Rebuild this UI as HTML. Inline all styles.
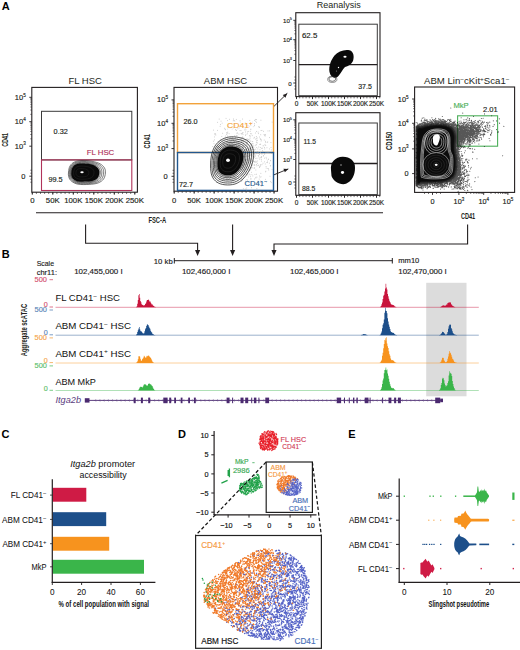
<!DOCTYPE html>
<html><head><meta charset="utf-8"><style>
html,body{margin:0;padding:0;background:#fff;}
svg{display:block;}
text{font-family:"Liberation Sans", sans-serif;}
</style></head><body>
<svg width="520" height="650" viewBox="0 0 520 650">
<rect width="520" height="650" fill="#fff"/>
<rect x="426.2" y="282.8" width="40.3" height="113.5" fill="#dcdcdc"/>
<text x="1.8" y="9.8" font-size="11" text-anchor="start" fill="#000" font-weight="bold" >A</text>
<text x="1.8" y="257.7" font-size="11" text-anchor="start" fill="#000" font-weight="bold" >B</text>
<text x="1.6" y="438" font-size="11" text-anchor="start" fill="#000" font-weight="bold" >C</text>
<text x="178" y="438" font-size="11" text-anchor="start" fill="#000" font-weight="bold" >D</text>
<text x="348.3" y="437.8" font-size="11" text-anchor="start" fill="#000" font-weight="bold" >E</text>
<text x="85.2" y="83.8" font-size="9.5" text-anchor="middle" fill="#231f20" >FL HSC</text>
<rect x="31.8" y="87.4" width="105.6" height="104.8" stroke="#231f20" stroke-width="1.1" fill="none" />
<text x="25.8" y="99.7" font-size="7.5" text-anchor="end" fill="#231f20" stroke="#231f20" stroke-width="0.15" >10<tspan font-size="4.65" dy="-3.15">5</tspan></text>
<line x1="29.3" y1="97.3" x2="31.8" y2="97.3" stroke="#231f20" stroke-width="0.9" />
<text x="25.8" y="124.1" font-size="7.5" text-anchor="end" fill="#231f20" stroke="#231f20" stroke-width="0.15" >10<tspan font-size="4.65" dy="-3.15">4</tspan></text>
<line x1="29.3" y1="121.7" x2="31.8" y2="121.7" stroke="#231f20" stroke-width="0.9" />
<text x="25.8" y="148.6" font-size="7.5" text-anchor="end" fill="#231f20" stroke="#231f20" stroke-width="0.15" >10<tspan font-size="4.65" dy="-3.15">3</tspan></text>
<line x1="29.3" y1="146.2" x2="31.8" y2="146.2" stroke="#231f20" stroke-width="0.9" />
<text x="25.5" y="179.2" font-size="7.5" text-anchor="end" fill="#231f20" stroke="#231f20" stroke-width="0.15" >0</text>
<line x1="29.3" y1="176.2" x2="31.8" y2="176.2" stroke="#231f20" stroke-width="0.9" />
<line x1="30.3" y1="114.35" x2="31.8" y2="114.35" stroke="#231f20" stroke-width="0.6" />
<line x1="30.3" y1="110.06" x2="31.8" y2="110.06" stroke="#231f20" stroke-width="0.6" />
<line x1="30.3" y1="107.01" x2="31.8" y2="107.01" stroke="#231f20" stroke-width="0.6" />
<line x1="30.3" y1="104.65" x2="31.8" y2="104.65" stroke="#231f20" stroke-width="0.6" />
<line x1="30.3" y1="102.71" x2="31.8" y2="102.71" stroke="#231f20" stroke-width="0.6" />
<line x1="30.3" y1="101.08" x2="31.8" y2="101.08" stroke="#231f20" stroke-width="0.6" />
<line x1="30.3" y1="99.66" x2="31.8" y2="99.66" stroke="#231f20" stroke-width="0.6" />
<line x1="30.3" y1="98.42" x2="31.8" y2="98.42" stroke="#231f20" stroke-width="0.6" />
<line x1="30.3" y1="138.82" x2="31.8" y2="138.82" stroke="#231f20" stroke-width="0.6" />
<line x1="30.3" y1="134.51" x2="31.8" y2="134.51" stroke="#231f20" stroke-width="0.6" />
<line x1="30.3" y1="131.45" x2="31.8" y2="131.45" stroke="#231f20" stroke-width="0.6" />
<line x1="30.3" y1="129.08" x2="31.8" y2="129.08" stroke="#231f20" stroke-width="0.6" />
<line x1="30.3" y1="127.14" x2="31.8" y2="127.14" stroke="#231f20" stroke-width="0.6" />
<line x1="30.3" y1="125.5" x2="31.8" y2="125.5" stroke="#231f20" stroke-width="0.6" />
<line x1="30.3" y1="124.07" x2="31.8" y2="124.07" stroke="#231f20" stroke-width="0.6" />
<line x1="30.3" y1="122.82" x2="31.8" y2="122.82" stroke="#231f20" stroke-width="0.6" />
<line x1="30.3" y1="170.2" x2="31.8" y2="170.2" stroke="#231f20" stroke-width="0.6" />
<line x1="30.3" y1="173.2" x2="31.8" y2="173.2" stroke="#231f20" stroke-width="0.6" />
<line x1="30.3" y1="179.2" x2="31.8" y2="179.2" stroke="#231f20" stroke-width="0.6" />
<line x1="30.3" y1="182.2" x2="31.8" y2="182.2" stroke="#231f20" stroke-width="0.6" />
<text x="32.3" y="203.3" font-size="7.8" text-anchor="middle" fill="#231f20" stroke="#231f20" stroke-width="0.15" >0</text>
<text x="52.8" y="203.3" font-size="7.8" text-anchor="middle" fill="#231f20" stroke="#231f20" stroke-width="0.15" >50K</text>
<text x="73.3" y="203.3" font-size="7.8" text-anchor="middle" fill="#231f20" stroke="#231f20" stroke-width="0.15" >100K</text>
<text x="93.8" y="203.3" font-size="7.8" text-anchor="middle" fill="#231f20" stroke="#231f20" stroke-width="0.15" >150K</text>
<text x="114.3" y="203.3" font-size="7.8" text-anchor="middle" fill="#231f20" stroke="#231f20" stroke-width="0.15" >200K</text>
<text x="134.8" y="203.3" font-size="7.8" text-anchor="middle" fill="#231f20" stroke="#231f20" stroke-width="0.15" >250K</text>
<line x1="32.3" y1="192.2" x2="32.3" y2="194" stroke="#231f20" stroke-width="0.6" />
<line x1="36.4" y1="192.2" x2="36.4" y2="194" stroke="#231f20" stroke-width="0.6" />
<line x1="40.5" y1="192.2" x2="40.5" y2="194" stroke="#231f20" stroke-width="0.6" />
<line x1="44.6" y1="192.2" x2="44.6" y2="194" stroke="#231f20" stroke-width="0.6" />
<line x1="48.7" y1="192.2" x2="48.7" y2="194" stroke="#231f20" stroke-width="0.6" />
<line x1="52.8" y1="192.2" x2="52.8" y2="194" stroke="#231f20" stroke-width="0.6" />
<line x1="56.9" y1="192.2" x2="56.9" y2="194" stroke="#231f20" stroke-width="0.6" />
<line x1="61" y1="192.2" x2="61" y2="194" stroke="#231f20" stroke-width="0.6" />
<line x1="65.1" y1="192.2" x2="65.1" y2="194" stroke="#231f20" stroke-width="0.6" />
<line x1="69.2" y1="192.2" x2="69.2" y2="194" stroke="#231f20" stroke-width="0.6" />
<line x1="73.3" y1="192.2" x2="73.3" y2="194" stroke="#231f20" stroke-width="0.6" />
<line x1="77.4" y1="192.2" x2="77.4" y2="194" stroke="#231f20" stroke-width="0.6" />
<line x1="81.5" y1="192.2" x2="81.5" y2="194" stroke="#231f20" stroke-width="0.6" />
<line x1="85.6" y1="192.2" x2="85.6" y2="194" stroke="#231f20" stroke-width="0.6" />
<line x1="89.7" y1="192.2" x2="89.7" y2="194" stroke="#231f20" stroke-width="0.6" />
<line x1="93.8" y1="192.2" x2="93.8" y2="194" stroke="#231f20" stroke-width="0.6" />
<line x1="97.9" y1="192.2" x2="97.9" y2="194" stroke="#231f20" stroke-width="0.6" />
<line x1="102" y1="192.2" x2="102" y2="194" stroke="#231f20" stroke-width="0.6" />
<line x1="106.1" y1="192.2" x2="106.1" y2="194" stroke="#231f20" stroke-width="0.6" />
<line x1="110.2" y1="192.2" x2="110.2" y2="194" stroke="#231f20" stroke-width="0.6" />
<line x1="114.3" y1="192.2" x2="114.3" y2="194" stroke="#231f20" stroke-width="0.6" />
<line x1="118.4" y1="192.2" x2="118.4" y2="194" stroke="#231f20" stroke-width="0.6" />
<line x1="122.5" y1="192.2" x2="122.5" y2="194" stroke="#231f20" stroke-width="0.6" />
<line x1="126.6" y1="192.2" x2="126.6" y2="194" stroke="#231f20" stroke-width="0.6" />
<line x1="130.7" y1="192.2" x2="130.7" y2="194" stroke="#231f20" stroke-width="0.6" />
<line x1="134.8" y1="192.2" x2="134.8" y2="194" stroke="#231f20" stroke-width="0.6" />
<line x1="32.3" y1="192.2" x2="32.3" y2="194.7" stroke="#231f20" stroke-width="0.9" />
<line x1="52.8" y1="192.2" x2="52.8" y2="194.7" stroke="#231f20" stroke-width="0.9" />
<line x1="73.3" y1="192.2" x2="73.3" y2="194.7" stroke="#231f20" stroke-width="0.9" />
<line x1="93.8" y1="192.2" x2="93.8" y2="194.7" stroke="#231f20" stroke-width="0.9" />
<line x1="114.3" y1="192.2" x2="114.3" y2="194.7" stroke="#231f20" stroke-width="0.9" />
<line x1="134.8" y1="192.2" x2="134.8" y2="194.7" stroke="#231f20" stroke-width="0.9" />
<rect x="41.5" y="111.3" width="90.3" height="48.6" stroke="#3a3a3a" stroke-width="1" fill="none" />
<rect x="41.5" y="159.9" width="90.3" height="30.6" stroke="#b0335a" stroke-width="1.1" fill="none" />
<text x="60.7" y="134.4" font-size="7.3" text-anchor="middle" fill="#231f20" stroke="#231f20" stroke-width="0.15" >0.32</text>
<text x="100.5" y="154.7" font-size="7.8" text-anchor="middle" fill="#b0335a" stroke="#b0335a" stroke-width="0.15" >FL HSC</text>
<text x="55.5" y="181.8" font-size="7.3" text-anchor="middle" fill="#231f20" stroke="#231f20" stroke-width="0.15" >99.5</text>
<text x="0" y="0" font-size="9" font-weight="bold" text-anchor="middle" fill="#231f20" textLength="13.5" lengthAdjust="spacingAndGlyphs" transform="translate(7.9,139.9) rotate(-90)">CD41</text>
<text x="0" y="0" font-size="9" font-weight="bold" text-anchor="middle" fill="#231f20" textLength="14.3" lengthAdjust="spacingAndGlyphs" transform="translate(150.2,141.3) rotate(-90)">CD41</text>
<text x="0" y="0" font-size="9" font-weight="bold" text-anchor="middle" fill="#231f20" textLength="18.3" lengthAdjust="spacingAndGlyphs" transform="translate(391.9,140.8) rotate(-90)">CD150</text>
<text x="225.5" y="84.3" font-size="9.5" text-anchor="middle" fill="#231f20" >ABM HSC</text>
<rect x="174" y="87.4" width="103.5" height="103.8" stroke="#231f20" stroke-width="1.1" fill="none" />
<text x="168" y="102.3" font-size="7.5" text-anchor="end" fill="#231f20" stroke="#231f20" stroke-width="0.15" >10<tspan font-size="4.65" dy="-3.15">5</tspan></text>
<line x1="171.5" y1="99.9" x2="174" y2="99.9" stroke="#231f20" stroke-width="0.9" />
<text x="168" y="125.7" font-size="7.5" text-anchor="end" fill="#231f20" stroke="#231f20" stroke-width="0.15" >10<tspan font-size="4.65" dy="-3.15">4</tspan></text>
<line x1="171.5" y1="123.3" x2="174" y2="123.3" stroke="#231f20" stroke-width="0.9" />
<text x="168" y="151" font-size="7.5" text-anchor="end" fill="#231f20" stroke="#231f20" stroke-width="0.15" >10<tspan font-size="4.65" dy="-3.15">3</tspan></text>
<line x1="171.5" y1="148.6" x2="174" y2="148.6" stroke="#231f20" stroke-width="0.9" />
<text x="167.7" y="179.3" font-size="7.5" text-anchor="end" fill="#231f20" stroke="#231f20" stroke-width="0.15" >0</text>
<line x1="171.5" y1="176.3" x2="174" y2="176.3" stroke="#231f20" stroke-width="0.9" />
<line x1="172.5" y1="116.26" x2="174" y2="116.26" stroke="#231f20" stroke-width="0.6" />
<line x1="172.5" y1="112.14" x2="174" y2="112.14" stroke="#231f20" stroke-width="0.6" />
<line x1="172.5" y1="109.21" x2="174" y2="109.21" stroke="#231f20" stroke-width="0.6" />
<line x1="172.5" y1="106.94" x2="174" y2="106.94" stroke="#231f20" stroke-width="0.6" />
<line x1="172.5" y1="105.09" x2="174" y2="105.09" stroke="#231f20" stroke-width="0.6" />
<line x1="172.5" y1="103.52" x2="174" y2="103.52" stroke="#231f20" stroke-width="0.6" />
<line x1="172.5" y1="102.17" x2="174" y2="102.17" stroke="#231f20" stroke-width="0.6" />
<line x1="172.5" y1="100.97" x2="174" y2="100.97" stroke="#231f20" stroke-width="0.6" />
<line x1="172.5" y1="140.98" x2="174" y2="140.98" stroke="#231f20" stroke-width="0.6" />
<line x1="172.5" y1="136.53" x2="174" y2="136.53" stroke="#231f20" stroke-width="0.6" />
<line x1="172.5" y1="133.37" x2="174" y2="133.37" stroke="#231f20" stroke-width="0.6" />
<line x1="172.5" y1="130.92" x2="174" y2="130.92" stroke="#231f20" stroke-width="0.6" />
<line x1="172.5" y1="128.91" x2="174" y2="128.91" stroke="#231f20" stroke-width="0.6" />
<line x1="172.5" y1="127.22" x2="174" y2="127.22" stroke="#231f20" stroke-width="0.6" />
<line x1="172.5" y1="125.75" x2="174" y2="125.75" stroke="#231f20" stroke-width="0.6" />
<line x1="172.5" y1="124.46" x2="174" y2="124.46" stroke="#231f20" stroke-width="0.6" />
<line x1="172.5" y1="170.3" x2="174" y2="170.3" stroke="#231f20" stroke-width="0.6" />
<line x1="172.5" y1="173.3" x2="174" y2="173.3" stroke="#231f20" stroke-width="0.6" />
<line x1="172.5" y1="179.3" x2="174" y2="179.3" stroke="#231f20" stroke-width="0.6" />
<line x1="172.5" y1="182.3" x2="174" y2="182.3" stroke="#231f20" stroke-width="0.6" />
<text x="174.2" y="202.5" font-size="7.7" text-anchor="middle" fill="#231f20" stroke="#231f20" stroke-width="0.15" >0</text>
<text x="194.17" y="202.5" font-size="7.7" text-anchor="middle" fill="#231f20" stroke="#231f20" stroke-width="0.15" >50K</text>
<text x="214.14" y="202.5" font-size="7.7" text-anchor="middle" fill="#231f20" stroke="#231f20" stroke-width="0.15" >100K</text>
<text x="234.11" y="202.5" font-size="7.7" text-anchor="middle" fill="#231f20" stroke="#231f20" stroke-width="0.15" >150K</text>
<text x="254.08" y="202.5" font-size="7.7" text-anchor="middle" fill="#231f20" stroke="#231f20" stroke-width="0.15" >200K</text>
<text x="274.05" y="202.5" font-size="7.7" text-anchor="middle" fill="#231f20" stroke="#231f20" stroke-width="0.15" >250K</text>
<line x1="174.2" y1="191.2" x2="174.2" y2="193" stroke="#231f20" stroke-width="0.6" />
<line x1="178.19" y1="191.2" x2="178.19" y2="193" stroke="#231f20" stroke-width="0.6" />
<line x1="182.19" y1="191.2" x2="182.19" y2="193" stroke="#231f20" stroke-width="0.6" />
<line x1="186.18" y1="191.2" x2="186.18" y2="193" stroke="#231f20" stroke-width="0.6" />
<line x1="190.18" y1="191.2" x2="190.18" y2="193" stroke="#231f20" stroke-width="0.6" />
<line x1="194.17" y1="191.2" x2="194.17" y2="193" stroke="#231f20" stroke-width="0.6" />
<line x1="198.16" y1="191.2" x2="198.16" y2="193" stroke="#231f20" stroke-width="0.6" />
<line x1="202.16" y1="191.2" x2="202.16" y2="193" stroke="#231f20" stroke-width="0.6" />
<line x1="206.15" y1="191.2" x2="206.15" y2="193" stroke="#231f20" stroke-width="0.6" />
<line x1="210.15" y1="191.2" x2="210.15" y2="193" stroke="#231f20" stroke-width="0.6" />
<line x1="214.14" y1="191.2" x2="214.14" y2="193" stroke="#231f20" stroke-width="0.6" />
<line x1="218.13" y1="191.2" x2="218.13" y2="193" stroke="#231f20" stroke-width="0.6" />
<line x1="222.13" y1="191.2" x2="222.13" y2="193" stroke="#231f20" stroke-width="0.6" />
<line x1="226.12" y1="191.2" x2="226.12" y2="193" stroke="#231f20" stroke-width="0.6" />
<line x1="230.12" y1="191.2" x2="230.12" y2="193" stroke="#231f20" stroke-width="0.6" />
<line x1="234.11" y1="191.2" x2="234.11" y2="193" stroke="#231f20" stroke-width="0.6" />
<line x1="238.1" y1="191.2" x2="238.1" y2="193" stroke="#231f20" stroke-width="0.6" />
<line x1="242.1" y1="191.2" x2="242.1" y2="193" stroke="#231f20" stroke-width="0.6" />
<line x1="246.09" y1="191.2" x2="246.09" y2="193" stroke="#231f20" stroke-width="0.6" />
<line x1="250.09" y1="191.2" x2="250.09" y2="193" stroke="#231f20" stroke-width="0.6" />
<line x1="254.08" y1="191.2" x2="254.08" y2="193" stroke="#231f20" stroke-width="0.6" />
<line x1="258.07" y1="191.2" x2="258.07" y2="193" stroke="#231f20" stroke-width="0.6" />
<line x1="262.07" y1="191.2" x2="262.07" y2="193" stroke="#231f20" stroke-width="0.6" />
<line x1="266.06" y1="191.2" x2="266.06" y2="193" stroke="#231f20" stroke-width="0.6" />
<line x1="270.06" y1="191.2" x2="270.06" y2="193" stroke="#231f20" stroke-width="0.6" />
<line x1="274.05" y1="191.2" x2="274.05" y2="193" stroke="#231f20" stroke-width="0.6" />
<line x1="174.2" y1="191.2" x2="174.2" y2="193.7" stroke="#231f20" stroke-width="0.9" />
<line x1="194.17" y1="191.2" x2="194.17" y2="193.7" stroke="#231f20" stroke-width="0.9" />
<line x1="214.14" y1="191.2" x2="214.14" y2="193.7" stroke="#231f20" stroke-width="0.9" />
<line x1="234.11" y1="191.2" x2="234.11" y2="193.7" stroke="#231f20" stroke-width="0.9" />
<line x1="254.08" y1="191.2" x2="254.08" y2="193.7" stroke="#231f20" stroke-width="0.9" />
<line x1="274.05" y1="191.2" x2="274.05" y2="193.7" stroke="#231f20" stroke-width="0.9" />
<text x="338.7" y="8.4" font-size="9" text-anchor="middle" fill="#231f20" >Reanalysis</text>
<rect x="295.8" y="12.7" width="84.2" height="83.9" stroke="#231f20" stroke-width="1.1" fill="none" />
<text x="292" y="22.7" font-size="6.2" text-anchor="end" fill="#231f20" stroke="#231f20" stroke-width="0.15" >10<tspan font-size="3.84" dy="-2.60">5</tspan></text>
<line x1="293.3" y1="20.3" x2="295.8" y2="20.3" stroke="#231f20" stroke-width="0.9" />
<text x="292" y="42.1" font-size="6.2" text-anchor="end" fill="#231f20" stroke="#231f20" stroke-width="0.15" >10<tspan font-size="3.84" dy="-2.60">4</tspan></text>
<line x1="293.3" y1="39.7" x2="295.8" y2="39.7" stroke="#231f20" stroke-width="0.9" />
<text x="292" y="62.9" font-size="6.2" text-anchor="end" fill="#231f20" stroke="#231f20" stroke-width="0.15" >10<tspan font-size="3.84" dy="-2.60">3</tspan></text>
<line x1="293.3" y1="60.5" x2="295.8" y2="60.5" stroke="#231f20" stroke-width="0.9" />
<text x="291.7" y="86" font-size="6.2" text-anchor="end" fill="#231f20" stroke="#231f20" stroke-width="0.15" >0</text>
<line x1="293.3" y1="83" x2="295.8" y2="83" stroke="#231f20" stroke-width="0.9" />
<line x1="294.3" y1="33.86" x2="295.8" y2="33.86" stroke="#231f20" stroke-width="0.6" />
<line x1="294.3" y1="30.44" x2="295.8" y2="30.44" stroke="#231f20" stroke-width="0.6" />
<line x1="294.3" y1="28.02" x2="295.8" y2="28.02" stroke="#231f20" stroke-width="0.6" />
<line x1="294.3" y1="26.14" x2="295.8" y2="26.14" stroke="#231f20" stroke-width="0.6" />
<line x1="294.3" y1="24.6" x2="295.8" y2="24.6" stroke="#231f20" stroke-width="0.6" />
<line x1="294.3" y1="23.31" x2="295.8" y2="23.31" stroke="#231f20" stroke-width="0.6" />
<line x1="294.3" y1="22.18" x2="295.8" y2="22.18" stroke="#231f20" stroke-width="0.6" />
<line x1="294.3" y1="21.19" x2="295.8" y2="21.19" stroke="#231f20" stroke-width="0.6" />
<line x1="294.3" y1="54.24" x2="295.8" y2="54.24" stroke="#231f20" stroke-width="0.6" />
<line x1="294.3" y1="50.58" x2="295.8" y2="50.58" stroke="#231f20" stroke-width="0.6" />
<line x1="294.3" y1="47.98" x2="295.8" y2="47.98" stroke="#231f20" stroke-width="0.6" />
<line x1="294.3" y1="45.96" x2="295.8" y2="45.96" stroke="#231f20" stroke-width="0.6" />
<line x1="294.3" y1="44.31" x2="295.8" y2="44.31" stroke="#231f20" stroke-width="0.6" />
<line x1="294.3" y1="42.92" x2="295.8" y2="42.92" stroke="#231f20" stroke-width="0.6" />
<line x1="294.3" y1="41.72" x2="295.8" y2="41.72" stroke="#231f20" stroke-width="0.6" />
<line x1="294.3" y1="40.65" x2="295.8" y2="40.65" stroke="#231f20" stroke-width="0.6" />
<line x1="294.3" y1="77" x2="295.8" y2="77" stroke="#231f20" stroke-width="0.6" />
<line x1="294.3" y1="80" x2="295.8" y2="80" stroke="#231f20" stroke-width="0.6" />
<line x1="294.3" y1="86" x2="295.8" y2="86" stroke="#231f20" stroke-width="0.6" />
<line x1="294.3" y1="89" x2="295.8" y2="89" stroke="#231f20" stroke-width="0.6" />
<text x="296.5" y="106.4" font-size="6.5" text-anchor="middle" fill="#231f20" stroke="#231f20" stroke-width="0.15" >0</text>
<text x="312.5" y="106.4" font-size="6.5" text-anchor="middle" fill="#231f20" stroke="#231f20" stroke-width="0.15" >50K</text>
<text x="328.5" y="106.4" font-size="6.5" text-anchor="middle" fill="#231f20" stroke="#231f20" stroke-width="0.15" >100K</text>
<text x="344.5" y="106.4" font-size="6.5" text-anchor="middle" fill="#231f20" stroke="#231f20" stroke-width="0.15" >150K</text>
<text x="360.5" y="106.4" font-size="6.5" text-anchor="middle" fill="#231f20" stroke="#231f20" stroke-width="0.15" >200K</text>
<text x="376.5" y="106.4" font-size="6.5" text-anchor="middle" fill="#231f20" stroke="#231f20" stroke-width="0.15" >250K</text>
<line x1="296.5" y1="96.6" x2="296.5" y2="98.4" stroke="#231f20" stroke-width="0.6" />
<line x1="299.7" y1="96.6" x2="299.7" y2="98.4" stroke="#231f20" stroke-width="0.6" />
<line x1="302.9" y1="96.6" x2="302.9" y2="98.4" stroke="#231f20" stroke-width="0.6" />
<line x1="306.1" y1="96.6" x2="306.1" y2="98.4" stroke="#231f20" stroke-width="0.6" />
<line x1="309.3" y1="96.6" x2="309.3" y2="98.4" stroke="#231f20" stroke-width="0.6" />
<line x1="312.5" y1="96.6" x2="312.5" y2="98.4" stroke="#231f20" stroke-width="0.6" />
<line x1="315.7" y1="96.6" x2="315.7" y2="98.4" stroke="#231f20" stroke-width="0.6" />
<line x1="318.9" y1="96.6" x2="318.9" y2="98.4" stroke="#231f20" stroke-width="0.6" />
<line x1="322.1" y1="96.6" x2="322.1" y2="98.4" stroke="#231f20" stroke-width="0.6" />
<line x1="325.3" y1="96.6" x2="325.3" y2="98.4" stroke="#231f20" stroke-width="0.6" />
<line x1="328.5" y1="96.6" x2="328.5" y2="98.4" stroke="#231f20" stroke-width="0.6" />
<line x1="331.7" y1="96.6" x2="331.7" y2="98.4" stroke="#231f20" stroke-width="0.6" />
<line x1="334.9" y1="96.6" x2="334.9" y2="98.4" stroke="#231f20" stroke-width="0.6" />
<line x1="338.1" y1="96.6" x2="338.1" y2="98.4" stroke="#231f20" stroke-width="0.6" />
<line x1="341.3" y1="96.6" x2="341.3" y2="98.4" stroke="#231f20" stroke-width="0.6" />
<line x1="344.5" y1="96.6" x2="344.5" y2="98.4" stroke="#231f20" stroke-width="0.6" />
<line x1="347.7" y1="96.6" x2="347.7" y2="98.4" stroke="#231f20" stroke-width="0.6" />
<line x1="350.9" y1="96.6" x2="350.9" y2="98.4" stroke="#231f20" stroke-width="0.6" />
<line x1="354.1" y1="96.6" x2="354.1" y2="98.4" stroke="#231f20" stroke-width="0.6" />
<line x1="357.3" y1="96.6" x2="357.3" y2="98.4" stroke="#231f20" stroke-width="0.6" />
<line x1="360.5" y1="96.6" x2="360.5" y2="98.4" stroke="#231f20" stroke-width="0.6" />
<line x1="363.7" y1="96.6" x2="363.7" y2="98.4" stroke="#231f20" stroke-width="0.6" />
<line x1="366.9" y1="96.6" x2="366.9" y2="98.4" stroke="#231f20" stroke-width="0.6" />
<line x1="370.1" y1="96.6" x2="370.1" y2="98.4" stroke="#231f20" stroke-width="0.6" />
<line x1="373.3" y1="96.6" x2="373.3" y2="98.4" stroke="#231f20" stroke-width="0.6" />
<line x1="376.5" y1="96.6" x2="376.5" y2="98.4" stroke="#231f20" stroke-width="0.6" />
<line x1="379.7" y1="96.6" x2="379.7" y2="98.4" stroke="#231f20" stroke-width="0.6" />
<line x1="296.5" y1="96.6" x2="296.5" y2="99.1" stroke="#231f20" stroke-width="0.9" />
<line x1="312.5" y1="96.6" x2="312.5" y2="99.1" stroke="#231f20" stroke-width="0.9" />
<line x1="328.5" y1="96.6" x2="328.5" y2="99.1" stroke="#231f20" stroke-width="0.9" />
<line x1="344.5" y1="96.6" x2="344.5" y2="99.1" stroke="#231f20" stroke-width="0.9" />
<line x1="360.5" y1="96.6" x2="360.5" y2="99.1" stroke="#231f20" stroke-width="0.9" />
<line x1="376.5" y1="96.6" x2="376.5" y2="99.1" stroke="#231f20" stroke-width="0.9" />
<rect x="295.8" y="112.7" width="84.2" height="82.6" stroke="#231f20" stroke-width="1.1" fill="none" />
<text x="292" y="122.2" font-size="6.2" text-anchor="end" fill="#231f20" stroke="#231f20" stroke-width="0.15" >10<tspan font-size="3.84" dy="-2.60">5</tspan></text>
<line x1="293.3" y1="119.8" x2="295.8" y2="119.8" stroke="#231f20" stroke-width="0.9" />
<text x="292" y="141.6" font-size="6.2" text-anchor="end" fill="#231f20" stroke="#231f20" stroke-width="0.15" >10<tspan font-size="3.84" dy="-2.60">4</tspan></text>
<line x1="293.3" y1="139.2" x2="295.8" y2="139.2" stroke="#231f20" stroke-width="0.9" />
<text x="292" y="161.9" font-size="6.2" text-anchor="end" fill="#231f20" stroke="#231f20" stroke-width="0.15" >10<tspan font-size="3.84" dy="-2.60">3</tspan></text>
<line x1="293.3" y1="159.5" x2="295.8" y2="159.5" stroke="#231f20" stroke-width="0.9" />
<text x="291.7" y="185" font-size="6.2" text-anchor="end" fill="#231f20" stroke="#231f20" stroke-width="0.15" >0</text>
<line x1="293.3" y1="182" x2="295.8" y2="182" stroke="#231f20" stroke-width="0.9" />
<line x1="294.3" y1="133.36" x2="295.8" y2="133.36" stroke="#231f20" stroke-width="0.6" />
<line x1="294.3" y1="129.94" x2="295.8" y2="129.94" stroke="#231f20" stroke-width="0.6" />
<line x1="294.3" y1="127.52" x2="295.8" y2="127.52" stroke="#231f20" stroke-width="0.6" />
<line x1="294.3" y1="125.64" x2="295.8" y2="125.64" stroke="#231f20" stroke-width="0.6" />
<line x1="294.3" y1="124.1" x2="295.8" y2="124.1" stroke="#231f20" stroke-width="0.6" />
<line x1="294.3" y1="122.81" x2="295.8" y2="122.81" stroke="#231f20" stroke-width="0.6" />
<line x1="294.3" y1="121.68" x2="295.8" y2="121.68" stroke="#231f20" stroke-width="0.6" />
<line x1="294.3" y1="120.69" x2="295.8" y2="120.69" stroke="#231f20" stroke-width="0.6" />
<line x1="294.3" y1="153.39" x2="295.8" y2="153.39" stroke="#231f20" stroke-width="0.6" />
<line x1="294.3" y1="149.81" x2="295.8" y2="149.81" stroke="#231f20" stroke-width="0.6" />
<line x1="294.3" y1="147.28" x2="295.8" y2="147.28" stroke="#231f20" stroke-width="0.6" />
<line x1="294.3" y1="145.31" x2="295.8" y2="145.31" stroke="#231f20" stroke-width="0.6" />
<line x1="294.3" y1="143.7" x2="295.8" y2="143.7" stroke="#231f20" stroke-width="0.6" />
<line x1="294.3" y1="142.34" x2="295.8" y2="142.34" stroke="#231f20" stroke-width="0.6" />
<line x1="294.3" y1="141.17" x2="295.8" y2="141.17" stroke="#231f20" stroke-width="0.6" />
<line x1="294.3" y1="140.13" x2="295.8" y2="140.13" stroke="#231f20" stroke-width="0.6" />
<line x1="294.3" y1="176" x2="295.8" y2="176" stroke="#231f20" stroke-width="0.6" />
<line x1="294.3" y1="179" x2="295.8" y2="179" stroke="#231f20" stroke-width="0.6" />
<line x1="294.3" y1="185" x2="295.8" y2="185" stroke="#231f20" stroke-width="0.6" />
<line x1="294.3" y1="188" x2="295.8" y2="188" stroke="#231f20" stroke-width="0.6" />
<text x="296.5" y="205.1" font-size="6.5" text-anchor="middle" fill="#231f20" stroke="#231f20" stroke-width="0.15" >0</text>
<text x="312.5" y="205.1" font-size="6.5" text-anchor="middle" fill="#231f20" stroke="#231f20" stroke-width="0.15" >50K</text>
<text x="328.5" y="205.1" font-size="6.5" text-anchor="middle" fill="#231f20" stroke="#231f20" stroke-width="0.15" >100K</text>
<text x="344.5" y="205.1" font-size="6.5" text-anchor="middle" fill="#231f20" stroke="#231f20" stroke-width="0.15" >150K</text>
<text x="360.5" y="205.1" font-size="6.5" text-anchor="middle" fill="#231f20" stroke="#231f20" stroke-width="0.15" >200K</text>
<text x="376.5" y="205.1" font-size="6.5" text-anchor="middle" fill="#231f20" stroke="#231f20" stroke-width="0.15" >250K</text>
<line x1="296.5" y1="195.3" x2="296.5" y2="197.1" stroke="#231f20" stroke-width="0.6" />
<line x1="299.7" y1="195.3" x2="299.7" y2="197.1" stroke="#231f20" stroke-width="0.6" />
<line x1="302.9" y1="195.3" x2="302.9" y2="197.1" stroke="#231f20" stroke-width="0.6" />
<line x1="306.1" y1="195.3" x2="306.1" y2="197.1" stroke="#231f20" stroke-width="0.6" />
<line x1="309.3" y1="195.3" x2="309.3" y2="197.1" stroke="#231f20" stroke-width="0.6" />
<line x1="312.5" y1="195.3" x2="312.5" y2="197.1" stroke="#231f20" stroke-width="0.6" />
<line x1="315.7" y1="195.3" x2="315.7" y2="197.1" stroke="#231f20" stroke-width="0.6" />
<line x1="318.9" y1="195.3" x2="318.9" y2="197.1" stroke="#231f20" stroke-width="0.6" />
<line x1="322.1" y1="195.3" x2="322.1" y2="197.1" stroke="#231f20" stroke-width="0.6" />
<line x1="325.3" y1="195.3" x2="325.3" y2="197.1" stroke="#231f20" stroke-width="0.6" />
<line x1="328.5" y1="195.3" x2="328.5" y2="197.1" stroke="#231f20" stroke-width="0.6" />
<line x1="331.7" y1="195.3" x2="331.7" y2="197.1" stroke="#231f20" stroke-width="0.6" />
<line x1="334.9" y1="195.3" x2="334.9" y2="197.1" stroke="#231f20" stroke-width="0.6" />
<line x1="338.1" y1="195.3" x2="338.1" y2="197.1" stroke="#231f20" stroke-width="0.6" />
<line x1="341.3" y1="195.3" x2="341.3" y2="197.1" stroke="#231f20" stroke-width="0.6" />
<line x1="344.5" y1="195.3" x2="344.5" y2="197.1" stroke="#231f20" stroke-width="0.6" />
<line x1="347.7" y1="195.3" x2="347.7" y2="197.1" stroke="#231f20" stroke-width="0.6" />
<line x1="350.9" y1="195.3" x2="350.9" y2="197.1" stroke="#231f20" stroke-width="0.6" />
<line x1="354.1" y1="195.3" x2="354.1" y2="197.1" stroke="#231f20" stroke-width="0.6" />
<line x1="357.3" y1="195.3" x2="357.3" y2="197.1" stroke="#231f20" stroke-width="0.6" />
<line x1="360.5" y1="195.3" x2="360.5" y2="197.1" stroke="#231f20" stroke-width="0.6" />
<line x1="363.7" y1="195.3" x2="363.7" y2="197.1" stroke="#231f20" stroke-width="0.6" />
<line x1="366.9" y1="195.3" x2="366.9" y2="197.1" stroke="#231f20" stroke-width="0.6" />
<line x1="370.1" y1="195.3" x2="370.1" y2="197.1" stroke="#231f20" stroke-width="0.6" />
<line x1="373.3" y1="195.3" x2="373.3" y2="197.1" stroke="#231f20" stroke-width="0.6" />
<line x1="376.5" y1="195.3" x2="376.5" y2="197.1" stroke="#231f20" stroke-width="0.6" />
<line x1="379.7" y1="195.3" x2="379.7" y2="197.1" stroke="#231f20" stroke-width="0.6" />
<line x1="296.5" y1="195.3" x2="296.5" y2="197.8" stroke="#231f20" stroke-width="0.9" />
<line x1="312.5" y1="195.3" x2="312.5" y2="197.8" stroke="#231f20" stroke-width="0.9" />
<line x1="328.5" y1="195.3" x2="328.5" y2="197.8" stroke="#231f20" stroke-width="0.9" />
<line x1="344.5" y1="195.3" x2="344.5" y2="197.8" stroke="#231f20" stroke-width="0.9" />
<line x1="360.5" y1="195.3" x2="360.5" y2="197.8" stroke="#231f20" stroke-width="0.9" />
<line x1="376.5" y1="195.3" x2="376.5" y2="197.8" stroke="#231f20" stroke-width="0.9" />
<text x="424" y="83.8" font-size="9" text-anchor="start" fill="#231f20" textLength="85.5" lengthAdjust="spacingAndGlyphs" >ABM Lin<tspan font-size="6" dy="-3.2">−</tspan><tspan dy="3.2">cKit</tspan><tspan font-size="6" dy="-3.2">+</tspan><tspan dy="3.2">Sca1</tspan><tspan font-size="6" dy="-3.2">−</tspan></text>
<rect x="414.6" y="87" width="100" height="105.4" stroke="#231f20" stroke-width="1.1" fill="none" />
<text x="408.5" y="101.6" font-size="7.3" text-anchor="end" fill="#231f20" stroke="#231f20" stroke-width="0.15" >10<tspan font-size="4.53" dy="-3.07">5</tspan></text>
<line x1="412.1" y1="99" x2="414.6" y2="99" stroke="#231f20" stroke-width="0.9" />
<text x="408.5" y="125.9" font-size="7.3" text-anchor="end" fill="#231f20" stroke="#231f20" stroke-width="0.15" >10<tspan font-size="4.53" dy="-3.07">4</tspan></text>
<line x1="412.1" y1="123.3" x2="414.6" y2="123.3" stroke="#231f20" stroke-width="0.9" />
<text x="408.5" y="151.5" font-size="7.3" text-anchor="end" fill="#231f20" stroke="#231f20" stroke-width="0.15" >10<tspan font-size="4.53" dy="-3.07">3</tspan></text>
<line x1="412.1" y1="148.9" x2="414.6" y2="148.9" stroke="#231f20" stroke-width="0.9" />
<text x="408.5" y="176.2" font-size="7.3" text-anchor="end" fill="#231f20" stroke="#231f20" stroke-width="0.15" >0</text>
<line x1="412.1" y1="173.6" x2="414.6" y2="173.6" stroke="#231f20" stroke-width="0.9" />
<line x1="413.1" y1="115.98" x2="414.6" y2="115.98" stroke="#231f20" stroke-width="0.6" />
<line x1="413.1" y1="111.71" x2="414.6" y2="111.71" stroke="#231f20" stroke-width="0.6" />
<line x1="413.1" y1="108.67" x2="414.6" y2="108.67" stroke="#231f20" stroke-width="0.6" />
<line x1="413.1" y1="106.32" x2="414.6" y2="106.32" stroke="#231f20" stroke-width="0.6" />
<line x1="413.1" y1="104.39" x2="414.6" y2="104.39" stroke="#231f20" stroke-width="0.6" />
<line x1="413.1" y1="102.76" x2="414.6" y2="102.76" stroke="#231f20" stroke-width="0.6" />
<line x1="413.1" y1="101.35" x2="414.6" y2="101.35" stroke="#231f20" stroke-width="0.6" />
<line x1="413.1" y1="100.11" x2="414.6" y2="100.11" stroke="#231f20" stroke-width="0.6" />
<line x1="413.1" y1="141.19" x2="414.6" y2="141.19" stroke="#231f20" stroke-width="0.6" />
<line x1="413.1" y1="136.69" x2="414.6" y2="136.69" stroke="#231f20" stroke-width="0.6" />
<line x1="413.1" y1="133.49" x2="414.6" y2="133.49" stroke="#231f20" stroke-width="0.6" />
<line x1="413.1" y1="131.01" x2="414.6" y2="131.01" stroke="#231f20" stroke-width="0.6" />
<line x1="413.1" y1="128.98" x2="414.6" y2="128.98" stroke="#231f20" stroke-width="0.6" />
<line x1="413.1" y1="127.27" x2="414.6" y2="127.27" stroke="#231f20" stroke-width="0.6" />
<line x1="413.1" y1="125.78" x2="414.6" y2="125.78" stroke="#231f20" stroke-width="0.6" />
<line x1="413.1" y1="124.47" x2="414.6" y2="124.47" stroke="#231f20" stroke-width="0.6" />
<text x="432.5" y="204" font-size="7.3" text-anchor="middle" fill="#231f20" stroke="#231f20" stroke-width="0.15" >0</text>
<line x1="432.5" y1="192.4" x2="432.5" y2="194.9" stroke="#231f20" stroke-width="0.9" />
<text x="458.9" y="204" font-size="7.3" text-anchor="middle" fill="#231f20" stroke="#231f20" stroke-width="0.15" >10<tspan font-size="4.53" dy="-3.07">3</tspan></text>
<line x1="458.9" y1="192.4" x2="458.9" y2="194.9" stroke="#231f20" stroke-width="0.9" />
<text x="483.7" y="204" font-size="7.3" text-anchor="middle" fill="#231f20" stroke="#231f20" stroke-width="0.15" >10<tspan font-size="4.53" dy="-3.07">4</tspan></text>
<line x1="483.7" y1="192.4" x2="483.7" y2="194.9" stroke="#231f20" stroke-width="0.9" />
<text x="507.9" y="204" font-size="7.3" text-anchor="middle" fill="#231f20" stroke="#231f20" stroke-width="0.15" >10<tspan font-size="4.53" dy="-3.07">5</tspan></text>
<line x1="507.9" y1="192.4" x2="507.9" y2="194.9" stroke="#231f20" stroke-width="0.9" />
<line x1="466.37" y1="192.4" x2="466.37" y2="194" stroke="#231f20" stroke-width="0.6" />
<line x1="470.73" y1="192.4" x2="470.73" y2="194" stroke="#231f20" stroke-width="0.6" />
<line x1="473.83" y1="192.4" x2="473.83" y2="194" stroke="#231f20" stroke-width="0.6" />
<line x1="476.23" y1="192.4" x2="476.23" y2="194" stroke="#231f20" stroke-width="0.6" />
<line x1="478.2" y1="192.4" x2="478.2" y2="194" stroke="#231f20" stroke-width="0.6" />
<line x1="479.86" y1="192.4" x2="479.86" y2="194" stroke="#231f20" stroke-width="0.6" />
<line x1="481.3" y1="192.4" x2="481.3" y2="194" stroke="#231f20" stroke-width="0.6" />
<line x1="482.57" y1="192.4" x2="482.57" y2="194" stroke="#231f20" stroke-width="0.6" />
<line x1="490.98" y1="192.4" x2="490.98" y2="194" stroke="#231f20" stroke-width="0.6" />
<line x1="495.25" y1="192.4" x2="495.25" y2="194" stroke="#231f20" stroke-width="0.6" />
<line x1="498.27" y1="192.4" x2="498.27" y2="194" stroke="#231f20" stroke-width="0.6" />
<line x1="500.62" y1="192.4" x2="500.62" y2="194" stroke="#231f20" stroke-width="0.6" />
<line x1="502.53" y1="192.4" x2="502.53" y2="194" stroke="#231f20" stroke-width="0.6" />
<line x1="504.15" y1="192.4" x2="504.15" y2="194" stroke="#231f20" stroke-width="0.6" />
<line x1="505.55" y1="192.4" x2="505.55" y2="194" stroke="#231f20" stroke-width="0.6" />
<line x1="506.79" y1="192.4" x2="506.79" y2="194" stroke="#231f20" stroke-width="0.6" />
<line x1="424.5" y1="192.4" x2="424.5" y2="194" stroke="#231f20" stroke-width="0.6" />
<line x1="428.5" y1="192.4" x2="428.5" y2="194" stroke="#231f20" stroke-width="0.6" />
<line x1="436.5" y1="192.4" x2="436.5" y2="194" stroke="#231f20" stroke-width="0.6" />
<line x1="440.5" y1="192.4" x2="440.5" y2="194" stroke="#231f20" stroke-width="0.6" />
<text x="0" y="0"></text>
<text x="461" y="218.6" font-size="8.8" text-anchor="start" fill="#231f20" font-weight="bold" textLength="14.2" lengthAdjust="spacingAndGlyphs" >CD41</text>
<line x1="36" y1="212.8" x2="383" y2="212.8" stroke="#231f20" stroke-width="1.1" />
<text x="148.4" y="222.7" font-size="8.8" text-anchor="start" fill="#231f20" font-weight="bold" textLength="17.8" lengthAdjust="spacingAndGlyphs" >FSC-A</text>
<path d="M85.6,224.5 V243.3 H197.6 V250" fill="none" stroke="#231f20" stroke-width="1.1"/>
<path d="M195.04,249.92 L200.16,249.92 L197.6,256 Z" fill="#231f20"/>
<line x1="232.6" y1="224.5" x2="232.6" y2="250" stroke="#231f20" stroke-width="1.1" />
<path d="M230.04,249.92 L235.16,249.92 L232.6,256 Z" fill="#231f20"/>
<path d="M467.6,224.5 V244 H274 V250" fill="none" stroke="#231f20" stroke-width="1.1"/>
<path d="M271.44,249.92 L276.56,249.92 L274,256 Z" fill="#231f20"/>
<line x1="273.5" y1="106.8" x2="287.3" y2="93.3" stroke="#231f20" stroke-width="0.9" />
<path d="M287.3,93.3 L285.41,97.81 L282.75,95.09 Z" fill="#231f20"/>
<line x1="273.5" y1="175" x2="288.3" y2="168.9" stroke="#231f20" stroke-width="0.9" />
<path d="M288.3,168.9 L284.86,172.37 L283.42,168.86 Z" fill="#231f20"/>
<rect x="177.5" y="103.7" width="96" height="48.8" stroke="#f2a23a" stroke-width="1.4" fill="none" />
<rect x="177.5" y="152.5" width="96" height="37.9" stroke="#22588f" stroke-width="1.4" fill="none" />
<text x="190.5" y="123.6" font-size="7.3" text-anchor="middle" fill="#231f20" stroke="#231f20" stroke-width="0.15" >26.0</text>
<text x="186" y="186.6" font-size="7.3" text-anchor="middle" fill="#231f20" stroke="#231f20" stroke-width="0.15" >72.7</text>
<rect x="298.8" y="24.2" width="78.5" height="71.5" stroke="#3a3a3a" stroke-width="1" fill="none" />
<line x1="298.8" y1="64.6" x2="377.3" y2="64.6" stroke="#231f20" stroke-width="1.4" />
<text x="309.6" y="38.3" font-size="7.1" text-anchor="middle" fill="#231f20" textLength="15.4" lengthAdjust="spacingAndGlyphs" stroke="#231f20" stroke-width="0.15" >62.5</text>
<text x="365" y="89" font-size="7.1" text-anchor="middle" fill="#231f20" textLength="13.6" lengthAdjust="spacingAndGlyphs" stroke="#231f20" stroke-width="0.15" >37.5</text>
<rect x="298.8" y="123" width="78.5" height="71.6" stroke="#3a3a3a" stroke-width="1" fill="none" />
<line x1="298.8" y1="163.5" x2="377.3" y2="163.5" stroke="#231f20" stroke-width="1.4" />
<text x="309.8" y="143.5" font-size="7.1" text-anchor="middle" fill="#231f20" textLength="12.6" lengthAdjust="spacingAndGlyphs" stroke="#231f20" stroke-width="0.15" >11.5</text>
<text x="308.6" y="190.8" font-size="7.1" text-anchor="middle" fill="#231f20" textLength="13.4" lengthAdjust="spacingAndGlyphs" stroke="#231f20" stroke-width="0.15" >88.5</text>
<rect x="457.6" y="115.8" width="40" height="30.4" stroke="#4caf5a" stroke-width="1.1" fill="none" />
<text x="461" y="108.4" font-size="7.6" text-anchor="middle" fill="#4caf5a" stroke="#4caf5a" stroke-width="0.15" >MkP</text>
<text x="490.3" y="112.4" font-size="7.6" text-anchor="middle" fill="#231f20" stroke="#231f20" stroke-width="0.15" >2.01</text>
<path d="M68.5,172 C68.7,170.17 69,167.67 70,166 C71,164.33 72.5,162.9 74.5,162 C76.5,161.1 79.08,160.72 82,160.6 C84.92,160.48 89,160.77 92,161.3 C95,161.83 97.92,162.68 100,163.8 C102.08,164.92 103.6,166.47 104.5,168 C105.4,169.53 105.55,171.17 105.4,173 C105.25,174.83 104.83,177.33 103.6,179 C102.37,180.67 100.43,182.1 98,183 C95.57,183.9 92.33,184.2 89,184.4 C85.67,184.6 80.92,184.73 78,184.2 C75.08,183.67 73.03,182.4 71.5,181.2 C69.97,180 69.3,178.53 68.8,177 C68.3,175.47 68.3,173.83 68.5,172 Z" stroke="#111" stroke-width="0.55" fill="none"/>
<path d="M69.31,172.06 C69.49,170.35 69.77,168.03 70.7,166.48 C71.63,164.93 73.03,163.59 74.89,162.76 C76.75,161.92 79.15,161.56 81.86,161.45 C84.57,161.35 88.37,161.61 91.16,162.11 C93.95,162.6 96.66,163.39 98.6,164.43 C100.54,165.47 101.95,166.91 102.78,168.34 C103.62,169.76 103.76,171.28 103.62,172.99 C103.48,174.69 103.09,177.02 101.95,178.57 C100.8,180.12 99,181.45 96.74,182.29 C94.48,183.12 91.47,183.4 88.37,183.59 C85.27,183.77 80.85,183.9 78.14,183.4 C75.43,182.91 73.52,181.73 72.09,180.61 C70.67,179.5 70.05,178.13 69.58,176.71 C69.12,175.28 69.12,173.76 69.31,172.06 Z" stroke="#111" stroke-width="0.55" fill="none"/>
<path d="M70.11,172.11 C70.28,170.54 70.54,168.39 71.4,166.95 C72.26,165.52 73.55,164.29 75.27,163.51 C76.99,162.74 79.21,162.41 81.72,162.31 C84.23,162.21 87.74,162.45 90.32,162.91 C92.9,163.37 95.41,164.1 97.2,165.06 C98.99,166.02 100.3,167.35 101.07,168.67 C101.84,169.99 101.97,171.4 101.84,172.97 C101.72,174.55 101.36,176.7 100.3,178.13 C99.24,179.57 97.57,180.8 95.48,181.57 C93.39,182.35 90.61,182.6 87.74,182.78 C84.87,182.95 80.79,183.06 78.28,182.6 C75.77,182.15 74.01,181.06 72.69,180.02 C71.37,178.99 70.8,177.73 70.37,176.41 C69.94,175.09 69.94,173.69 70.11,172.11 Z" stroke="#111" stroke-width="0.55" fill="none"/>
<path d="M70.8,172.16 C70.96,170.69 71.2,168.69 72,167.36 C72.8,166.03 74,164.88 75.6,164.16 C77.2,163.44 79.27,163.13 81.6,163.04 C83.93,162.95 87.2,163.17 89.6,163.6 C92,164.03 94.33,164.71 96,165.6 C97.67,166.49 98.88,167.73 99.6,168.96 C100.32,170.19 100.44,171.49 100.32,172.96 C100.2,174.43 99.87,176.43 98.88,177.76 C97.89,179.09 96.35,180.24 94.4,180.96 C92.45,181.68 89.87,181.92 87.2,182.08 C84.53,182.24 80.73,182.35 78.4,181.92 C76.07,181.49 74.43,180.48 73.2,179.52 C71.97,178.56 71.44,177.39 71.04,176.16 C70.64,174.93 70.64,173.63 70.8,172.16 Z" stroke="#111" stroke-width="0.55" fill="none"/>
<path d="M71.26,172.19 C71.41,170.8 71.64,168.9 72.4,167.63 C73.16,166.37 74.3,165.28 75.82,164.59 C77.34,163.91 79.3,163.62 81.52,163.53 C83.74,163.44 86.84,163.65 89.12,164.06 C91.4,164.47 93.62,165.11 95.2,165.96 C96.78,166.81 97.94,167.99 98.62,169.15 C99.3,170.32 99.42,171.56 99.3,172.95 C99.19,174.35 98.87,176.25 97.94,177.51 C97,178.78 95.53,179.87 93.68,180.55 C91.83,181.24 89.37,181.46 86.84,181.62 C84.31,181.77 80.7,181.87 78.48,181.46 C76.26,181.06 74.71,180.1 73.54,179.18 C72.37,178.27 71.87,177.16 71.49,175.99 C71.11,174.83 71.11,173.59 71.26,172.19 Z" fill="#0a0a0a" stroke="#000" stroke-width="0.4"/>
<path d="M73.67,172.36 C73.78,171.35 73.95,169.98 74.5,169.06 C75.05,168.14 75.88,167.36 76.97,166.86 C78.07,166.37 79.5,166.15 81.1,166.09 C82.7,166.03 84.95,166.18 86.6,166.48 C88.25,166.77 89.85,167.24 91,167.85 C92.15,168.46 92.98,169.32 93.47,170.16 C93.97,171 94.05,171.9 93.97,172.91 C93.89,173.92 93.66,175.29 92.98,176.21 C92.3,177.13 91.24,177.91 89.9,178.41 C88.56,178.91 86.78,179.07 84.95,179.18 C83.12,179.29 80.5,179.36 78.9,179.07 C77.3,178.78 76.17,178.08 75.33,177.42 C74.48,176.76 74.12,175.95 73.84,175.11 C73.56,174.27 73.56,173.37 73.67,172.36 Z" stroke="#333" stroke-width="0.35" fill="none"/>
<path d="M75.97,172.52 C76.04,171.88 76.15,171 76.5,170.42 C76.85,169.84 77.38,169.34 78.08,169.02 C78.78,168.71 79.68,168.57 80.7,168.53 C81.72,168.49 83.15,168.59 84.2,168.78 C85.25,168.96 86.27,169.26 87,169.65 C87.73,170.04 88.26,170.58 88.58,171.12 C88.89,171.66 88.94,172.23 88.89,172.87 C88.84,173.51 88.69,174.39 88.26,174.97 C87.83,175.55 87.15,176.06 86.3,176.37 C85.45,176.69 84.32,176.79 83.15,176.86 C81.98,176.93 80.32,176.98 79.3,176.79 C78.28,176.6 77.56,176.16 77.03,175.74 C76.49,175.32 76.25,174.81 76.08,174.27 C75.91,173.73 75.91,173.16 75.97,172.52 Z" stroke="#333" stroke-width="0.35" fill="none"/>
<ellipse cx="82" cy="172.3" rx="1.7" ry="1" transform="rotate(0 82 172.3)" stroke="none" stroke-width="0.6" fill="#fff" opacity="1"/>
<path d="M239.16,160.69h0.01M239.61,146.64h0.01M229.05,148.37h0.01M259.68,159.21h0.01M258.55,156.23h0.01M248.92,155.15h0.01M218.01,166.54h0.01M250.6,160.48h0.01M217.63,122.35h0.01M229.66,144.04h0.01M247.58,151.22h0.01M250.81,141.08h0.01M247.63,158.7h0.01M233.08,181.2h0.01M251.35,172.35h0.01M233.7,139.43h0.01M237.84,150.19h0.01M252.48,156.22h0.01M236.29,135.73h0.01M235.19,172.76h0.01M230.88,156.16h0.01M249.4,126.67h0.01M243.73,174.21h0.01M212.78,146.53h0.01M241.41,138.11h0.01M250.46,150.94h0.01M221.03,166.07h0.01M253.04,168.08h0.01M264.61,158.16h0.01M244.79,129.91h0.01M252.23,141.6h0.01M236.21,130.5h0.01M228.49,142.97h0.01M221.13,156.07h0.01M264.65,161.83h0.01M248.36,139.48h0.01M226.2,168.62h0.01M259.53,154.67h0.01M246.69,159.38h0.01M266.91,162.52h0.01M250.78,161.31h0.01M219.48,173.79h0.01M257.33,161h0.01M213.39,141.23h0.01M255.63,121.21h0.01M240.24,169.33h0.01M223.33,179.37h0.01M251.28,149.45h0.01M247.87,163.05h0.01M244.81,171.48h0.01M233.08,144.95h0.01M258.63,152.46h0.01M229.79,168.09h0.01M264.98,144.44h0.01M222.3,149.71h0.01M240.76,146.93h0.01M264.07,134.54h0.01M261.91,130.44h0.01M231.19,162.74h0.01M259.93,166.6h0.01M248.18,154.42h0.01M245.29,161.78h0.01M240.36,156.72h0.01M251.59,152.01h0.01M254.46,161.62h0.01M236.59,145.67h0.01M242.8,167.7h0.01M237.95,158.56h0.01M226.14,156.15h0.01M248.98,156.06h0.01M236.53,163.14h0.01M247.23,143.13h0.01M234.69,150.31h0.01M239.62,150.93h0.01M258.13,132.13h0.01M242,168.21h0.01M255.84,177.35h0.01M217.48,145.99h0.01M237.89,162.6h0.01M259.33,127.39h0.01M253.25,126.63h0.01M245.64,172.31h0.01M240.76,155.25h0.01M254.96,154.4h0.01M241.67,178.07h0.01M258.73,147.01h0.01M256.72,147.48h0.01M244.99,163.99h0.01M246.33,162.86h0.01M220.09,126.34h0.01M252.22,135.63h0.01M227.6,127.01h0.01M262,164.69h0.01M265.1,136.06h0.01M243.02,132.61h0.01M254.49,179.02h0.01M229.65,178.53h0.01M257.82,148.98h0.01M213.42,175.91h0.01M241.56,141.75h0.01M248.99,158.97h0.01M265.47,134.66h0.01M260.04,177.29h0.01M264.78,148.93h0.01M231.84,169.32h0.01M244.73,154.11h0.01M264.36,147.52h0.01M215.19,165.92h0.01M247.76,141.61h0.01M242.86,166.15h0.01M244.18,174.55h0.01M242.08,169.69h0.01M265.37,179.37h0.01M232.92,166.96h0.01M214.86,133.58h0.01M213.56,170.17h0.01M224.52,151.78h0.01M240.12,151.51h0.01M234.13,155.97h0.01M269.87,152.75h0.01M250.96,169.01h0.01M240.03,130.59h0.01M234.67,170.25h0.01M218.31,141.84h0.01M258.11,165.48h0.01M243.11,165.69h0.01M245.49,131.96h0.01M219.54,141.14h0.01M256.84,142.39h0.01M229.46,138.89h0.01M220.02,150.01h0.01M225.31,158.19h0.01M233.38,118.98h0.01M253.87,147.32h0.01M247.37,144.2h0.01M254.7,164.71h0.01M252.99,157.55h0.01M263.01,163.22h0.01M256.45,174.26h0.01M238.55,144.02h0.01M272.1,122.11h0.01M229.09,163.72h0.01M271.3,149.96h0.01M251.42,167.34h0.01M229.41,150.49h0.01M247.39,166.03h0.01M242.48,148.68h0.01M227.76,145.9h0.01M256.38,153.73h0.01M230.2,137.69h0.01M252.32,160.17h0.01M268.26,159.27h0.01M241.99,160.88h0.01M213.84,169.57h0.01M247.87,140.06h0.01M262.88,182.76h0.01M221.96,140.67h0.01M247.37,155.12h0.01M237.02,135.44h0.01M225.09,129.13h0.01M268.55,168.82h0.01M270.31,165.77h0.01M229.92,156.43h0.01M242.12,160.89h0.01M232.09,149.89h0.01M249.88,158.4h0.01M252.57,155.55h0.01M238.14,165.42h0.01M243.74,137.96h0.01M233.61,151.99h0.01M241.36,154.67h0.01M242.99,154.99h0.01M240.99,130.61h0.01M249.32,169.91h0.01M249.52,148.78h0.01M249.7,135.58h0.01M214.56,153.01h0.01M229.04,164.58h0.01M227.41,178.83h0.01M237.27,128.72h0.01M231.55,160.86h0.01M250.45,155h0.01M265.26,164.01h0.01M242.69,162.14h0.01M267.82,168.51h0.01M258.36,133.59h0.01M240.77,164.41h0.01M238.55,170.17h0.01M251.95,167.44h0.01M261.6,148.34h0.01M237.85,166.86h0.01M257.71,152.11h0.01M225.49,155.19h0.01M248.39,171.2h0.01M254.74,152.41h0.01M255.8,161.18h0.01M246.09,152.94h0.01M239.35,163.66h0.01M227.19,141.31h0.01M243.07,127.11h0.01M232.76,161.66h0.01M251.5,151.07h0.01M239.52,127.91h0.01M270.42,160.77h0.01M259.4,137h0.01M240.22,121.07h0.01M254.71,167.9h0.01M214.54,151.11h0.01M252.46,122.05h0.01M215.62,133.89h0.01M233.56,128.15h0.01M243.47,156.24h0.01M252.51,163.93h0.01M265.54,171.79h0.01M223.32,143.41h0.01M227.1,133.7h0.01M241.78,152.09h0.01M250.36,125.02h0.01M224.44,151.61h0.01M240.01,146.71h0.01M242.05,139.08h0.01M253.52,158.02h0.01M241.68,140.57h0.01M228.28,152.63h0.01M220.44,155.39h0.01M245.21,128.58h0.01M239.24,146.66h0.01M249.9,162.4h0.01M242.46,137.53h0.01M240.84,150.89h0.01M254.02,157h0.01M232.16,128.98h0.01M237.4,139.41h0.01M226.32,150.03h0.01M235.63,153.79h0.01M250.85,144.98h0.01M259.53,154.07h0.01M231.73,156.2h0.01M247.84,173.76h0.01M254.5,168.11h0.01M250.65,149.35h0.01M250.64,133.67h0.01M260.72,134.71h0.01M246.74,188.05h0.01M239.65,152.33h0.01M260.45,152.45h0.01M230.89,156.39h0.01M251.73,164.07h0.01M231.41,181.79h0.01M268,152.31h0.01M247.03,144.72h0.01M264.21,140.02h0.01M253.11,143.85h0.01M232.59,164.22h0.01M263.01,151.83h0.01M232.84,165.8h0.01M242.26,157.28h0.01M265.84,171.24h0.01M243.05,165.36h0.01M233.29,151.24h0.01M216.75,182.37h0.01M263.49,131.34h0.01M220.42,124.44h0.01M260.64,144.19h0.01M242.09,146.68h0.01M241.18,133.5h0.01M243.36,127.55h0.01M241.93,157.25h0.01M250.01,148.06h0.01M229.44,154.71h0.01M235.73,178.62h0.01M254.52,150.04h0.01M235.93,140.05h0.01M228.94,146h0.01M247.42,160.76h0.01M251.53,187.68h0.01M232.43,152.22h0.01M235.18,154.88h0.01M245.32,158.93h0.01M239.42,158.22h0.01M243.79,165.11h0.01M214.61,136.95h0.01M242.97,134.46h0.01M227.33,162.67h0.01M233.25,162.79h0.01M254.19,157.21h0.01M250.62,150.22h0.01M221.86,151.49h0.01M249.81,143h0.01M241.51,164.74h0.01M229.83,162.88h0.01M270.94,142.57h0.01M245.2,149.44h0.01M266.1,157.38h0.01M256.47,140.27h0.01M242.76,151.83h0.01M216.36,176.49h0.01M256.49,122.26h0.01M254.17,149.77h0.01M249.73,158.23h0.01M220.52,148.4h0.01M265.39,142.23h0.01M227.66,128.89h0.01M224.68,157.7h0.01M268.39,159.3h0.01M246.68,189.97h0.01M235.21,140.54h0.01M250.93,161.33h0.01M227.78,132.11h0.01M247.37,156.21h0.01M223.4,148.56h0.01M234.86,159.82h0.01M241.25,150.54h0.01M237.7,169.91h0.01M263.86,145.76h0.01M255.69,139.12h0.01M244.08,164.75h0.01M265.71,145.5h0.01M241.89,155.34h0.01M220.53,152.27h0.01M232.86,158.32h0.01M226.05,118.39h0.01M243.57,156.43h0.01M234.77,167.11h0.01M238.9,141.7h0.01M250.17,125.34h0.01M232.84,151.65h0.01M255.73,149.23h0.01M247.63,140.86h0.01M247.53,180.28h0.01M233.34,152.29h0.01M245.6,169.41h0.01M252.09,165.52h0.01M246.07,156.32h0.01M256.94,158.27h0.01M267.96,130.95h0.01M255.19,145.67h0.01M256.86,188.62h0.01M242.91,147.67h0.01M235.51,137.76h0.01M233.54,162.87h0.01M243.55,153.13h0.01M240.4,167.54h0.01M250.41,149.59h0.01M252.97,149.42h0.01M225.71,176.74h0.01M249.98,135.73h0.01M259.18,157.86h0.01M219.53,179.37h0.01M248,167.15h0.01M245.97,149.46h0.01M219.78,168.52h0.01M243.45,147.13h0.01M248.26,153.33h0.01M253.13,145.69h0.01M236.65,163.49h0.01M263.05,145.81h0.01M241.18,178.92h0.01M238.11,164.48h0.01M268.17,152.68h0.01M261.4,139.92h0.01M246.12,150.68h0.01M244.72,171.2h0.01M234.37,160.46h0.01M227.17,160.45h0.01M251.58,147.28h0.01M250.97,125.66h0.01M254.4,125.74h0.01M232.55,142.54h0.01M236.98,166.6h0.01M244.22,145.24h0.01M251.15,178.88h0.01M243.09,158.22h0.01M261.6,156.55h0.01M242.41,159.09h0.01M257.49,163.37h0.01M238.92,134.08h0.01M244.54,169.57h0.01M226.66,134.54h0.01M242.63,119.06h0.01M239.1,144.58h0.01M249.76,140.07h0.01M229.77,145.3h0.01M242.25,140.7h0.01M243.18,164.75h0.01M260.78,180.98h0.01M231.25,144.86h0.01M232.13,151.43h0.01M250.84,128.9h0.01M249.96,151.55h0.01M215.61,156.96h0.01M260.92,120.25h0.01M255.11,155.56h0.01M250.12,159.51h0.01M262.56,148.2h0.01M256.1,145.03h0.01M253.92,138.16h0.01M241.37,181.43h0.01M249.68,149.31h0.01M225.83,138.57h0.01M245.9,167.97h0.01M249.39,160.91h0.01M242.37,174.98h0.01M237.14,142.65h0.01M256.32,153.08h0.01M238.82,142.21h0.01M239.15,162.6h0.01M248.31,131.44h0.01M249.39,155.04h0.01M228,165.14h0.01M238.79,146.3h0.01M254.94,174.45h0.01M232.67,159.45h0.01M235.59,172.31h0.01M233.29,165.79h0.01M236.48,160.51h0.01M241.61,140.64h0.01M218.33,166.52h0.01M217.18,171.56h0.01M234.33,154.46h0.01M261.91,154h0.01M222.13,123.17h0.01M260.74,164.59h0.01M230.76,166.61h0.01M250.45,163.01h0.01M256.51,164.47h0.01M245.54,160.37h0.01M238.06,152.61h0.01M256.29,144.46h0.01M260.21,138.61h0.01M247,143.03h0.01M245.37,140.26h0.01M219.04,170.58h0.01M247.55,142.5h0.01M246.01,168.83h0.01M228.34,150.12h0.01M251.09,160.94h0.01M261.64,157.58h0.01M243.2,147.27h0.01M246.95,144.76h0.01M227.63,139.42h0.01M234.05,141.59h0.01M225.62,162.82h0.01M223.35,163.22h0.01M227.78,157.99h0.01M263.61,155.46h0.01M232.04,152.82h0.01M245.22,122.53h0.01M233.88,154.77h0.01M235.96,153.36h0.01M254.01,165.03h0.01M256.59,162.01h0.01M238.68,151.69h0.01M238.93,146.68h0.01M240.31,122.68h0.01M238,151.59h0.01M228.39,151.59h0.01M250.73,149.21h0.01M239.9,120.97h0.01M250.79,146.86h0.01M255.78,158.32h0.01M243.34,142.01h0.01M252.58,143.75h0.01M246.35,143.33h0.01M246.03,164.82h0.01M229.86,151.44h0.01M252.26,154.47h0.01M261.64,185.86h0.01M229.37,119.34h0.01M255.85,178h0.01M256.83,165.84h0.01M233.72,139.87h0.01M256.33,136.5h0.01M215.8,135.04h0.01M232.7,139.61h0.01M246.47,139.26h0.01M262.65,150.67h0.01M226.71,174.25h0.01M234.25,155.76h0.01M242.81,146.66h0.01M247.87,140.23h0.01M224,139.11h0.01M242.66,152.94h0.01M251.34,154.04h0.01M231.1,139.95h0.01M250.27,161h0.01M241.18,149.04h0.01M257.04,152.26h0.01M254.07,161.9h0.01M246.2,174.21h0.01M234.41,145.9h0.01M230.88,138.45h0.01M266.34,181.91h0.01M243.34,161.66h0.01M260.63,165.73h0.01M261.08,130.53h0.01M233.41,159.7h0.01M264.53,153.77h0.01M230.12,145.97h0.01M233.09,137.41h0.01M265.52,141.36h0.01M243.31,188.76h0.01M260.77,157.71h0.01M233.82,158.98h0.01M267.33,162.59h0.01M261.92,153.67h0.01M250.74,148.58h0.01M249.4,174.11h0.01M221.53,150.94h0.01M246.6,142.29h0.01M238.38,165.38h0.01M247.89,125.63h0.01M271.91,153.31h0.01M242.49,132.99h0.01M242.15,133.37h0.01M244.07,159.93h0.01M243.47,156.75h0.01M230.22,176.31h0.01M233.2,121.09h0.01M240.19,139.02h0.01M227.85,145.97h0.01M247.37,131.91h0.01M240.94,176.25h0.01M253.24,149.42h0.01M244.92,149.96h0.01M242.28,164.45h0.01M242.68,136.88h0.01M252.77,141.62h0.01M245.23,189.01h0.01M227.3,132.88h0.01M214.82,158.2h0.01M233.43,120.24h0.01M220.76,162.49h0.01M231.37,145.76h0.01M247.96,175.06h0.01M272.12,169.55h0.01M245.15,155.13h0.01M270.03,176.29h0.01M238.34,159.78h0.01M247.3,152.89h0.01M235.5,129.45h0.01M234.99,125.75h0.01M261.36,161.12h0.01M224.91,175.73h0.01M256.38,119.55h0.01M270.62,165.77h0.01M250.96,159.19h0.01M246.03,154.91h0.01M258.8,126.59h0.01M224.37,128.3h0.01M234.64,141.71h0.01M248.51,156.53h0.01M243.47,140.5h0.01M236.37,168.19h0.01M254.45,153.72h0.01M238.16,178.4h0.01M234.09,163.03h0.01M260.3,147.49h0.01M255.38,133.03h0.01M258.19,155.39h0.01M219.2,163.38h0.01M229.62,173.79h0.01M232.82,149.2h0.01M247.24,146.35h0.01M246.89,142.59h0.01M253.08,152.09h0.01M260.42,152.54h0.01M216.26,153.62h0.01M250.01,170.2h0.01M226.76,178.3h0.01M240.81,163.56h0.01M237.5,133.03h0.01M259.45,167.41h0.01M266.08,166.57h0.01M234.4,123.74h0.01M233.24,140.52h0.01M230.77,161.9h0.01M247.92,147.41h0.01M245.59,149.52h0.01M246.19,164.78h0.01M257.39,140.34h0.01M220.4,176.27h0.01M244.72,170.8h0.01M218.35,146.39h0.01M243.41,127.49h0.01M235.26,164.32h0.01M259.18,179.1h0.01M230.05,128.18h0.01M250.81,167.99h0.01M245.9,129.88h0.01M254.73,165.47h0.01M251.3,143.72h0.01M247.56,165.44h0.01M234.62,120.66h0.01M247.93,160.17h0.01M243.2,167.12h0.01M234.2,150.6h0.01M238.42,161.71h0.01M266.94,147.73h0.01M254.86,161.98h0.01M269.56,148.93h0.01M241.32,133.94h0.01M250.09,174.86h0.01M250.99,159.19h0.01M239.99,154.88h0.01M221.62,169.83h0.01M236.85,133.22h0.01M231.73,137.98h0.01M255.83,169.99h0.01M222.63,167.75h0.01M256.32,142.15h0.01M220.7,139.33h0.01M233.49,157.82h0.01M246.5,125.92h0.01M256.58,131.48h0.01M232.61,137.48h0.01M234.86,174.07h0.01M255.78,162.23h0.01M247.79,125.69h0.01M235.19,142.62h0.01M228.34,160.65h0.01M231.88,139.93h0.01M251.93,174.62h0.01M245.62,135.4h0.01M261.24,157.05h0.01M256.91,177.13h0.01M259.9,144.5h0.01M258.79,165.19h0.01M219.94,145.11h0.01M221.64,150.14h0.01M251.67,133.84h0.01M212.16,174.07h0.01M248.65,177.01h0.01M223.14,170.03h0.01M239.85,156.58h0.01M240.69,168.97h0.01M258.57,153.48h0.01M222.61,164.6h0.01M235.95,162.69h0.01M246.95,179.6h0.01M260.06,144.33h0.01M248.24,181.99h0.01M234.94,159.37h0.01M260.86,173.37h0.01M250.78,129.56h0.01M224.09,156.21h0.01M230.08,171.34h0.01M254.56,123.58h0.01M230.73,154.83h0.01M235.6,149.37h0.01M250.05,138.24h0.01M250,141.18h0.01M234.83,161.13h0.01M234.4,156.88h0.01M266.99,152.46h0.01M240.81,164.5h0.01M237.52,170.41h0.01M223.76,162.52h0.01M235.32,138.42h0.01M269.55,137.55h0.01M269.35,163.19h0.01M264.8,135.4h0.01M260.98,176.76h0.01M241.25,149.81h0.01M236.66,141.29h0.01M249.69,157.62h0.01M245.66,181.26h0.01M238.08,160.04h0.01M264.89,134.93h0.01M258.58,183.14h0.01M222.68,133.34h0.01M227.42,120.61h0.01M249.79,120.45h0.01M250.48,176.7h0.01M218.77,146.62h0.01M214.23,165.25h0.01M231.94,147.48h0.01M243.82,161.27h0.01M237.8,152.26h0.01M234.8,153.95h0.01M225.41,153.08h0.01M214.02,143.67h0.01M271.73,153.35h0.01M224.1,156.37h0.01M228.41,123.93h0.01M231.95,164.53h0.01M248.76,150.35h0.01M229.1,133.66h0.01M263.25,156.16h0.01M225.77,150.69h0.01M246.15,149.32h0.01M238.83,128.66h0.01M227.23,180.71h0.01M231.65,166.37h0.01M217.59,147.34h0.01M246.92,169.62h0.01M226.16,162.12h0.01M248.79,139.46h0.01M250.16,136.73h0.01M231.06,151.68h0.01M228,127.13h0.01M236.62,164.97h0.01M236.93,173.52h0.01M225.61,129.69h0.01M266.27,158.78h0.01M257.18,137.94h0.01M255.07,156.41h0.01M252.73,152.43h0.01M261.09,140.97h0.01M228.54,126.88h0.01M260.41,139.45h0.01M227.35,136.02h0.01M236.32,130.39h0.01M238.64,141.34h0.01M234.73,135.69h0.01M243.55,144.17h0.01M244.72,156.24h0.01M234.96,138.47h0.01M254.61,125.18h0.01M232.28,147h0.01M237.96,168.85h0.01M236.36,168.4h0.01M221.02,121.19h0.01M261.29,159.41h0.01M250.32,154.09h0.01M250.26,131.33h0.01M257.23,142.95h0.01M257.79,153.49h0.01M213.39,130.12h0.01M259.92,149.67h0.01M237.07,156.12h0.01M236.62,142.74h0.01M244.54,154.45h0.01M265.75,152.78h0.01M271.2,182.65h0.01M268.75,170.04h0.01M244.96,154.33h0.01M240.86,139.57h0.01M242,141.11h0.01M267.6,161.08h0.01M236.3,119.43h0.01M242.2,144.92h0.01M226.71,132.68h0.01M242.54,149.48h0.01M264.66,154.28h0.01M245.51,145.68h0.01M233.92,177.49h0.01M258.01,181.17h0.01M237.75,152.51h0.01M229.79,168.44h0.01M222.1,161.6h0.01M259.44,175.99h0.01M228.9,170.52h0.01M232.3,139.13h0.01M223.15,171.64h0.01M267.73,141.9h0.01M231.61,146.24h0.01M234.86,121.5h0.01M232.91,172.18h0.01M271.01,147.47h0.01M232.63,143.33h0.01M214.71,167.44h0.01M226.71,170.07h0.01M217.39,130.41h0.01M247.33,139.02h0.01M254.72,152.14h0.01M225.38,162.57h0.01M255.63,119.48h0.01M270.39,160.45h0.01M254.4,120.38h0.01M232.2,146.06h0.01M259.16,127.19h0.01M239.38,157.88h0.01M217.71,141.95h0.01M250.66,178.95h0.01M252.96,146.84h0.01M225.33,136.08h0.01M233.04,154.5h0.01M242.26,180.34h0.01M247.31,133.78h0.01M266.17,168.13h0.01M244.52,139.74h0.01M214.94,134.62h0.01M256.68,138.35h0.01M223.2,155.32h0.01M246.66,162.31h0.01M252.83,175.95h0.01M230.41,168.64h0.01M228.19,163.8h0.01M245.69,156.14h0.01M257.52,151.7h0.01M259.68,166.88h0.01M245.03,142.37h0.01M231.7,143.03h0.01M239.96,151.58h0.01M254.54,137.37h0.01M232.34,146.58h0.01M245.88,134.39h0.01M267.18,142.43h0.01M242.9,156.72h0.01M245.87,162.23h0.01M247.2,154.76h0.01M214.61,139.87h0.01M247.61,148.68h0.01M230.68,142.11h0.01M270.68,181.43h0.01M242.13,173.9h0.01M219.18,119.1h0.01M235.75,137.13h0.01M234.61,155.2h0.01M243.74,156.7h0.01M242.49,167.83h0.01M269.63,130.86h0.01M245.43,147.5h0.01M248.34,125.96h0.01M250.88,155.26h0.01M237.4,139.16h0.01M221.79,136.44h0.01M253.47,161.25h0.01M242.66,160.74h0.01M233.95,153.21h0.01M243.6,161.42h0.01" stroke="#a5a5a5" stroke-width="1" stroke-linecap="round" opacity="0.6"/>
<path d="M210.5,166 C210.42,162.5 210.75,158.33 211.5,155 C212.25,151.67 213.42,148.5 215,146 C216.58,143.5 218.67,141.5 221,140 C223.33,138.5 226.17,137.45 229,137 C231.83,136.55 235.17,136.83 238,137.3 C240.83,137.77 243.75,138.52 246,139.8 C248.25,141.08 250.23,142.8 251.5,145 C252.77,147.2 253.42,150.17 253.6,153 C253.78,155.83 253.37,159 252.6,162 C251.83,165 250.6,168.17 249,171 C247.4,173.83 245.33,176.83 243,179 C240.67,181.17 238,183.03 235,184 C232,184.97 228,185.1 225,184.8 C222,184.5 219.17,183.67 217,182.2 C214.83,180.73 213.08,178.7 212,176 C210.92,173.3 210.58,169.5 210.5,166 Z" stroke="#111" stroke-width="0.7" fill="none"/>
<path d="M211.9,165.6 C211.82,162.38 212.13,158.55 212.82,155.48 C213.51,152.41 214.58,149.5 216.04,147.2 C217.5,144.9 219.41,143.06 221.56,141.68 C223.71,140.3 226.31,139.33 228.92,138.92 C231.53,138.51 234.59,138.77 237.2,139.2 C239.81,139.63 242.49,140.32 244.56,141.5 C246.63,142.68 248.45,144.26 249.62,146.28 C250.79,148.3 251.38,151.03 251.55,153.64 C251.72,156.25 251.34,159.16 250.63,161.92 C249.93,164.68 248.79,167.59 247.32,170.2 C245.85,172.81 243.95,175.57 241.8,177.56 C239.65,179.55 237.2,181.27 234.44,182.16 C231.68,183.05 228,183.17 225.24,182.9 C222.48,182.62 219.87,181.85 217.88,180.5 C215.89,179.15 214.28,177.28 213.28,174.8 C212.28,172.32 211.98,168.82 211.9,165.6 Z" stroke="#111" stroke-width="0.7" fill="none"/>
<path d="M213.3,165.2 C213.23,162.26 213.51,158.76 214.14,155.96 C214.77,153.16 215.75,150.5 217.08,148.4 C218.41,146.3 220.16,144.62 222.12,143.36 C224.08,142.1 226.46,141.22 228.84,140.84 C231.22,140.46 234.02,140.7 236.4,141.09 C238.78,141.48 241.23,142.11 243.12,143.19 C245.01,144.27 246.68,145.71 247.74,147.56 C248.8,149.41 249.35,151.9 249.5,154.28 C249.66,156.66 249.31,159.32 248.66,161.84 C248.02,164.36 246.98,167.02 245.64,169.4 C244.3,171.78 242.56,174.3 240.6,176.12 C238.64,177.94 236.4,179.51 233.88,180.32 C231.36,181.13 228,181.24 225.48,180.99 C222.96,180.74 220.58,180.04 218.76,178.81 C216.94,177.58 215.47,175.87 214.56,173.6 C213.65,171.33 213.37,168.14 213.3,165.2 Z" stroke="#111" stroke-width="0.7" fill="none"/>
<path d="M214.53,164.85 C214.46,162.16 214.72,158.95 215.29,156.38 C215.87,153.81 216.77,151.38 217.99,149.45 C219.21,147.52 220.81,145.98 222.61,144.83 C224.41,143.67 226.59,142.87 228.77,142.52 C230.95,142.17 233.52,142.39 235.7,142.75 C237.88,143.11 240.13,143.69 241.86,144.68 C243.59,145.66 245.12,146.99 246.09,148.68 C247.07,150.37 247.57,152.66 247.71,154.84 C247.85,157.02 247.53,159.46 246.94,161.77 C246.35,164.08 245.4,166.52 244.17,168.7 C242.94,170.88 241.35,173.19 239.55,174.86 C237.75,176.53 235.7,177.97 233.39,178.71 C231.08,179.45 228,179.56 225.69,179.33 C223.38,179.1 221.2,178.45 219.53,177.32 C217.86,176.19 216.51,174.63 215.68,172.55 C214.85,170.47 214.59,167.54 214.53,164.85 Z" stroke="#111" stroke-width="0.7" fill="none"/>
<path d="M215.75,164.5 C215.69,162.05 215.92,159.13 216.45,156.8 C216.97,154.47 217.79,152.25 218.9,150.5 C220.01,148.75 221.47,147.35 223.1,146.3 C224.73,145.25 226.72,144.51 228.7,144.2 C230.68,143.88 233.02,144.08 235,144.41 C236.98,144.74 239.03,145.26 240.6,146.16 C242.17,147.06 243.56,148.26 244.45,149.8 C245.34,151.34 245.79,153.42 245.92,155.4 C246.05,157.38 245.76,159.6 245.22,161.7 C244.68,163.8 243.82,166.02 242.7,168 C241.58,169.98 240.13,172.08 238.5,173.6 C236.87,175.12 235,176.42 232.9,177.1 C230.8,177.78 228,177.87 225.9,177.66 C223.8,177.45 221.82,176.87 220.3,175.84 C218.78,174.81 217.56,173.39 216.8,171.5 C216.04,169.61 215.81,166.95 215.75,164.5 Z" stroke="#111" stroke-width="0.7" fill="none"/>
<path d="M216.8,164.2 C216.75,161.96 216.96,159.29 217.44,157.16 C217.92,155.03 218.67,153 219.68,151.4 C220.69,149.8 222.03,148.52 223.52,147.56 C225.01,146.6 226.83,145.93 228.64,145.64 C230.45,145.35 232.59,145.53 234.4,145.83 C236.21,146.13 238.08,146.61 239.52,147.43 C240.96,148.25 242.23,149.35 243.04,150.76 C243.85,152.17 244.27,154.07 244.38,155.88 C244.5,157.69 244.23,159.72 243.74,161.64 C243.25,163.56 242.46,165.59 241.44,167.4 C240.42,169.21 239.09,171.13 237.6,172.52 C236.11,173.91 234.4,175.1 232.48,175.72 C230.56,176.34 228,176.42 226.08,176.23 C224.16,176.04 222.35,175.51 220.96,174.57 C219.57,173.63 218.45,172.33 217.76,170.6 C217.07,168.87 216.85,166.44 216.8,164.2 Z" stroke="#111" stroke-width="0.7" fill="none"/>
<path d="M217.5,164 C217.45,161.9 217.65,159.4 218.1,157.4 C218.55,155.4 219.25,153.5 220.2,152 C221.15,150.5 222.4,149.3 223.8,148.4 C225.2,147.5 226.9,146.87 228.6,146.6 C230.3,146.33 232.3,146.5 234,146.78 C235.7,147.06 237.45,147.51 238.8,148.28 C240.15,149.05 241.34,150.08 242.1,151.4 C242.86,152.72 243.25,154.5 243.36,156.2 C243.47,157.9 243.22,159.8 242.76,161.6 C242.3,163.4 241.56,165.3 240.6,167 C239.64,168.7 238.4,170.5 237,171.8 C235.6,173.1 234,174.22 232.2,174.8 C230.4,175.38 228,175.46 226.2,175.28 C224.4,175.1 222.7,174.6 221.4,173.72 C220.1,172.84 219.05,171.62 218.4,170 C217.75,168.38 217.55,166.1 217.5,164 Z" fill="#0a0a0a" stroke="#000" stroke-width="0.4"/>
<path d="M220.12,163.25 C220.09,161.68 220.24,159.8 220.57,158.3 C220.91,156.8 221.44,155.38 222.15,154.25 C222.86,153.12 223.8,152.23 224.85,151.55 C225.9,150.88 227.17,150.4 228.45,150.2 C229.72,150 231.22,150.12 232.5,150.34 C233.78,150.55 235.09,150.88 236.1,151.46 C237.11,152.04 238,152.81 238.57,153.8 C239.14,154.79 239.44,156.12 239.52,157.4 C239.6,158.68 239.41,160.1 239.07,161.45 C238.72,162.8 238.17,164.22 237.45,165.5 C236.73,166.78 235.8,168.12 234.75,169.1 C233.7,170.07 232.5,170.91 231.15,171.35 C229.8,171.78 228,171.84 226.65,171.71 C225.3,171.58 224.03,171.2 223.05,170.54 C222.08,169.88 221.29,168.97 220.8,167.75 C220.31,166.53 220.16,164.82 220.12,163.25 Z" stroke="#444" stroke-width="0.35" fill="none"/>
<path d="M222.75,162.5 C222.72,161.45 222.83,160.2 223.05,159.2 C223.28,158.2 223.62,157.25 224.1,156.5 C224.57,155.75 225.2,155.15 225.9,154.7 C226.6,154.25 227.45,153.94 228.3,153.8 C229.15,153.67 230.15,153.75 231,153.89 C231.85,154.03 232.72,154.26 233.4,154.64 C234.08,155.03 234.67,155.54 235.05,156.2 C235.43,156.86 235.62,157.75 235.68,158.6 C235.74,159.45 235.61,160.4 235.38,161.3 C235.15,162.2 234.78,163.15 234.3,164 C233.82,164.85 233.2,165.75 232.5,166.4 C231.8,167.05 231,167.61 230.1,167.9 C229.2,168.19 228,168.23 227.1,168.14 C226.2,168.05 225.35,167.8 224.7,167.36 C224.05,166.92 223.52,166.31 223.2,165.5 C222.88,164.69 222.78,163.55 222.75,162.5 Z" stroke="#444" stroke-width="0.35" fill="none"/>
<ellipse cx="228" cy="160.3" rx="1.9" ry="1.7" transform="rotate(0 228 160.3)" stroke="none" stroke-width="0.6" fill="#fff" opacity="1"/>
<rect x="226.5" y="121" width="27" height="8" fill="#fff" opacity="0.55"/>
<text x="227" y="128" font-size="7.8" text-anchor="start" fill="#f4a53c" textLength="25.5" lengthAdjust="spacingAndGlyphs" stroke="#f4a53c" stroke-width="0.15" >CD41<tspan font-size="5.4" dy="-3">+</tspan></text>
<text x="244.5" y="186" font-size="7.8" text-anchor="start" fill="#2a5d8f" textLength="22.5" lengthAdjust="spacingAndGlyphs" stroke="#2a5d8f" stroke-width="0.15" >CD41<tspan font-size="5.4" dy="-3">−</tspan></text>
<path d="M329.5,72 C328.5,66 331,60 334.5,55.5 C338,51.5 344,49.3 349.5,50.3 C353.5,51.5 354.5,56.5 353,61 C351.5,64.5 348,66 345,67 C342.5,69.5 341,73.5 338,76.5 C335,79 330.5,77.5 329.5,72 Z" fill="#0a0a0a"/>
<ellipse cx="332.3" cy="79" rx="3.4" ry="2.3" transform="rotate(0 332.3 79)" stroke="#222" stroke-width="0.6" fill="none" opacity="1"/>
<ellipse cx="332.3" cy="79.3" rx="4.6" ry="3.1" transform="rotate(0 332.3 79.3)" stroke="#222" stroke-width="0.5" fill="none" opacity="1"/>
<ellipse cx="345" cy="56.8" rx="1.6" ry="1" transform="rotate(0 345 56.8)" stroke="none" stroke-width="0.6" fill="#fff" opacity="1"/>
<ellipse cx="338.5" cy="67.5" rx="0.7" ry="0.7" transform="rotate(0 338.5 67.5)" stroke="none" stroke-width="0.6" fill="#fff" opacity="1"/>
<ellipse cx="336.5" cy="71" rx="0.6" ry="0.6" transform="rotate(0 336.5 71)" stroke="none" stroke-width="0.6" fill="#888" opacity="1"/>
<path d="M331,170 C330,162 336,156.5 343,156.8 C350,157 355.5,161 355,168 C355,175 352,181 346,183.8 C340,185.5 333,181 331.5,176 Z" fill="#0a0a0a"/>
<ellipse cx="342.5" cy="172.5" rx="1.6" ry="1.4" transform="rotate(0 342.5 172.5)" stroke="none" stroke-width="0.6" fill="#fff" opacity="1"/>
<ellipse cx="341" cy="165" rx="0.5" ry="0.8" transform="rotate(0 341 165)" stroke="none" stroke-width="0.6" fill="#fff" opacity="1"/>
<path d="M421.85,183.24h0.01M458.97,128.81h0.01M462.2,156.42h0.01M452.18,130.16h0.01M426.11,183.49h0.01M445.71,124.76h0.01M474.63,136.8h0.01M452.73,135.36h0.01M425.67,124.9h0.01M426.41,125.16h0.01M450.35,129.94h0.01M435.47,182.86h0.01M465.03,140.97h0.01M454.67,171.66h0.01M471.05,131.31h0.01M442.6,126.38h0.01M457.39,183.2h0.01M442.77,123.51h0.01M452.21,128.81h0.01M464.22,167.29h0.01M435.46,182.07h0.01M466.29,135.45h0.01M463.8,135.51h0.01M455.03,134.61h0.01M437.31,187.27h0.01M452.21,159.85h0.01M417.17,185.87h0.01M466.96,128.15h0.01M474.24,132.14h0.01M461.29,177.35h0.01M464.06,128h0.01M433.27,181.56h0.01M442.76,183h0.01M447.51,127.29h0.01M459.92,143.42h0.01M466.19,129.42h0.01M483.2,134.05h0.01M429.32,122.22h0.01M450.45,180.87h0.01M478.78,130h0.01M471.23,132.72h0.01M424.92,118.97h0.01M458.29,130.21h0.01M446.29,181.47h0.01M470.8,125.23h0.01M468.96,179.49h0.01M457.35,129.36h0.01M444.01,183.13h0.01M458.21,161.24h0.01M454.72,153.64h0.01M453.09,168.61h0.01M446.76,179.06h0.01M454.11,127.88h0.01M459.68,126.9h0.01M452.79,170.41h0.01M454.51,173.9h0.01M452.22,175.98h0.01M456.22,172.22h0.01M450.99,176.85h0.01M417.48,134.73h0.01M453.82,135.04h0.01M432.54,184.13h0.01M453.81,132.85h0.01M453.41,179.01h0.01M462.31,130.44h0.01M421.93,127.03h0.01M464.5,146.34h0.01M454.47,179.54h0.01M454.59,125.28h0.01M419.11,128.91h0.01M419.88,182.94h0.01M452.24,137.88h0.01M416.73,155.99h0.01M446.47,180.8h0.01M457.42,132.23h0.01M454.39,141.56h0.01M456.9,145.01h0.01M424.87,125.38h0.01M454.1,144.57h0.01M453.91,137.62h0.01M451.04,131.33h0.01M453.27,171.39h0.01M423.93,120.93h0.01M442.98,129.4h0.01M452.29,168.87h0.01M456.63,160.32h0.01M431.24,182.96h0.01M454.83,124.51h0.01M430.43,122.96h0.01M465.21,128.26h0.01M493.05,126.41h0.01M475.87,130.36h0.01M457.01,141.99h0.01M456.43,171.71h0.01M456.06,126.51h0.01M453.28,142.05h0.01M420.98,159.22h0.01M452.66,174.62h0.01M466.61,133.07h0.01M421.35,126.27h0.01M468.59,134.51h0.01M463.25,171.71h0.01M483.74,131.59h0.01M449.15,180.42h0.01M462.82,123.81h0.01M460.51,137.58h0.01M461.56,122.23h0.01M451.58,181.05h0.01M469.03,141h0.01M453.82,173.05h0.01M456.58,135.54h0.01M459.5,169.31h0.01M449.04,131.33h0.01M421.43,131.05h0.01M451.87,182.22h0.01M430.81,180.71h0.01M456.22,157.44h0.01M458.7,161.09h0.01M452.03,161.74h0.01M418.92,129.86h0.01M425.22,126.22h0.01M451.56,128.35h0.01M442.53,185.4h0.01M416.59,134.17h0.01M456.72,135.38h0.01M458.41,129.96h0.01M455.71,159.36h0.01M459.98,180.62h0.01M431.07,182.09h0.01M467.88,190.71h0.01M456.26,128.92h0.01M450.43,177.79h0.01M452.93,174.85h0.01M478.86,131.44h0.01M447.97,127.9h0.01M456.7,134.5h0.01M460.85,128.72h0.01M419.11,168.47h0.01M451.19,174.64h0.01M455.73,139.48h0.01M464.02,178.49h0.01M463.32,133.08h0.01M437.23,177.29h0.01M442.56,186.29h0.01M465.86,140.03h0.01M469.25,120.02h0.01M432.82,178.84h0.01M458.28,174.45h0.01M453.87,138.86h0.01M458.12,145.47h0.01M489.81,126.92h0.01M471.74,135.59h0.01M454.52,128.55h0.01M456.42,137.83h0.01M438.74,126.18h0.01M457.34,170.78h0.01M423.64,182.74h0.01M461.35,142.35h0.01M461.51,138.2h0.01M457.94,183.75h0.01M457.39,144.78h0.01M455.23,172.32h0.01M429.8,128h0.01M468.87,124.15h0.01M464.55,141.86h0.01M453.74,175.02h0.01M454.76,172.04h0.01M455.07,172.9h0.01M463.08,163.62h0.01M447.98,125.42h0.01M454.5,169.5h0.01M483.56,130.58h0.01M449.36,125.17h0.01M426.46,146.21h0.01M445.27,123.49h0.01M424.31,181.38h0.01M455.18,164.08h0.01M442.92,128.57h0.01M475.38,127.98h0.01M437.23,124.17h0.01M464.88,129.73h0.01M451.58,155.33h0.01M460.73,141.55h0.01M475.85,129.28h0.01M462.86,132.23h0.01M469.98,131.57h0.01M461.3,183.67h0.01M445.92,124.91h0.01M456.3,152.37h0.01M478.02,130.39h0.01M466.77,126.67h0.01M465.4,135.19h0.01M456.89,138.68h0.01M467.28,132.01h0.01M455.01,165.97h0.01M460.18,129.94h0.01M453.46,150.51h0.01M424.73,184.53h0.01M454.14,168.11h0.01M460.15,132.84h0.01M459.82,140.95h0.01M453.45,169.43h0.01M456.25,177.89h0.01M460.81,134.2h0.01M459.16,182.93h0.01M436.4,181.12h0.01M453.98,129.6h0.01M453.98,163.44h0.01M418.19,163.09h0.01M455.38,159.35h0.01M466.88,134.76h0.01M419.49,140.16h0.01M427.75,121.68h0.01M457.27,158.08h0.01M474.55,127.15h0.01M452.99,176.73h0.01M454.4,176.82h0.01M456.73,176.7h0.01M481.35,122.73h0.01M426.99,185h0.01M464.26,139.12h0.01M454.98,183.87h0.01M439.17,180.27h0.01M429.27,177h0.01M455.55,149.82h0.01M456.7,140.21h0.01M457.11,141.88h0.01M456.56,166.07h0.01M471.51,122.29h0.01M457.42,136.22h0.01M452.25,162.98h0.01M441.8,126.23h0.01M420.06,180.81h0.01M422.68,127.86h0.01M455.89,130.24h0.01M458.18,155.63h0.01M457.94,125.61h0.01M416.84,157.5h0.01M452.45,162.08h0.01M454.94,179.45h0.01M474.68,121.19h0.01M418.08,134.88h0.01M460.18,170.69h0.01M472.78,133h0.01M456.95,140.43h0.01M430.43,126.59h0.01M455.17,162.15h0.01M464.02,143.61h0.01M428.56,127.98h0.01M465.65,130.86h0.01M456.21,138.51h0.01M426.63,124.12h0.01M469.35,134.62h0.01M467.87,132.31h0.01M470.02,141.48h0.01M426.51,128.41h0.01M455,176.37h0.01M456.19,149.55h0.01M416.19,183.98h0.01M472.88,135.2h0.01M457.04,131.99h0.01M438.56,126.81h0.01M455.95,124.8h0.01M468.84,132.58h0.01M457.97,177.84h0.01M460.07,128.66h0.01M467.77,138.92h0.01M455.32,135.1h0.01M464.89,133.67h0.01M454.61,133.15h0.01M427.31,181.28h0.01M455.28,136.25h0.01M418.91,162.21h0.01M455.34,137.52h0.01M449.44,185.02h0.01M452.86,152.59h0.01M454.52,171.46h0.01M454.09,143.06h0.01M456.4,175.99h0.01M452.83,173h0.01M442.04,177.09h0.01M462.75,135.03h0.01M422.75,181.02h0.01M463.17,139.75h0.01M450.43,130.64h0.01M449.56,181.92h0.01M417.77,186.09h0.01M428.01,126.69h0.01M447.54,179.01h0.01M453.61,154.27h0.01M440.73,128.94h0.01M432.9,179.62h0.01M430.54,181.89h0.01M457.85,147.69h0.01M417.96,181.46h0.01M470.88,122.25h0.01M454.08,139.62h0.01M461.25,136.8h0.01M477.65,121.92h0.01M452.42,158.87h0.01M444.73,131.32h0.01M475.48,131.55h0.01M462.67,129.42h0.01M459.39,172.81h0.01M474.23,140.01h0.01M453.59,165.37h0.01M457.87,147.22h0.01M457.65,148.83h0.01M478.41,126.4h0.01M421.16,129.35h0.01M458.79,136.32h0.01M453.98,132.63h0.01M429.68,126.33h0.01M453.44,133.34h0.01M452.6,124.9h0.01M433.67,182.86h0.01M471.8,127.99h0.01M442.79,131.74h0.01M417.74,184.56h0.01M416.42,130.02h0.01M422.86,180.77h0.01M420.67,185.43h0.01M441.13,124.14h0.01M455.9,157.09h0.01M434.07,121.7h0.01M452.3,180.96h0.01M451.29,127.22h0.01M465.27,150.69h0.01M458.12,180.58h0.01M460.01,181.33h0.01M420.08,178.48h0.01M452.1,123.66h0.01M416.25,170.55h0.01M458.99,146.51h0.01M462.44,135.19h0.01M475.33,120.46h0.01M479.45,125.15h0.01M463.08,140.41h0.01M419.39,135.12h0.01M452.58,176.45h0.01M438.31,123.19h0.01M457.38,165.31h0.01M417.9,132.61h0.01M457.51,136.75h0.01M461.23,139.3h0.01M458.64,132.42h0.01M440.28,129.34h0.01M455.01,164.51h0.01M443.61,119.78h0.01M456.27,141.46h0.01M457.15,164.19h0.01M454.03,134.49h0.01M453.88,128.54h0.01M426.08,129.74h0.01M459.36,188.67h0.01M465.16,125.7h0.01M432.55,182.78h0.01M457.84,186.9h0.01M461.85,134.6h0.01M457.43,132.54h0.01M439.09,122.16h0.01M455.91,133.24h0.01M444.81,126.24h0.01M429.39,122.29h0.01M457.34,136.91h0.01M472.45,139.72h0.01M457.65,135.23h0.01M470.05,128.48h0.01M471.15,134.67h0.01M439.9,122.17h0.01M420.53,182.53h0.01M456.21,159.36h0.01M453.63,167.17h0.01M452.89,175.13h0.01M453.78,156.77h0.01M436.5,185.45h0.01M446.23,175.82h0.01M466.54,136.13h0.01M455.85,141.4h0.01M454.9,166.56h0.01M460.81,132.02h0.01M453.94,128.71h0.01M483.61,135.25h0.01M455.84,173.91h0.01M437.86,183.21h0.01M453.42,183.36h0.01M460.68,129.81h0.01M458.33,136.27h0.01M420.53,179.68h0.01M458.15,172.71h0.01M419.53,179.18h0.01M455.2,146.83h0.01M459.3,156.07h0.01M417.35,125.72h0.01M456.01,139.72h0.01M416.41,180.11h0.01M457.38,154.9h0.01M470.27,134.52h0.01M453.47,135.47h0.01M460.14,133.82h0.01M450.79,120.79h0.01M431.45,182.9h0.01M457.36,162.75h0.01M458.46,187.42h0.01M452.22,129.78h0.01M461.55,174.51h0.01M451.39,134.42h0.01M444.48,125.99h0.01M488.65,128h0.01M453.38,133.47h0.01M449.39,127.08h0.01M455.21,139.56h0.01M476.36,130.47h0.01M459.8,170.11h0.01M453.81,137.11h0.01M437.61,183.84h0.01M470.5,132.68h0.01M478.25,125.81h0.01M458.57,172.92h0.01M456.44,150.11h0.01M455.32,171.97h0.01M453.88,125.34h0.01M419.2,185.17h0.01M444.38,122.3h0.01M456.11,124.67h0.01M457.39,142.28h0.01M454.55,135.56h0.01M463.49,136.08h0.01M459.17,186.47h0.01M422.09,128.71h0.01M416.79,170.64h0.01M424.24,124.55h0.01M462.35,171.7h0.01M455.59,157.08h0.01M445.45,185.48h0.01M441.19,121.85h0.01M418.96,181.2h0.01M477.07,132.75h0.01M458.06,178.64h0.01M460.43,177.54h0.01M469.52,118.66h0.01M454.1,171.55h0.01M457.52,158.25h0.01M446.05,180.51h0.01M461.05,135.2h0.01M467.99,137.3h0.01M459.84,164.95h0.01M428.05,126.4h0.01M483.49,122.9h0.01M467.89,141.88h0.01M460.38,162.48h0.01M455.64,171.99h0.01M419.27,178h0.01M460.91,132.1h0.01M455.7,149.31h0.01M474.33,132.78h0.01M434.86,186.43h0.01M458.29,164.87h0.01M425.88,183.26h0.01M446.94,125.2h0.01M460.97,132.92h0.01M418.16,187.29h0.01M456.3,176.52h0.01M471.91,135.94h0.01M454.05,171.13h0.01M459.12,140.11h0.01M423.92,127.66h0.01M451.04,182.56h0.01M448.33,129.99h0.01M420.58,185.77h0.01M463.26,130.32h0.01M460.48,181.61h0.01M455.48,137.1h0.01M454.42,139.8h0.01M452.89,130.38h0.01M427.49,185.04h0.01M421.48,128.28h0.01M460.25,168.57h0.01M464.83,126.87h0.01M468.75,185.21h0.01M454.28,150.63h0.01M468.02,131.55h0.01M463.51,132.33h0.01M453.62,173.11h0.01M421.72,181.38h0.01M433.39,120.44h0.01M484.41,130.31h0.01M459.12,133.95h0.01M449.53,119.89h0.01M417.38,135.11h0.01M449.76,129.95h0.01M454.61,130.1h0.01M452.92,159.95h0.01M456.83,131.23h0.01M416.43,176.68h0.01M457.34,163.36h0.01M445.75,183.41h0.01M454.26,170.3h0.01M456.03,163.3h0.01M454.48,175.5h0.01M450.97,183.55h0.01M456.59,187.79h0.01M420.3,180.02h0.01M460.19,146.86h0.01M455.13,125.14h0.01M456.76,137.64h0.01M457,151.34h0.01M435.65,118.4h0.01M423.04,187.88h0.01M441.78,180.15h0.01M451.22,146.16h0.01M429.76,178.5h0.01M457.93,172.77h0.01M428.37,123.39h0.01M464.06,130.11h0.01M456.97,169.77h0.01M437.58,126.72h0.01M453.1,156.4h0.01M421.2,179.29h0.01M474.84,133.89h0.01M425.93,181.18h0.01M460.11,172.09h0.01M453.59,130.85h0.01M453.16,138.48h0.01M455.64,130.03h0.01M436.97,180.48h0.01M457.81,172.94h0.01M453.5,167.79h0.01M457.96,135.91h0.01M421.17,181.67h0.01M443.9,175.4h0.01M427.26,124.87h0.01M454.23,171.48h0.01M453.86,130.85h0.01M475.2,133.61h0.01M458.51,129.22h0.01M452.6,170.82h0.01M453.01,178.43h0.01M487.98,123.07h0.01M457.53,184.09h0.01M458.43,141.46h0.01M461.45,128.26h0.01M433.49,179.64h0.01M456.53,182.88h0.01M458.16,166.75h0.01M454.35,166.19h0.01M461.29,145.89h0.01M474.27,136.49h0.01M419.82,128.12h0.01M472.5,148.86h0.01M431.9,117.75h0.01M479.47,139.22h0.01M466.82,159.14h0.01M456.72,132.63h0.01M427.65,123.47h0.01M458.25,144.24h0.01M422.63,124.24h0.01M425.37,126.15h0.01M456.82,137.25h0.01M476.14,135.04h0.01M455.74,156.06h0.01M446.11,179.74h0.01M454.13,174.42h0.01M451.64,127.58h0.01M419.37,132.55h0.01M455.7,166.08h0.01M475.23,133.67h0.01M453.21,141.65h0.01M470.39,131.06h0.01M460.52,139.71h0.01M417.97,143.01h0.01M448.52,134.02h0.01M449.25,183.49h0.01M465.91,132.26h0.01M457.74,178.65h0.01M430.35,182.25h0.01M459.43,135.12h0.01M444.64,177.26h0.01M452.74,161.34h0.01M468.01,140.39h0.01M417.89,124.57h0.01M452.84,175.77h0.01M454.57,137.14h0.01M425.12,123.16h0.01M447.88,127.79h0.01M455,136.08h0.01M454.05,136.28h0.01M457.96,145.92h0.01M457.02,136.43h0.01M458.63,133.28h0.01M471.6,130.41h0.01M462.96,123.31h0.01M420.78,185.73h0.01M432.33,183.88h0.01M453.84,159.77h0.01M455.57,166.19h0.01M420.18,127.48h0.01M453.48,132.33h0.01M455.43,157.28h0.01M462.97,130.97h0.01M436.71,123.31h0.01M463.79,128.8h0.01M453.1,183.31h0.01M476.7,130.31h0.01M438.21,124.71h0.01M454.88,145.66h0.01M463.5,130.51h0.01M459.4,136.54h0.01M461.04,127.57h0.01M455.66,140.64h0.01M457.77,172.13h0.01M446.49,123.5h0.01M458.67,153.12h0.01M455.78,134.87h0.01M480.69,126.95h0.01M459.72,184.83h0.01M455.55,164.87h0.01M452.2,175.3h0.01M461.67,141.25h0.01M452.22,148.61h0.01M458.4,155.12h0.01M419.32,182.85h0.01M459.79,132.06h0.01M456.67,134.32h0.01M448.11,162.43h0.01M457.31,173.63h0.01M454.14,135.07h0.01M442.59,181.73h0.01M466.88,125.24h0.01M452.99,176.57h0.01M425.68,127.83h0.01M455.28,129.68h0.01M453.26,171.59h0.01M457.03,171.87h0.01M442.94,123.62h0.01M453.66,154.29h0.01M447.38,181.25h0.01M475.02,138.14h0.01M475.02,125.52h0.01M457.94,167.24h0.01M451.61,133.54h0.01M452.39,175.26h0.01M457.93,132.01h0.01M471.16,186.97h0.01M448.67,125.71h0.01M453.86,131.73h0.01M465.57,138.89h0.01M470.36,140.24h0.01M466.61,132.65h0.01M463.15,128.32h0.01M445.54,126.6h0.01M439.84,125.18h0.01M453.13,169.56h0.01M453.95,144.74h0.01M446.47,182.02h0.01M457.39,173.47h0.01M465.01,130.92h0.01M449.22,126.7h0.01M426.62,180.49h0.01M476.26,135.03h0.01M456.73,172.56h0.01M465.9,134.32h0.01M455.67,146.42h0.01M455.24,150.91h0.01M458.08,145.44h0.01M459.52,125.57h0.01M460.35,127.31h0.01M462.47,132.91h0.01M420.39,127.56h0.01M463.73,178.68h0.01M457.11,163.67h0.01M465.47,185.59h0.01M447.49,182.78h0.01M456.43,131.25h0.01M430.8,120.27h0.01M451.25,179.62h0.01M435.44,127.55h0.01M459.43,169.78h0.01M453.47,178.54h0.01M424.16,183.55h0.01M454.53,160.02h0.01M468.36,140.33h0.01M450.73,128.97h0.01M470.83,129.7h0.01M430.58,126.96h0.01M446.23,123.53h0.01M473.03,141.01h0.01M461.83,133.57h0.01M446.87,178.39h0.01M452.92,126.46h0.01M463.19,132.7h0.01M424.8,124.04h0.01M466.68,172.2h0.01M431.89,120.95h0.01M419.29,158.01h0.01M443.72,185.07h0.01M477.44,134.02h0.01M453.67,174.91h0.01M433.92,123.91h0.01M463.01,127.54h0.01M473.23,121.47h0.01M438.74,120.69h0.01M473.46,129.66h0.01M453.47,137.03h0.01M456.63,137.84h0.01M444.93,179.32h0.01M450.4,157.79h0.01M454.73,152.25h0.01M456.58,133.74h0.01M452.06,159.42h0.01M453.44,132.04h0.01M462.33,132.92h0.01M456.17,148.43h0.01M447.24,182.44h0.01M455.95,167.56h0.01M429.16,181.87h0.01M451.35,178.84h0.01M456.89,173.24h0.01M452.56,176h0.01M462.61,132.65h0.01M457.97,159.68h0.01M455.74,126.96h0.01M459.57,129.7h0.01M453.09,169.18h0.01M465.43,133.12h0.01M446.41,181.32h0.01M460.82,132.48h0.01M452.2,177.46h0.01M418.2,181.88h0.01M452.19,168.07h0.01M435.21,126.29h0.01M423.18,176.07h0.01M459.17,137.63h0.01M417.16,179.6h0.01M456.92,139.17h0.01M464.32,170.61h0.01M455.78,174.16h0.01M434.46,126.07h0.01M450.8,144.01h0.01M457.06,152.59h0.01M421.17,123.91h0.01M433.9,181.47h0.01M470.73,130.93h0.01M456.47,157.37h0.01M457.89,132.26h0.01M421,182.49h0.01M453.17,175.86h0.01M452.11,123.02h0.01M457.29,150.19h0.01M476.3,140.91h0.01M442.9,127.48h0.01M459.89,168.07h0.01M434.2,124.64h0.01M432.69,124.12h0.01M456.59,173.69h0.01M447.08,127.79h0.01M460.54,127.91h0.01M438.33,129.14h0.01M457.69,188.42h0.01M448.69,180.21h0.01M456.15,166.41h0.01M467.1,174h0.01M449.91,130.02h0.01M472.93,131.25h0.01M416.02,181.58h0.01M458.63,134.15h0.01M457.04,161.56h0.01M467.32,133.85h0.01M453.18,174.53h0.01M466.18,137.55h0.01M432.21,185.59h0.01M454.65,136.9h0.01M462.83,128.51h0.01M444.25,184.74h0.01M470.61,137.51h0.01M454.02,140.7h0.01M483.56,129.92h0.01M470.56,131.68h0.01M455.25,150.13h0.01M458.27,178.13h0.01M449.57,125.85h0.01M463.19,166.06h0.01M428.97,186.31h0.01M452.42,173.03h0.01M444.51,181.42h0.01M467.86,175.81h0.01M456.3,142.13h0.01M456.41,131.05h0.01M452.41,176.11h0.01M459.97,134.16h0.01M469.95,138.09h0.01M459.32,137.51h0.01M419.54,127.64h0.01M460.13,167.11h0.01M434,120.92h0.01M444.04,180.16h0.01M456.36,156.61h0.01M445.09,181.34h0.01M460.61,128.5h0.01M448.09,181.61h0.01M456.19,145.23h0.01M456.13,177.46h0.01M468.11,130.88h0.01M455.77,172.29h0.01M454.54,162.98h0.01M424.07,186.97h0.01M465.79,159.29h0.01M418.82,163.32h0.01M469.65,132.59h0.01M456.32,164.83h0.01M447.77,180.08h0.01M478.08,177.02h0.01M456.76,130.01h0.01M424.01,122.96h0.01M453.26,138.19h0.01M462.56,169.07h0.01M452.22,173.15h0.01M454.85,162.32h0.01M456.87,130.19h0.01M452.88,177.18h0.01M455.36,140.43h0.01M452.28,122.45h0.01M456.93,174.48h0.01M459.16,137.15h0.01M457.88,172.72h0.01M459.22,164.85h0.01M456.35,133.83h0.01M447.37,180.29h0.01M438.23,177.52h0.01M435.83,183.17h0.01M455.43,152.85h0.01M439.72,179.84h0.01M459.1,132.22h0.01M435.49,126.03h0.01M421.61,186.42h0.01M453.48,133.69h0.01M472.97,133.94h0.01M443.83,182h0.01M453.84,136.31h0.01M464.44,133.1h0.01M467.04,143.93h0.01M427.24,184.66h0.01M453.37,145.05h0.01M439.87,182.26h0.01M453.29,139.94h0.01M453.21,169.52h0.01M469.14,128.56h0.01M451.18,125.04h0.01M453.2,148.16h0.01M456.15,129.57h0.01M457.42,159.43h0.01M468.68,127.52h0.01M453.74,144.02h0.01M421.69,183.54h0.01M469.45,138.5h0.01M420.2,182.01h0.01M459.73,171.23h0.01M461.13,136.5h0.01M473.7,132.75h0.01M435.76,181.87h0.01M465.96,139.91h0.01M472.75,136.35h0.01M425.94,184.36h0.01M454.13,186.26h0.01M468.54,133.07h0.01M456.34,149.8h0.01M421.93,127.8h0.01M421.37,128.3h0.01M449.52,184.81h0.01M441.3,183.61h0.01M464.85,132.21h0.01M455.87,141.39h0.01M476.25,138.4h0.01M454.91,172.36h0.01M457.54,160.83h0.01M466.66,133.2h0.01M453.12,180.11h0.01M454.31,131.95h0.01M472.88,139.11h0.01M454.82,132.25h0.01M460.98,179.82h0.01M460.65,133.74h0.01M455.72,152.65h0.01M455.9,185.65h0.01M454.7,127.77h0.01M454.38,165.4h0.01M450.02,180.97h0.01M460.48,128.97h0.01M456.69,159.85h0.01M460.53,166.68h0.01M453.12,180.84h0.01M474.82,137.6h0.01M474.26,140.82h0.01M474.58,125.51h0.01M455.13,129.52h0.01M450.22,140.35h0.01M453.52,160h0.01M457.49,148.73h0.01M455.94,148.24h0.01M439.81,178.14h0.01M436.45,124.78h0.01M453.86,159.49h0.01M454.48,139.54h0.01M452.76,132.93h0.01M452.88,127.89h0.01M435.2,119.99h0.01M450.21,168.07h0.01M444.29,185.76h0.01M469.4,139.94h0.01M453.18,171.74h0.01M457.73,158.15h0.01M458.35,157.24h0.01M456.91,146.82h0.01M456.1,135.74h0.01M472.56,158.79h0.01M456.37,126.57h0.01M490.81,135.37h0.01M430.38,121.99h0.01M455.72,136.11h0.01M449.44,183.45h0.01M451.87,125.71h0.01M453.66,183.62h0.01M472.32,136.39h0.01M453.54,161.62h0.01M455.75,163.86h0.01M443.26,125.27h0.01M455.87,134.75h0.01M486.69,129.18h0.01M437.44,127.08h0.01M469.46,130.85h0.01M459.74,138.44h0.01M456.08,160.96h0.01M459.73,134.93h0.01M446.26,128.4h0.01M467.95,135.06h0.01M426.73,125.29h0.01M436.95,180.32h0.01M455.1,177.38h0.01M456.52,126.2h0.01M476.47,133.17h0.01M462.16,137.65h0.01M416.39,184.3h0.01M462.12,146.11h0.01M466.58,132.98h0.01M454.07,135.21h0.01M442.59,123.72h0.01M456.52,162.37h0.01M431.46,128.42h0.01M453.12,142.55h0.01M463.26,138.97h0.01M448.23,181.12h0.01M437.13,122.14h0.01M456.85,143.57h0.01M454.51,172.02h0.01M455.06,179.52h0.01M459.49,131.02h0.01M481.29,130.08h0.01M458.16,181.23h0.01M460.91,145.02h0.01M461.3,133.68h0.01M455.23,158.87h0.01M456.41,136.25h0.01M455.5,148.76h0.01M491.67,115.74h0.01M484.58,130.75h0.01M453.42,125.96h0.01M458.27,170.34h0.01M457.37,164.04h0.01M466.62,126.3h0.01M425.83,186h0.01M439.7,185.84h0.01M454.4,130.01h0.01M456.2,133.57h0.01M453.25,132.09h0.01M453.18,146.46h0.01M442.53,185.55h0.01M467.73,135.73h0.01M463.84,165.87h0.01M459.64,135.18h0.01M472.79,127.27h0.01M455.16,130.26h0.01M453.45,122.98h0.01M417.34,166.21h0.01M451.96,176.1h0.01M430.93,125.5h0.01M445.19,125.09h0.01M457.8,142.89h0.01M438.26,184.44h0.01M449.21,177.75h0.01M460.41,131.13h0.01M452.03,168.99h0.01M459.82,133.98h0.01M455.26,162.01h0.01M453.72,168.87h0.01M443.54,177.08h0.01M454.23,178.4h0.01M455.76,134.71h0.01M422.47,183.32h0.01M476.53,128.63h0.01M454.58,162.97h0.01M420.88,136.06h0.01M454.65,128.63h0.01M459.75,175.01h0.01M458.43,170.2h0.01M454.58,187.63h0.01M456.91,125.88h0.01M457.75,158.51h0.01M428.85,127.73h0.01M456.76,166.3h0.01M418.61,130.22h0.01M470,126.86h0.01M418.92,127.45h0.01M429.25,181h0.01M469.4,185.96h0.01M456.53,174.42h0.01M457.64,127.8h0.01M421.07,184.06h0.01M416.28,184.9h0.01M470.6,128.42h0.01M447.74,178.69h0.01M427.09,129.11h0.01M453.99,136.02h0.01M459.65,166.31h0.01M453.12,137.89h0.01M458.13,175.02h0.01M463.54,147.6h0.01M453.88,136.18h0.01M449.26,126.28h0.01M416.9,127.43h0.01M425.9,184.01h0.01M468.29,124.99h0.01M462.92,179.39h0.01M454.01,137.26h0.01M454.85,145.2h0.01M467.89,140.33h0.01M463.7,127.24h0.01M455.23,184.07h0.01M458.63,136.31h0.01M457.72,161.55h0.01M452.05,132.47h0.01M455.21,133.21h0.01M453.04,183.89h0.01M474.48,133.07h0.01M440.39,186.59h0.01M471.27,135.44h0.01M421.93,183.61h0.01M455.08,152.22h0.01M430.68,124.85h0.01M450.03,163.59h0.01M429.82,126.82h0.01M458.83,148.69h0.01M455.7,130.4h0.01M486.54,122.6h0.01M463.07,165.51h0.01M456.2,174.92h0.01M456.58,137.59h0.01M456.02,179.33h0.01M466.23,137.62h0.01M455.7,131.21h0.01M464.56,139.25h0.01M471.52,127.89h0.01M454.66,167.85h0.01M467.66,132.98h0.01M456.66,178.35h0.01M445.8,126.16h0.01M417.64,130.27h0.01M437.88,128.1h0.01M460.46,144.87h0.01M477.98,123.82h0.01M458.69,153.83h0.01M465.01,131.84h0.01M455.08,153.85h0.01M457.93,141.36h0.01M460.71,130.71h0.01M448.16,124.56h0.01M456.39,180.78h0.01M462.11,139.03h0.01M471.64,124.23h0.01M423.85,186.03h0.01M421.72,183.65h0.01M457.07,156.68h0.01M458.12,124.86h0.01M453.75,129.03h0.01M454.82,162.22h0.01M459.4,158.39h0.01M457.96,137.67h0.01M420.09,128.62h0.01M421.69,132.21h0.01M433.37,123.46h0.01M425.2,179.55h0.01M464.99,125.64h0.01M439.22,121.71h0.01M447.48,183.31h0.01M447.38,181.55h0.01M442.15,180.82h0.01M469.31,134.03h0.01M456.06,162.72h0.01M419.36,180.56h0.01M472.01,133.53h0.01M451.82,155.59h0.01M425.94,127.43h0.01M425.72,124.61h0.01M452.07,154.83h0.01M453.43,172.22h0.01M421.22,185.81h0.01M456.87,179.2h0.01M463.64,127.81h0.01M426.32,128.21h0.01M475,128.38h0.01M465.49,122.79h0.01M427.59,125.23h0.01M467.32,131h0.01M464.19,179h0.01M459.88,134.71h0.01M476.43,128.39h0.01M455.1,132.78h0.01M431.84,122.3h0.01M459.53,147.2h0.01M445.72,178.16h0.01M454.17,146.54h0.01M463.86,133.99h0.01M442.38,182.39h0.01M453.13,137.25h0.01M455.89,172.97h0.01M472.01,128.22h0.01M451.39,127.7h0.01M418.87,178.31h0.01M452.93,153.58h0.01M457.16,162.6h0.01M454.01,164.67h0.01M463.36,136.9h0.01M451.56,128.26h0.01M418.16,174.68h0.01M428.89,121.79h0.01M441.04,180.9h0.01M456.64,154.84h0.01M425.86,182.16h0.01M430.5,126.45h0.01M455.78,126.86h0.01M454.71,149.23h0.01M429.3,183.8h0.01M452.16,173.18h0.01M459.48,132.93h0.01M464.42,162.38h0.01M417.26,182.31h0.01M453.48,161h0.01M458.65,168.75h0.01M463.75,139.38h0.01M450.78,175.18h0.01M452.85,128.41h0.01M455.14,164.01h0.01M453.41,126.64h0.01M462.4,125.55h0.01M465.71,133.62h0.01M470.54,127.56h0.01M431.99,123.08h0.01M428.09,179.28h0.01M455.95,128.92h0.01M452.11,126.57h0.01M423.23,183.09h0.01M453.99,169.78h0.01M431.91,121.43h0.01M433.28,180.66h0.01M458.49,137.2h0.01M453.72,154.62h0.01M445.05,122.21h0.01M427.36,180.59h0.01M451.64,124.34h0.01M472.27,137.27h0.01M457.18,140.62h0.01M461.72,131.21h0.01M459.65,136.82h0.01M445.39,127.02h0.01M454.22,151.2h0.01M455.53,136.84h0.01M455.93,165.47h0.01M480.12,126.65h0.01M453.65,172.29h0.01M452.66,163.98h0.01M452.01,137.91h0.01M458.22,140.58h0.01M456,169.27h0.01M456.47,171.73h0.01M434.93,185.5h0.01M420.27,184.7h0.01M449.01,128.37h0.01M417.33,128.9h0.01M455.89,160.23h0.01M461.94,140.58h0.01M455.76,134.58h0.01M450.32,180.35h0.01M462.91,128.36h0.01M467.82,136.83h0.01M456.13,165.36h0.01M457.12,142.34h0.01M473.29,134.27h0.01M431.47,122.81h0.01M457.83,134.64h0.01M453.8,174.79h0.01M435.51,123.24h0.01M460.64,126.26h0.01M460.88,173.94h0.01M451.15,147.28h0.01M461.78,143.11h0.01M463.04,128.53h0.01M464.4,174.78h0.01M453.89,174.02h0.01M457.22,125.06h0.01M453.41,171.45h0.01M456.85,170.3h0.01M471.29,123.51h0.01M451.81,138.18h0.01M455.17,128.19h0.01M451.31,149.3h0.01M442.36,184.43h0.01M420.06,124.73h0.01M462.23,126.21h0.01M450.86,132.02h0.01M456.39,157.84h0.01M455.4,138.5h0.01M468.33,136.07h0.01M457.55,145.15h0.01M460.43,184.16h0.01M457.27,149.92h0.01M433.51,188.18h0.01M453.92,137.85h0.01M425.56,184.41h0.01M477.36,131.66h0.01M461.51,135.93h0.01M457.91,136.61h0.01M458.54,171.88h0.01M422.61,126.83h0.01M455.98,162.65h0.01M475.82,131.13h0.01M460.09,125.85h0.01M422.67,136.03h0.01M453.27,143.57h0.01M451.97,140.93h0.01M468.66,136.47h0.01M425.69,185.15h0.01M455.54,175.29h0.01M468.76,125.47h0.01M461.7,180.55h0.01M455.91,160.78h0.01M442.33,116.52h0.01M439.2,179.74h0.01M483.42,134.97h0.01M451.7,154.15h0.01M446.8,178.51h0.01M462.73,129h0.01M457.38,181.52h0.01M453.93,135.48h0.01M455.18,133.54h0.01M456.32,128.41h0.01M460.26,187.7h0.01M462.02,129.76h0.01M463.05,134.61h0.01M474.75,142.75h0.01M417.31,186.56h0.01M453.88,143.75h0.01M424.95,126.43h0.01M424.29,126h0.01M430.12,176.6h0.01M438.95,186.62h0.01M443.71,124.78h0.01M458.03,165.47h0.01M460.58,172.45h0.01M465.06,129.02h0.01M454.24,124.26h0.01M462.33,137.74h0.01M458.85,175.19h0.01M459.05,171.19h0.01M419.48,181.28h0.01M453.98,184.47h0.01M458.22,149.74h0.01M468.94,133.42h0.01M458.49,156.46h0.01M419.88,172.32h0.01M447.84,184.45h0.01M442.1,177.1h0.01M461.85,147.45h0.01M458.67,138.25h0.01M454.81,133.28h0.01M453.53,158.97h0.01M434.31,185.08h0.01M461.83,140.78h0.01M441.91,179.1h0.01M477.24,127.09h0.01M427.77,126.23h0.01M452.16,178.42h0.01M439.31,182.09h0.01M432.91,177.59h0.01M449.32,133.22h0.01M465.46,133.62h0.01M457.84,144.96h0.01M444.9,121.89h0.01M446.81,181.29h0.01M418.69,173.07h0.01M453.83,170.51h0.01M457.25,146.95h0.01M446.47,179.32h0.01M450.92,129.08h0.01M423.65,126.87h0.01M451.24,186.88h0.01M456.31,171.74h0.01M420.16,179.36h0.01M451.92,131.78h0.01M452.19,172.55h0.01M448.34,178.1h0.01M456.86,186.26h0.01M480.76,137.46h0.01M457.81,185.17h0.01M458.68,174.04h0.01M428.93,121.78h0.01M458.7,179.7h0.01M417.63,129.62h0.01M455.06,180.84h0.01M466.17,130.35h0.01M473.44,132.08h0.01M480.6,131.58h0.01M470.69,140.8h0.01M454.71,135.12h0.01M466.52,129.31h0.01M457.81,130.76h0.01M438.95,175.17h0.01M421.74,127.85h0.01M441.46,146.76h0.01M456.83,134.88h0.01M448.78,181.89h0.01M461.1,187.18h0.01M456,173.03h0.01M425.69,123h0.01M417.37,141.26h0.01M459.13,163.13h0.01M416.47,134.16h0.01M449.2,144.33h0.01M416.48,134.82h0.01M462.74,113.11h0.01M457.11,153.52h0.01M461.1,159.13h0.01M449.35,129.63h0.01M433.82,126.89h0.01M464.97,136.14h0.01M451.14,178.42h0.01M450.18,126.84h0.01M462.93,144.77h0.01M429.25,124.06h0.01M487.93,122.33h0.01M453.26,145.92h0.01M425.76,186.56h0.01M456.51,165.4h0.01M475.89,130h0.01M453.65,173.75h0.01M417.6,144.5h0.01M423.36,122.63h0.01M416.25,131.32h0.01M462.28,135.63h0.01M458.21,179.33h0.01M458.06,168.34h0.01M461.51,178.93h0.01M456.85,169.04h0.01M438.08,178.73h0.01M435.27,184.68h0.01M441.67,121.09h0.01M464.12,138.12h0.01M460.55,181.75h0.01M452.71,136.54h0.01M423.79,125.52h0.01M472.18,133.75h0.01M424.55,128.86h0.01M462.19,131.62h0.01M455.48,176.88h0.01M452.97,176.9h0.01M454.18,129.59h0.01M452.28,127.84h0.01M458.76,131.14h0.01M471.31,130.42h0.01M424.08,185.24h0.01M446.85,185.31h0.01M456.75,136.62h0.01M474.66,125.05h0.01M458.32,174.79h0.01M430.48,187.14h0.01M418.15,162.51h0.01M474.97,135.76h0.01M473.87,133.91h0.01M458.15,135.62h0.01M453.63,170.68h0.01M427.73,182.62h0.01M455.88,132.79h0.01M457.09,163.43h0.01M419.3,134.04h0.01M453.54,173.36h0.01M452.73,132.24h0.01M448.26,128.81h0.01M462.22,137.37h0.01M467.85,134.51h0.01M452.49,156.59h0.01M487.88,132.53h0.01M453.02,141.04h0.01M453.65,144.33h0.01M445.82,123.46h0.01M472.64,136.7h0.01M418.59,184.02h0.01M440.97,121.2h0.01M421.62,123.57h0.01M440.08,119.15h0.01M456.34,160.3h0.01M464.43,178.6h0.01M434.02,146.66h0.01M430.61,124.52h0.01M424.64,126.36h0.01M450.26,180.42h0.01M438.84,179.84h0.01M433.87,121.38h0.01M456.39,176.07h0.01M456.8,132.52h0.01M458.52,129.52h0.01M455.54,146.76h0.01M451.74,167.29h0.01M433.04,188.18h0.01M455.8,174.67h0.01M418.02,181.71h0.01M428.69,186.73h0.01M452.29,153.21h0.01M469.32,138.03h0.01M418.61,184.14h0.01M452.86,132.66h0.01M456.32,157.37h0.01M457.9,179.83h0.01M459.23,132.19h0.01M466.2,119.86h0.01M455.79,129.26h0.01M468.49,139.11h0.01M454.85,157.09h0.01M456.19,136.72h0.01M462.89,131.62h0.01M460.05,138.04h0.01M465.04,132.57h0.01M452.87,151.99h0.01M417.28,138.66h0.01M452.14,137.54h0.01M472.9,138.96h0.01M453.56,139.88h0.01M462.22,129.14h0.01M421.64,184.77h0.01M459.36,137.45h0.01M452.55,127.96h0.01M482.15,131.82h0.01M452.69,174.42h0.01M457.08,176.63h0.01M473.61,138.16h0.01M455.75,123.88h0.01M466.03,124.74h0.01M451.67,169.39h0.01M471.07,134.73h0.01M453.21,152.63h0.01M466.64,136.6h0.01M491.81,130.92h0.01M470.63,135.18h0.01M460.88,135.84h0.01M454.85,172.03h0.01M457.37,140.47h0.01M455.23,143.04h0.01M454.68,122.88h0.01M465.02,129.23h0.01M430.85,124.23h0.01M418.17,127.02h0.01M456.01,132.58h0.01M465.1,147.13h0.01M444.41,178.81h0.01M432.77,129.47h0.01M444.1,123.28h0.01M419.99,139.18h0.01M455.34,138.62h0.01M454.5,142.89h0.01M456.77,163.09h0.01M442.3,184.97h0.01M459.64,184.06h0.01M435.79,123.39h0.01M454.05,169.69h0.01M447.31,128.55h0.01M424.46,183.01h0.01M449.54,125.98h0.01M461.98,132.63h0.01M458.47,174.27h0.01M457.37,164.4h0.01M458.77,172.42h0.01M455.35,148.24h0.01M456.72,161.6h0.01M424.95,125.71h0.01M455.81,152.94h0.01M456.89,129.86h0.01M448.13,126.84h0.01M452.09,173.11h0.01M462,134.73h0.01M457.48,158.92h0.01M453.21,176.16h0.01M457,159.39h0.01M454.95,136.23h0.01M470.22,130.57h0.01M456.01,147.6h0.01M464.25,130.74h0.01M433.07,126.99h0.01M426.94,121.66h0.01M443.85,124.32h0.01M425.21,182.26h0.01M437.05,120.96h0.01M452.68,153.48h0.01M454.72,146.11h0.01M444.22,121.52h0.01M456.94,178.04h0.01M451.19,180.82h0.01M489.71,125.4h0.01M449.9,155.31h0.01M443.35,130.13h0.01M455.56,175.32h0.01M448.03,132.78h0.01M468.2,137.33h0.01M427.38,119.93h0.01M424.63,182.73h0.01M442.3,179.45h0.01M423.85,122.89h0.01M453.39,135.78h0.01M453.73,157.82h0.01M433.55,181.85h0.01M455.07,179.76h0.01M468.18,138.27h0.01M472.46,138.69h0.01M458.16,136.8h0.01M457.31,167.9h0.01M419.86,128.92h0.01M455.94,174.18h0.01M464.56,140.08h0.01M451.16,176.69h0.01M470.01,122.74h0.01M478.32,129.18h0.01M417.9,173.45h0.01M452.97,179.54h0.01M458.97,158.3h0.01M454.88,150.77h0.01M419.5,170.11h0.01M423.23,184.96h0.01M470.69,137.15h0.01M441.09,182.75h0.01M449.38,128.11h0.01M464.46,127.1h0.01M458.91,174.41h0.01M448.19,179.16h0.01M460.28,156.86h0.01M462.65,123.92h0.01M456.9,186.28h0.01M440.23,148.92h0.01M454.72,137.16h0.01M454.22,137.59h0.01M417.16,137.98h0.01M457.35,160.88h0.01M450.84,149.24h0.01M465.86,122.29h0.01M448.12,131.36h0.01M455.9,135.48h0.01M460.61,174.2h0.01M463.13,141.74h0.01M425.83,128.95h0.01M464.63,134.28h0.01M451.54,159.14h0.01M472.31,134.95h0.01M430.34,125.52h0.01M456.3,158.96h0.01M453.58,138.07h0.01M470.67,135.17h0.01M443.97,179.53h0.01M435.82,176.22h0.01M431.99,182.67h0.01M485.68,126.66h0.01M457.18,175.29h0.01M454.54,177.57h0.01M470.46,140.54h0.01M455.17,140.87h0.01M463.87,180.64h0.01M454.16,136.23h0.01M457.03,136.51h0.01M478.72,122.53h0.01M480.93,130.49h0.01M457.22,152.68h0.01M459.6,132.92h0.01M452.1,189.12h0.01M416.36,174.46h0.01M454.2,173.07h0.01M452.91,146.06h0.01M477.43,135.65h0.01M475.38,136.49h0.01M471.44,137.61h0.01M458.44,142.04h0.01M439.3,128.71h0.01M456.92,130.45h0.01M431.15,124.86h0.01M445.54,180.18h0.01M457.08,137.12h0.01M456.61,130.88h0.01M458.5,138.38h0.01M479.29,132.32h0.01M419.97,124.89h0.01M440.11,182.11h0.01M455.88,140.7h0.01M456.75,139.34h0.01M420.19,129.12h0.01M473.55,133.66h0.01M438.41,184.3h0.01M456.53,132.83h0.01M417.23,176h0.01M463.48,134.05h0.01M478.39,131.73h0.01M450.85,151.85h0.01M464.81,190.37h0.01M466.18,135.73h0.01M461.41,132.45h0.01M452.63,160.83h0.01M453.06,177.57h0.01M449.34,176.89h0.01M421.25,162.31h0.01M457.58,140.08h0.01M453.56,179.51h0.01M435.04,187.21h0.01M436.16,181.45h0.01M453.26,174.64h0.01M422.66,129.68h0.01M475.81,137.33h0.01M451.93,174.08h0.01M477.99,127.83h0.01M424.33,123.69h0.01M425.45,120.45h0.01M416.52,144.51h0.01M427.27,122.47h0.01M439.98,122.58h0.01M457.92,134.23h0.01M446.14,180.08h0.01M459.39,171.78h0.01M416.26,148.64h0.01M456.39,172.22h0.01M427.5,127.33h0.01M458.38,145.8h0.01M454.07,135.36h0.01M443.64,124.94h0.01M441.11,125.33h0.01M421.25,187.6h0.01M455.93,158.45h0.01M460.36,176.21h0.01M458.07,184.18h0.01M460.19,137.6h0.01M454.92,171.72h0.01M427.75,181.87h0.01M450.64,175.36h0.01M474.67,149.24h0.01M440.85,122.05h0.01M456.09,182.81h0.01M455.3,142.65h0.01M472.19,131.53h0.01M454.61,140.42h0.01M471.62,128.54h0.01M457.85,127.75h0.01M453.35,181h0.01M452.95,125.82h0.01M451.42,126.87h0.01M417.9,181.62h0.01M489.83,129.25h0.01M434.21,181.53h0.01M427.35,121.73h0.01M446.6,128.67h0.01M457.88,172.11h0.01M418.1,181.62h0.01M480.36,129.71h0.01M438.79,123.36h0.01M462.56,178.42h0.01M452.8,164.33h0.01M442.34,182.25h0.01M466.28,134.73h0.01M450.77,132.42h0.01M465.22,137.4h0.01M430.7,124.63h0.01M456.22,127.3h0.01M422.25,184.61h0.01M471.09,133.9h0.01M461.59,133.75h0.01M425,129.34h0.01M454.37,175.22h0.01M431.19,130.07h0.01M460.02,183.16h0.01M427.12,123.65h0.01M472.78,129.64h0.01M453.43,171.94h0.01M471,134.68h0.01M453.43,129.44h0.01M456,188.64h0.01M441.29,184.91h0.01M466.91,133.5h0.01M453.74,148.58h0.01M466.47,170.08h0.01M417.88,182.63h0.01M456.59,140.58h0.01M435.41,125.08h0.01M418.46,184.47h0.01M455.85,130.95h0.01M453.5,130.98h0.01M457.25,131.27h0.01M451.73,175.1h0.01M457.94,180.57h0.01M455.34,148.37h0.01M456.39,160.58h0.01M464.85,132.86h0.01M453.6,167.24h0.01M429.24,121.85h0.01M420.92,123.58h0.01M428.52,187.35h0.01M455.1,150h0.01M456.48,177.48h0.01M462.32,133.54h0.01M448.73,128.81h0.01M456.28,179.11h0.01M459.52,160.3h0.01M455.09,172.58h0.01M465.11,133.67h0.01M456.43,135.26h0.01M446.1,127.4h0.01M453.03,140.92h0.01M454.27,132.33h0.01M421.28,183.93h0.01M489.12,130.82h0.01M438.37,121.99h0.01M443.25,124.33h0.01M454.95,170.31h0.01M457.72,141.98h0.01M435.92,181.73h0.01M453.12,130.72h0.01M449.43,183.92h0.01M458.46,153.6h0.01M459.06,135.68h0.01M453.24,166.18h0.01M448.34,180.8h0.01M473.65,127.59h0.01M455.84,178.64h0.01M465.09,138.83h0.01M455.81,177.67h0.01M456.24,173.25h0.01M434.44,183.31h0.01M477.97,134.52h0.01M418.87,183.85h0.01M429.85,126.89h0.01M422.27,125.22h0.01M451.7,142.95h0.01M471.38,130.92h0.01M452.92,146.82h0.01M416.45,169.53h0.01M457.36,147.21h0.01M462.5,132.28h0.01M440.28,128.97h0.01M453.8,161.45h0.01M454.34,172.25h0.01M466.55,134.65h0.01M478.09,133.28h0.01M452.62,173.11h0.01M456.91,172.19h0.01M453.02,154.16h0.01M465.03,127.5h0.01M454.21,150.14h0.01M462.05,143.42h0.01M416.74,152.7h0.01M452.77,172.21h0.01M471.69,130.31h0.01M457.54,173.09h0.01M460.9,171.72h0.01M471.41,120.92h0.01M454.38,145.37h0.01M455.33,154.65h0.01M416.52,181.15h0.01M419.06,129.07h0.01M467.26,125.94h0.01M481.19,130.16h0.01M459.79,162.77h0.01M479.14,131.29h0.01M463.55,173.42h0.01M417.93,182.48h0.01M420.59,123.85h0.01M468.21,147.49h0.01M451.5,176.35h0.01M473.39,125.53h0.01M475.66,128.97h0.01M460.5,132.96h0.01M457.16,165.25h0.01M452.09,149.88h0.01M448.16,127.31h0.01M445.77,121.73h0.01M416.6,131.53h0.01M455.96,130.57h0.01M432.65,124.72h0.01M456.37,143.41h0.01M458.8,180.41h0.01M422.56,123.79h0.01M462.44,130.32h0.01M418.59,181.75h0.01M437.16,178.59h0.01M469.49,130.5h0.01M422.09,122.05h0.01M460.05,170.66h0.01M452.05,163.52h0.01M427.53,127.27h0.01M440.8,120.65h0.01M476.94,132.81h0.01M416.99,183.71h0.01M451.92,132.18h0.01M477.86,125.77h0.01M461.15,151.54h0.01M476.76,129.32h0.01M459.01,139.37h0.01M440.62,123.86h0.01M429,186.72h0.01M453.92,128.99h0.01M431.18,123.06h0.01M456.45,177.69h0.01M462.81,162.37h0.01M449.47,167.35h0.01M469.75,141.11h0.01M453.23,183.01h0.01M457.49,135.52h0.01M487.38,125.45h0.01M418.7,178.82h0.01M453.85,168.2h0.01M424.25,126.96h0.01M453.69,155.81h0.01M456.17,128.75h0.01M416.31,162.1h0.01M426.4,130.03h0.01M455.01,166.69h0.01M470.71,129.21h0.01M452.63,178.3h0.01M454.3,127.08h0.01M437.85,181.74h0.01M450.78,119.33h0.01M471.97,189.59h0.01M463.66,127.71h0.01M456.94,161.18h0.01M423.34,181.42h0.01M441.93,181.4h0.01M452.86,178.19h0.01M426.25,123.39h0.01M444.57,182.97h0.01M453.25,176.59h0.01M444.13,179.3h0.01M465.58,126.16h0.01M455.44,135.97h0.01M474.92,131.75h0.01M452.95,166.55h0.01M461.31,158.6h0.01M453.26,155.82h0.01M422.31,125h0.01M454.1,128.71h0.01M421.06,126.35h0.01M459.16,134.46h0.01M472.75,135.08h0.01M458.38,131.04h0.01M484.49,131.59h0.01M477.04,134.32h0.01M458.48,174.25h0.01M429.9,185.66h0.01M440.74,120.13h0.01M464.5,152.82h0.01M459.96,142.78h0.01M456.19,166.29h0.01M456.87,165.99h0.01M456.9,134.99h0.01M453.94,178.65h0.01M419.42,127.26h0.01M434.35,180.63h0.01M452.07,177.43h0.01M462.4,125.96h0.01M429.76,180.97h0.01M463.83,126.41h0.01M459.5,176.7h0.01M453.7,130.59h0.01M460,129.07h0.01M444.3,128.75h0.01M464.08,122.64h0.01M462.45,180.93h0.01M478.04,132.7h0.01M461.34,165.6h0.01M447.81,128.32h0.01M457.28,128.18h0.01M420.4,180.71h0.01M459.62,163.14h0.01M443.66,181.94h0.01M432.37,178.35h0.01M460.45,171.25h0.01M429.75,186.69h0.01M447.03,127.66h0.01M453.52,145.32h0.01M456.13,134.04h0.01M420.55,182.47h0.01M470.31,129.85h0.01M454.08,134.94h0.01M419.07,131.31h0.01M456.99,178.3h0.01M421.31,123.99h0.01M437.48,124.15h0.01M456.1,151.01h0.01M454.95,140.38h0.01M455.64,133.14h0.01M457.91,174.16h0.01M446.8,176.57h0.01M456.92,149.79h0.01M456.6,144.48h0.01M456.75,133.87h0.01M478.99,137.62h0.01M477.73,121.88h0.01M459.22,154.29h0.01M454.04,165.43h0.01M457.16,136.99h0.01M436.84,128.93h0.01M459.07,132.44h0.01M424.37,122.7h0.01M472.6,129.4h0.01M452.37,152.72h0.01M441.69,182.11h0.01M422.62,127.64h0.01M443.14,185.01h0.01M452.2,131.8h0.01M423.01,130.56h0.01M440.5,182.36h0.01M459.65,136.53h0.01M445.09,180.78h0.01M464.86,129h0.01M454.77,129.69h0.01M453.01,131.43h0.01M444.11,184.69h0.01M481.68,125.75h0.01M459.36,136.44h0.01M416.66,130.98h0.01M425.5,129.53h0.01M454.85,185.05h0.01M463.41,143.32h0.01M474.25,128.53h0.01M424.19,181.31h0.01M467.42,161.6h0.01M482.46,127.29h0.01M452.18,181.38h0.01M416.44,130.07h0.01M457.39,135.56h0.01M441.64,180.4h0.01M445.36,181.93h0.01M457.54,144.65h0.01M451.04,168.73h0.01M453.67,142.47h0.01M435.72,183.62h0.01M463.64,134.98h0.01M454.05,177.31h0.01M454.32,160.73h0.01M437.74,125.24h0.01M439.5,125.7h0.01M460.41,146.12h0.01M453.68,140.49h0.01M455.83,155.45h0.01M456.08,130.96h0.01M455.4,144.4h0.01M471.8,125.19h0.01M460.36,128.97h0.01M472.16,142.69h0.01M455.14,144.88h0.01M454.45,174.59h0.01M460.57,146.53h0.01M452.41,164.84h0.01M456.65,175.69h0.01M423.74,182.71h0.01M446.38,126.64h0.01M418.25,125.65h0.01M456.98,183h0.01M478.3,133.48h0.01M449.39,180.86h0.01M459.44,136.18h0.01M442.84,125.23h0.01M454.59,170.19h0.01M474.49,133.69h0.01M454.39,179.21h0.01M456.73,134.85h0.01M420.92,182.83h0.01M431.4,125h0.01M463.57,133.67h0.01M451.85,173.84h0.01M458.4,171.16h0.01M431.79,180.81h0.01M454.85,174.23h0.01M469.98,131.34h0.01M468.1,139.8h0.01M459.69,178.49h0.01M452.1,146.09h0.01M458.3,133.04h0.01M453.91,129.53h0.01M440.42,183.74h0.01M453.96,136.38h0.01M458.79,135.02h0.01M448.17,180.98h0.01M453.56,176.96h0.01M456.96,134.24h0.01M442.34,182h0.01M458.03,129.34h0.01M456.47,136.59h0.01M449.87,168.09h0.01M460.69,180.05h0.01M462.12,137.26h0.01M448.11,124.11h0.01M462.91,136.61h0.01M456.98,159.05h0.01M454.24,138.77h0.01M457.03,138.9h0.01M456.07,176.6h0.01M449.69,183.36h0.01M465.91,137.17h0.01M457.74,129.21h0.01M455.99,129.21h0.01M454.86,128.01h0.01M476.73,132.17h0.01M440.53,125.75h0.01M450.04,136.14h0.01M452.71,175.79h0.01M419.04,175.39h0.01M455.4,132.8h0.01M457.34,134.62h0.01M453.07,159.47h0.01M457.62,137.24h0.01M438.28,181.34h0.01M457.85,174.36h0.01M455.77,138.62h0.01M420.04,181.66h0.01M458.88,134.87h0.01M440.05,180.76h0.01M453.41,164.12h0.01M421.32,181.58h0.01M456.92,134.75h0.01M459.27,134.78h0.01M457.35,133.66h0.01M459.03,134.78h0.01M433.56,185.77h0.01M467.74,123.07h0.01M430.27,180.41h0.01M464.03,134.51h0.01M470.08,129.56h0.01M455.14,133.5h0.01M458.85,144.75h0.01M477.56,130.38h0.01M463.61,137.33h0.01M453.46,162.88h0.01M445.25,175.94h0.01M457.64,175.88h0.01M453.75,182.26h0.01M457.24,161.68h0.01M443.28,123.28h0.01M430.76,183.15h0.01M452.22,136.5h0.01M471.08,130.1h0.01M417.87,132.5h0.01M479.36,125.53h0.01M451.96,129.85h0.01M446.39,181.22h0.01M450.94,175.48h0.01M454.7,136.63h0.01M416.1,181.46h0.01M447.99,127.21h0.01M447.32,124.43h0.01M466.67,136.39h0.01M455.39,152.76h0.01M440.21,125.41h0.01M460.62,135.78h0.01M446.93,125.14h0.01M458.31,172.23h0.01M456.97,137.68h0.01M453.9,143.27h0.01M451.06,133.66h0.01M473.73,134.05h0.01M456.11,140.96h0.01M458.44,153.48h0.01M454.9,131.43h0.01M429.14,124.81h0.01M458.35,129.09h0.01M466.45,175.5h0.01M456.68,167.66h0.01M462.77,155.46h0.01M458.73,126.57h0.01M426.15,183.04h0.01M447.06,128.17h0.01M455.06,141.54h0.01M455.16,179.68h0.01M459.36,123.01h0.01M449.17,178.48h0.01M477.27,138.63h0.01M452.96,167.17h0.01M469.53,139.34h0.01M432.22,184.45h0.01M453.07,135.85h0.01M440.73,121.94h0.01M453.28,126.52h0.01M457.91,129.46h0.01M472.58,129.75h0.01M421.42,130.08h0.01M435.4,125.37h0.01M433.84,181.47h0.01M468.97,130.71h0.01M446.51,174.91h0.01M464.41,170.02h0.01M450.84,171.3h0.01M469.27,135.14h0.01M453.6,181.89h0.01M451.06,127.23h0.01M467.26,136.22h0.01M443.15,121.67h0.01M424.72,127.65h0.01M461.72,134.08h0.01M448.05,126.55h0.01M418.48,187.68h0.01M453.25,129.94h0.01M445.44,176.54h0.01M462.62,138.88h0.01M456.62,138.52h0.01M456.59,143.05h0.01M418.87,125.75h0.01M483.1,118.26h0.01M453.32,142.2h0.01M439.31,176.37h0.01M461.93,189.02h0.01M449.07,126.78h0.01M456.13,161.73h0.01M464.08,173.44h0.01M452.93,149.13h0.01M452.35,169.34h0.01M454.21,170.55h0.01M454.93,137.27h0.01M453.69,134.96h0.01M423.95,183.88h0.01M443.04,179.21h0.01M460.99,136.05h0.01M418.23,130.29h0.01M441.08,121.86h0.01M471.52,120.22h0.01M475.29,126.01h0.01M455.5,166.51h0.01M453.43,127.12h0.01M443.79,125.53h0.01M438.7,180.31h0.01M459.15,145.23h0.01M478.72,130.77h0.01M455.18,133.51h0.01M444.25,127.77h0.01M464.97,122.45h0.01M423.14,187.91h0.01M446.36,183.09h0.01M424.82,182.94h0.01M437.96,123.76h0.01M444.54,127.28h0.01M434.22,119.48h0.01M473.95,128.34h0.01M461.47,140.1h0.01M467.12,127.57h0.01M433.03,125.83h0.01M454.3,127.44h0.01M438.6,125.35h0.01M458.02,179.33h0.01M452.91,170.29h0.01M461.86,136.53h0.01M432.69,123.32h0.01M452.01,127.43h0.01M435.04,184.56h0.01M444.5,130.11h0.01M447.06,127.34h0.01M444.47,122.89h0.01M458.18,181.19h0.01M449.29,125.94h0.01M416.9,130.62h0.01M459.69,167.23h0.01M427.17,127.24h0.01M460.63,136.56h0.01M462.55,134.35h0.01M462.16,131.09h0.01M428.8,176.66h0.01M467.04,130.43h0.01M463.49,134.28h0.01M463.58,132.51h0.01M461.32,141.58h0.01M454.65,134.31h0.01M431.31,179.59h0.01M459.73,128.07h0.01M457.4,172.65h0.01M461.15,183.42h0.01M434.2,125.3h0.01M470.3,133.61h0.01M446.24,125.66h0.01M458.7,134.07h0.01M454.63,173.19h0.01M457.26,160.78h0.01M423.99,129.44h0.01M446.74,128.95h0.01M455.35,129.59h0.01M419,180.39h0.01M463.71,143.03h0.01M440.47,181.84h0.01M455.22,141.1h0.01M466.95,128.75h0.01M462.54,167.89h0.01M476.37,123.75h0.01M451.75,148.46h0.01M454.04,175.06h0.01M418.76,184.47h0.01M473.62,126.29h0.01M453.85,173.34h0.01M421.79,129.09h0.01M471.36,129.12h0.01M458.09,183.32h0.01M453.36,154.03h0.01M456.65,135.3h0.01M459.04,168.69h0.01M448.18,128.98h0.01M420.72,176.21h0.01M455.24,154.94h0.01M429,181.41h0.01M454.9,134.12h0.01M461.56,137.92h0.01M416.54,184.43h0.01M457.25,154.55h0.01M467.1,187.36h0.01M448.71,126.14h0.01M458.66,135.32h0.01M462.34,137.49h0.01M456.75,135.6h0.01M458.58,167.51h0.01M462.05,141.28h0.01M453.83,152.66h0.01M455.02,159.07h0.01M473.2,127.43h0.01M456.66,137.32h0.01M454.75,127.53h0.01M463.3,128.27h0.01M451.63,168.52h0.01M459.38,138.78h0.01M477.29,128.96h0.01M453.66,136.46h0.01M467.36,184.71h0.01M455.83,137.83h0.01M453.7,175.14h0.01M438.64,186.64h0.01M461.09,169.98h0.01M459.58,144.05h0.01M446.79,127.73h0.01M459.45,163.96h0.01M429.5,183.71h0.01M455.75,154.88h0.01M454.85,141.67h0.01M437.78,183.32h0.01M472.73,127.25h0.01M454.34,177.12h0.01M461.74,182.75h0.01M455.14,172.56h0.01M431.59,183.23h0.01M455.24,145.27h0.01M459.13,140.85h0.01M463.23,131.8h0.01M461.14,146.65h0.01M451.01,129.38h0.01M421.78,127.93h0.01M436.14,121.74h0.01M445.05,122.68h0.01M485.92,131.73h0.01M421.18,146.24h0.01M454.2,126.71h0.01M454.49,140.62h0.01M418.51,127.05h0.01M459.57,162.44h0.01M470.97,130.91h0.01M467.73,133.39h0.01M484.15,134.38h0.01M433.03,124.99h0.01M449.05,138.9h0.01M460.91,182.38h0.01M456.73,167.65h0.01M455.32,171.79h0.01M462.4,133.33h0.01M454.23,129.48h0.01M457.35,131.17h0.01M426.61,183.27h0.01M459.38,134.06h0.01M452.09,167.92h0.01M457.77,162.57h0.01M456.54,132.17h0.01M419.18,184.41h0.01M418.24,180.26h0.01M479.66,129.45h0.01M453.82,170.24h0.01M454.48,128.87h0.01M461.59,130.05h0.01M460.99,168.27h0.01M451.23,126.61h0.01M456.4,183.34h0.01M452.82,169.02h0.01M455.6,145.74h0.01M458.03,182.73h0.01M466.28,136.85h0.01M433.92,124.41h0.01M484.39,146.43h0.01M489.93,140.74h0.01M454.46,131.89h0.01M432.22,184.82h0.01M450.05,176.78h0.01M467.21,133.69h0.01M446.73,177.85h0.01M441.97,182.01h0.01M433.2,181.22h0.01M419.85,183.93h0.01M455.49,182.23h0.01M459.83,138.3h0.01M456.4,164.86h0.01M453.26,137.35h0.01M437.86,185.42h0.01M455.39,141.05h0.01M459.67,163.31h0.01M453.11,130.3h0.01M459.7,161.66h0.01M453.19,167.78h0.01M469.54,127.61h0.01M464.29,140.58h0.01M451.55,179.1h0.01M471.42,132.84h0.01M427.19,187.62h0.01M464.82,130.69h0.01M440.62,125.35h0.01M424.59,182.18h0.01M459.92,131.9h0.01M464.76,136.52h0.01M425.45,179.01h0.01M462.04,129.22h0.01M452.83,166.99h0.01M460.87,138.58h0.01M449.21,132.42h0.01M461.74,123.84h0.01M436.09,128.42h0.01M442.57,122.44h0.01M436.4,185.09h0.01M456.32,132.59h0.01M447.2,127.76h0.01M425.38,182.19h0.01M458.34,172.89h0.01M452.71,170.04h0.01M455.47,136.77h0.01M459.07,126.53h0.01M465.69,136.33h0.01M456.32,170.85h0.01M468.53,134.64h0.01M463.26,133.52h0.01M452.6,162.75h0.01M443.65,181.11h0.01M445.34,181.82h0.01M455.95,136.93h0.01M454.24,162.51h0.01M432.29,128.29h0.01M426.94,185.35h0.01M458.78,137.94h0.01M457.13,164.7h0.01M463.52,122.19h0.01M466.76,184.73h0.01M455.81,183.82h0.01M458.12,137.13h0.01M422.78,183.59h0.01M452.48,163.47h0.01M454.02,155.78h0.01M442.6,121.61h0.01M458.87,125.34h0.01M459.61,142.46h0.01M455.97,142.17h0.01M419.92,130.28h0.01M431.76,124.06h0.01M426.73,184.74h0.01M457.04,172.21h0.01M470.61,168.85h0.01M458.21,153.06h0.01M453.77,136.6h0.01M420.53,181.17h0.01M463.62,136.76h0.01M419.34,161.32h0.01M461.33,127.88h0.01M454.55,122.24h0.01M456.14,140.57h0.01M454.74,134.24h0.01M458.88,180.25h0.01M466.14,132.54h0.01M455.99,156.46h0.01M454.24,142.16h0.01M468.08,134.69h0.01M476.24,137.2h0.01M435.39,178.93h0.01M435.01,182.42h0.01M452.87,179.1h0.01M457.28,143.5h0.01M417.08,152.14h0.01M427.86,124.26h0.01M460.21,136.85h0.01M432.58,179.57h0.01M455.45,155.23h0.01M456.07,172.67h0.01M460.92,168.3h0.01M447.51,183.01h0.01M473.55,130.67h0.01M453.28,162.02h0.01M480.13,131.11h0.01M459.67,133.85h0.01M417.03,127.21h0.01M458.43,131.9h0.01M467.3,129.84h0.01M468.78,174.23h0.01M430.63,128.58h0.01M466.7,132.77h0.01M417.25,146.13h0.01M450.45,123.92h0.01M445.7,179.84h0.01M453.26,135.88h0.01M461.95,126.63h0.01M440.39,179.46h0.01M427.81,127.2h0.01M456.42,142.31h0.01M479.82,128.98h0.01M466.75,134.97h0.01M448.44,127.03h0.01M456.02,131.8h0.01M459.05,184.95h0.01M425.89,179.84h0.01M443.93,136.75h0.01M468.89,146.53h0.01M425.98,181.92h0.01M417.9,124.82h0.01M455.87,138.32h0.01M472.54,135.3h0.01M458.04,184.53h0.01M466.37,124.59h0.01M455.13,141.82h0.01M456.15,168.83h0.01M459.17,158.4h0.01M457.07,139.2h0.01M419.55,125.94h0.01M428.12,184.5h0.01M445.55,125.73h0.01M442.9,152.1h0.01M441.69,186.54h0.01M435.18,122.99h0.01M459.36,187.64h0.01M416.65,128.53h0.01M457.48,138.22h0.01M471.62,132.36h0.01M452.72,158.38h0.01M435.03,122.37h0.01M456.45,130.39h0.01M456.04,160.06h0.01M466.2,127.94h0.01M455.06,140.53h0.01M454.04,143h0.01M439.39,183.11h0.01M455.9,125.58h0.01M452.68,155.56h0.01M460.88,182.05h0.01M457.94,178.95h0.01M448.96,170.51h0.01M423.22,184.95h0.01M464.05,138.18h0.01M472.83,123.54h0.01M457.58,171.74h0.01M463.54,138.23h0.01M454.43,164.68h0.01M467.67,133.04h0.01M447.47,120.06h0.01M457.25,133h0.01M416.76,131.33h0.01M445.66,181.12h0.01M441.53,182.41h0.01M456.64,145.18h0.01M460.07,183.63h0.01M428.87,123.73h0.01M418.78,187.36h0.01M472.49,122.81h0.01M422.42,185.33h0.01M454.85,136.12h0.01M476.58,136.85h0.01M420.17,127.72h0.01M456.87,156.72h0.01M478.83,132.14h0.01M465.29,132.49h0.01M425.61,183.79h0.01M473.68,132.44h0.01M433.7,123.92h0.01M474.09,122.37h0.01M453.38,177.32h0.01M455.45,137.76h0.01M418.77,179.6h0.01M455.96,132.43h0.01M438.53,121.51h0.01M445.25,178.4h0.01M454.09,159.55h0.01M452.01,146.12h0.01M428.75,125.04h0.01M452.32,169.57h0.01M435.09,180.13h0.01M452.29,172.59h0.01M467.19,123.46h0.01M455.1,131.02h0.01M464.37,178.76h0.01M453.73,165.58h0.01M439.71,122.03h0.01M465.95,160.72h0.01M469.6,137.23h0.01M424.04,131.16h0.01M457.25,141.84h0.01M463.02,139.47h0.01M456.5,138.01h0.01M453.93,148.03h0.01M423.73,124.35h0.01M446.58,181.94h0.01M446.54,182.6h0.01M461.03,130.11h0.01M472.21,135.76h0.01M494.22,124.63h0.01M470.22,144.38h0.01M446.36,127.99h0.01M419.1,127.03h0.01M461.15,146.96h0.01M452.92,142.16h0.01M461.75,129.53h0.01M454.81,155.51h0.01M447.89,174.57h0.01M452.06,165h0.01M454.66,145.54h0.01M456.57,139.61h0.01M456.1,131.8h0.01M439.74,126.7h0.01M447.65,179.79h0.01M456.59,137.31h0.01M456.88,169.66h0.01M417.23,126.79h0.01M448.08,173.36h0.01M454.81,133.41h0.01M456.13,150.26h0.01M450.36,128.42h0.01M460.59,175.56h0.01M458.38,137.81h0.01M456.81,138.03h0.01M452.27,175.04h0.01M446.61,129.66h0.01M464.43,123.51h0.01M427.23,123.96h0.01M455.1,152.45h0.01M456.88,162.24h0.01M463.65,138.66h0.01M462.95,131.01h0.01M459.81,133.27h0.01M482.37,122.49h0.01M427.21,121.62h0.01M422.32,178.62h0.01M456.9,178.6h0.01M457.75,166.82h0.01M455.31,164.25h0.01M422.67,126.04h0.01M455.03,137.88h0.01M455,134.43h0.01M455.09,133.86h0.01M461.99,140.22h0.01M456.98,157.07h0.01M420.29,131.01h0.01M464.89,132.12h0.01M470.38,141.96h0.01M452.7,178.63h0.01M423.05,127.27h0.01M457.1,140.93h0.01M455.21,136.66h0.01M422.15,180.17h0.01M453.79,170.6h0.01M455.09,155.23h0.01M452.01,172.16h0.01M442.04,120.94h0.01M446.32,180.73h0.01M422.24,181.83h0.01M460.43,148.66h0.01M427.53,181.81h0.01M459.73,127.85h0.01M420.51,128.5h0.01M456.87,151.64h0.01M457.4,148.39h0.01M456.91,153.93h0.01M454.41,181.48h0.01M456.86,178.58h0.01M453.96,165.75h0.01M444.8,176.76h0.01M456.6,131.94h0.01M456.37,137.24h0.01M467.27,136.47h0.01M467.77,175.35h0.01M458.81,140.46h0.01M458.03,144.1h0.01M449.94,130.28h0.01M459.27,133.38h0.01M480.8,120.84h0.01M453.89,122.48h0.01M443.38,127.09h0.01M454.02,169.81h0.01M457.29,179.11h0.01M436.51,185.1h0.01M451.09,131.41h0.01M460.33,136.57h0.01M417.28,129.23h0.01M459.64,136.48h0.01M451.81,141.27h0.01M474.6,127.13h0.01M416.64,127.64h0.01M449.96,137.33h0.01M454.73,138.93h0.01M453.81,136.74h0.01M454.19,140.97h0.01M454.37,183.61h0.01M471.43,134.17h0.01M457.7,150.34h0.01M454.1,134.68h0.01M465.29,183.78h0.01M475.68,129.71h0.01M458.5,146.09h0.01M456.24,167.24h0.01M455.91,127.84h0.01M419.92,179.93h0.01M416.68,131.16h0.01M452.39,143.58h0.01M440.45,148.27h0.01M459.3,151.8h0.01M455.67,166.13h0.01M433.13,128.41h0.01M454.75,127.82h0.01M453.45,159.94h0.01M481.37,118.44h0.01M466.9,130.63h0.01M417.63,180.43h0.01M434,121.43h0.01M467.88,130.49h0.01M452.97,180.11h0.01M453.49,134.97h0.01M421.78,183.34h0.01M451.47,174.59h0.01M429.44,123.93h0.01M451.13,184.02h0.01M460.36,139.07h0.01M459.79,174.9h0.01M472.35,130.47h0.01M462.9,162.44h0.01M417.57,183.58h0.01M424.03,180.65h0.01M449.5,169.45h0.01M459.72,132.84h0.01M473.8,128.01h0.01M422.44,128.55h0.01M452.87,173.79h0.01M455.57,130.89h0.01M462.14,183.46h0.01M455.52,133.32h0.01M478.82,125.67h0.01M452.26,174.65h0.01M432.5,126.18h0.01M421.46,119.99h0.01M472.09,128.18h0.01M463.5,141.9h0.01M458.4,153h0.01M457.65,140.19h0.01M437.21,182.24h0.01M456.82,137.58h0.01M417.43,126.99h0.01M459.14,140.44h0.01M457.58,131.19h0.01M446.73,126.58h0.01M464.06,130.5h0.01M459.08,141.54h0.01M428.3,183.24h0.01M427.26,183.35h0.01M454.36,174.27h0.01M455.18,163.63h0.01M453.99,172.14h0.01M458.27,155.45h0.01M457.73,138.17h0.01M460.88,135.49h0.01M459.58,177.59h0.01M455.82,147.21h0.01M452.91,129.52h0.01M433.91,185.18h0.01M453.76,166.02h0.01M456.87,134.58h0.01M456.53,157.2h0.01M447.09,123.79h0.01M443.23,124.22h0.01M474.38,131.03h0.01M445.7,181.06h0.01M467.76,117.89h0.01M461.36,136.8h0.01M451.3,129.99h0.01M455.66,161.29h0.01M428.34,182.07h0.01M453.59,133.46h0.01M487.11,124.68h0.01M455.77,150.43h0.01M441.64,187.68h0.01M456.54,130.72h0.01M454.87,132.1h0.01M457.23,184.82h0.01M454.48,168.88h0.01M455.79,151.46h0.01M450.79,108.07h0.01M464.26,129.26h0.01M476.61,135.09h0.01M441.78,186.06h0.01M475.24,132.06h0.01M465.48,131.49h0.01M419.6,184.36h0.01M419.94,147.09h0.01M454.29,164.42h0.01M433.36,123.5h0.01M462.08,131.73h0.01M457.1,165.18h0.01M455.71,128.4h0.01M454.3,150.64h0.01M442.87,182.87h0.01M429.46,126.7h0.01M446.48,128.92h0.01M465.03,172.98h0.01M443.51,124.75h0.01M487.74,130.65h0.01M457.88,141.2h0.01M424.24,184.88h0.01M464.42,131.47h0.01M424.19,124.67h0.01M453.14,131.35h0.01M454.5,175.4h0.01M480.77,123.91h0.01M450.87,121.07h0.01M429.33,181.74h0.01M440.24,120.72h0.01M461.87,137.67h0.01M418.53,182.47h0.01M453.58,145.29h0.01M453.53,130h0.01M453.6,170.8h0.01M458.28,161.08h0.01M453.99,152.97h0.01M475.78,131.51h0.01M455.11,159.01h0.01M449.05,122.71h0.01M471.18,126.43h0.01M429.42,125.14h0.01M456.38,133.31h0.01M455.56,177.21h0.01M465.91,144.32h0.01M455.37,176h0.01M449.11,125.39h0.01M436.35,164.58h0.01M450.12,121.39h0.01M453.4,135.6h0.01M459.96,168.31h0.01M454.8,130.39h0.01M453.79,134.4h0.01M456.6,128.42h0.01M464.76,135.8h0.01M462.9,132.71h0.01M452.05,131.11h0.01M429.7,123.29h0.01M454.61,177.92h0.01M453.74,176.63h0.01M446.47,177.35h0.01M449.93,181.91h0.01M455.47,172.38h0.01M449.56,120.53h0.01M452.2,139.53h0.01M460.25,157.68h0.01M460.78,167.3h0.01M439.61,122.09h0.01M478.02,130.19h0.01M449.43,184.54h0.01M476.86,132h0.01M421.48,186.97h0.01M437.79,140.84h0.01M477.23,132.79h0.01M454.94,187.52h0.01M420.75,131.9h0.01M449.85,174.32h0.01M479.77,125.64h0.01M421.68,186.5h0.01M442.89,128.4h0.01M458.26,133.29h0.01M456.73,169.68h0.01M460.61,140.87h0.01M428.66,179.36h0.01M464.61,133.12h0.01M417.72,177.19h0.01M420.83,128.04h0.01M454.06,151.28h0.01M423.41,125.63h0.01M472.78,129.06h0.01M455.4,135.37h0.01M469.81,135.02h0.01M433.28,181.41h0.01M426.14,125.16h0.01M457.45,175.41h0.01M493.32,120.85h0.01M442.32,182.23h0.01M453.62,149.64h0.01M455.76,160.24h0.01M456.85,183.23h0.01M448.59,124.33h0.01M456.42,133.79h0.01M450.94,180.74h0.01M446.71,179.75h0.01M463.34,133.95h0.01M420.44,184.46h0.01M455.53,161.54h0.01M457.89,169.6h0.01M425.59,128.81h0.01M445.69,180.47h0.01M456.95,139.9h0.01M423.36,126.76h0.01M439.78,182.01h0.01M457.86,170.96h0.01M465.45,132.22h0.01M449.9,129.33h0.01M443.94,122.85h0.01M455.23,162.4h0.01M466.05,124.7h0.01M416.22,140.12h0.01M469.26,140.31h0.01M466.71,171.47h0.01M423.7,182.23h0.01M459.62,142.13h0.01M469.32,132.24h0.01M478.64,126.95h0.01M470.43,134.94h0.01M472.41,123.9h0.01M464.27,130.01h0.01M438.94,184.69h0.01M456.37,154.84h0.01M456.42,159.25h0.01M432.64,125.32h0.01M461.13,174.82h0.01M452.81,173.75h0.01M420.27,184.22h0.01M457.12,149.96h0.01M454.01,140.27h0.01M442.81,187.7h0.01M455.77,132.86h0.01M421.68,130.68h0.01M456.79,137.73h0.01M456,129.93h0.01M465.64,137.24h0.01M470.43,136.68h0.01M468.69,130.12h0.01M455.51,182.22h0.01M453.79,131.79h0.01M453.33,139.09h0.01M454.22,133.5h0.01M453.73,134.8h0.01M455.17,154.8h0.01M454.71,151.49h0.01M459.25,174.83h0.01M459.71,171.95h0.01M452.2,165.32h0.01M474.33,128.71h0.01M448.92,181.71h0.01M424.85,125.18h0.01M431.84,126.98h0.01M460.04,132.35h0.01M456.96,163.74h0.01M458.07,138.45h0.01M452.74,129.38h0.01M457.05,169.17h0.01M450.52,124.03h0.01M457.26,130.46h0.01M429.9,179.51h0.01M454.65,167.97h0.01M457.18,163.85h0.01M434.47,183.6h0.01M446.62,178.04h0.01M453.04,177.75h0.01M456.03,161h0.01M474.31,132.52h0.01M475.39,128.8h0.01M453.47,134.06h0.01M453.64,169.59h0.01M436.27,122.87h0.01M462.01,134.98h0.01M422.02,183.64h0.01M440.18,182.83h0.01M428.17,183.21h0.01M457.99,128.91h0.01M433.47,183.27h0.01M449.11,123.41h0.01M477.65,137.08h0.01M424.05,185.72h0.01M446.22,125.64h0.01M445.3,173.31h0.01M416.29,173.6h0.01M466.47,127.9h0.01M455.62,170.43h0.01M456.04,155.04h0.01M423.53,126.25h0.01M452.96,176.04h0.01M452.23,153.24h0.01M466.75,131.98h0.01M457.04,126.74h0.01M456.19,169.17h0.01M453.29,129.5h0.01M458.56,159.34h0.01M461.66,138.62h0.01M454.99,137.63h0.01M457.14,137.03h0.01M455.82,134.18h0.01M444.83,184.33h0.01M456.21,125.72h0.01M453.41,123.92h0.01M453.12,140.81h0.01M437.18,183.67h0.01M421.76,127.25h0.01M452.61,181.3h0.01M433.36,178.06h0.01M459.08,129.53h0.01M453.81,139.32h0.01M456.32,161.84h0.01M478.88,144h0.01M457.64,173.03h0.01M448.08,126.19h0.01M433.24,124.13h0.01M426.09,123.85h0.01M456.08,140.67h0.01M454.36,136.61h0.01M454.39,137.29h0.01M424.16,123.48h0.01M423.11,182.33h0.01M466.92,130.8h0.01M452.16,166.17h0.01M458.66,165.29h0.01M458.18,131.84h0.01M446.18,124.67h0.01M452.61,147.43h0.01M419.32,180.18h0.01M441.52,180.63h0.01M454.29,177.91h0.01M454.53,150.99h0.01M477.49,125.09h0.01M450.18,179.4h0.01M453.02,177.09h0.01M450.98,123.66h0.01M469.79,134.11h0.01M467.09,135.23h0.01M459.21,140.12h0.01M479.85,131.52h0.01M447.89,172.64h0.01M464.4,138.44h0.01M484.34,131.71h0.01M458.44,147.88h0.01M416.29,164.91h0.01M426.52,183.76h0.01M456.28,141.86h0.01M465.58,132.83h0.01M453.34,128.23h0.01M478.35,131.33h0.01M470.79,122.49h0.01M441.79,123.96h0.01M457.03,130.66h0.01M448.2,128.33h0.01M455.05,168.54h0.01M455.35,142.89h0.01M451.79,127.99h0.01M479.87,128.1h0.01M465.45,166.14h0.01M442.06,183.53h0.01M434.73,183.5h0.01M455.35,154.35h0.01M454.68,129.7h0.01M458.72,124.82h0.01M468.93,175.44h0.01M457.96,167.47h0.01M450.03,180.52h0.01M478.16,121.03h0.01M417.82,156.26h0.01M418.77,136.74h0.01M455.45,146.16h0.01M453.74,176.18h0.01M469.26,134.58h0.01M453.98,159.4h0.01M454.69,164.65h0.01M452.25,141.18h0.01M449.6,176.19h0.01M451.49,175.29h0.01M465.87,137.28h0.01M446.55,127.34h0.01M420.71,128.73h0.01M460.65,135.49h0.01M459.25,139.95h0.01M417.83,130.62h0.01M457.7,155.81h0.01M457.61,134.14h0.01M451.06,176.79h0.01M437.33,183.85h0.01M418.09,182.61h0.01M456.23,166.98h0.01M464.05,135.12h0.01M454.45,132.5h0.01M454.57,170.07h0.01M451.21,130.47h0.01M436,187.06h0.01M431.05,123.88h0.01M416.18,157.25h0.01M459.45,138.79h0.01M458.16,132.04h0.01M466.38,137.38h0.01M472.82,136.06h0.01M457.37,135.54h0.01M456.07,130.63h0.01M428.83,128.97h0.01M457.53,140.82h0.01M457.24,133.86h0.01M421.35,184.13h0.01M483.65,135.14h0.01M458.99,136.28h0.01M460.72,175.51h0.01M453.54,152.71h0.01M460.35,136.91h0.01M433.2,158.88h0.01M475.64,135.5h0.01M470.61,131.23h0.01M430.27,125.2h0.01M455.7,174.06h0.01M445.86,179.21h0.01M438.21,123.52h0.01M485.69,128.1h0.01M465.85,129.51h0.01M427.81,181.67h0.01M447.55,173.87h0.01M478.48,133.83h0.01M440.22,186.16h0.01M459.06,135.18h0.01M456.04,174.09h0.01M447.71,120.08h0.01M421.09,188.1h0.01M425.03,180.3h0.01M430.92,182.53h0.01M468.02,135.46h0.01M438.85,125.08h0.01M461.76,128.14h0.01M441.09,126.55h0.01M418.58,176.71h0.01M458.51,146.68h0.01M457.24,179.25h0.01M456.93,141.7h0.01M458.99,179.66h0.01M418.74,181.43h0.01M458.91,166.59h0.01M456.41,172.54h0.01M467.84,131.98h0.01M454.32,171.06h0.01M451.3,178.39h0.01M469.71,120.48h0.01M459.6,174.43h0.01M457.17,137.24h0.01M418.28,175.32h0.01M457.16,157.9h0.01M457.6,143.76h0.01M429.35,179.29h0.01M454.64,176.72h0.01M421.69,184.31h0.01M457.56,153.53h0.01M423.14,126.56h0.01M465.21,186.33h0.01M458.13,148.35h0.01M503.85,126.34h0.01M453.6,136.13h0.01M462.26,164.29h0.01M429.78,183.85h0.01M426.42,179.39h0.01M458.46,157.6h0.01M459.51,149.36h0.01M417.84,183.87h0.01M458.23,150.9h0.01M458.79,157.18h0.01M419.17,183.94h0.01M452.89,176.08h0.01M459.3,134.23h0.01M446.42,179.06h0.01M453.94,138.94h0.01M420.4,180.9h0.01M455.09,168.72h0.01M446.25,183.31h0.01M459.13,171.76h0.01M468.02,135.49h0.01M470.04,125.24h0.01M438.59,122.76h0.01M456.05,153.91h0.01M452.72,175.96h0.01M443.72,123.35h0.01M425.24,127.44h0.01M460.52,130.9h0.01M453.01,130.8h0.01M456.99,132.86h0.01M453.57,171.12h0.01M460.6,164.57h0.01M458.62,144.92h0.01M419.75,182.86h0.01M434.32,183.84h0.01M416.32,182.89h0.01M481.31,123.63h0.01M456.65,135.08h0.01M454.82,128.11h0.01M442.64,121.23h0.01M446.57,179.73h0.01M459.72,155.61h0.01M450.74,134.69h0.01M460.91,137.81h0.01M455.76,141.26h0.01M472.6,133.03h0.01M463.04,134.71h0.01M461.44,175.81h0.01M455.64,131.43h0.01M453.83,132.72h0.01M452.12,179.1h0.01M452.74,125.74h0.01M456.59,137.26h0.01M455.84,139.88h0.01M427.07,126.86h0.01M477.04,130.88h0.01M434.22,121.18h0.01M473.33,135.66h0.01M454.23,164.84h0.01M456.6,151.41h0.01M464.66,135.03h0.01M460.61,180.71h0.01M416.22,130.63h0.01M467.04,142.3h0.01M432.97,127.28h0.01M464.36,131.26h0.01M451.34,157.45h0.01M453.15,180.23h0.01M464.53,128.36h0.01M454,134.69h0.01M456.2,132.14h0.01M458.68,178.91h0.01M473.33,132.18h0.01M427.07,126.45h0.01M422.02,127.54h0.01M419.65,133.17h0.01M453.21,174.11h0.01M457.93,169.4h0.01M459.08,157.29h0.01M456.02,158.8h0.01M436.34,183.2h0.01M457.96,140.01h0.01M450.83,125.2h0.01M417.72,127.96h0.01M461.92,131.83h0.01M446.53,180.21h0.01M457.82,156.84h0.01M462.9,130.67h0.01M447.21,123.96h0.01M449.82,175.72h0.01M452.88,177.69h0.01M465.73,131.52h0.01M458.81,140.04h0.01M459.2,137.99h0.01M458.95,178.41h0.01M451.68,173.8h0.01M450.93,166.52h0.01M431.55,121.59h0.01M454.15,181.54h0.01M470.11,129.38h0.01M457.01,175.63h0.01M459.16,134.72h0.01M476.29,131.07h0.01M487,129.2h0.01M471.09,141.32h0.01M484.53,113.9h0.01M453.5,142.99h0.01M470.58,135.82h0.01M456.91,126.24h0.01M457.06,169.14h0.01M419.46,125.43h0.01M478.09,129.57h0.01M458.55,179.1h0.01M463.76,121.99h0.01M438.51,180.54h0.01M454.21,157.86h0.01M463.53,179.81h0.01M457.23,172.33h0.01M442.32,126.48h0.01M459.37,134.97h0.01M459.23,184.57h0.01M447.01,179.86h0.01M416.55,168.15h0.01M456.19,163.92h0.01M467.67,135.73h0.01M452.48,169.95h0.01M467.93,120.31h0.01M455.17,166h0.01M480.12,133.73h0.01M458.78,170.14h0.01M423.03,181.17h0.01M453.46,144.44h0.01M418.08,126.92h0.01M447.06,176.95h0.01M416.31,129.15h0.01M471.34,131.8h0.01M424.52,185.8h0.01M456.26,125.19h0.01M430.33,187.34h0.01M420.34,181.2h0.01M465.03,181.45h0.01M419.19,172h0.01M475.3,136.44h0.01M457.55,172.95h0.01M422.19,125.54h0.01M419.9,126.41h0.01M477.56,132.84h0.01M457.39,161.45h0.01M456.92,157.16h0.01M457.53,135.22h0.01M459.96,164.85h0.01M455.81,176.36h0.01M464.62,176.52h0.01M454.62,181.84h0.01M464.22,167.94h0.01M460.17,181.43h0.01M448.72,186.74h0.01M465.72,135.16h0.01M499.37,118.86h0.01M461.28,143.22h0.01M452.24,170.65h0.01M450.16,180.56h0.01M427.21,123.79h0.01M454.05,138.8h0.01M440.88,122.77h0.01M422.97,189.96h0.01M454.59,137.75h0.01M432.9,126.26h0.01M442.77,177.58h0.01M446.9,180.88h0.01M459.66,162.38h0.01M456.63,168.4h0.01M453.8,134.15h0.01M448.37,131.75h0.01M456.6,131.7h0.01M428.74,123.79h0.01M435.24,121.59h0.01M446.74,177.69h0.01M432.29,123.12h0.01M418.34,183.58h0.01M461.44,140.58h0.01M457.42,175.83h0.01M450.2,135.02h0.01M465.43,131.01h0.01M458.82,170.24h0.01M470.69,148.66h0.01M442.54,130.68h0.01M453.68,133.21h0.01M455,141.67h0.01M459.99,167.82h0.01M449.86,178.02h0.01M422.31,125.5h0.01M466.67,124.33h0.01M457.02,137.54h0.01M454.45,134.27h0.01M418.03,183.23h0.01M440.35,183.08h0.01M453.44,170.98h0.01M431.25,125.38h0.01M416.46,182.98h0.01M467.64,141.76h0.01M453.49,131.39h0.01M445.91,180.65h0.01M460.83,132.95h0.01M434.12,124.95h0.01M455.69,173.74h0.01M432.45,180.22h0.01M449.01,123.94h0.01M447.45,129.15h0.01M484.56,126.28h0.01M458.39,133.48h0.01M419.1,127.22h0.01M440.17,184.28h0.01M456.12,183.67h0.01M455,147.11h0.01M460.41,131.29h0.01M487.25,127.13h0.01M420.57,184.93h0.01M456.38,128h0.01M456.58,136.51h0.01M453.99,157.48h0.01M447.99,125.14h0.01M447.97,125.21h0.01M439.69,181.16h0.01M429.15,177.27h0.01M467.24,137.41h0.01M442.25,185.14h0.01M461.71,153.72h0.01M447.2,183.79h0.01M468.54,165.49h0.01M427.97,182.16h0.01M444.26,124.46h0.01M458.33,153.31h0.01M459.27,177.12h0.01M446.56,121.45h0.01M451.95,179.23h0.01M420.32,151.72h0.01M463.74,137.23h0.01M426.95,180.75h0.01M468.26,162.83h0.01M448.33,177.2h0.01M467.09,133.66h0.01M423.54,132.38h0.01M482.24,134.84h0.01M458.26,141.2h0.01M465.63,135.49h0.01M455.25,130.42h0.01M456.18,134.74h0.01M442.59,126.42h0.01M458.12,142.51h0.01M457.24,139.52h0.01M474.54,128.63h0.01M465.85,127.27h0.01M446.41,123.4h0.01M457.14,168.1h0.01M463.59,132.38h0.01M489.14,138.44h0.01M416.15,183.59h0.01M462.5,135.57h0.01M441.87,122.23h0.01M454.59,140.31h0.01M457.98,161.73h0.01M456.22,161.6h0.01M455.71,166.45h0.01M457.56,137.54h0.01M471.37,137.74h0.01M456.71,154.52h0.01M456.74,173.12h0.01M453.52,140.11h0.01M441.77,184.1h0.01M467.67,140.75h0.01M432.95,122.28h0.01M466.58,171.37h0.01M460.3,167.8h0.01M422.12,131.61h0.01M442.94,181h0.01M452.52,184.01h0.01M420.26,131.85h0.01M457.29,163.23h0.01M453.61,143.61h0.01M456.21,133.17h0.01M453.03,176.46h0.01M441.18,121.95h0.01M418.5,183.97h0.01M442.7,184.52h0.01M448.28,124.45h0.01M466.15,132.55h0.01M420.98,187.11h0.01M439.13,182.24h0.01M455.89,172.71h0.01M457.18,162.54h0.01M452.75,130.01h0.01M427.18,186.24h0.01M444.46,186.6h0.01M456.56,176.73h0.01M461.6,138.13h0.01M421.58,129.86h0.01M416.1,182.68h0.01M452.86,159.43h0.01M452.16,176.56h0.01M469.85,142.78h0.01M462.81,141.72h0.01M457.55,166.5h0.01M462.85,134.59h0.01M462.39,136.26h0.01M458.34,165.89h0.01M438.43,127.5h0.01M461.66,180.2h0.01M462.81,130.55h0.01M468.67,132.43h0.01M445.12,123.86h0.01M456.94,136.32h0.01M458.43,172.98h0.01M453.65,140.26h0.01M462.76,137.12h0.01M446.91,180.5h0.01M442.84,124.67h0.01M458.21,181.55h0.01M458.36,171.2h0.01M445,159.8h0.01M460.17,170h0.01M459.37,137.52h0.01M479.23,133.66h0.01M456.27,139.79h0.01M461.5,131.25h0.01M458.23,184.21h0.01M470.67,127.27h0.01M457.44,137.82h0.01M461.11,135.55h0.01M452.99,154.77h0.01M432.61,119.67h0.01M463.38,182.76h0.01M418.1,179.31h0.01M471.83,122.07h0.01M454.82,133.33h0.01M450.68,131.79h0.01M469.34,132.84h0.01M444.95,123.98h0.01M442.62,161.87h0.01M435.93,183.24h0.01M424.29,126.41h0.01M457.76,170.18h0.01M453.03,165.43h0.01M452.99,175.16h0.01M456.46,180.34h0.01M453.43,127.86h0.01M425.95,126.12h0.01M457.5,176.79h0.01M443.22,124.64h0.01M422.16,124.67h0.01M453.7,162.65h0.01M467.66,131.07h0.01M418.8,126.42h0.01M416.61,178.5h0.01M445.85,181.21h0.01M456,134.93h0.01M473.38,126.97h0.01M454.66,136.44h0.01M417.16,126.18h0.01M451.11,136.04h0.01M418.63,130.36h0.01M438.96,121.34h0.01M452.9,176.11h0.01M471.1,140.42h0.01M444.87,179.23h0.01M464.05,124.4h0.01M458.75,132.28h0.01M452.99,173.98h0.01M424.41,128.16h0.01M459.48,125.67h0.01M455.66,133.94h0.01M455.84,148.53h0.01M453.63,128.1h0.01M420.45,124.63h0.01M447.55,153.08h0.01M459.68,158.04h0.01M475.72,125.61h0.01M427.08,188.64h0.01M453.48,144.36h0.01M418.02,142.56h0.01M446.61,123.69h0.01M438.24,124.93h0.01M456.64,139.91h0.01M454.22,167.14h0.01M465.12,136.22h0.01M464.26,133.09h0.01M421.14,128.4h0.01M459.43,126.32h0.01M455.28,162.76h0.01M458.29,129.16h0.01M417.61,164.94h0.01M456.31,156.91h0.01M453.8,169.58h0.01M454.31,176.68h0.01M467.2,180.04h0.01M447.95,181.26h0.01M453.77,134.53h0.01M456.75,155.21h0.01M418.92,185.09h0.01M461.47,132.69h0.01M437.71,183.67h0.01M460.59,180.64h0.01M467.15,138.63h0.01M459.74,160.74h0.01M452.54,132.33h0.01M456.83,152.46h0.01M417.37,176.46h0.01M467.53,141.93h0.01M457.43,174.33h0.01M455.71,166.37h0.01M440.89,181.89h0.01M453.64,172.36h0.01M456.8,173.93h0.01M471.2,167.23h0.01M431.33,126.22h0.01M480.92,124.43h0.01M459.93,137.81h0.01M418.7,147.64h0.01M426.12,125.4h0.01M422.98,182.5h0.01M416.31,168.96h0.01M476.97,158.82h0.01M420.63,127.33h0.01M465.81,143.61h0.01M419.26,128.84h0.01M468.35,136.19h0.01M461.74,144.47h0.01M456.3,144.43h0.01M454.33,127.61h0.01M453.62,127.78h0.01M458.16,142.16h0.01M453.89,171.69h0.01M469.5,125.3h0.01M463.73,137.82h0.01M459.93,132.96h0.01M458.77,140.95h0.01M438.77,122.31h0.01M449.86,122.08h0.01M456.52,152.21h0.01M453.33,157.33h0.01M440.47,183.01h0.01M470.33,137.21h0.01M456.52,146.33h0.01M467.97,180.38h0.01M455.07,144.21h0.01M438.4,182.6h0.01M478.86,126.77h0.01M435.1,126.78h0.01M456.52,182.77h0.01M451.96,138.82h0.01M452.08,180.93h0.01M453.91,174.26h0.01M471.9,131.06h0.01M445.67,177.88h0.01M497.77,132.16h0.01M443.28,179.9h0.01M479.79,129.02h0.01M458.65,164.04h0.01M441.7,126.19h0.01M458.5,129.45h0.01M445.62,179.12h0.01M453.54,167.85h0.01M420.25,183.29h0.01M477.1,129.54h0.01M443.46,181.37h0.01M456.68,126.73h0.01M452.57,149.73h0.01M466.72,185.95h0.01M470.5,126.11h0.01M456.87,178.21h0.01M463.39,125.92h0.01M453.78,139.07h0.01M464.74,130.57h0.01M458.02,139.84h0.01M460.53,123.1h0.01M454.66,135.81h0.01M467.55,138.72h0.01M443.02,122.51h0.01M449.88,176.78h0.01M423.57,178.2h0.01M458.88,162.38h0.01M459.76,169.99h0.01M468.2,129.19h0.01M447.74,127.47h0.01M456.25,145.24h0.01M456.62,158.2h0.01M465.29,132h0.01M419.36,128.78h0.01M462.24,162.17h0.01M460.84,185.09h0.01M459.45,139.42h0.01M448.86,124.07h0.01M459.37,147.07h0.01M453.61,124.14h0.01M489.76,122.17h0.01M448.74,179.81h0.01M456.75,178.66h0.01M454.33,167.74h0.01M459.29,142.17h0.01M419.78,181.56h0.01M446.9,130.57h0.01M472.98,125.61h0.01M438.86,183.79h0.01M476.83,136.13h0.01M455.78,137.2h0.01M426.08,124.17h0.01M425.46,181.45h0.01M416.79,180.03h0.01M448.74,130.17h0.01M443.55,124.24h0.01M442.15,182.59h0.01M423.66,185.65h0.01M430.59,181.18h0.01M442.24,121.97h0.01M435.46,183.67h0.01M456.45,126.37h0.01M481.59,139.28h0.01M452.79,159.52h0.01M456.5,143.39h0.01M454.79,130.23h0.01M419.76,127.05h0.01M442.19,127.07h0.01M454.51,133.83h0.01M435.78,120.46h0.01M452.4,173.43h0.01M459.18,159.31h0.01M436.8,124.62h0.01M445.74,132.12h0.01M463.87,167.91h0.01M455.92,133.84h0.01M423.62,182.39h0.01M464.6,133.68h0.01M452.29,183.07h0.01M464.56,166.89h0.01M453.41,155.29h0.01M460.28,126.77h0.01M473.57,133.46h0.01M464.11,135.91h0.01M453.9,159.19h0.01M456.24,133.31h0.01M437.01,185.77h0.01M453.81,133.55h0.01M460.41,126.9h0.01M451.93,168.42h0.01M458.48,146.72h0.01M458.91,132.04h0.01M444.41,123.03h0.01M430.21,184.12h0.01M461.82,130.92h0.01M470.04,144.45h0.01M458.86,162.34h0.01M456.7,132.66h0.01M465.87,159.79h0.01M452.47,180.99h0.01M457.88,179.39h0.01M455.18,135.05h0.01M466.06,124.62h0.01M472.69,124.59h0.01M455.12,131.57h0.01M462.95,137.92h0.01M416.73,177.81h0.01M455.88,180.07h0.01M469.78,171.21h0.01M422.65,126.12h0.01M455.21,154.11h0.01M465.38,138.79h0.01M441.34,178.51h0.01M452.45,123.68h0.01M427.13,126.7h0.01M461.89,127.18h0.01M457.19,166.81h0.01M452.04,123.49h0.01M453.6,177.32h0.01M449.6,127.63h0.01M454.68,152.43h0.01M456.35,134.91h0.01M458.92,140.74h0.01M455.03,148.83h0.01M453.44,140.4h0.01M453.18,150.54h0.01M453.23,134.97h0.01M453.82,135.57h0.01M453.33,156h0.01M453.8,131.11h0.01M456.23,166.79h0.01M473.76,123.53h0.01M450.51,181.03h0.01M457.23,173.92h0.01M420.73,184.91h0.01M454.39,129.71h0.01M456.51,176.47h0.01M454.69,161.07h0.01M457.81,135.91h0.01M470.28,134.97h0.01M424.99,125.81h0.01M454.89,140.82h0.01M419.4,127.18h0.01M454.94,164.28h0.01M446.78,180.51h0.01M456.06,135.75h0.01M438.81,126.82h0.01M447.59,181.81h0.01M426.98,182.89h0.01M456.53,141.11h0.01M459.43,137.42h0.01M459.7,179.71h0.01M459.62,134.71h0.01M418.77,135.98h0.01M447.56,123.47h0.01M435.35,126h0.01M456.52,172.28h0.01M474.7,133.81h0.01M435.72,124.94h0.01M456.94,177.36h0.01M455.62,129.64h0.01M464.91,138.75h0.01M463.08,137.57h0.01M428.1,123.82h0.01M461.8,123.65h0.01M454.3,134.59h0.01M457.69,138h0.01M436.94,183.53h0.01M457.08,141.7h0.01M448.9,181.66h0.01M453.42,173.85h0.01M461.79,128.45h0.01M455.46,132.87h0.01M469.92,132.74h0.01M449.98,180.5h0.01M456.08,171.89h0.01M458.48,172.44h0.01M455.99,132.75h0.01M449.31,146.35h0.01M459.48,165.76h0.01M457.93,182.63h0.01M443.59,125.11h0.01M465.4,181.52h0.01M482.68,121.33h0.01M452.33,165.58h0.01M448.23,127.37h0.01M466.11,135.59h0.01M456.27,175h0.01M458.12,191.35h0.01M444.9,183.35h0.01M452.45,175.35h0.01M454.3,138.2h0.01M446.25,127.51h0.01M418.49,184.68h0.01M434.44,125.46h0.01M459.78,161.13h0.01M469.95,136.4h0.01M455.61,141.65h0.01M429.09,126.52h0.01M445.54,120.87h0.01M467.73,135.31h0.01M459.94,175.61h0.01M482.62,124.27h0.01M445.11,180.6h0.01M467.1,133.48h0.01M454.12,154.95h0.01M445.33,180.09h0.01M460.22,166.12h0.01M458.13,137.47h0.01M457.47,173.49h0.01M451.88,125.13h0.01M452.5,182.26h0.01M454.28,148.27h0.01M457.08,172.64h0.01M446.99,128.7h0.01M453.59,181.34h0.01M451.48,125.7h0.01M429.09,126.9h0.01M420.71,185.21h0.01M502.64,155.81h0.01M459.96,178.27h0.01M453.34,141.18h0.01M474.28,131.06h0.01M485.66,126.31h0.01M416.11,171.96h0.01M453.1,140.93h0.01M467.04,125.26h0.01M455.39,134.17h0.01M434.18,121.15h0.01M434.75,123.69h0.01M453.45,148.06h0.01M455.71,174.93h0.01M459,137.79h0.01M461.9,127.4h0.01M456.94,144.91h0.01M463.5,136.2h0.01M469.35,132.34h0.01M473.85,134.51h0.01M454.1,178.83h0.01M476.3,133.04h0.01M455.91,166h0.01M454.02,175.17h0.01M433.43,179.85h0.01M454.64,187.45h0.01M419.16,124.41h0.01M469.38,122.89h0.01M421.97,130.29h0.01M436.69,127.73h0.01M453.13,131.43h0.01M457.77,135.46h0.01M422.07,184.87h0.01M462.73,167.92h0.01M468.41,126.69h0.01M431.1,124.14h0.01M450.7,175.65h0.01M455.12,132.16h0.01M458.87,153.17h0.01M457.38,152.46h0.01M436.81,183.67h0.01M434.91,122.46h0.01M453.95,131.46h0.01M463.08,131.98h0.01M453.96,159.07h0.01M453.18,133.82h0.01M456.4,170.56h0.01M454.2,141.74h0.01M417.61,186.12h0.01M461.34,140.06h0.01M428.61,178.62h0.01M474.37,133h0.01M454.12,170.39h0.01M461.73,180.18h0.01M432.94,184.8h0.01M475.43,127.85h0.01M454.7,133.49h0.01M430,119.86h0.01M442.42,184.38h0.01M459.48,168.27h0.01M424.82,130.05h0.01M454.59,165.51h0.01M454.57,178.55h0.01M425.12,124.22h0.01M424.46,181.68h0.01M465.16,135.93h0.01M453.58,159.36h0.01M452.55,166.8h0.01M459.38,142.42h0.01M443.2,120.98h0.01M463.71,131.92h0.01M419.28,133.07h0.01M443.38,186.17h0.01M454.04,144.39h0.01M484.58,122.1h0.01M455.44,128.49h0.01M430.76,180.17h0.01M458.68,162.24h0.01M481.8,134.3h0.01M454.22,171.13h0.01M467.28,128.45h0.01M421.5,131.81h0.01M454.75,143.7h0.01M458.87,143.59h0.01M452.52,174.88h0.01M419.72,183.04h0.01M432.14,180.49h0.01M458.05,164.94h0.01M451.83,180.21h0.01M462.29,135.75h0.01M450.97,183.91h0.01M434.3,121.93h0.01M421.51,160.26h0.01M462.51,133.06h0.01M452.48,129.09h0.01M456.56,137.62h0.01M464.32,173.74h0.01M456.21,156.59h0.01M446.57,180.14h0.01M459.83,175.55h0.01M441.23,125.05h0.01M466.87,131.28h0.01M437.12,185.39h0.01M418.71,129.29h0.01M465.13,132.1h0.01M464.7,133.97h0.01M453.37,160.02h0.01M433.5,183.31h0.01M479.03,128h0.01M458.46,163.1h0.01M423.78,184.67h0.01M449.98,132.55h0.01M462.42,132.68h0.01M464.67,135.7h0.01M460.55,140.06h0.01M454.32,138.35h0.01M436.13,125.08h0.01M460.93,171.76h0.01M453.87,158.34h0.01M454.39,128.66h0.01M438.17,185.86h0.01M456.49,166.02h0.01M472.25,125.64h0.01M457.18,165.79h0.01M459.25,132.15h0.01M454.56,160.92h0.01M481.41,137.94h0.01M437.29,184.72h0.01M416.11,185.2h0.01M465.58,136.04h0.01M438.69,181.69h0.01M416.12,157.89h0.01M456.15,146.78h0.01M452.78,161.91h0.01M419.07,124.11h0.01M439.65,178.47h0.01M458.4,137.57h0.01M475.75,122.62h0.01M427.01,123.73h0.01M431.52,121.53h0.01M459.8,162.62h0.01M452.48,173.59h0.01M466.12,119.18h0.01M449.86,157.51h0.01M443.12,179.87h0.01M442.78,122.45h0.01M454.43,168.95h0.01M435.84,125.05h0.01M453.75,123.22h0.01M461.03,174.8h0.01M454.63,172.07h0.01M456.3,167.04h0.01M453.02,149.87h0.01M457.11,137.95h0.01M456.93,169.28h0.01M488.76,130.18h0.01M442.31,123.53h0.01M455.27,128.25h0.01M458.29,169.69h0.01M484.76,134.54h0.01M456.26,167.75h0.01M455.59,180.48h0.01M462.24,139.06h0.01M455.95,173.11h0.01M453.37,144.08h0.01M456.02,169.88h0.01M449.74,178.61h0.01M478.1,124.12h0.01M442.85,174.33h0.01M452.57,175.56h0.01M439.82,183.96h0.01M440.12,125.17h0.01M464.84,131.44h0.01M452.33,150.25h0.01M458.43,131.27h0.01M480.62,135.2h0.01M444.65,180.79h0.01M457.36,176.01h0.01M473.59,131.64h0.01M464.24,129.23h0.01M455.13,166.56h0.01M455.36,127.94h0.01M459,145.5h0.01M435.74,120.8h0.01M466.27,134.98h0.01M456.8,137.64h0.01M453.22,145.54h0.01M460.15,136.59h0.01M427.26,185.85h0.01M419.54,179.11h0.01M457.15,169.25h0.01M462.71,174.22h0.01M460.79,128.84h0.01M455.02,161.95h0.01M459.31,188.82h0.01M454.55,175.99h0.01M452.02,182.96h0.01M449.45,128.94h0.01M485.33,131.42h0.01M458.95,159.31h0.01M451.92,159.3h0.01M456.81,135.25h0.01M420.75,180.73h0.01M476.4,133.57h0.01M460.37,138.82h0.01M465.78,169.6h0.01M438.28,182.38h0.01M451.98,127.82h0.01M456.57,174.6h0.01M455.15,132.37h0.01M416.11,144.87h0.01M470.93,129.7h0.01M418.9,178.93h0.01M454.74,133.34h0.01M454.08,178.64h0.01M463.45,174.02h0.01M437.06,178.33h0.01M417.52,132.23h0.01M460.05,165.06h0.01M438.62,187.01h0.01M417.05,183.22h0.01M416.75,182.84h0.01M470,145.63h0.01M436.95,128.57h0.01M458.84,173.44h0.01M453.08,142.05h0.01M466.27,134.05h0.01M469,141.85h0.01M449.31,125.12h0.01M461.71,128.62h0.01M454.38,138.7h0.01M465.33,130.88h0.01M459.67,137.44h0.01M467.3,134.76h0.01M447.54,179.73h0.01M463.49,135.33h0.01M462.94,135.5h0.01M452.35,151.99h0.01M459.73,136.92h0.01M421.23,125.09h0.01M432.83,129.36h0.01M459.19,151.34h0.01M456.21,140.28h0.01M467.34,126.57h0.01M470.23,135.35h0.01M456.88,135.05h0.01M455.92,138.81h0.01M456.46,185.35h0.01M453.71,173.2h0.01M455.49,129.21h0.01M420.31,126.87h0.01M420.44,171.41h0.01M456.65,171.51h0.01M420.87,130.43h0.01M443.24,179.59h0.01M432.5,178.18h0.01M439.56,178.94h0.01M453.05,166.21h0.01M455,133.49h0.01M419.26,175.52h0.01M455.12,158.88h0.01M467.41,190.21h0.01M453.35,139.79h0.01M458.15,136.15h0.01M455.15,131.25h0.01M421.59,183.83h0.01M454.71,152.79h0.01M453.67,131.2h0.01M442.83,121.3h0.01M442.51,184.23h0.01M458.39,166.06h0.01M460.89,126.01h0.01M457.71,164.84h0.01M457.45,165.75h0.01M453.01,162.32h0.01M451.49,150.64h0.01M455.51,160.32h0.01M440.27,185.67h0.01M465.56,176.38h0.01M458.12,170.96h0.01M456.36,168.39h0.01M419.95,153.51h0.01M435.3,184.79h0.01M463.77,143.09h0.01M455.34,180.55h0.01M437.92,187.09h0.01M453.43,134.42h0.01M442.23,178.88h0.01M455.33,133.94h0.01M458.76,136.48h0.01M463.01,134.24h0.01M465.83,124.44h0.01M460.69,144.45h0.01M457.72,151.78h0.01M453.44,176.42h0.01M449.79,172.89h0.01M451.38,133.73h0.01M416.75,158.78h0.01M437.25,120.58h0.01M451.94,138.85h0.01M417.31,133.99h0.01M438.92,183.7h0.01M460.74,134.88h0.01M457.1,173.21h0.01M458.55,165.92h0.01M418.7,155.07h0.01M453.34,125.89h0.01M455.79,166.72h0.01M453.15,136.31h0.01M452.65,174.11h0.01M472.77,135.18h0.01M456.46,138.17h0.01M455.79,142.2h0.01M455.41,178.91h0.01M438.56,180.96h0.01M465.83,134.39h0.01M428.2,180.01h0.01M467.94,129.75h0.01M462.73,132.16h0.01M458.6,135.38h0.01M443.84,119.78h0.01M457.56,133.5h0.01M455.85,128.7h0.01M417.83,183.35h0.01M453.57,178.58h0.01M426.23,124.21h0.01M458.91,174.05h0.01M454.06,121.94h0.01M456.74,152.78h0.01M453.67,176.21h0.01M460.61,142.83h0.01M453.7,179.74h0.01M469.06,132.35h0.01M477.47,127.15h0.01M447.93,126.37h0.01M465.69,131.02h0.01M418.05,135.24h0.01M453.68,140.91h0.01M421.27,181.74h0.01M460.57,133.38h0.01M475.88,135.59h0.01M456.08,176.04h0.01M453.39,126.45h0.01M416.55,180.17h0.01M456.92,173.95h0.01M460.12,188.17h0.01M417.01,131.62h0.01M445,125.25h0.01M457.78,122.94h0.01M457.1,159.59h0.01M427.48,124.11h0.01M442.51,183.01h0.01M453.83,173.36h0.01M428.95,127.48h0.01M452.33,162.79h0.01M423.3,132.33h0.01M459.27,176.77h0.01M438.62,118.8h0.01M456.36,130.35h0.01M453.36,131.84h0.01M451.1,144.99h0.01M467.9,126.58h0.01M454.66,133.27h0.01M459.54,139.28h0.01M455.25,131.56h0.01M416.95,181.48h0.01M454.42,176.42h0.01M443.72,130.44h0.01M457.07,152.63h0.01M420.62,179.23h0.01M457.24,164.65h0.01M416.89,161.69h0.01M437.39,177.83h0.01M455.66,140.41h0.01M453.35,138.74h0.01M432.45,122.84h0.01M421.76,183.19h0.01M452.99,175.57h0.01M438,179.52h0.01M457.43,146.33h0.01M452.29,132.86h0.01M433.27,124.05h0.01M427.32,187.19h0.01M443.87,123.25h0.01M438.47,127.69h0.01M418.83,129.9h0.01M455.74,153.68h0.01M417.57,178.16h0.01M425.47,129.5h0.01M457.61,160.63h0.01M420.19,179.66h0.01M459.09,151.28h0.01M425.79,184.18h0.01M452.88,159.36h0.01M440.52,128.71h0.01M457.73,138.25h0.01M452.95,129.33h0.01M456.57,183.08h0.01M453.18,169.5h0.01M440.62,124.19h0.01M472.68,127.64h0.01M446.03,121.82h0.01M450.74,135.81h0.01M456.71,167.55h0.01M476.56,130.76h0.01M454.37,135.06h0.01M468.59,131.12h0.01M445.36,127.48h0.01M440.91,122.53h0.01M416.9,185.11h0.01M461.6,141.43h0.01M437.86,123.04h0.01M457.11,140.66h0.01M454.75,168.45h0.01M477.01,129.62h0.01M462.15,137.38h0.01M455.37,135.43h0.01M455.26,131.28h0.01M451.63,129.52h0.01M420.75,124.17h0.01M469.65,148.61h0.01M458.15,178.71h0.01M421.55,127.48h0.01M457.04,134.26h0.01M453.63,125.19h0.01M460.94,185.28h0.01M423.27,180.23h0.01M457.57,188.72h0.01M453.45,158.41h0.01M456.37,171.39h0.01M475.32,127.07h0.01M453.03,143.56h0.01M452.76,126.58h0.01M419.3,173.45h0.01M433.79,124.18h0.01M499.56,123.15h0.01M418.65,158.66h0.01M441.07,125.11h0.01M457.65,133.81h0.01M454.46,178.66h0.01M418.09,134.25h0.01M470.43,136.29h0.01M455.87,162.22h0.01M454.58,164.76h0.01M455.32,132.69h0.01M443.76,123.02h0.01M453.46,134.91h0.01M442.83,127.67h0.01M461.21,174.71h0.01M477.58,127.9h0.01M456.88,144.09h0.01M455.2,169.06h0.01M445.03,181.05h0.01M456.82,156.22h0.01M420.33,178.18h0.01M432.73,124.69h0.01M454.6,134.65h0.01M464.41,136.76h0.01M455.05,177.06h0.01M456.93,129.68h0.01M424.93,128.15h0.01M418.64,181.57h0.01M453.23,144.88h0.01M472.23,137.59h0.01M431.83,183.32h0.01M448.52,187.1h0.01M455.13,158.06h0.01M490.5,134.4h0.01M458.37,131.61h0.01M442.52,121.61h0.01M416.61,139.45h0.01M456.18,165.28h0.01M459.97,134.35h0.01M458.61,173.95h0.01M459.52,134.64h0.01M469.63,138.94h0.01M417.02,184.27h0.01M472.59,127.64h0.01M462.5,135.3h0.01M439.69,126.98h0.01M420.17,181.55h0.01M454.31,135.92h0.01M424.62,120.14h0.01M469.67,135.01h0.01M449.6,132.15h0.01M471.75,135.64h0.01M420.1,187.8h0.01M467.72,132.32h0.01M454.56,161.44h0.01M434.81,122.72h0.01M449.42,176.2h0.01M452.82,173.46h0.01M452.33,130.41h0.01M475.4,137.65h0.01M452.03,125.48h0.01M477.91,140.99h0.01M467.72,124.86h0.01M456.71,167.82h0.01M463.16,125.23h0.01M454.97,175.81h0.01M423.83,117.74h0.01M455.16,172.96h0.01M452.99,169.76h0.01M457.06,128.92h0.01M452.74,170.01h0.01M418.14,181.61h0.01M422.09,187.89h0.01M468.06,135.95h0.01M470.46,125.22h0.01M456.88,170.68h0.01M462.58,177.13h0.01M449.95,132.44h0.01M462.23,169.03h0.01M452.31,167.34h0.01M422.07,184.12h0.01M425.43,185.22h0.01M444.93,122.73h0.01M440.26,181.3h0.01M436.02,125.68h0.01M425.1,180.61h0.01M461.53,125.48h0.01M424.06,123.61h0.01M457.38,172.7h0.01M496.5,129.62h0.01M423.49,183.4h0.01M455.65,133.95h0.01M450.31,178.58h0.01M471.74,133.14h0.01M449.27,146.5h0.01M454.1,135.94h0.01M452.26,130.29h0.01M451.47,144.98h0.01M457.09,132.14h0.01M453.48,146.89h0.01M437.74,122.12h0.01M451.13,170.21h0.01M462.97,174.54h0.01M428.88,124.17h0.01M469.65,134.48h0.01M426.98,149.77h0.01M465.94,135.34h0.01M452.4,174.52h0.01M471.13,134.47h0.01M422.34,183.91h0.01M426.53,180.67h0.01M452.79,176.22h0.01M454.58,162.57h0.01M434.12,119.8h0.01M453.97,151.78h0.01M457.7,176.2h0.01M453.13,168.65h0.01M458.98,178.19h0.01M420.2,182.72h0.01M475,127.36h0.01M452.71,134.88h0.01M459.89,173.91h0.01M460.7,132.67h0.01M458.57,137.86h0.01M474.61,130.61h0.01M456.64,155.73h0.01M453.8,139.12h0.01M417.86,171.57h0.01M456.16,151.98h0.01M461.79,155.82h0.01M435.78,126.81h0.01M449.21,127.74h0.01M420.28,126.81h0.01M451.76,152.62h0.01M435.22,123.87h0.01M473.23,126.23h0.01M458.93,139.1h0.01M439.29,124.74h0.01M448.58,129.15h0.01M416.59,127.42h0.01M464.68,133.47h0.01M456,173.52h0.01M452.98,170.83h0.01M428.11,128.33h0.01M462.34,130.86h0.01M459.45,132.31h0.01M454.14,166.87h0.01M468.19,136.15h0.01M455.45,187.14h0.01M449.62,181.12h0.01M454.02,170.87h0.01M464.42,133.26h0.01M450.56,181.21h0.01M464.42,134.07h0.01M420.05,140.57h0.01M453.72,175.9h0.01M437.74,128.2h0.01M453.51,177.53h0.01M426.14,128.2h0.01M424.28,126.29h0.01M438.62,126.89h0.01M452.68,172.17h0.01M451.77,168.23h0.01M453.64,157.01h0.01M425.53,181.96h0.01M487.69,125.77h0.01M440.46,189.12h0.01M463.49,189.56h0.01M436.48,124.27h0.01M456,136.67h0.01M473.85,139.6h0.01M446.14,123.96h0.01M446.93,183.65h0.01M466.29,140.02h0.01M421.56,181.64h0.01M468.02,129.53h0.01M456.77,176.33h0.01M417.84,182.35h0.01M456.3,127.35h0.01M457.33,160.25h0.01M458.19,160.96h0.01M438.61,127.98h0.01M454.99,140.74h0.01M458.65,130.52h0.01M467.94,134.57h0.01M463.66,182.06h0.01M425,178.88h0.01M465.41,128.16h0.01M472.53,151.99h0.01M458.93,141.83h0.01M428.09,179.86h0.01M461.22,135.62h0.01M462.97,137.72h0.01M460.29,133.51h0.01M442.44,125.99h0.01M462.17,136.88h0.01M460.16,189.11h0.01M452.12,165.26h0.01M459.14,165.29h0.01M453.03,166.68h0.01M421.27,184.15h0.01M416.3,138.36h0.01M453.17,125.98h0.01M436.13,123.55h0.01M443.32,126.79h0.01M469.32,134.23h0.01M453.53,139.47h0.01M454.14,132.58h0.01M460.53,126.97h0.01M417.68,181.74h0.01M470.71,134.58h0.01M461.47,180.41h0.01M456.09,129.96h0.01M465.84,135.43h0.01M416.46,133.9h0.01M417.4,127.56h0.01M458.79,162.96h0.01M453.93,173.67h0.01M450.98,181.78h0.01M458.32,173.35h0.01M461.58,134.01h0.01M462.53,136.03h0.01M429.03,127.87h0.01M451.56,150.22h0.01M459.5,144.83h0.01M457.53,161.25h0.01M443.59,131.33h0.01M454.73,186.38h0.01M416.61,180.23h0.01M432.54,125.11h0.01M457.34,133.73h0.01M471.88,124.08h0.01M462.72,172.76h0.01M461.74,140.4h0.01M450.05,179.57h0.01M422.13,129.7h0.01M416.09,177.89h0.01M426.45,182.44h0.01M460.28,138.93h0.01M421.55,128.36h0.01M454.95,135.57h0.01M452.13,131.24h0.01M461.39,138h0.01M452.26,160.95h0.01M457.88,139.46h0.01M428.83,178.98h0.01M475.26,177.68h0.01M463.73,137.94h0.01M461.71,133.02h0.01M445.38,181.23h0.01M439.45,183.57h0.01M456.27,136.04h0.01M452.08,180.69h0.01M453.63,130.77h0.01M439.15,126.83h0.01M444.19,189.06h0.01M459.67,129.4h0.01M435.31,121.83h0.01M461.15,137.98h0.01M450.28,134.99h0.01M456.41,156.04h0.01M453.96,151.09h0.01M454.76,155.48h0.01M469.86,137.34h0.01M460.01,174.76h0.01M457.42,152.46h0.01M457.95,179.72h0.01M417.98,126.41h0.01M456.83,159.16h0.01M461.41,179.21h0.01M454.96,160.29h0.01M420.68,128.93h0.01M461.15,117.7h0.01M428.94,126.56h0.01M443.49,126.3h0.01M459.38,167.53h0.01M418.19,187.14h0.01M458.47,130.03h0.01M429.41,183.16h0.01M418.29,174.6h0.01M458.85,167.67h0.01M467.67,181.17h0.01M462.98,132.82h0.01M470.83,127.2h0.01M417.55,180.13h0.01M439.76,180.72h0.01M424.76,128.24h0.01M460.81,188.92h0.01M454.43,154.23h0.01M463.36,134.01h0.01M453.98,174.45h0.01M458.24,140.09h0.01M442.22,176.4h0.01M453.19,136.14h0.01M460.93,131.67h0.01M417.95,131.45h0.01M417.17,126.45h0.01M429.84,142.93h0.01M443.33,178.42h0.01M453.32,146.36h0.01M453.99,177.91h0.01M453.89,136.4h0.01M460.98,128.2h0.01M445.69,128.79h0.01M442.33,185.89h0.01M469.25,141.99h0.01M416.19,122.59h0.01M458.48,158.11h0.01M422.86,131.03h0.01M464.95,175.8h0.01M455.64,158.69h0.01M460.19,175.56h0.01M452.55,123.94h0.01M457.57,122.46h0.01M458.7,181.58h0.01M456.52,178.42h0.01M477.77,136.67h0.01M468.59,137.56h0.01M456.28,162.61h0.01M416.84,183.09h0.01M448.19,126.55h0.01M455.16,154.67h0.01M455.7,135.58h0.01M456.02,141.2h0.01M455.88,131.35h0.01M455.14,174.88h0.01M455.26,169.57h0.01M441.95,183.08h0.01M472.26,136.07h0.01M453.13,137.4h0.01M422.25,118.13h0.01M458.47,133.14h0.01M454.8,131.06h0.01M420.5,180.99h0.01M456.89,137.47h0.01M454.77,127.39h0.01M428.59,128.93h0.01M470.37,132.72h0.01M453.4,170.57h0.01M456.79,165.29h0.01M475.32,126.67h0.01M452,137.43h0.01M467.73,127.45h0.01M431.55,182.17h0.01M474.19,134.19h0.01M452.96,175.24h0.01M452.09,126.76h0.01M460.57,127.13h0.01M457.41,137.19h0.01M469.47,135.42h0.01M445.95,125.15h0.01M463.59,131.58h0.01M455.88,149.83h0.01M427.25,181.94h0.01M465,131.91h0.01M445.5,122.66h0.01M452.02,173.37h0.01M478.01,140.09h0.01M483.57,128.85h0.01M459.67,138.61h0.01M470.75,127.04h0.01M418.62,125.01h0.01M476.4,125.13h0.01M416.92,156.34h0.01M452.51,166.62h0.01M454.45,147.28h0.01M435.23,123.88h0.01M424.63,185.61h0.01M459.07,170.31h0.01M431.05,182.7h0.01M460.65,160.91h0.01M455.56,139.86h0.01M456.63,173.53h0.01M454.11,163.31h0.01M450.29,124.37h0.01M455.56,139.82h0.01M454.96,135.24h0.01M453,133.71h0.01M453.51,131.29h0.01M431.14,124.79h0.01M464.62,134.89h0.01M453.38,130.64h0.01M453.21,168.99h0.01M456.69,133.26h0.01M453.94,180.67h0.01M460.7,188.79h0.01M457.05,184.18h0.01M461.89,154.98h0.01M453.03,161.85h0.01M453.84,138.46h0.01M455.48,169.72h0.01M457.54,167.14h0.01M434.46,125.99h0.01M458.06,157.88h0.01M464.21,134.46h0.01M438.11,121.64h0.01M461.04,139.79h0.01M456.55,134.29h0.01M467.43,182.72h0.01M417.9,180.74h0.01M453.55,133.78h0.01M456.18,134.21h0.01M474.55,122.98h0.01M427.35,183.66h0.01M461.47,179.61h0.01M470.81,129h0.01M469.09,144.64h0.01M455.12,136.98h0.01M425.11,181.23h0.01M454.53,139.67h0.01M437.17,182.15h0.01M422.45,183.37h0.01M473.21,131.35h0.01M451.87,130.64h0.01M459.04,158.98h0.01M453.63,127.25h0.01M418.32,125.36h0.01M447.22,130.83h0.01M460.88,126.88h0.01M452.01,147.02h0.01M454.46,127.99h0.01M431.97,183.19h0.01M432.57,123.64h0.01M456.54,134.36h0.01M456.45,135.79h0.01M453.73,172.75h0.01M420.58,183.98h0.01M437.4,185.03h0.01M455.55,141.6h0.01M454.54,175.6h0.01M455.68,163.27h0.01M459.1,139.62h0.01M446.78,125.15h0.01M453.21,140.38h0.01M454.82,163.95h0.01M467.89,177.8h0.01M416.77,134.18h0.01M455.4,137.49h0.01M469.27,122.71h0.01M464.77,132.88h0.01M445.92,124.3h0.01M459.9,170.75h0.01M452.58,176.49h0.01M474.07,136.92h0.01M465.54,136.76h0.01M435.97,124.77h0.01M425.81,123.46h0.01M420.33,164.82h0.01M452.59,166.47h0.01M455.67,142.83h0.01M440.19,184.25h0.01M454.9,124.39h0.01M466.85,130.32h0.01M456.51,134.02h0.01M456.77,164.72h0.01M431.52,183.35h0.01M450.45,126.39h0.01M471.48,134.38h0.01M463.91,129.09h0.01M432.46,184h0.01M472.18,130.58h0.01M455.63,143.16h0.01M442.87,119.54h0.01M460.15,129.92h0.01M459.05,179.87h0.01M419.49,125.98h0.01M456.13,141.8h0.01M446.3,127.24h0.01M463.27,133.44h0.01M447.15,179.76h0.01M442.86,123.94h0.01M457.48,173.38h0.01M463.34,127.84h0.01M458.4,151.73h0.01M420.65,181.25h0.01M449.64,132.01h0.01M423.78,185.56h0.01M462.71,130.1h0.01M458.23,132.48h0.01M464.36,188.12h0.01M448.65,127.53h0.01M430.68,183.27h0.01M466.68,134.6h0.01M453.46,168.36h0.01M421.35,183.72h0.01M479.66,140.62h0.01M429.65,184.37h0.01M430.07,186.18h0.01M473.38,129.46h0.01M455.38,139.6h0.01M454.69,148.64h0.01M423.99,122.19h0.01M448.95,124.96h0.01M455.64,158.33h0.01M418.88,129.41h0.01M454.07,140.06h0.01M453.84,134.9h0.01M417.05,136.22h0.01M462.29,187.09h0.01M459.52,131.97h0.01M439.88,125.63h0.01M459.48,141.21h0.01M427.33,188.45h0.01M451.2,134.7h0.01M456.71,143.06h0.01M426.99,130.7h0.01M421.02,128.53h0.01M460.05,129.02h0.01M439.91,181.91h0.01M427.66,185.69h0.01M456.32,135.97h0.01M419.49,128.77h0.01M421.37,127.02h0.01M474.64,132.19h0.01M453.14,128.15h0.01M459.97,147.09h0.01M427.27,184.33h0.01M434.98,179.16h0.01M462.1,139.45h0.01M464.92,132.25h0.01M458.49,146.21h0.01M477.27,135.68h0.01M453,143.44h0.01M441.76,180.36h0.01M419.4,186.98h0.01M452.6,180.87h0.01M464.14,135.28h0.01M453.96,137.38h0.01M457.12,148.26h0.01M458.94,134.41h0.01M462.73,132.35h0.01M455.36,147.34h0.01M420.48,184.83h0.01M463.1,133.44h0.01M457.41,135.94h0.01M454.29,168.34h0.01M442.9,182.01h0.01M456.08,175.52h0.01M426.86,125.63h0.01M416.77,153.08h0.01M422.64,186.15h0.01M455.44,147.38h0.01M441.98,119.76h0.01M463.83,131.49h0.01M464.27,141.95h0.01M453.53,145.83h0.01M460.84,136.77h0.01M453.84,160.97h0.01M455.61,135.13h0.01M418.46,131.45h0.01M467.52,162.64h0.01M430.21,127.61h0.01M479.81,135.74h0.01M454.8,136.58h0.01M416.43,180.61h0.01M471.36,134.35h0.01M436.63,125.84h0.01M459.26,159.29h0.01M418.99,178.66h0.01M477.15,129.88h0.01M471.87,124.03h0.01M454.72,141.41h0.01M462.08,140.61h0.01M418.21,127.45h0.01M454.38,174.29h0.01M421.26,181.2h0.01M456.39,142.4h0.01M451.32,151.23h0.01M463.78,167.33h0.01M471.91,126.81h0.01M433.07,185.91h0.01M451.66,152.3h0.01M462.61,137.88h0.01M421.49,181.92h0.01M458.17,139.48h0.01M451.82,178.41h0.01M461.74,136.28h0.01M450.81,124.21h0.01M454.79,135.4h0.01M453.15,138.32h0.01M453.74,130.52h0.01M430.96,124.25h0.01M459.15,137.41h0.01M455.64,163.51h0.01M449.35,173.66h0.01M476.27,129.35h0.01M433.83,185.68h0.01M451.28,179.01h0.01M426.44,184.42h0.01M419.63,185.22h0.01M454.51,146.09h0.01M465.02,132.72h0.01M448.87,123.39h0.01M461.74,132.24h0.01M476.34,127.95h0.01M442.32,178.73h0.01M455.84,175.73h0.01M455.7,133.23h0.01M453.01,141.35h0.01M421.84,188.71h0.01M458.06,141.86h0.01M441.08,185.34h0.01M475.24,134.21h0.01M465.43,133.1h0.01M457.17,167.64h0.01M441.78,121.61h0.01M424.35,180.47h0.01M454.02,162.84h0.01M455.65,152.67h0.01M463.02,135.36h0.01M457.37,151.76h0.01M455.06,170.49h0.01M420.27,180.82h0.01M434.87,181.58h0.01M487.97,123.77h0.01M450.75,175.83h0.01M443.12,121.17h0.01M440.86,123.12h0.01M455.81,132.96h0.01M458.02,154.09h0.01M453.54,137.08h0.01M459.83,173.19h0.01M459.96,133.09h0.01M478.44,121.34h0.01M457.95,130.93h0.01M419.76,184.72h0.01M451.77,141.8h0.01M442.17,187.08h0.01M438.08,177.21h0.01M435.12,123.05h0.01M472.75,132.71h0.01M454.85,132.21h0.01M454.01,129.31h0.01M461.22,173.39h0.01M416.24,152.48h0.01M463.79,147.33h0.01M454.91,166.38h0.01M454.73,177.33h0.01M484.12,133.35h0.01M454.21,177.42h0.01M458.2,141.11h0.01M473.16,135.18h0.01M422.92,178.96h0.01M458.07,185.47h0.01M468.08,131.02h0.01M456.25,140.28h0.01M468.6,133.74h0.01M445.91,127.68h0.01M440.82,133h0.01M466.46,181.61h0.01M452.09,173.09h0.01M422.19,129.52h0.01M427.51,125.52h0.01M419.1,128.57h0.01M468.95,143.86h0.01M460,159.12h0.01M445.19,122.68h0.01M452.31,175.37h0.01M453.86,137.95h0.01M422.49,126.68h0.01M448.73,131.57h0.01M456.17,149.17h0.01M419.26,187.86h0.01M436.35,179.61h0.01M460.79,133.01h0.01M445.61,183.11h0.01M416.77,179.45h0.01M453.65,131.12h0.01M463.98,136.28h0.01M458.05,131.64h0.01M463.09,144.85h0.01M422.58,179.47h0.01M444.62,121.02h0.01M454.45,161.89h0.01M443.07,123.77h0.01M465.11,131.67h0.01M455.96,173.01h0.01M463.58,133.02h0.01M470.88,139.81h0.01M436.25,121.2h0.01M444.91,130.15h0.01M458.94,143.16h0.01M450.41,181.61h0.01M425.86,123.03h0.01M461.53,137.61h0.01M426.72,124.62h0.01M455.86,141.35h0.01M442.54,182.35h0.01M430.55,180.35h0.01M457.14,160.83h0.01M458.05,137.94h0.01M419.06,127.26h0.01M419.27,183.02h0.01M457.36,147.14h0.01M432.68,128.2h0.01M428.04,125.88h0.01M420.42,128.72h0.01M453.91,157.82h0.01M445.55,125.85h0.01M429.9,122.71h0.01M434.03,123.92h0.01M452.86,177.29h0.01M453.81,132.74h0.01M422.6,123.77h0.01M454.21,159.83h0.01M468.6,166.98h0.01M451.06,172.58h0.01M453.94,176.73h0.01M460.49,135.41h0.01M450.97,128.63h0.01M449,125.19h0.01M443.47,180.95h0.01M485.18,128.78h0.01M453.75,125.8h0.01M421.09,183.48h0.01M454.24,161.49h0.01M453.73,136.86h0.01M455.7,140.3h0.01M455.99,169.58h0.01M482.53,127.06h0.01M420.42,183.46h0.01M428.05,182.73h0.01M448.34,119.51h0.01M416.13,126.55h0.01M464.23,130.77h0.01M450.31,128.36h0.01M464.06,165.3h0.01M453.11,127.43h0.01M420.16,130.59h0.01M454.91,138.18h0.01M420.63,183.58h0.01M421.26,120.91h0.01M450.72,125.15h0.01M432.12,123.73h0.01M437.84,127.74h0.01M458.62,129.49h0.01M461.22,132.22h0.01M428.12,126.15h0.01M453.65,139.39h0.01M466.01,127.82h0.01M469.82,139.14h0.01M464.14,178.99h0.01M477.1,124.85h0.01M454.03,128.25h0.01M454.02,168.64h0.01M496.57,120.92h0.01M457.43,128.99h0.01M423.58,124.25h0.01M441.65,123.11h0.01M458.44,131.91h0.01M451.18,126.93h0.01M456.83,158.44h0.01M451.95,146.57h0.01M453.24,134.42h0.01M471.33,128.99h0.01M460.62,166.3h0.01M425.54,187.53h0.01M463.85,132.94h0.01M419.72,183.84h0.01M442.76,185.51h0.01M422.19,133.9h0.01M453.72,130.58h0.01M460.66,164.24h0.01M450.87,147.4h0.01M459.03,128.13h0.01M454.54,129.15h0.01M465.78,125.78h0.01M458.14,165.14h0.01M457.66,188.25h0.01M448.45,137.42h0.01M453.1,136.9h0.01M450.95,134.52h0.01M425.98,126.75h0.01M455.34,151.99h0.01M454.19,165.44h0.01M472.58,130.29h0.01M456.14,178.02h0.01M455.54,174.71h0.01M465.21,128.68h0.01M458.64,130.57h0.01M425.53,126.37h0.01M453.56,160.77h0.01M457.69,160.44h0.01M451.78,156.89h0.01M455.88,178.13h0.01M469.6,183.92h0.01M443.62,123.07h0.01M445.25,179.13h0.01M473.52,130.86h0.01M465.5,131.13h0.01M470.51,131.95h0.01M436.99,178.01h0.01M457.17,155.15h0.01M440.83,127.52h0.01M432.49,123.32h0.01M466.01,134.87h0.01M457.25,160.04h0.01M459.24,171.33h0.01M461.72,130.93h0.01M428.76,127.53h0.01M447.77,184.38h0.01M431.08,122.46h0.01M459.18,126.95h0.01M460.38,162.63h0.01M427.76,124.35h0.01M439.16,124.69h0.01M418.72,133.34h0.01M460.33,123.97h0.01M454.59,129.81h0.01M458.3,141.13h0.01M435.7,123.81h0.01M443.83,178.49h0.01M429.77,127.29h0.01M452.39,160.33h0.01M453.98,160.17h0.01M449.17,176.7h0.01M443.18,185.71h0.01M458.07,177.35h0.01M463.39,142.62h0.01M480.8,134.3h0.01M451.29,129.06h0.01M470.66,135.76h0.01M431.41,183.27h0.01M450.48,165.16h0.01M469.43,134.8h0.01M423.88,126.86h0.01M474.79,132.45h0.01M443.13,125.32h0.01M463.95,119.86h0.01M417,183.21h0.01M456.73,182.67h0.01M446.66,178.19h0.01M463.98,177.23h0.01M498.36,131.92h0.01M449.98,176.96h0.01M467.77,136.62h0.01M440.41,184.58h0.01M432.6,122.57h0.01M482.16,134.98h0.01M455.84,143.03h0.01M463.49,136.91h0.01M450.89,129.39h0.01M458.34,163.75h0.01M455.91,176.79h0.01M451.96,179.33h0.01M477.77,134.2h0.01M420.26,125.68h0.01M456.99,149.64h0.01M459.01,124.12h0.01M436.22,122.86h0.01M451.85,136.5h0.01M437.86,180.81h0.01M440.2,124.12h0.01M432.76,181.69h0.01M454.75,146.52h0.01M424.44,128.32h0.01M456.09,159.7h0.01M463.24,126.69h0.01M454.11,166.96h0.01M445.78,126.93h0.01M485.54,125.78h0.01M448.48,176.82h0.01M443.64,185.63h0.01M468.4,128.7h0.01M417.68,183.47h0.01M456.95,163.35h0.01M462.82,158.61h0.01M457.49,144.96h0.01M448.63,175.57h0.01M467.27,139.53h0.01M471.37,133.32h0.01M455.47,148.04h0.01M456.01,154.98h0.01M421.46,127.45h0.01M446.59,126.06h0.01M454.8,168.18h0.01M470.14,128.47h0.01M441.86,128.74h0.01M462.44,133.38h0.01M470.85,131.58h0.01M459.79,135.22h0.01M473.31,141.18h0.01M454.5,174.11h0.01M455.11,131.8h0.01M456.05,175.32h0.01M472.47,134.51h0.01M468.96,160.13h0.01M466.44,134.29h0.01M451.2,121.62h0.01M419.67,183.68h0.01M416.65,185.72h0.01M428.26,182.81h0.01M459.79,145.33h0.01M474.55,139.79h0.01M453.74,137.68h0.01M447.47,181.61h0.01M455.09,134.67h0.01M421.99,183.23h0.01M434.81,182.63h0.01M452.17,172.87h0.01M450.1,127.86h0.01M455.15,171.34h0.01M424.56,128.05h0.01M453.29,141.65h0.01M455.09,137.64h0.01M459.47,133.35h0.01M454.23,139.24h0.01M426.11,182.39h0.01M461.44,131.14h0.01M456.64,136.09h0.01M479.27,127.2h0.01M424.47,129.65h0.01M460.17,178.07h0.01M455.12,171.29h0.01M426.64,120.56h0.01M455.74,181.33h0.01M457.16,176.36h0.01M451.43,135.72h0.01M463.56,182.69h0.01M452.02,128.96h0.01M470.7,128.01h0.01M452.73,176.12h0.01M417.36,183.24h0.01M452.93,158.65h0.01M449.52,123.9h0.01M446.73,123.9h0.01M417.44,154.04h0.01M476.39,127.48h0.01M450.7,167.11h0.01M452.48,166.39h0.01M418.01,183.64h0.01M451.34,180.77h0.01M434.34,127.58h0.01M427.88,182.6h0.01M455.16,131.02h0.01M452.57,176.74h0.01M456.54,133.78h0.01M450.77,129.66h0.01M465.14,134.79h0.01M457.09,168.98h0.01M473.94,132.29h0.01M450.92,125.27h0.01M446.52,128.24h0.01M419.79,160.03h0.01M453.54,135.56h0.01M453.53,154.54h0.01M491.7,132.58h0.01M461.87,127.17h0.01M446.8,186.58h0.01M446.95,182.67h0.01M462.24,136.29h0.01M457.39,122.45h0.01M456.33,137.67h0.01M459.89,160.31h0.01M454.41,168.05h0.01M457.44,135.22h0.01M463.02,146.27h0.01M462.38,142.29h0.01M466.51,135.44h0.01M423.75,126.82h0.01M457.56,175.88h0.01M462.8,129.36h0.01M444.93,122.76h0.01M452.94,177.79h0.01M455.06,170.22h0.01M455.24,134.15h0.01M455.58,156.31h0.01M442.14,128.66h0.01M464.13,138.28h0.01M455.32,161.2h0.01M460.84,131.36h0.01M459.6,159.49h0.01M424.97,121.93h0.01M459.97,167.53h0.01M446.81,124.3h0.01M455.82,181.27h0.01M454.52,174.34h0.01M458.51,135.82h0.01M454.41,134.53h0.01M451.21,179.8h0.01M444.84,121.61h0.01M419.98,185.77h0.01M420.4,181.95h0.01M457.15,134.77h0.01M464.51,130.33h0.01M470.4,139.34h0.01M423.81,129.09h0.01M431.03,182.86h0.01M455.08,180.95h0.01M453.78,188.89h0.01M464.5,140.72h0.01M460.19,185.99h0.01M463.99,134.01h0.01M454.05,139.71h0.01M464.88,133.13h0.01M453.2,180.08h0.01M472.7,131.89h0.01M472,143.44h0.01M430.93,182.28h0.01M453.82,128.18h0.01M420.58,127.33h0.01M453.74,175.55h0.01M457.71,136.57h0.01M459.17,163.94h0.01M456.53,179.47h0.01M445.33,126.32h0.01M453.94,135.41h0.01M460.61,126.74h0.01M456.98,131.7h0.01M461.84,132.85h0.01M423.93,186.91h0.01M446.95,133.02h0.01M458.75,138.07h0.01M473.01,139.45h0.01M454.55,142.92h0.01M457.48,172.43h0.01M462.36,140.26h0.01M426.29,119.8h0.01M442.57,122.53h0.01M445.78,125.46h0.01M460.3,126.1h0.01M446.34,179.94h0.01M426.46,123.84h0.01M463.64,186.37h0.01M419.25,183.1h0.01M452.78,129.79h0.01M458.75,133.28h0.01M417.84,131.87h0.01M466.06,127.87h0.01M451.31,178.88h0.01M436.89,124.71h0.01M452.99,167.58h0.01M455.86,142.35h0.01M454.94,169.5h0.01M425.19,128.1h0.01M429.68,182.02h0.01M454.82,137.24h0.01M469.82,131.44h0.01M456.67,164.69h0.01M479.52,120.24h0.01M423.84,182.35h0.01M421.45,127h0.01M416.28,185.34h0.01M467.19,130.97h0.01M446.88,121.71h0.01M453.9,140.91h0.01M454.41,135.32h0.01M447.93,122.82h0.01M471.79,129.41h0.01M452.1,171.25h0.01M458.03,165.22h0.01M429.62,127.98h0.01M417.37,130.58h0.01M459.8,135.35h0.01M417.98,127.31h0.01M444.81,181.17h0.01M421.91,126.21h0.01M453.3,122.13h0.01M456.59,174.05h0.01M456.32,168.38h0.01M470.97,133.92h0.01M440.28,178.08h0.01M460.66,138.66h0.01M463.77,131.86h0.01M423.14,130.51h0.01M454.22,143.91h0.01M491.48,133.73h0.01M458.78,164.66h0.01M454.74,146.38h0.01M431.88,179.53h0.01M459.22,137.96h0.01M457.08,171.99h0.01M423.61,122.45h0.01M444.63,120.48h0.01M467.65,171.3h0.01M454.29,166.49h0.01M449.17,179.61h0.01M456.15,132.76h0.01M466.23,121.72h0.01M459.04,133.18h0.01M454.16,179.93h0.01M418.02,179.43h0.01M441.43,128.08h0.01M467.53,132.91h0.01M453.02,153.38h0.01M443.69,185.57h0.01M445.84,124.78h0.01M453.42,140.09h0.01M457.55,170.56h0.01M450.17,179.19h0.01M456.43,152.15h0.01M452.59,152.59h0.01M416.2,154.93h0.01M454.94,132.51h0.01M464.29,172.77h0.01M453.44,163.74h0.01M442.95,141.93h0.01M422.07,185.37h0.01M453.87,168.97h0.01M443.32,125.58h0.01M434.89,184.16h0.01M434.16,121.32h0.01M457.58,165.78h0.01M452.95,178.53h0.01M442.79,182.69h0.01M417.09,182.39h0.01M416.17,176.91h0.01M464.69,140.33h0.01M457.85,128.84h0.01M456.07,173.5h0.01M456.27,165.54h0.01M466.68,133.08h0.01M436.11,120.37h0.01M455.72,133.76h0.01M455.37,137.54h0.01M473.49,116.51h0.01M418.69,145.48h0.01M451.73,153.33h0.01M454.79,134.33h0.01M467.95,127.72h0.01M450.73,124.66h0.01M457.52,136.89h0.01M463.56,141.65h0.01M453.08,177.07h0.01M456.73,137.92h0.01M455.79,162.41h0.01M457.04,158.38h0.01M435.49,121.65h0.01M448.01,124.74h0.01M456.43,132.84h0.01M458.01,173h0.01M457.67,173.13h0.01M458.06,179.26h0.01M422.71,122.98h0.01M454.86,170.26h0.01M456.64,135.57h0.01M418.9,180.32h0.01M455.24,155.36h0.01M434.72,183.49h0.01M429.74,123.91h0.01M473.28,130.42h0.01M440.81,182.11h0.01M474.41,126.92h0.01M463.47,124.24h0.01M444.55,123.26h0.01M455.33,167.75h0.01M475.37,132.01h0.01M424.32,124.99h0.01M455.35,137.4h0.01M461.05,128.52h0.01M466.02,137.42h0.01M451.79,132.94h0.01M456.65,178.02h0.01M452.97,127.69h0.01M449.66,128.74h0.01M454.31,142.6h0.01M461.15,167.86h0.01M444.53,181.62h0.01M453.26,139.08h0.01M452.09,169.35h0.01M422.23,185.53h0.01M467.51,136.15h0.01M453.91,133.63h0.01M456.5,167.06h0.01M460.91,121.03h0.01M454.83,178.29h0.01M447.71,123.89h0.01M455.07,121.16h0.01M434.96,121.52h0.01M431.57,124.42h0.01M463.63,130.68h0.01M426.68,125.68h0.01M452.84,164.82h0.01M457.43,151.25h0.01M461.02,172.4h0.01M449.93,181.95h0.01M454.3,160.68h0.01M453.89,149.26h0.01M469.93,129.81h0.01M471.79,126.76h0.01M457.47,129.2h0.01M416.44,166.44h0.01M470.79,125.46h0.01M453.05,128.48h0.01M435.25,178.67h0.01M454.24,177.65h0.01M460.98,137.61h0.01M463,138.16h0.01M455.8,126.74h0.01M454.5,162.32h0.01M458.34,155.07h0.01M462.41,138.95h0.01M454.1,131.8h0.01M452.8,163.42h0.01M456.08,134.58h0.01M460.26,163.51h0.01M469.25,133.64h0.01M416.63,130.51h0.01M457.26,138.52h0.01M460.82,136.99h0.01M460.81,169.39h0.01M447.85,132.34h0.01M450.07,179.59h0.01M470.44,131.18h0.01M469.88,134.25h0.01M455.28,132.37h0.01M434.02,127.57h0.01M417.42,123.12h0.01M462.68,135.58h0.01M454.09,158.9h0.01M455.04,129.77h0.01M416.26,185.21h0.01M430.87,184.55h0.01M456.07,136.78h0.01M436.46,180.6h0.01M473.05,136.71h0.01M457.49,142.11h0.01M454.13,180.55h0.01M450.72,134.95h0.01M464.52,170.16h0.01M460.13,131.44h0.01M461.68,178.61h0.01M436.27,132.26h0.01M456.39,166.64h0.01M457.8,139.05h0.01M419.05,179.02h0.01M437.71,125.11h0.01M457.37,182.29h0.01M455.03,162.76h0.01M468.13,122.1h0.01M456.03,132.36h0.01M420.93,183.17h0.01M416.4,131.42h0.01M475.73,124.52h0.01M463.89,133.98h0.01M457.47,181.39h0.01M448.6,123.55h0.01M438.01,121.61h0.01M454.86,160.31h0.01M456.07,127.8h0.01M455.25,182.68h0.01M418.34,130.01h0.01M461.27,129.17h0.01M458.77,164.48h0.01M457.34,130.05h0.01M452.56,178.74h0.01M441.44,184.36h0.01M422.91,183.5h0.01M453.39,179.91h0.01M451.36,132.84h0.01M477.99,140.4h0.01M453.14,176.66h0.01M444.69,180.52h0.01M425.08,122.29h0.01M433.78,126.38h0.01M469.46,134.83h0.01M463.86,127.55h0.01M454.01,139.23h0.01M428.96,180.75h0.01M466.56,136.67h0.01M454.49,167.99h0.01M426.95,183.19h0.01M453.43,166.39h0.01M416.99,186.33h0.01M424.83,179.93h0.01M453.5,163.94h0.01M454.58,175.22h0.01M442.03,123.05h0.01M417.54,128.93h0.01M460.53,141.12h0.01M455.5,133.57h0.01M419.77,123.77h0.01M443.81,181.58h0.01M438.96,125.3h0.01M451.78,175.82h0.01M460.06,176.75h0.01M455.04,170.39h0.01M458.23,135.55h0.01M456.83,145.77h0.01M457.77,136.74h0.01M453.44,171.56h0.01M463.31,187.67h0.01M460.06,165.5h0.01M447.55,179.59h0.01M455,155.03h0.01M455.25,160.68h0.01M453.52,136.17h0.01M457.49,133.84h0.01M419.88,179.09h0.01M420.39,185.26h0.01M455.09,182.13h0.01M454.24,147.34h0.01M477.7,127.26h0.01M472.95,152.13h0.01M464.28,130.24h0.01M417.51,125.39h0.01M467.86,134.19h0.01M439.18,119.86h0.01M441.78,126.55h0.01M447.68,129.47h0.01M454.17,166.79h0.01M444.92,127.19h0.01M473.7,128.34h0.01M458.55,149.27h0.01M456.63,173.86h0.01M460.27,169.58h0.01M456.8,150.91h0.01M453.99,131.51h0.01M454.9,159.39h0.01M427.16,124.47h0.01M449.67,180.2h0.01M458.52,166.19h0.01M435.5,125.55h0.01M451.39,151.12h0.01M453.22,162.71h0.01M474.49,128.22h0.01M472.79,131.07h0.01M458.02,140.73h0.01M454.97,130.33h0.01M459.36,172.54h0.01M467.47,132.87h0.01M458.17,159.17h0.01M453.91,144.37h0.01M452.71,126.88h0.01M464.58,134.12h0.01M473.69,141.52h0.01M440.54,139.49h0.01M461.98,160.19h0.01M451.79,133.81h0.01M454.25,151.46h0.01M458.47,175.54h0.01M462.52,188.54h0.01M443.52,125.54h0.01M461.7,142.05h0.01M454.26,178.09h0.01M454.34,125.74h0.01M420,125.37h0.01M436.44,185.13h0.01M472.43,133.41h0.01M420.53,187.15h0.01M417.65,144.2h0.01M482.7,130.61h0.01M420.4,175.54h0.01M451.3,183.08h0.01M453.73,175.22h0.01M478.44,129.15h0.01M454.44,166.04h0.01M474.84,131.07h0.01M478.09,126.82h0.01M474.57,127.83h0.01M443.39,122.37h0.01M442.31,123.92h0.01M452.96,131.06h0.01M431.32,123.3h0.01M473.95,133.61h0.01M457.88,177h0.01M474.85,181.59h0.01M452.2,175.02h0.01M476.06,124.95h0.01M449.1,127.37h0.01M420.09,156.76h0.01M456.6,133.01h0.01M452.86,170.81h0.01M460.2,141.6h0.01M454.77,144.8h0.01M457.95,139.97h0.01M457.91,181.09h0.01M453.09,166.18h0.01M454.81,164.37h0.01M447.21,181.44h0.01M453.04,154.46h0.01M469.84,130.38h0.01M429.56,182.61h0.01M460.16,165.4h0.01M474.84,135.23h0.01M456.49,137.74h0.01M457.08,135.5h0.01M455.55,139.97h0.01M453.11,175.69h0.01M465.41,130.05h0.01M456.8,143.95h0.01M435.65,121.94h0.01M454.42,136.84h0.01M455.6,176.34h0.01M456.71,173.62h0.01M454.86,174.19h0.01M429.77,183.96h0.01M459.04,171.16h0.01M429.31,179.18h0.01M467.84,148.21h0.01M457.75,162.05h0.01M435.38,181.46h0.01M469.8,133.25h0.01M459.02,133.88h0.01M452.77,162.64h0.01M462.38,140.6h0.01M429.82,127.26h0.01M454.67,140.85h0.01M463.2,131.59h0.01M463.48,125.7h0.01M416.85,183.18h0.01M452.12,126.13h0.01M437.03,187.32h0.01M469.26,130.99h0.01M450.27,127.81h0.01M461.08,131.91h0.01M419.32,182.67h0.01M455.87,173.53h0.01M430.55,121.74h0.01M476.77,138.81h0.01M449.44,180.94h0.01M454.46,173.68h0.01M448.26,125.6h0.01M457.55,137.23h0.01M463.72,139.44h0.01M421.25,184.14h0.01M464.16,137.09h0.01M451.29,181.97h0.01M464.03,132.39h0.01M442.56,127.26h0.01M448.06,130.75h0.01M416.55,184.27h0.01M422.19,183.39h0.01M467.16,142.93h0.01M419.25,179.51h0.01M455.07,147.51h0.01M458.78,131.05h0.01M444.71,125.39h0.01M417.75,129.19h0.01M420.74,130.2h0.01M458.06,129.15h0.01M455.15,146.86h0.01M442.13,179h0.01M440.42,128.03h0.01M456.79,173.45h0.01M469.59,135.68h0.01M452.65,124.05h0.01M450.96,159.2h0.01M461.42,133.48h0.01M454,156.74h0.01M425.53,123.5h0.01M471.81,134.64h0.01M439.31,125.96h0.01M458.97,164.77h0.01M456.76,134.88h0.01M458.15,154.67h0.01M453.81,159.11h0.01M452.41,172.78h0.01M452.07,147.47h0.01M457.57,123.05h0.01M453.93,166.26h0.01M422.17,183.32h0.01M461.88,126.34h0.01M452.33,180.73h0.01M421.37,181h0.01M454.98,135.52h0.01M432.56,122.08h0.01M454.01,131.56h0.01M424.53,125.37h0.01M436.14,180.79h0.01M463.38,184.64h0.01M459.44,138.28h0.01M453.62,155.83h0.01M423.97,126.69h0.01M438.63,125.09h0.01M433.76,123.88h0.01M451.55,132.59h0.01M424.33,131.08h0.01M433.82,125.15h0.01M463.68,134.36h0.01M452.24,179.19h0.01M445.91,186.35h0.01M451.01,134.9h0.01M454.34,144.5h0.01M454.1,166.47h0.01M453.33,145.63h0.01M430.61,182.11h0.01M451.43,130.4h0.01M448.72,125.15h0.01M457,142.89h0.01M453.51,160.63h0.01M471.57,129.9h0.01M458.58,169.69h0.01M445.9,126.86h0.01M453.23,178.38h0.01M450.8,174.14h0.01M455.19,127.21h0.01M462.53,133.81h0.01M416.8,145.1h0.01M441.68,125.09h0.01M458.93,177.63h0.01M456.43,140.1h0.01M427.84,179.84h0.01M418.74,183.76h0.01M458.05,128.12h0.01M466.65,136.17h0.01M454.33,148.2h0.01M416.71,133.02h0.01M467.89,134.84h0.01M454.87,138.27h0.01M456.05,164.91h0.01M449.03,129.82h0.01M464.08,133.6h0.01M453.18,133.74h0.01M460.48,135.72h0.01M464.05,132.9h0.01M445.18,125.16h0.01M454.27,167.1h0.01M454.77,174.6h0.01M436.77,122.37h0.01M459.13,158h0.01M470.04,129.24h0.01M433.2,124.43h0.01M458.63,130.09h0.01M459.71,130.9h0.01M448.8,127.88h0.01M456.23,152.82h0.01M446.42,182.03h0.01M426.57,184.44h0.01M435.15,122.45h0.01M456.74,129.17h0.01M459.13,121.2h0.01M461.37,130.93h0.01M453.28,164.39h0.01M417.49,164.2h0.01M441.54,182.1h0.01M458.15,140.97h0.01M456.13,169.82h0.01M456.44,172.78h0.01M462.84,127.42h0.01M456.82,137.37h0.01M461.91,132.35h0.01M428.72,121.78h0.01M453.46,140.41h0.01M457.34,139.86h0.01M434.46,183.99h0.01M462.54,186.89h0.01M473.7,124.87h0.01M453.98,162.87h0.01M457.94,155.86h0.01M453.37,136.72h0.01M459.47,163.76h0.01M424.98,183.78h0.01M447.52,181.77h0.01M416.48,126.15h0.01M459.32,136.64h0.01M474.02,133.79h0.01M417.36,130.1h0.01M456.29,177.93h0.01M457.27,151.69h0.01M437.73,186.37h0.01M457.96,160.24h0.01M431.63,125.34h0.01M483.55,136.79h0.01M450.63,146.44h0.01M453.83,177.97h0.01M435.92,180.78h0.01M459.19,142.11h0.01M451.97,125.57h0.01M457.98,163.82h0.01M451.83,176.01h0.01M459.87,137.05h0.01M459.37,125.58h0.01M416.08,127.85h0.01M430.47,125.44h0.01M436.12,122.29h0.01M438.59,186.54h0.01M456.58,136.56h0.01M435.51,120.16h0.01M429.19,123.76h0.01M419.11,180.83h0.01M439.86,128.15h0.01M441.42,181.75h0.01M439.03,123.14h0.01M450.46,169.83h0.01M417.72,131.25h0.01M419.46,165.96h0.01M460.79,136.56h0.01M459.86,166.51h0.01M450.54,183.39h0.01M459.52,154.31h0.01M427.66,185.01h0.01M469.77,128.74h0.01M451.77,168.87h0.01M421.64,127.61h0.01M461.84,137.67h0.01M422.48,129.03h0.01M425.8,124.8h0.01M456.14,173.77h0.01M456.53,134.69h0.01M465.86,127.39h0.01M421.49,186.24h0.01M459.6,172.12h0.01M419.42,184.04h0.01M424.92,182.77h0.01M430.98,181.66h0.01" stroke="#111" stroke-width="1.1" stroke-linecap="round" opacity="0.7"/>
<filter id="bl1" x="-20%" y="-20%" width="140%" height="140%"><feGaussianBlur stdDeviation="1.3"/></filter>
<path d="M416,131 C416.83,121.75 418.67,128.08 421,127 C423.33,125.92 426.83,125 430,124.5 C433.17,124 437,123.83 440,124 C443,124.17 445.83,124.67 448,125.5 C450.17,126.33 451.75,127.25 453,129 C454.25,130.75 455.17,132.83 455.5,136 C455.83,139.17 454.83,144.33 455,148 C455.17,151.67 456.25,154.67 456.5,158 C456.75,161.33 456.83,165 456.5,168 C456.17,171 455.75,173.92 454.5,176 C453.25,178.08 451.25,179.42 449,180.5 C446.75,181.58 444.17,182.08 441,182.5 C437.83,182.92 433.5,182.92 430,183 C426.5,183.08 422.33,183.08 420,183 C417.67,182.92 416.67,191.17 416,182.5 C415.33,173.83 415.17,140.25 416,131 Z" fill="#0b0b0b" filter="url(#bl1)"/>
<path d="M418.05,132.84 C418.8,124.33 420.45,130.16 422.55,129.16 C424.65,128.16 427.8,127.32 430.65,126.86 C433.5,126.4 436.95,126.25 439.65,126.4 C442.35,126.55 444.9,127.01 446.85,127.78 C448.8,128.55 450.23,129.39 451.35,131 C452.48,132.61 453.3,134.53 453.6,137.44 C453.9,140.35 453,145.11 453.15,148.48 C453.3,151.85 454.27,154.61 454.5,157.68 C454.73,160.75 454.8,164.12 454.5,166.88 C454.2,169.64 453.82,172.32 452.7,174.24 C451.57,176.16 449.77,177.38 447.75,178.38 C445.73,179.38 443.4,179.84 440.55,180.22 C437.7,180.6 433.8,180.6 430.65,180.68 C427.5,180.76 423.75,180.76 421.65,180.68 C419.55,180.6 418.65,188.19 418.05,180.22 C417.45,172.25 417.3,141.35 418.05,132.84 Z" fill="#0b0b0b"/>
<path d="M436.5,130 C438.33,130 440.33,130.25 442,131 C443.67,131.75 445.5,133 446.5,134.5 C447.5,136 447.83,138.08 448,140 C448.17,141.92 447.92,144.17 447.5,146 C447.08,147.83 446.58,149.67 445.5,151 C444.42,152.33 442.5,153.33 441,154 C439.5,154.67 438,155 436.5,155 C435,155 433.5,154.67 432,154 C430.5,153.33 428.67,152.33 427.5,151 C426.33,149.67 425.42,147.83 425,146 C424.58,144.17 424.67,141.92 425,140 C425.33,138.08 426,136 427,134.5 C428,133 429.42,131.75 431,131 C432.58,130.25 434.67,130 436.5,130 Z" stroke="#fff" stroke-width="0.5" fill="none"/>
<path d="M436.5,132.16 C438,132.16 439.64,132.36 441.01,132.98 C442.38,133.59 443.88,134.62 444.7,135.85 C445.52,137.08 445.79,138.79 445.93,140.36 C446.07,141.93 445.86,143.78 445.52,145.28 C445.18,146.78 444.77,148.29 443.88,149.38 C442.99,150.47 441.42,151.29 440.19,151.84 C438.96,152.39 437.73,152.66 436.5,152.66 C435.27,152.66 434.04,152.39 432.81,151.84 C431.58,151.29 430.08,150.47 429.12,149.38 C428.16,148.29 427.41,146.78 427.07,145.28 C426.73,143.78 426.8,141.93 427.07,140.36 C427.34,138.79 427.89,137.08 428.71,135.85 C429.53,134.62 430.69,133.59 431.99,132.98 C433.29,132.36 435,132.16 436.5,132.16 Z" stroke="#fff" stroke-width="0.5" fill="none"/>
<path d="M436.5,134.32 C437.67,134.32 438.95,134.48 440.02,134.96 C441.09,135.44 442.26,136.24 442.9,137.2 C443.54,138.16 443.75,139.49 443.86,140.72 C443.97,141.95 443.81,143.39 443.54,144.56 C443.27,145.73 442.95,146.91 442.26,147.76 C441.57,148.61 440.34,149.25 439.38,149.68 C438.42,150.11 437.46,150.32 436.5,150.32 C435.54,150.32 434.58,150.11 433.62,149.68 C432.66,149.25 431.49,148.61 430.74,147.76 C429.99,146.91 429.41,145.73 429.14,144.56 C428.87,143.39 428.93,141.95 429.14,140.72 C429.35,139.49 429.78,138.16 430.42,137.2 C431.06,136.24 431.97,135.44 432.98,134.96 C433.99,134.48 435.33,134.32 436.5,134.32 Z" stroke="#fff" stroke-width="0.5" fill="none"/>
<path d="M436.5,136.48 C437.34,136.48 438.26,136.59 439.03,136.94 C439.8,137.28 440.64,137.86 441.1,138.55 C441.56,139.24 441.71,140.2 441.79,141.08 C441.87,141.96 441.75,143 441.56,143.84 C441.37,144.68 441.14,145.53 440.64,146.14 C440.14,146.75 439.26,147.21 438.57,147.52 C437.88,147.83 437.19,147.98 436.5,147.98 C435.81,147.98 435.12,147.83 434.43,147.52 C433.74,147.21 432.9,146.75 432.36,146.14 C431.82,145.53 431.4,144.68 431.21,143.84 C431.02,143 431.06,141.96 431.21,141.08 C431.36,140.2 431.67,139.24 432.13,138.55 C432.59,137.86 433.24,137.28 433.97,136.94 C434.7,136.59 435.66,136.48 436.5,136.48 Z" stroke="#fff" stroke-width="0.5" fill="none"/>
<path d="M433,137 C434,134 438,133.5 439.5,135.5 C440.5,138 439,142 437.5,145 C436,146.5 433.5,145 433,142 Z" fill="#fff"/>
<ellipse cx="436.2" cy="164.8" rx="13.4" ry="12.2" transform="rotate(0 436.2 164.8)" stroke="#ddd" stroke-width="0.5" fill="#0b0b0b" opacity="1"/>
<ellipse cx="436.2" cy="164.8" rx="2.8" ry="2.5" transform="rotate(0 436.2 164.8)" stroke="#4a4a4a" stroke-width="0.35" fill="none" opacity="1"/>
<ellipse cx="436.2" cy="164.8" rx="5.5" ry="4.9" transform="rotate(0 436.2 164.8)" stroke="#4a4a4a" stroke-width="0.35" fill="none" opacity="1"/>
<ellipse cx="436.2" cy="164.8" rx="8.2" ry="7.3" transform="rotate(0 436.2 164.8)" stroke="#4a4a4a" stroke-width="0.35" fill="none" opacity="1"/>
<ellipse cx="436.2" cy="164.8" rx="10.9" ry="9.7" transform="rotate(0 436.2 164.8)" stroke="#4a4a4a" stroke-width="0.35" fill="none" opacity="1"/>
<ellipse cx="436.2" cy="164.8" rx="1.5" ry="1.1" transform="rotate(0 436.2 164.8)" stroke="none" stroke-width="0.6" fill="#fff" opacity="1"/>
<path d="M421.2,176 C420.8,173.4 420.53,166.67 420.6,162 C420.67,157.33 421.12,152.17 421.6,148 C422.08,143.83 422.35,139.83 423.5,137 C424.65,134.17 426.25,132.33 428.5,131 C430.75,129.67 434.17,129.12 437,129 C439.83,128.88 443.42,129.22 445.5,130.3 C447.58,131.38 448.75,133.05 449.5,135.5 C450.25,137.95 449.83,142.42 450,145 C450.17,147.58 450.07,149.08 450.5,151 C450.93,152.92 452.22,154 452.6,156.5 C452.98,159 452.98,163.17 452.8,166 C452.62,168.83 452.63,171.53 451.5,173.5 C450.37,175.47 448.42,176.92 446,177.8 C443.58,178.68 440,178.67 437,178.8 C434,178.93 430.33,178.8 428,178.6 C425.67,178.4 424.13,178.03 423,177.6 C421.87,177.17 421.6,178.6 421.2,176 Z" stroke="#fff" stroke-width="0.5" fill="none"/>
<path d="M422.35,174.9 C421.98,172.43 421.73,166.03 421.79,161.6 C421.85,157.17 422.27,152.26 422.72,148.3 C423.16,144.34 423.41,140.54 424.48,137.85 C425.54,135.16 427.02,133.42 429.1,132.15 C431.18,130.88 434.34,130.36 436.96,130.25 C439.58,130.14 442.9,130.46 444.82,131.49 C446.75,132.51 447.83,134.1 448.52,136.43 C449.22,138.75 448.83,143 448.99,145.45 C449.14,147.9 449.05,149.33 449.45,151.15 C449.85,152.97 451.04,154 451.39,156.38 C451.75,158.75 451.75,162.71 451.58,165.4 C451.41,168.09 451.42,170.66 450.38,172.53 C449.33,174.39 447.52,175.77 445.29,176.61 C443.05,177.45 439.74,177.43 436.96,177.56 C434.19,177.69 430.8,177.56 428.64,177.37 C426.48,177.18 425.06,176.83 424.01,176.42 C422.96,176.01 422.72,177.37 422.35,174.9 Z" stroke="#fff" stroke-width="0.5" fill="none"/>
<path d="M423.5,173.8 C423.16,171.46 422.93,165.4 422.99,161.2 C423.04,157 423.42,152.35 423.84,148.6 C424.25,144.85 424.47,141.25 425.45,138.7 C426.43,136.15 427.79,134.5 429.7,133.3 C431.61,132.1 434.52,131.6 436.93,131.5 C439.33,131.4 442.38,131.7 444.15,132.67 C445.92,133.65 446.91,135.14 447.55,137.35 C448.19,139.56 447.83,143.57 447.98,145.9 C448.12,148.23 448.03,149.58 448.4,151.3 C448.77,153.03 449.86,154 450.19,156.25 C450.51,158.5 450.51,162.25 450.36,164.8 C450.2,167.35 450.21,169.78 449.25,171.55 C448.29,173.32 446.63,174.62 444.57,175.42 C442.52,176.22 439.48,176.2 436.93,176.32 C434.38,176.44 431.26,176.32 429.27,176.14 C427.29,175.96 425.99,175.63 425.02,175.24 C424.06,174.85 423.83,176.14 423.5,173.8 Z" stroke="#fff" stroke-width="0.5" fill="none"/>
<text x="36.7" y="265.6" font-size="7.4" text-anchor="start" fill="#222" textLength="17.3" lengthAdjust="spacingAndGlyphs" stroke="#222" stroke-width="0.15" >Scale</text>
<text x="36.7" y="275" font-size="7.4" text-anchor="start" fill="#222" textLength="20.3" lengthAdjust="spacingAndGlyphs" stroke="#222" stroke-width="0.15" >chr11:</text>
<text x="153.8" y="263.6" font-size="7.4" text-anchor="start" fill="#222" textLength="18.9" lengthAdjust="spacingAndGlyphs" stroke="#222" stroke-width="0.15" >10 kb</text>
<line x1="174" y1="260.7" x2="392.5" y2="260.7" stroke="#231f20" stroke-width="1" />
<line x1="174.3" y1="258" x2="174.3" y2="263.5" stroke="#231f20" stroke-width="1" />
<line x1="392.3" y1="258" x2="392.3" y2="263.5" stroke="#231f20" stroke-width="1" />
<text x="398.3" y="263.4" font-size="7.4" text-anchor="start" fill="#222" textLength="21" lengthAdjust="spacingAndGlyphs" stroke="#222" stroke-width="0.15" >mm10</text>
<text x="74.2" y="274.2" font-size="7.4" text-anchor="start" fill="#222" textLength="48.5" lengthAdjust="spacingAndGlyphs" stroke="#222" stroke-width="0.15" >102,455,000 I</text>
<text x="181.9" y="274.2" font-size="7.4" text-anchor="start" fill="#222" textLength="48.5" lengthAdjust="spacingAndGlyphs" stroke="#222" stroke-width="0.15" >102,460,000 I</text>
<text x="290" y="274.2" font-size="7.4" text-anchor="start" fill="#222" textLength="48.5" lengthAdjust="spacingAndGlyphs" stroke="#222" stroke-width="0.15" >102,465,000 I</text>
<text x="398.3" y="274.2" font-size="7.4" text-anchor="start" fill="#222" textLength="48.5" lengthAdjust="spacingAndGlyphs" stroke="#222" stroke-width="0.15" >102,470,000 I</text>
<line x1="55.5" y1="307.3" x2="478.8" y2="307.3" stroke="#c8143c" stroke-width="0.8" opacity="0.55"/>
<path d="M130,307.3 L130,307.3 L130.6,307.3 L130.6,307.3 L131.2,307.3 L131.2,307.3 L131.8,307.3 L131.8,307.3 L132.4,307.3 L132.4,307.3 L133,307.3 L133,307.3 L133.6,307.3 L133.6,307.3 L134.2,307.3 L134.2,307.3 L134.8,307.3 L134.8,307.3 L135.4,307.3 L135.4,307.26 L136,307.26 L136,307.05 L136.6,307.05 L136.6,306.26 L137.2,306.26 L137.2,303.81 L137.8,303.81 L137.8,299.95 L138.4,299.95 L138.4,295.26 L139,295.26 L139,293.91 L139.6,293.91 L139.6,297.75 L140.2,297.75 L140.2,301.02 L140.8,301.02 L140.8,302.3 L141.4,302.3 L141.4,304.13 L142,304.13 L142,304.84 L142.6,304.84 L142.6,305.01 L143.2,305.01 L143.2,305.61 L143.8,305.61 L143.8,305.4 L144.4,305.4 L144.4,305.03 L145,305.03 L145,303.97 L145.6,303.97 L145.6,303.25 L146.2,303.25 L146.2,301.46 L146.8,301.46 L146.8,300.04 L147.4,300.04 L147.4,299.97 L148,299.97 L148,299.47 L148.6,299.47 L148.6,299.95 L149.2,299.95 L149.2,301.56 L149.8,301.56 L149.8,301.35 L150.4,301.35 L150.4,302.43 L151,302.43 L151,303.52 L151.6,303.52 L151.6,304.44 L152.2,304.44 L152.2,304.56 L152.8,304.56 L152.8,305.44 L153.4,305.44 L153.4,305.93 L154,305.93 L154,306.38 L154.6,306.38 L154.6,306.77 L155.2,306.77 L155.2,307.02 L155.8,307.02 L155.8,307.16 L156.4,307.16 L156.4,307.23 L157,307.23 L157,307.27 L157.6,307.27 L157.6,307.29 L158.2,307.29 L158.2,307.3 L158.8,307.3 L158.8,307.3 L159.4,307.3 L159.4,307.3 L160,307.3 L160,307.3 L160.6,307.3 L160,307.3 Z" fill="#c8143c"/>
<path d="M358,307.3 L358,307.3 L358.6,307.3 L358.6,307.3 L359.2,307.3 L359.2,307.3 L359.8,307.3 L359.8,307.3 L360.4,307.3 L360.4,307.3 L361,307.3 L361,307.3 L361.6,307.3 L361.6,307.3 L362.2,307.3 L362.2,307.3 L362.8,307.3 L362.8,307.3 L363.4,307.3 L363.4,307.3 L364,307.3 L364,307.3 L364.6,307.3 L364.6,307.3 L365.2,307.3 L365.2,307.3 L365.8,307.3 L365.8,307.3 L366.4,307.3 L366.4,307.3 L367,307.3 L367,307.3 L367.6,307.3 L367.6,307.3 L368.2,307.3 L368.2,307.3 L368.8,307.3 L368.8,307.3 L369.4,307.3 L369.4,307.3 L370,307.3 L370,307.3 L370.6,307.3 L370.6,307.3 L371.2,307.3 L371.2,307.3 L371.8,307.3 L371.8,307.3 L372.4,307.3 L372.4,307.3 L373,307.3 L373,307.3 L373.6,307.3 L373.6,307.3 L374.2,307.3 L374.2,307.3 L374.8,307.3 L374.8,307.3 L375.4,307.3 L375.4,307.3 L376,307.3 L376,307.3 L376.6,307.3 L376.6,307.3 L377.2,307.3 L377.2,307.3 L377.8,307.3 L377.8,307.3 L378.4,307.3 L378.4,307.29 L379,307.29 L379,307.25 L379.6,307.25 L379.6,307.13 L380.2,307.13 L380.2,306.72 L380.8,306.72 L380.8,306.02 L381.4,306.02 L381.4,304.36 L382,304.36 L382,302.52 L382.6,302.52 L382.6,299.04 L383.2,299.04 L383.2,295.84 L383.8,295.84 L383.8,294.75 L384.4,294.75 L384.4,291.43 L385,291.43 L385,288.46 L385.6,288.46 L385.6,283.64 L386.2,283.64 L386.2,287.52 L386.8,287.52 L386.8,289.55 L387.4,289.55 L387.4,294.04 L388,294.04 L388,296.2 L388.6,296.2 L388.6,298.72 L389.2,298.72 L389.2,300.69 L389.8,300.69 L389.8,302.11 L390.4,302.11 L390.4,303.55 L391,303.55 L391,304.2 L391.6,304.2 L391.6,304.7 L392.2,304.7 L392.2,304.67 L392.8,304.67 L392.8,304.88 L393.4,304.88 L393.4,305.18 L394,305.18 L394,305.82 L394.6,305.82 L394.6,306.44 L395.2,306.44 L395.2,306.72 L395.8,306.72 L395.8,307.04 L396.4,307.04 L396.4,307.19 L397,307.19 L397,307.26 L397.6,307.26 L397.6,307.29 L398.2,307.29 L398.2,307.3 L398.8,307.3 L398.8,307.3 L399.4,307.3 L399.4,307.3 L400,307.3 L400,307.3 Z" fill="#c8143c"/>
<path d="M436,307.3 L436,307.3 L436.6,307.3 L436.6,307.3 L437.2,307.3 L437.2,307.3 L437.8,307.3 L437.8,307.3 L438.4,307.3 L438.4,307.28 L439,307.28 L439,307.25 L439.6,307.25 L439.6,307.16 L440.2,307.16 L440.2,306.95 L440.8,306.95 L440.8,306.62 L441.4,306.62 L441.4,306.25 L442,306.25 L442,305.75 L442.6,305.75 L442.6,305.61 L443.2,305.61 L443.2,305.2 L443.8,305.2 L443.8,305.39 L444.4,305.39 L444.4,305.64 L445,305.64 L445,305.75 L445.6,305.75 L445.6,305.16 L446.2,305.16 L446.2,304.51 L446.8,304.51 L446.8,304.39 L447.4,304.39 L447.4,302.99 L448,302.99 L448,302.7 L448.6,302.7 L448.6,302.61 L449.2,302.61 L449.2,302.38 L449.8,302.38 L449.8,302.12 L450.4,302.12 L450.4,302.67 L451,302.67 L451,304.24 L451.6,304.24 L451.6,304.64 L452.2,304.64 L452.2,305.69 L452.8,305.69 L452.8,306.07 L453.4,306.07 L453.4,306.62 L454,306.62 L454,306.87 L454.6,306.87 L454.6,307.1 L455.2,307.1 L455.2,307.2 L455.8,307.2 L455.8,307.26 L456.4,307.26 L456.4,307.28 L457,307.28 L457,307.29 L457.6,307.29 L457.6,307.3 L458.2,307.3 L458.2,307.3 L458.8,307.3 L458.8,307.3 L459.4,307.3 L459.4,307.3 L460,307.3 L460,307.3 L460.6,307.3 L460.6,307.3 L461.2,307.3 L461.2,307.3 L461.8,307.3 L461.8,307.3 L462.4,307.3 L462.4,307.3 L463,307.3 L463,307.3 L463.6,307.3 L463.6,307.3 L464.2,307.3 L464.2,307.3 L464.8,307.3 L464.8,307.3 L465.4,307.3 L465.4,307.3 L466,307.3 L466,307.3 Z" fill="#c8143c"/>
<line x1="55.5" y1="335.2" x2="478.8" y2="335.2" stroke="#1d4f8a" stroke-width="0.8" opacity="0.55"/>
<path d="M130,335.2 L130,335.2 L130.6,335.2 L130.6,335.2 L131.2,335.2 L131.2,335.2 L131.8,335.2 L131.8,335.2 L132.4,335.2 L132.4,335.2 L133,335.2 L133,335.2 L133.6,335.2 L133.6,335.2 L134.2,335.2 L134.2,335.2 L134.8,335.2 L134.8,335.19 L135.4,335.19 L135.4,335.13 L136,335.13 L136,334.85 L136.6,334.85 L136.6,334.12 L137.2,334.12 L137.2,332.09 L137.8,332.09 L137.8,330.15 L138.4,330.15 L138.4,328.45 L139,328.45 L139,327.01 L139.6,327.01 L139.6,329.31 L140.2,329.31 L140.2,330.7 L140.8,330.7 L140.8,331.39 L141.4,331.39 L141.4,331.57 L142,331.57 L142,332.51 L142.6,332.51 L142.6,333.34 L143.2,333.34 L143.2,333.38 L143.8,333.38 L143.8,333.16 L144.4,333.16 L144.4,331.37 L145,331.37 L145,329.34 L145.6,329.34 L145.6,327.96 L146.2,327.96 L146.2,325.99 L146.8,325.99 L146.8,324.74 L147.4,324.74 L147.4,324.26 L148,324.26 L148,325.09 L148.6,325.09 L148.6,326.44 L149.2,326.44 L149.2,327.79 L149.8,327.79 L149.8,328.78 L150.4,328.78 L150.4,330.64 L151,330.64 L151,331.82 L151.6,331.82 L151.6,332.6 L152.2,332.6 L152.2,333.64 L152.8,333.64 L152.8,334.21 L153.4,334.21 L153.4,334.53 L154,334.53 L154,334.88 L154.6,334.88 L154.6,335.04 L155.2,335.04 L155.2,335.13 L155.8,335.13 L155.8,335.17 L156.4,335.17 L156.4,335.19 L157,335.19 L157,335.2 L157.6,335.2 L157.6,335.2 L158.2,335.2 L158.2,335.2 L158.8,335.2 L158.8,335.2 L159.4,335.2 L159.4,335.2 L160,335.2 L160,335.2 L160.6,335.2 L160,335.2 Z" fill="#1d4f8a"/>
<path d="M358,335.2 L358,335.2 L358.6,335.2 L358.6,335.2 L359.2,335.2 L359.2,335.19 L359.8,335.19 L359.8,335.18 L360.4,335.18 L360.4,335.13 L361,335.13 L361,335.04 L361.6,335.04 L361.6,334.86 L362.2,334.86 L362.2,334.68 L362.8,334.68 L362.8,334.35 L363.4,334.35 L363.4,334.07 L364,334.07 L364,334.14 L364.6,334.14 L364.6,334.06 L365.2,334.06 L365.2,334.3 L365.8,334.3 L365.8,334.68 L366.4,334.68 L366.4,334.86 L367,334.86 L367,335.04 L367.6,335.04 L367.6,335.13 L368.2,335.13 L368.2,335.18 L368.8,335.18 L368.8,335.19 L369.4,335.19 L369.4,335.2 L370,335.2 L370,335.2 L370.6,335.2 L370.6,335.2 L371.2,335.2 L371.2,335.2 L371.8,335.2 L371.8,335.2 L372.4,335.2 L372.4,335.2 L373,335.2 L373,335.2 L373.6,335.2 L373.6,335.2 L374.2,335.2 L374.2,335.2 L374.8,335.2 L374.8,335.2 L375.4,335.2 L375.4,335.2 L376,335.2 L376,335.2 L376.6,335.2 L376.6,335.2 L377.2,335.2 L377.2,335.2 L377.8,335.2 L377.8,335.2 L378.4,335.2 L378.4,335.19 L379,335.19 L379,335.14 L379.6,335.14 L379.6,334.96 L380.2,334.96 L380.2,334.48 L380.8,334.48 L380.8,333.31 L381.4,333.31 L381.4,331.57 L382,331.57 L382,328.32 L382.6,328.32 L382.6,324.71 L383.2,324.71 L383.2,323.16 L383.8,323.16 L383.8,319.54 L384.4,319.54 L384.4,312.84 L385,312.84 L385,307.81 L385.6,307.81 L385.6,310.86 L386.2,310.86 L386.2,310.89 L386.8,310.89 L386.8,313.37 L387.4,313.37 L387.4,318.37 L388,318.37 L388,321.45 L388.6,321.45 L388.6,324.4 L389.2,324.4 L389.2,326.84 L389.8,326.84 L389.8,328.89 L390.4,328.89 L390.4,331.14 L391,331.14 L391,332.12 L391.6,332.12 L391.6,332.23 L392.2,332.23 L392.2,332.81 L392.8,332.81 L392.8,332.64 L393.4,332.64 L393.4,332.98 L394,332.98 L394,333.75 L394.6,333.75 L394.6,334.32 L395.2,334.32 L395.2,334.67 L395.8,334.67 L395.8,334.98 L396.4,334.98 L396.4,335.11 L397,335.11 L397,335.17 L397.6,335.17 L397.6,335.19 L398.2,335.19 L398.2,335.2 L398.8,335.2 L398.8,335.2 L399.4,335.2 L399.4,335.2 L400,335.2 L400,335.2 Z" fill="#1d4f8a"/>
<path d="M436,335.2 L436,335.2 L436.6,335.2 L436.6,335.2 L437.2,335.2 L437.2,335.2 L437.8,335.2 L437.8,335.2 L438.4,335.2 L438.4,335.18 L439,335.18 L439,335.12 L439.6,335.12 L439.6,334.95 L440.2,334.95 L440.2,334.59 L440.8,334.59 L440.8,333.92 L441.4,333.92 L441.4,332.89 L442,332.89 L442,331.81 L442.6,331.81 L442.6,331.94 L443.2,331.94 L443.2,332.1 L443.8,332.1 L443.8,332.94 L444.4,332.94 L444.4,333.69 L445,333.69 L445,334.5 L445.6,334.5 L445.6,334.73 L446.2,334.73 L446.2,334.62 L446.8,334.62 L446.8,333.81 L447.4,333.81 L447.4,331.91 L448,331.91 L448,328.8 L448.6,328.8 L448.6,326.37 L449.2,326.37 L449.2,324.69 L449.8,324.69 L449.8,324.51 L450.4,324.51 L450.4,324.78 L451,324.78 L451,327.9 L451.6,327.9 L451.6,329.35 L452.2,329.35 L452.2,331.3 L452.8,331.3 L452.8,333 L453.4,333 L453.4,333.72 L454,333.72 L454,334.13 L454.6,334.13 L454.6,334.58 L455.2,334.58 L455.2,334.84 L455.8,334.84 L455.8,335.03 L456.4,335.03 L456.4,335.12 L457,335.12 L457,335.17 L457.6,335.17 L457.6,335.19 L458.2,335.19 L458.2,335.2 L458.8,335.2 L458.8,335.2 L459.4,335.2 L459.4,335.2 L460,335.2 L460,335.2 L460.6,335.2 L460.6,335.2 L461.2,335.2 L461.2,335.2 L461.8,335.2 L461.8,335.2 L462.4,335.2 L462.4,335.2 L463,335.2 L463,335.2 L463.6,335.2 L463.6,335.2 L464.2,335.2 L464.2,335.2 L464.8,335.2 L464.8,335.2 L465.4,335.2 L465.4,335.2 L466,335.2 L466,335.2 Z" fill="#1d4f8a"/>
<line x1="55.5" y1="363" x2="478.8" y2="363" stroke="#f7931e" stroke-width="0.8" opacity="0.55"/>
<path d="M130,363 L130,363 L130.6,363 L130.6,363 L131.2,363 L131.2,363 L131.8,363 L131.8,363 L132.4,363 L132.4,363 L133,363 L133,363 L133.6,363 L133.6,363 L134.2,363 L134.2,363 L134.8,363 L134.8,363 L135.4,363 L135.4,362.97 L136,362.97 L136,362.82 L136.6,362.82 L136.6,362.35 L137.2,362.35 L137.2,361.26 L137.8,361.26 L137.8,359.17 L138.4,359.17 L138.4,356.26 L139,356.26 L139,356.09 L139.6,356.09 L139.6,356.87 L140.2,356.87 L140.2,358.81 L140.8,358.81 L140.8,360.42 L141.4,360.42 L141.4,360.69 L142,360.69 L142,359.28 L142.6,359.28 L142.6,358.43 L143.2,358.43 L143.2,357.51 L143.8,357.51 L143.8,355.79 L144.4,355.79 L144.4,356.51 L145,356.51 L145,357.13 L145.6,357.13 L145.6,357.94 L146.2,357.94 L146.2,356.62 L146.8,356.62 L146.8,355.68 L147.4,355.68 L147.4,356.28 L148,356.28 L148,355.44 L148.6,355.44 L148.6,355.79 L149.2,355.79 L149.2,356.55 L149.8,356.55 L149.8,357.11 L150.4,357.11 L150.4,357.93 L151,357.93 L151,358.86 L151.6,358.86 L151.6,360.3 L152.2,360.3 L152.2,361.6 L152.8,361.6 L152.8,362.32 L153.4,362.32 L153.4,362.78 L154,362.78 L154,362.94 L154.6,362.94 L154.6,362.99 L155.2,362.99 L155.2,363 L155.8,363 L155.8,363 L156.4,363 L156.4,363 L157,363 L157,363 L157.6,363 L157.6,363 L158.2,363 L158.2,363 L158.8,363 L158.8,363 L159.4,363 L159.4,363 L160,363 L160,363 L160.6,363 L160,363 Z" fill="#f7931e"/>
<path d="M358,363 L358,363 L358.6,363 L358.6,363 L359.2,363 L359.2,363 L359.8,363 L359.8,363 L360.4,363 L360.4,363 L361,363 L361,363 L361.6,363 L361.6,363 L362.2,363 L362.2,363 L362.8,363 L362.8,363 L363.4,363 L363.4,363 L364,363 L364,363 L364.6,363 L364.6,363 L365.2,363 L365.2,363 L365.8,363 L365.8,363 L366.4,363 L366.4,363 L367,363 L367,363 L367.6,363 L367.6,363 L368.2,363 L368.2,363 L368.8,363 L368.8,363 L369.4,363 L369.4,363 L370,363 L370,363 L370.6,363 L370.6,363 L371.2,363 L371.2,363 L371.8,363 L371.8,363 L372.4,363 L372.4,363 L373,363 L373,363 L373.6,363 L373.6,363 L374.2,363 L374.2,363 L374.8,363 L374.8,363 L375.4,363 L375.4,363 L376,363 L376,363 L376.6,363 L376.6,363 L377.2,363 L377.2,363 L377.8,363 L377.8,363 L378.4,363 L378.4,362.99 L379,362.99 L379,362.94 L379.6,362.94 L379.6,362.76 L380.2,362.76 L380.2,362.31 L380.8,362.31 L380.8,361.05 L381.4,361.05 L381.4,359.66 L382,359.66 L382,355.84 L382.6,355.84 L382.6,352.68 L383.2,352.68 L383.2,348.17 L383.8,348.17 L383.8,344.1 L384.4,344.1 L384.4,339.88 L385,339.88 L385,338.34 L385.6,338.34 L385.6,340.53 L386.2,340.53 L386.2,337.34 L386.8,337.34 L386.8,343.44 L387.4,343.44 L387.4,346.14 L388,346.14 L388,347.89 L388.6,347.89 L388.6,351.19 L389.2,351.19 L389.2,354.14 L389.8,354.14 L389.8,355.83 L390.4,355.83 L390.4,358.42 L391,358.42 L391,359.85 L391.6,359.85 L391.6,360.34 L392.2,360.34 L392.2,360.05 L392.8,360.05 L392.8,360.49 L393.4,360.49 L393.4,360.75 L394,360.75 L394,361.53 L394.6,361.53 L394.6,362.13 L395.2,362.13 L395.2,362.5 L395.8,362.5 L395.8,362.78 L396.4,362.78 L396.4,362.91 L397,362.91 L397,362.97 L397.6,362.97 L397.6,362.99 L398.2,362.99 L398.2,363 L398.8,363 L398.8,363 L399.4,363 L399.4,363 L400,363 L400,363 Z" fill="#f7931e"/>
<path d="M436,363 L436,363 L436.6,363 L436.6,363 L437.2,363 L437.2,363 L437.8,363 L437.8,363 L438.4,363 L438.4,362.99 L439,362.99 L439,362.94 L439.6,362.94 L439.6,362.77 L440.2,362.77 L440.2,362.24 L440.8,362.24 L440.8,361.44 L441.4,361.44 L441.4,359.63 L442,359.63 L442,357.95 L442.6,357.95 L442.6,357.42 L443.2,357.42 L443.2,358.05 L443.8,358.05 L443.8,360.21 L444.4,360.21 L444.4,361.22 L445,361.22 L445,362.1 L445.6,362.1 L445.6,362.46 L446.2,362.46 L446.2,362.02 L446.8,362.02 L446.8,360.94 L447.4,360.94 L447.4,358.85 L448,358.85 L448,356.41 L448.6,356.41 L448.6,353.66 L449.2,353.66 L449.2,350.9 L449.8,350.9 L449.8,352.53 L450.4,352.53 L450.4,353.24 L451,353.24 L451,354.83 L451.6,354.83 L451.6,356.86 L452.2,356.86 L452.2,358.7 L452.8,358.7 L452.8,359.3 L453.4,359.3 L453.4,360.56 L454,360.56 L454,361.66 L454.6,361.66 L454.6,362.07 L455.2,362.07 L455.2,362.48 L455.8,362.48 L455.8,362.7 L456.4,362.7 L456.4,362.85 L457,362.85 L457,362.93 L457.6,362.93 L457.6,362.97 L458.2,362.97 L458.2,362.99 L458.8,362.99 L458.8,363 L459.4,363 L459.4,363 L460,363 L460,363 L460.6,363 L460.6,363 L461.2,363 L461.2,363 L461.8,363 L461.8,363 L462.4,363 L462.4,363 L463,363 L463,363 L463.6,363 L463.6,363 L464.2,363 L464.2,363 L464.8,363 L464.8,363 L465.4,363 L465.4,363 L466,363 L466,363 Z" fill="#f7931e"/>
<line x1="55.5" y1="390.6" x2="478.8" y2="390.6" stroke="#3ab54a" stroke-width="0.8" opacity="0.55"/>
<path d="M130,390.6 L130,390.6 L130.6,390.6 L130.6,390.6 L131.2,390.6 L131.2,390.6 L131.8,390.6 L131.8,390.6 L132.4,390.6 L132.4,390.6 L133,390.6 L133,390.6 L133.6,390.6 L133.6,390.6 L134.2,390.6 L134.2,390.6 L134.8,390.6 L134.8,390.6 L135.4,390.6 L135.4,390.6 L136,390.6 L136,390.59 L136.6,390.59 L136.6,390.56 L137.2,390.56 L137.2,390.44 L137.8,390.44 L137.8,390.16 L138.4,390.16 L138.4,389.55 L139,389.55 L139,388.47 L139.6,388.47 L139.6,387.37 L140.2,387.37 L140.2,386.78 L140.8,386.78 L140.8,386.8 L141.4,386.8 L141.4,387.02 L142,387.02 L142,387.47 L142.6,387.47 L142.6,386.75 L143.2,386.75 L143.2,385.44 L143.8,385.44 L143.8,384.55 L144.4,384.55 L144.4,384.3 L145,384.3 L145,384.3 L145.6,384.3 L145.6,384.84 L146.2,384.84 L146.2,385.42 L146.8,385.42 L146.8,385.48 L147.4,385.48 L147.4,385.46 L148,385.46 L148,383.95 L148.6,383.95 L148.6,383.44 L149.2,383.44 L149.2,383.54 L149.8,383.54 L149.8,383.98 L150.4,383.98 L150.4,384.38 L151,384.38 L151,384.7 L151.6,384.7 L151.6,385.68 L152.2,385.68 L152.2,386.26 L152.8,386.26 L152.8,387.65 L153.4,387.65 L153.4,388.94 L154,388.94 L154,389.75 L154.6,389.75 L154.6,390.27 L155.2,390.27 L155.2,390.51 L155.8,390.51 L155.8,390.58 L156.4,390.58 L156.4,390.6 L157,390.6 L157,390.6 L157.6,390.6 L157.6,390.6 L158.2,390.6 L158.2,390.6 L158.8,390.6 L158.8,390.6 L159.4,390.6 L159.4,390.6 L160,390.6 L160,390.6 L160.6,390.6 L160,390.6 Z" fill="#3ab54a"/>
<path d="M358,390.6 L358,390.6 L358.6,390.6 L358.6,390.6 L359.2,390.6 L359.2,390.6 L359.8,390.6 L359.8,390.6 L360.4,390.6 L360.4,390.6 L361,390.6 L361,390.6 L361.6,390.6 L361.6,390.6 L362.2,390.6 L362.2,390.6 L362.8,390.6 L362.8,390.6 L363.4,390.6 L363.4,390.6 L364,390.6 L364,390.6 L364.6,390.6 L364.6,390.6 L365.2,390.6 L365.2,390.6 L365.8,390.6 L365.8,390.6 L366.4,390.6 L366.4,390.6 L367,390.6 L367,390.6 L367.6,390.6 L367.6,390.6 L368.2,390.6 L368.2,390.6 L368.8,390.6 L368.8,390.6 L369.4,390.6 L369.4,390.6 L370,390.6 L370,390.6 L370.6,390.6 L370.6,390.6 L371.2,390.6 L371.2,390.6 L371.8,390.6 L371.8,390.6 L372.4,390.6 L372.4,390.6 L373,390.6 L373,390.6 L373.6,390.6 L373.6,390.6 L374.2,390.6 L374.2,390.6 L374.8,390.6 L374.8,390.6 L375.4,390.6 L375.4,390.6 L376,390.6 L376,390.6 L376.6,390.6 L376.6,390.6 L377.2,390.6 L377.2,390.6 L377.8,390.6 L377.8,390.6 L378.4,390.6 L378.4,390.59 L379,390.59 L379,390.54 L379.6,390.54 L379.6,390.38 L380.2,390.38 L380.2,390 L380.8,390 L380.8,388.95 L381.4,388.95 L381.4,387.19 L382,387.19 L382,384.01 L382.6,384.01 L382.6,380.54 L383.2,380.54 L383.2,378.57 L383.8,378.57 L383.8,373.21 L384.4,373.21 L384.4,369.89 L385,369.89 L385,369.68 L385.6,369.68 L385.6,367.48 L386.2,367.48 L386.2,370.37 L386.8,370.37 L386.8,369.6 L387.4,369.6 L387.4,373.59 L388,373.59 L388,375.83 L388.6,375.83 L388.6,378.85 L389.2,378.85 L389.2,381.77 L389.8,381.77 L389.8,384.14 L390.4,384.14 L390.4,386.28 L391,386.28 L391,387.73 L391.6,387.73 L391.6,387.76 L392.2,387.76 L392.2,388.22 L392.8,388.22 L392.8,388.29 L393.4,388.29 L393.4,388.36 L394,388.36 L394,389.25 L394.6,389.25 L394.6,389.75 L395.2,389.75 L395.2,390.15 L395.8,390.15 L395.8,390.38 L396.4,390.38 L396.4,390.51 L397,390.51 L397,390.57 L397.6,390.57 L397.6,390.59 L398.2,390.59 L398.2,390.6 L398.8,390.6 L398.8,390.6 L399.4,390.6 L399.4,390.6 L400,390.6 L400,390.6 Z" fill="#3ab54a"/>
<path d="M436,390.6 L436,390.6 L436.6,390.6 L436.6,390.6 L437.2,390.6 L437.2,390.59 L437.8,390.59 L437.8,390.57 L438.4,390.57 L438.4,390.47 L439,390.47 L439,390.12 L439.6,390.12 L439.6,389.48 L440.2,389.48 L440.2,388.15 L440.8,388.15 L440.8,384.91 L441.4,384.91 L441.4,383.02 L442,383.02 L442,378.66 L442.6,378.66 L442.6,377.86 L443.2,377.86 L443.2,378.2 L443.8,378.2 L443.8,380.24 L444.4,380.24 L444.4,383.48 L445,383.48 L445,384.93 L445.6,384.93 L445.6,386.59 L446.2,386.59 L446.2,385.76 L446.8,385.76 L446.8,385.17 L447.4,385.17 L447.4,382.88 L448,382.88 L448,381.14 L448.6,381.14 L448.6,375.55 L449.2,375.55 L449.2,371.29 L449.8,371.29 L449.8,373.49 L450.4,373.49 L450.4,372.71 L451,372.71 L451,373.8 L451.6,373.8 L451.6,376.02 L452.2,376.02 L452.2,380.98 L452.8,380.98 L452.8,384.01 L453.4,384.01 L453.4,386.4 L454,386.4 L454,388.09 L454.6,388.09 L454.6,389.38 L455.2,389.38 L455.2,390.15 L455.8,390.15 L455.8,390.44 L456.4,390.44 L456.4,390.56 L457,390.56 L457,390.59 L457.6,390.59 L457.6,390.6 L458.2,390.6 L458.2,390.6 L458.8,390.6 L458.8,390.6 L459.4,390.6 L459.4,390.6 L460,390.6 L460,390.6 L460.6,390.6 L460.6,390.6 L461.2,390.6 L461.2,390.6 L461.8,390.6 L461.8,390.6 L462.4,390.6 L462.4,390.6 L463,390.6 L463,390.6 L463.6,390.6 L463.6,390.6 L464.2,390.6 L464.2,390.6 L464.8,390.6 L464.8,390.6 L465.4,390.6 L465.4,390.6 L466,390.6 L466,390.6 Z" fill="#3ab54a"/>
<text x="47" y="282" font-size="7.2" text-anchor="end" fill="#d4506e" textLength="12.4" lengthAdjust="spacingAndGlyphs" stroke="#d4506e" stroke-width="0.15" >500</text>
<line x1="49.5" y1="279.7" x2="53" y2="279.7" stroke="#d4506e" stroke-width="0.8" />
<text x="47.7" y="307.2" font-size="7.2" text-anchor="end" fill="#d4506e" stroke="#d4506e" stroke-width="0.15" >0</text>
<line x1="49.5" y1="307" x2="53" y2="307" stroke="#d4506e" stroke-width="0.8" />
<text x="47" y="312.3" font-size="7.2" text-anchor="end" fill="#5b85b8" textLength="12.4" lengthAdjust="spacingAndGlyphs" stroke="#5b85b8" stroke-width="0.15" >500</text>
<line x1="49.5" y1="310" x2="53" y2="310" stroke="#5b85b8" stroke-width="0.8" />
<text x="47.7" y="335" font-size="7.2" text-anchor="end" fill="#5b85b8" stroke="#5b85b8" stroke-width="0.15" >0</text>
<line x1="49.5" y1="334.8" x2="53" y2="334.8" stroke="#5b85b8" stroke-width="0.8" />
<text x="47" y="340.2" font-size="7.2" text-anchor="end" fill="#f5a54a" textLength="12.4" lengthAdjust="spacingAndGlyphs" stroke="#f5a54a" stroke-width="0.15" >500</text>
<line x1="49.5" y1="337.9" x2="53" y2="337.9" stroke="#f5a54a" stroke-width="0.8" />
<text x="47.7" y="362.8" font-size="7.2" text-anchor="end" fill="#f5a54a" stroke="#f5a54a" stroke-width="0.15" >0</text>
<line x1="49.5" y1="362.6" x2="53" y2="362.6" stroke="#f5a54a" stroke-width="0.8" />
<text x="47" y="368.2" font-size="7.2" text-anchor="end" fill="#5cc06a" textLength="12.4" lengthAdjust="spacingAndGlyphs" stroke="#5cc06a" stroke-width="0.15" >500</text>
<line x1="49.5" y1="365.9" x2="53" y2="365.9" stroke="#5cc06a" stroke-width="0.8" />
<text x="47.7" y="390.5" font-size="7.2" text-anchor="end" fill="#5cc06a" stroke="#5cc06a" stroke-width="0.15" >0</text>
<line x1="49.5" y1="390.3" x2="53" y2="390.3" stroke="#5cc06a" stroke-width="0.8" />
<text x="55.4" y="301.1" font-size="8.8" text-anchor="start" fill="#111" textLength="64.6" lengthAdjust="spacingAndGlyphs" >FL CD41<tspan font-size="6" dy="-3.5">−</tspan><tspan dy="3.5"> HSC</tspan></text>
<text x="55.4" y="329.1" font-size="8.8" text-anchor="start" fill="#111" textLength="75.6" lengthAdjust="spacingAndGlyphs" >ABM CD41<tspan font-size="6" dy="-3.5">−</tspan><tspan dy="3.5"> HSC</tspan></text>
<text x="55.4" y="356.8" font-size="8.8" text-anchor="start" fill="#111" textLength="75.6" lengthAdjust="spacingAndGlyphs" >ABM CD41<tspan font-size="6" dy="-3.5">+</tspan><tspan dy="3.5"> HSC</tspan></text>
<text x="55.4" y="384.5" font-size="8.8" text-anchor="start" fill="#111" textLength="40.4" lengthAdjust="spacingAndGlyphs" >ABM MkP</text>
<text x="0" y="0" font-size="9.3" font-weight="bold" text-anchor="middle" fill="#231f20" textLength="52.5" lengthAdjust="spacingAndGlyphs" transform="translate(27.2,330) rotate(-90)">Aggregate scATAC</text>
<text x="55.5" y="403.4" font-size="8.8" text-anchor="start" fill="#5a3d80" font-style="italic" textLength="25.6" lengthAdjust="spacingAndGlyphs" >Itga2b</text>
<line x1="85" y1="400.4" x2="443" y2="400.4" stroke="#4b2a70" stroke-width="0.9" />
<path d="M96,399.2 L95,400.4 L96,401.6 M100.2,399.2 L99.2,400.4 L100.2,401.6 M104.4,399.2 L103.4,400.4 L104.4,401.6 M108.6,399.2 L107.6,400.4 L108.6,401.6 M112.8,399.2 L111.8,400.4 L112.8,401.6 M117,399.2 L116,400.4 L117,401.6 M121.2,399.2 L120.2,400.4 L121.2,401.6 M125.4,399.2 L124.4,400.4 L125.4,401.6 M129.6,399.2 L128.6,400.4 L129.6,401.6 M133.8,399.2 L132.8,400.4 L133.8,401.6 M138,399.2 L137,400.4 L138,401.6 M142.2,399.2 L141.2,400.4 L142.2,401.6 M146.4,399.2 L145.4,400.4 L146.4,401.6 M150.6,399.2 L149.6,400.4 L150.6,401.6 M154.8,399.2 L153.8,400.4 L154.8,401.6 M159,399.2 L158,400.4 L159,401.6 M163.2,399.2 L162.2,400.4 L163.2,401.6 M167.4,399.2 L166.4,400.4 L167.4,401.6 M171.6,399.2 L170.6,400.4 L171.6,401.6 M175.8,399.2 L174.8,400.4 L175.8,401.6 M180,399.2 L179,400.4 L180,401.6 M184.2,399.2 L183.2,400.4 L184.2,401.6 M188.4,399.2 L187.4,400.4 L188.4,401.6 M192.6,399.2 L191.6,400.4 L192.6,401.6 M196.8,399.2 L195.8,400.4 L196.8,401.6 M201,399.2 L200,400.4 L201,401.6 M205.2,399.2 L204.2,400.4 L205.2,401.6 M209.4,399.2 L208.4,400.4 L209.4,401.6 M213.6,399.2 L212.6,400.4 L213.6,401.6 M217.8,399.2 L216.8,400.4 L217.8,401.6 M222,399.2 L221,400.4 L222,401.6 M226.2,399.2 L225.2,400.4 L226.2,401.6 M230.4,399.2 L229.4,400.4 L230.4,401.6 M234.6,399.2 L233.6,400.4 L234.6,401.6 M238.8,399.2 L237.8,400.4 L238.8,401.6 M243,399.2 L242,400.4 L243,401.6 M247.2,399.2 L246.2,400.4 L247.2,401.6 M251.4,399.2 L250.4,400.4 L251.4,401.6 M255.6,399.2 L254.6,400.4 L255.6,401.6 M259.8,399.2 L258.8,400.4 L259.8,401.6 M264,399.2 L263,400.4 L264,401.6 M268.2,399.2 L267.2,400.4 L268.2,401.6 M272.4,399.2 L271.4,400.4 L272.4,401.6 M276.6,399.2 L275.6,400.4 L276.6,401.6 M280.8,399.2 L279.8,400.4 L280.8,401.6 M285,399.2 L284,400.4 L285,401.6 M289.2,399.2 L288.2,400.4 L289.2,401.6 M293.4,399.2 L292.4,400.4 L293.4,401.6 M297.6,399.2 L296.6,400.4 L297.6,401.6 M301.8,399.2 L300.8,400.4 L301.8,401.6 M306,399.2 L305,400.4 L306,401.6 M310.2,399.2 L309.2,400.4 L310.2,401.6 M314.4,399.2 L313.4,400.4 L314.4,401.6 M318.6,399.2 L317.6,400.4 L318.6,401.6 M322.8,399.2 L321.8,400.4 L322.8,401.6 M327,399.2 L326,400.4 L327,401.6 M331.2,399.2 L330.2,400.4 L331.2,401.6 M335.4,399.2 L334.4,400.4 L335.4,401.6 M339.6,399.2 L338.6,400.4 L339.6,401.6 M343.8,399.2 L342.8,400.4 L343.8,401.6 M348,399.2 L347,400.4 L348,401.6 M352.2,399.2 L351.2,400.4 L352.2,401.6 M356.4,399.2 L355.4,400.4 L356.4,401.6 M360.6,399.2 L359.6,400.4 L360.6,401.6 M364.8,399.2 L363.8,400.4 L364.8,401.6 M369,399.2 L368,400.4 L369,401.6 M373.2,399.2 L372.2,400.4 L373.2,401.6 M377.4,399.2 L376.4,400.4 L377.4,401.6 M381.6,399.2 L380.6,400.4 L381.6,401.6 M385.8,399.2 L384.8,400.4 L385.8,401.6 M390,399.2 L389,400.4 L390,401.6 M394.2,399.2 L393.2,400.4 L394.2,401.6 M398.4,399.2 L397.4,400.4 L398.4,401.6 M402.6,399.2 L401.6,400.4 L402.6,401.6 M406.8,399.2 L405.8,400.4 L406.8,401.6 M411,399.2 L410,400.4 L411,401.6 M415.2,399.2 L414.2,400.4 L415.2,401.6 M419.4,399.2 L418.4,400.4 L419.4,401.6 M423.6,399.2 L422.6,400.4 L423.6,401.6 M427.8,399.2 L426.8,400.4 L427.8,401.6 M432,399.2 L431,400.4 L432,401.6 " stroke="#4b2a70" stroke-width="0.5" fill="none" opacity="0.8"/>
<rect x="84.8" y="398.2" width="4.7" height="4.4" fill="#4b2a70"/>
<rect x="133.7" y="397.6" width="2" height="5.6" fill="#4b2a70"/>
<rect x="140.9" y="397.6" width="2" height="5.6" fill="#4b2a70"/>
<rect x="148.2" y="397.6" width="2" height="5.6" fill="#4b2a70"/>
<rect x="163.3" y="397.6" width="4.3" height="5.6" fill="#4b2a70"/>
<rect x="169.2" y="397.6" width="2" height="5.6" fill="#4b2a70"/>
<rect x="174.2" y="397.6" width="1.8" height="5.6" fill="#4b2a70"/>
<rect x="180.7" y="397.6" width="1.8" height="5.6" fill="#4b2a70"/>
<rect x="188.2" y="397.6" width="1.8" height="5.6" fill="#4b2a70"/>
<rect x="193.9" y="397.6" width="1.9" height="5.6" fill="#4b2a70"/>
<rect x="226.6" y="397.6" width="3" height="5.6" fill="#4b2a70"/>
<rect x="232.1" y="397.6" width="1" height="5.6" fill="#4b2a70"/>
<rect x="240.5" y="397.6" width="3" height="5.6" fill="#4b2a70"/>
<rect x="245.2" y="397.6" width="3" height="5.6" fill="#4b2a70"/>
<rect x="251.2" y="397.6" width="1" height="5.6" fill="#4b2a70"/>
<rect x="253.9" y="397.6" width="2.5" height="5.6" fill="#4b2a70"/>
<rect x="258.4" y="397.6" width="1" height="5.6" fill="#4b2a70"/>
<rect x="265.3" y="397.6" width="3.8" height="5.6" fill="#4b2a70"/>
<rect x="336.7" y="397.6" width="4.4" height="5.6" fill="#4b2a70"/>
<rect x="344" y="397.6" width="1" height="5.6" fill="#4b2a70"/>
<rect x="348.8" y="397.6" width="1" height="5.6" fill="#4b2a70"/>
<rect x="353" y="397.6" width="1.4" height="5.6" fill="#4b2a70"/>
<rect x="356.4" y="397.6" width="1.4" height="5.6" fill="#4b2a70"/>
<rect x="364.7" y="397.6" width="3.8" height="5.6" fill="#4b2a70"/>
<rect x="369.6" y="397.6" width="1" height="5.6" fill="#4b2a70"/>
<rect x="382.1" y="397.6" width="1" height="5.6" fill="#4b2a70"/>
<rect x="388.5" y="397.6" width="2.9" height="5.6" fill="#4b2a70"/>
<rect x="394.1" y="397.6" width="2.1" height="5.6" fill="#4b2a70"/>
<rect x="397.9" y="397.6" width="3" height="5.6" fill="#4b2a70"/>
<rect x="435.2" y="397.6" width="5" height="5.6" fill="#4b2a70"/>
<rect x="440.2" y="398.6" width="2.8" height="3.6" fill="#4b2a70"/>
<text x="102.7" y="466.8" font-size="8.9" text-anchor="middle" fill="#111" textLength="65" lengthAdjust="spacingAndGlyphs" ><tspan font-style="italic">Itga2b</tspan> promoter</text>
<text x="103.1" y="477.8" font-size="8.9" text-anchor="middle" fill="#111" textLength="47.2" lengthAdjust="spacingAndGlyphs" >accessibility</text>
<rect x="52.6" y="487.8" width="33.7" height="13.9" stroke="none" stroke-width="0" fill="#cf1b45" />
<text x="46.4" y="498.4" font-size="8.2" text-anchor="end" fill="#111" textLength="35.6" lengthAdjust="spacingAndGlyphs" stroke="#111" stroke-width="0.05" >FL CD41<tspan font-size="6" dy="-3.2">−</tspan></text>
<line x1="50" y1="495.1" x2="52.3" y2="495.1" stroke="#231f20" stroke-width="0.8" />
<rect x="52.6" y="512.2" width="53.6" height="13.9" stroke="none" stroke-width="0" fill="#1d4f8a" />
<text x="46.4" y="522.7" font-size="8.2" text-anchor="end" fill="#111" textLength="44.3" lengthAdjust="spacingAndGlyphs" stroke="#111" stroke-width="0.05" >ABM CD41<tspan font-size="6" dy="-3.2">−</tspan></text>
<line x1="50" y1="519.4" x2="52.3" y2="519.4" stroke="#231f20" stroke-width="0.8" />
<rect x="52.6" y="536.8" width="56.6" height="13.9" stroke="none" stroke-width="0" fill="#f7931e" />
<text x="46.4" y="547" font-size="8.2" text-anchor="end" fill="#111" textLength="44" lengthAdjust="spacingAndGlyphs" stroke="#111" stroke-width="0.05" >ABM CD41<tspan font-size="6" dy="-3.2">+</tspan></text>
<line x1="50" y1="543.7" x2="52.3" y2="543.7" stroke="#231f20" stroke-width="0.8" />
<rect x="52.6" y="559.8" width="91.4" height="13.9" stroke="none" stroke-width="0" fill="#3ab54a" />
<text x="46.4" y="570.1" font-size="8.2" text-anchor="end" fill="#111" textLength="15" lengthAdjust="spacingAndGlyphs" stroke="#111" stroke-width="0.05" >MkP</text>
<line x1="50" y1="566.8" x2="52.3" y2="566.8" stroke="#231f20" stroke-width="0.8" />
<line x1="52.3" y1="479.2" x2="52.3" y2="583" stroke="#231f20" stroke-width="1.2" />
<line x1="51.7" y1="582.4" x2="155.4" y2="582.4" stroke="#231f20" stroke-width="1.2" />
<line x1="52.3" y1="582.4" x2="52.3" y2="585" stroke="#231f20" stroke-width="0.9" />
<text x="52.3" y="595" font-size="8.2" text-anchor="middle" fill="#111" stroke="#111" stroke-width="0.05" >0</text>
<line x1="81.6" y1="582.4" x2="81.6" y2="585" stroke="#231f20" stroke-width="0.9" />
<text x="81.6" y="595" font-size="8.2" text-anchor="middle" fill="#111" stroke="#111" stroke-width="0.05" >20</text>
<line x1="111" y1="582.4" x2="111" y2="585" stroke="#231f20" stroke-width="0.9" />
<text x="111" y="595" font-size="8.2" text-anchor="middle" fill="#111" stroke="#111" stroke-width="0.05" >40</text>
<line x1="140.4" y1="582.4" x2="140.4" y2="585" stroke="#231f20" stroke-width="0.9" />
<text x="140.4" y="595" font-size="8.2" text-anchor="middle" fill="#111" stroke="#111" stroke-width="0.05" >60</text>
<text x="58.5" y="606.6" font-size="8.8" text-anchor="start" fill="#111" font-weight="bold" textLength="90.5" lengthAdjust="spacingAndGlyphs" >% of cell population with signal</text>
<line x1="214.1" y1="431" x2="214.1" y2="515" stroke="#231f20" stroke-width="1.2" />
<line x1="213.5" y1="514.8" x2="316.5" y2="514.8" stroke="#231f20" stroke-width="1.2" />
<line x1="211.3" y1="435.4" x2="214.1" y2="435.4" stroke="#231f20" stroke-width="1" />
<text x="208.5" y="438" font-size="7.3" text-anchor="end" fill="#111" stroke="#111" stroke-width="0.15" >10</text>
<line x1="211.3" y1="454.8" x2="214.1" y2="454.8" stroke="#231f20" stroke-width="1" />
<text x="208.5" y="457.4" font-size="7.3" text-anchor="end" fill="#111" stroke="#111" stroke-width="0.15" >5</text>
<line x1="211.3" y1="473.9" x2="214.1" y2="473.9" stroke="#231f20" stroke-width="1" />
<text x="208.5" y="476.5" font-size="7.3" text-anchor="end" fill="#111" stroke="#111" stroke-width="0.15" >0</text>
<line x1="211.3" y1="493" x2="214.1" y2="493" stroke="#231f20" stroke-width="1" />
<text x="208.5" y="495.6" font-size="7.3" text-anchor="end" fill="#111" stroke="#111" stroke-width="0.15" >−5</text>
<line x1="211.3" y1="512.2" x2="214.1" y2="512.2" stroke="#231f20" stroke-width="1" />
<text x="208.5" y="514.8" font-size="7.3" text-anchor="end" fill="#111" stroke="#111" stroke-width="0.15" >−10</text>
<line x1="228.1" y1="514.8" x2="228.1" y2="517.6" stroke="#231f20" stroke-width="1" />
<text x="226.5" y="527.8" font-size="7.3" text-anchor="middle" fill="#111" stroke="#111" stroke-width="0.15" >−10</text>
<line x1="249" y1="514.8" x2="249" y2="517.6" stroke="#231f20" stroke-width="1" />
<text x="247.4" y="527.8" font-size="7.3" text-anchor="middle" fill="#111" stroke="#111" stroke-width="0.15" >−5</text>
<line x1="269.3" y1="514.8" x2="269.3" y2="517.6" stroke="#231f20" stroke-width="1" />
<text x="269.3" y="527.8" font-size="7.3" text-anchor="middle" fill="#111" stroke="#111" stroke-width="0.15" >0</text>
<line x1="290.1" y1="514.8" x2="290.1" y2="517.6" stroke="#231f20" stroke-width="1" />
<text x="290.1" y="527.8" font-size="7.3" text-anchor="middle" fill="#111" stroke="#111" stroke-width="0.15" >5</text>
<line x1="310.8" y1="514.8" x2="310.8" y2="517.6" stroke="#231f20" stroke-width="1" />
<text x="310.8" y="527.8" font-size="7.3" text-anchor="middle" fill="#111" stroke="#111" stroke-width="0.15" >10</text>
<path d="M267.47,441.91h0.01M276.71,440.01h0.01M268.55,442.47h0.01M262.22,440.94h0.01M270.95,446.62h0.01M260.44,436.73h0.01M260.38,446.95h0.01M272.19,431.45h0.01M271.42,443.03h0.01M268.96,431.8h0.01M262.33,435.49h0.01M267.23,447.62h0.01M268.77,443.53h0.01M268.4,443.98h0.01M267.56,436.22h0.01M275.07,444.9h0.01M264.78,435.24h0.01M264.27,432.02h0.01M273.62,438.69h0.01M275.19,438.41h0.01M276.44,440.09h0.01M277.82,438.63h0.01M260.03,443.31h0.01M273.86,436.05h0.01M260.31,437.32h0.01M260.91,435.58h0.01M274.22,434.19h0.01M269.56,439.64h0.01M262.34,445.38h0.01M261.17,443.6h0.01M260.88,439.1h0.01M262.77,436.05h0.01M264.56,448.47h0.01M262.73,438.56h0.01M275.35,443.57h0.01M262.78,435.82h0.01M273.74,437.24h0.01M264.41,432.08h0.01M260.37,442.37h0.01M263.36,442.75h0.01M265.89,439.75h0.01M277.4,440.37h0.01M269.86,448.1h0.01M262.18,433.71h0.01M276.41,447.12h0.01M263.49,434.43h0.01M273.09,449.6h0.01M262.45,449.79h0.01M275.89,442.79h0.01M266.86,432.7h0.01M263.27,444.83h0.01M263.64,447.24h0.01M270.29,436.53h0.01M262.04,445.15h0.01M269.56,447.82h0.01M270.64,436.26h0.01M276.58,434.72h0.01M267.34,431.82h0.01M262.05,438.05h0.01M269.81,433.26h0.01M265.7,448.6h0.01M272.15,442.41h0.01M272.34,450.05h0.01M259.02,443.45h0.01M268.05,445.36h0.01M260.08,441.63h0.01M273.05,448.78h0.01M273.05,444.81h0.01M274.15,449.08h0.01M265.5,444.44h0.01M266.78,446.57h0.01M275.52,442.17h0.01M270.85,438.32h0.01M270.02,442.9h0.01M260.17,443.52h0.01M272.87,438.45h0.01M273.01,442.34h0.01M267.23,447.54h0.01M260.24,445.75h0.01M259.18,442.75h0.01M268.03,435.25h0.01M272.29,440.64h0.01M270.64,449.19h0.01M264.5,444.3h0.01M262.57,434.03h0.01M276.35,443.93h0.01M267.26,448.61h0.01M265.01,444.05h0.01M262.49,439.3h0.01M274.4,449.07h0.01M275.85,438.37h0.01M270.03,436.99h0.01M261.27,440.63h0.01M275.01,447.74h0.01M272.54,449.79h0.01M264.03,434.02h0.01M267.43,436.16h0.01M262.8,438.96h0.01M270.86,440.58h0.01M264.78,447.55h0.01M277.85,439.74h0.01M272.49,442.13h0.01M264.66,446.59h0.01M267.51,431.1h0.01M274.86,435.4h0.01M270.93,439.62h0.01M270.95,443.83h0.01M272.02,434.63h0.01M267.91,434.21h0.01M272.6,434.22h0.01M263.94,437.58h0.01M272.27,441.11h0.01M270.64,445.88h0.01M266.31,446.6h0.01M276.88,445.19h0.01M261.15,439.76h0.01M270.86,448.98h0.01M265.99,442.09h0.01M275.83,446.69h0.01M277.11,439.97h0.01M271.37,434.74h0.01M272.75,447.13h0.01M271.18,445.1h0.01M262.78,448.78h0.01M269.12,446.57h0.01M264.88,448.98h0.01M275.37,437.64h0.01M260.22,439.51h0.01M269.39,446.12h0.01M268.15,431.17h0.01M274.28,434.09h0.01M265.17,446.52h0.01M268.72,445.22h0.01M275.06,444.53h0.01M277.14,440.55h0.01M262.94,441.24h0.01M264.29,445.32h0.01M271.12,441.16h0.01M275.14,441.91h0.01M264.71,438.3h0.01M275.17,448.79h0.01M262.68,447.79h0.01M277.58,441.19h0.01M269.83,434.66h0.01M269.1,440.76h0.01M270.46,431.16h0.01M277.6,441.02h0.01M266.45,446.78h0.01M269.63,440.52h0.01M272.14,431.93h0.01M269.16,438.96h0.01M263.88,440.16h0.01M261.09,439.36h0.01M274.59,448.79h0.01M267.94,437.01h0.01M262.35,443.08h0.01M262.4,435.19h0.01M272.07,437.11h0.01M265.56,443.12h0.01M260.66,445.36h0.01M261.01,440.91h0.01M263.51,434.59h0.01M268.99,439.42h0.01M265.96,438.95h0.01M268.98,433.83h0.01M262.6,443.35h0.01M271.11,441.3h0.01M275.28,442.96h0.01M275.39,435.3h0.01M273.12,446.97h0.01M276.29,436.98h0.01M264.77,449.24h0.01M263.29,445.28h0.01M263.69,432.56h0.01M274.91,439.12h0.01M274.08,433.15h0.01M266.49,444.44h0.01M271.97,449.01h0.01M268.51,445.91h0.01M268.45,444.45h0.01M269.41,441h0.01M269.75,433.56h0.01M262.22,434.72h0.01M267.66,446.05h0.01M265.01,440.03h0.01M268.7,439.29h0.01M272.34,447.65h0.01M262.15,439.77h0.01M273.09,438.79h0.01M262.42,433.93h0.01M268.65,430.91h0.01M276.11,446.79h0.01M272.41,447.99h0.01M270.94,438.77h0.01M270.35,440.79h0.01M263.66,449.01h0.01M273.19,446.32h0.01M274.57,438.79h0.01M272.22,446.1h0.01M273.6,438.8h0.01M272.76,432.03h0.01M265.3,440.07h0.01M271.12,443.21h0.01M263.15,449.68h0.01M271.66,437.42h0.01M271.53,442.11h0.01M269.05,438.47h0.01M272.34,445.99h0.01M270.66,445.52h0.01M263.63,438.71h0.01M265.96,432.59h0.01M263.52,448.89h0.01M269.38,440.86h0.01M277.56,442.07h0.01M270.31,445.94h0.01M261.73,440.13h0.01M261.91,440.61h0.01M270.58,431.78h0.01M277.13,439.1h0.01M268.92,442.68h0.01M265.77,436.37h0.01M271.44,441.93h0.01M264.16,445.08h0.01M261.67,445.84h0.01M266.24,448.73h0.01M273.27,431.61h0.01M267.02,440.25h0.01M268.86,449.53h0.01M272.77,440.06h0.01M270.43,432.92h0.01M270.84,439.8h0.01M268.95,433.11h0.01M267.28,444.09h0.01M267.53,435.9h0.01M270.01,439.07h0.01M273.85,441.32h0.01M272.99,435.42h0.01M260.83,448.63h0.01M273.97,443.22h0.01M265.64,436.08h0.01M272.03,442.01h0.01M270.2,443.39h0.01M273.37,434.43h0.01M263.91,439.19h0.01M270.82,432.67h0.01M269.22,432.06h0.01M260.29,444.26h0.01M269.39,443.35h0.01M265.91,440.27h0.01M262.73,437.54h0.01M273.2,447.54h0.01M274.46,443.2h0.01M273.67,434.91h0.01M266.92,435.81h0.01M274.47,438.05h0.01M271.41,450.58h0.01M264.98,441.68h0.01M273.22,449.2h0.01M266.98,438.06h0.01M260.5,448.28h0.01M269.66,440.39h0.01M272.03,436.64h0.01M273.8,432.14h0.01M262.78,443.97h0.01M260.2,436.74h0.01M272.81,444.62h0.01M264.15,433.49h0.01M265.61,445.26h0.01M265.78,432.97h0.01M272.5,442.1h0.01M276.5,439.45h0.01M274.34,436.76h0.01M264.83,438.67h0.01M263.47,437.91h0.01M265.77,437.94h0.01M266.35,438.43h0.01M262.42,441.99h0.01M274.22,441.52h0.01M274.99,441.97h0.01M262.06,445.93h0.01M275.87,436.29h0.01M269.27,442.06h0.01M277.54,443.75h0.01M269.32,446.52h0.01M273.05,448.76h0.01M260.26,443.41h0.01M261.42,445.66h0.01M271.32,435.56h0.01M262.92,446.06h0.01M268.82,446.05h0.01M266.33,437.42h0.01M277.58,444.18h0.01M268.28,441.45h0.01M272.73,444.9h0.01M276.53,438.89h0.01M274.79,444.07h0.01M275.33,446.88h0.01M274.94,448.55h0.01M277.37,443.53h0.01M268.87,444.94h0.01M274.32,439.12h0.01M266.84,433.55h0.01M265.96,433.99h0.01M262.61,439.18h0.01M264.32,450.19h0.01M260.85,443.69h0.01M273.81,434.22h0.01M259.82,439.87h0.01M270.05,448.97h0.01M262.22,434.99h0.01M263.21,445.09h0.01M270.26,435.12h0.01M262.23,436.28h0.01M261.98,445.9h0.01M264.71,441.67h0.01M274.62,440.29h0.01M263.71,448.53h0.01M276.52,437.51h0.01M269.33,449.93h0.01M268.06,435.06h0.01M274.31,438.38h0.01M268.94,441.02h0.01M271.49,435.4h0.01M265.88,446.69h0.01M272.58,442.84h0.01M261.68,433.77h0.01M264.91,435.84h0.01M275.64,441.03h0.01M263.82,441.4h0.01M261.55,446.16h0.01M275.19,447.21h0.01M272.64,432.56h0.01M268.01,440.07h0.01M277.33,442.45h0.01M275.4,436.73h0.01M274.07,439.02h0.01M274.8,434.81h0.01M269.25,441.22h0.01M261.69,447.41h0.01M264.7,436.88h0.01M267.76,445.05h0.01M265.65,444.48h0.01M260.67,438.56h0.01M267.65,450.13h0.01M274.86,443.81h0.01M272.52,435.4h0.01M269.66,439.85h0.01M274.27,434.78h0.01M270.67,436.47h0.01M265.97,441.5h0.01M264.44,437.42h0.01M266.29,444.07h0.01M263.63,434.64h0.01M272.94,437.25h0.01M277.12,441.97h0.01M272.79,437.3h0.01M271.88,444.91h0.01M262.13,438.73h0.01M275,442.57h0.01M266.57,432.07h0.01M276.64,439.23h0.01M268.63,443.67h0.01M273.63,447.19h0.01M266.16,437.29h0.01M266.45,444.74h0.01M271.54,442.89h0.01M265.31,443.74h0.01M260.68,438.23h0.01M268.58,446.53h0.01M274.77,442.95h0.01M261.7,446.08h0.01M276.3,441.67h0.01M265.51,440.71h0.01M261.38,445.01h0.01M277.94,441.02h0.01M272.62,447.48h0.01M262.47,449.69h0.01M270.89,434.6h0.01M269.9,444.68h0.01M265.05,449.37h0.01M265.68,439.95h0.01M261.26,448.86h0.01M269.25,441.93h0.01M269.58,435.94h0.01M274.62,442.75h0.01M261,447.26h0.01M264.26,448.72h0.01M263.32,442.19h0.01M274.88,434.35h0.01M269.34,432.14h0.01M271.5,436.81h0.01M271.76,445.5h0.01M266.08,442.56h0.01M262.51,440.05h0.01M261.4,438.4h0.01M269.76,434.11h0.01M268.79,435.93h0.01M269.73,437.31h0.01M271.18,431.36h0.01M271.75,433.52h0.01M277.4,442.72h0.01M267.81,438.91h0.01M270.83,444.52h0.01M273.46,445.78h0.01M275.03,447.87h0.01M266.62,439.37h0.01M269.69,448.89h0.01M268.91,441.21h0.01M267.07,448.87h0.01M264.89,431.7h0.01M272.82,448.78h0.01M272.95,442.67h0.01M273.34,436.76h0.01M270.23,432.01h0.01M261.04,439.63h0.01M268.45,438.61h0.01M259.62,444.64h0.01M268.91,435.43h0.01M264.6,438.59h0.01M271.65,448.1h0.01M266.86,446.87h0.01M262.95,445.68h0.01M269.71,448.85h0.01M260.53,446.61h0.01M261.03,441.46h0.01M263.38,436.65h0.01M264.97,431.87h0.01M276.14,447.07h0.01M266.39,437.8h0.01M270.08,431.53h0.01M264.63,440.67h0.01M267.86,434.77h0.01M264.39,449.24h0.01M276.18,434.55h0.01M275.02,437.75h0.01M267.86,434.07h0.01M262.56,443.37h0.01M262.35,448.38h0.01M272.83,436.92h0.01M272.58,433.32h0.01M272.24,449.54h0.01M267.33,432.2h0.01M262.98,436.8h0.01M272.53,434.57h0.01M262.15,435.36h0.01M271.63,446.57h0.01M265.9,443.97h0.01M275.94,442.52h0.01M263.09,436.68h0.01M276.76,444.07h0.01M264.03,443.53h0.01M267.23,441.27h0.01M269,431.52h0.01M270.35,436.35h0.01M263.52,446.83h0.01M260.31,436.36h0.01M273.41,435.57h0.01M264.07,441.67h0.01M262.25,448.72h0.01M267.65,445.76h0.01M266.14,449.37h0.01M268.4,434.23h0.01M269.5,443.63h0.01M265.65,443.9h0.01M273.95,441.04h0.01M268.51,447.68h0.01M272.01,441.11h0.01M273.88,433.94h0.01M270.52,435.35h0.01M267.23,446.22h0.01M274.02,446.58h0.01M263.22,440.48h0.01M262.94,442.32h0.01M268.38,431.31h0.01M270.3,445.04h0.01M269.82,448.23h0.01M262.13,433.67h0.01M267.12,439.52h0.01M263.75,446.73h0.01M269.75,441.57h0.01M274.12,435.41h0.01M261.47,436.88h0.01M270.78,441.21h0.01M263.79,442.49h0.01M260.33,447.18h0.01M261.96,435.75h0.01M261.73,444.55h0.01M274.89,446.49h0.01M259.8,438.89h0.01M265.74,434.97h0.01M268.19,445.98h0.01M267.52,445.65h0.01M276.05,433.46h0.01M266.3,436.62h0.01M266.92,432.15h0.01M273.56,445.43h0.01M263.11,435.71h0.01M269.42,435.48h0.01M267.65,449.44h0.01M265.73,437.41h0.01M277.83,442.94h0.01M271.34,431.78h0.01M265.33,444.63h0.01M275.54,442.53h0.01M275.97,439.94h0.01M266.3,447.63h0.01M266.07,446.38h0.01M262.82,437.62h0.01M262.2,441.7h0.01M261.81,434.71h0.01" stroke="#e8202a" stroke-width="1.25" stroke-linecap="round" fill="none" opacity="1"/>
<path d="M262.8,440.05h0.01M264.65,439.63h0.01M275.51,434.73h0.01M266.11,432.07h0.01M272.15,437.93h0.01M262.17,435.9h0.01M266.3,449.26h0.01M272.62,436.03h0.01M265.68,433.7h0.01M276.96,437.87h0.01M273.61,445.21h0.01M264.91,438.37h0.01M264.97,446.17h0.01M268.78,431.71h0.01M266.32,435.41h0.01M270.27,431.24h0.01M264.72,439.17h0.01M269.26,433.35h0.01M272.45,435.86h0.01M272.82,444.06h0.01M261.48,434.74h0.01M264.09,445h0.01M266.54,438.41h0.01M275.57,435.17h0.01M264.32,437.57h0.01M259.08,443.33h0.01M269.69,446.94h0.01M271.74,449.17h0.01M262.84,444.52h0.01M271.67,449.89h0.01M275.62,435.34h0.01M271,432.42h0.01M266.98,438.53h0.01M265.03,440.64h0.01M264.08,433.8h0.01M266.49,440.2h0.01M261.87,444.04h0.01M263.3,432.48h0.01" stroke="#fff" stroke-width="0.7" stroke-linecap="round" fill="none" opacity="0.85"/>
<path d="M247.41,482.41h0.01M242.71,485.9h0.01M256.25,485.26h0.01M248.63,481.14h0.01M240.34,484h0.01M253.41,483.42h0.01M260.94,485.53h0.01M245.44,487.76h0.01M243.58,483.43h0.01M247.92,485.76h0.01M254.43,486.73h0.01M249.11,482.26h0.01M245.79,491.29h0.01M260.64,481.52h0.01M242.34,484.25h0.01M246.59,481.06h0.01M255.73,478.31h0.01M251.14,487.37h0.01M252.48,486.81h0.01M252.79,491.32h0.01M247.53,492.52h0.01M246.71,488.81h0.01M256.11,488.17h0.01M242.92,486.75h0.01M251.07,485.49h0.01M257.42,484.84h0.01M241.51,488.56h0.01M241.77,483.04h0.01M257.99,483.68h0.01M243,492.09h0.01M245.25,484.26h0.01M258.59,481.75h0.01M256.61,478.69h0.01M256.61,480.33h0.01M247.21,489.75h0.01M252.96,482.37h0.01M256.39,486.78h0.01M255.47,478.24h0.01M255.91,482.34h0.01M254.53,481.85h0.01M240.2,488.75h0.01M246.04,489.14h0.01M252.35,483.73h0.01M245.98,481.74h0.01M254.2,489.89h0.01M256.07,485.1h0.01M258.68,476.4h0.01M254.38,479.17h0.01M244.6,483.71h0.01M243.97,492.11h0.01M250.91,482.24h0.01M258.85,481.83h0.01M240.42,485.2h0.01M255.16,486.78h0.01M245.82,493.67h0.01M249.9,491.38h0.01M256.83,477.03h0.01M247.83,489.63h0.01M246.63,484.41h0.01M251.97,490.86h0.01M248.82,490.71h0.01M256.35,478.66h0.01M253.19,478.15h0.01M248.55,481.25h0.01M255.16,490.87h0.01M247.97,487.11h0.01M257.24,477.81h0.01M257.28,485.11h0.01M255.73,477.07h0.01M247.62,482.59h0.01M248.92,480.21h0.01M244.04,492.39h0.01M246.89,489.64h0.01M244.4,482.1h0.01M256.37,477.08h0.01M245.72,487.96h0.01M254.61,481.44h0.01M254.84,477.83h0.01M260.07,486.9h0.01M251.42,485.58h0.01M241.81,491.46h0.01M255.97,483.08h0.01M255.37,482.34h0.01M253.78,485.69h0.01M254.43,482.94h0.01M253.6,486.16h0.01M257.15,480.02h0.01M248.89,492.11h0.01M259.67,487.35h0.01M258.62,484.35h0.01M245.17,490.8h0.01M250.17,484.89h0.01M245.88,487.23h0.01M240.81,485.3h0.01M258.36,483.9h0.01M244.95,490.64h0.01M258.6,476.51h0.01M248.56,491.71h0.01M244.09,486.92h0.01M243.85,487.77h0.01M254.49,479.27h0.01M253.84,488.35h0.01M256.07,483.37h0.01M262.15,486.5h0.01M257.11,481.06h0.01M246.63,482.1h0.01M242.6,486.96h0.01M249.45,491.08h0.01M249.06,483.16h0.01M247.52,488.54h0.01M244.78,485.83h0.01M246.01,492.22h0.01M246.05,491.83h0.01M255.65,483.12h0.01M257.28,486.31h0.01M246.21,488.35h0.01M255.53,478.53h0.01M249.35,480.65h0.01M253.53,485.1h0.01M241.45,492.74h0.01M248.21,488.96h0.01M255.46,480.7h0.01M239.57,487h0.01M250.54,481.09h0.01M250.44,480.09h0.01M255.5,486.4h0.01M259.39,487.37h0.01M240.64,483.28h0.01M248.87,487.5h0.01M257.25,475.02h0.01M243.1,487.35h0.01M254.33,489.38h0.01M245.23,490.88h0.01M241.94,483.42h0.01M252.18,484.83h0.01M241.74,490.41h0.01M246.42,484.26h0.01M242.06,485.58h0.01M251.6,479.61h0.01M258.13,478.58h0.01M244.35,483.05h0.01M252.73,483.21h0.01M249,486.55h0.01M242.78,491.04h0.01M257.07,488.73h0.01M242.85,484.78h0.01M246.4,494.26h0.01M241.75,493.23h0.01M247.09,483.86h0.01M262.28,485.58h0.01M251.32,492.9h0.01M257.19,478.83h0.01M248.05,482.56h0.01M250.73,481.01h0.01M249.59,483.03h0.01M240.22,491.42h0.01M240.52,484.71h0.01M252.47,481.91h0.01M257.44,483.83h0.01M247.99,486.24h0.01M253.99,486.05h0.01M246.75,484.05h0.01M251.7,489.63h0.01M258.57,482.48h0.01M260.16,481.97h0.01M246.03,488.02h0.01M259.46,480.35h0.01M246.81,491.06h0.01M258.39,487.2h0.01M240.4,489.85h0.01M240.18,486.82h0.01M257.13,482.32h0.01M258.22,482.8h0.01M257.49,481.44h0.01M250.01,482.72h0.01M257.07,474.76h0.01M241.85,491.38h0.01M255.39,485.15h0.01M246.63,493.99h0.01M244.19,482.24h0.01M252.19,491.5h0.01M242.03,492.25h0.01M249.63,481.43h0.01M251.14,488.23h0.01M248.54,490.17h0.01M241.59,489.38h0.01M243.1,485.97h0.01M253.55,484.54h0.01M248.56,485.72h0.01M259.72,481.01h0.01M253.36,483.67h0.01M256.16,478.29h0.01M245.43,489.12h0.01M253.14,478.8h0.01M240.58,491.18h0.01M248.29,488.82h0.01M249.65,486.66h0.01M261.38,483.14h0.01M257.53,475.43h0.01M246.54,491.67h0.01M239.86,488.43h0.01M252.97,485.22h0.01M258.82,475.33h0.01M258.29,477.96h0.01M243.9,484.86h0.01M257.82,485.9h0.01M255.96,481.14h0.01M246.16,491.9h0.01M256.88,478.97h0.01M252.22,478.73h0.01M242.24,483.77h0.01M245.83,484.3h0.01M253.99,485.05h0.01M257.05,484.85h0.01M258.07,478.86h0.01M247.92,490.36h0.01M244.74,483.07h0.01M248.11,489.1h0.01M252.92,480.8h0.01M244.71,493.91h0.01M239.73,485.65h0.01M251.96,480.92h0.01M256.34,482.3h0.01M250.98,485.36h0.01M247.26,488.51h0.01M253.53,488.15h0.01M254.07,486.57h0.01M259.41,488.21h0.01M251.79,485.85h0.01M259.5,482.09h0.01M247.25,480.76h0.01M239.37,489.99h0.01M245.45,485.97h0.01M251.94,480.51h0.01M255.6,483.12h0.01M244.77,492.42h0.01M245.23,483.64h0.01M258.28,480.46h0.01M244.86,487.46h0.01M245.4,484.6h0.01M245.27,492.32h0.01M256.87,487.9h0.01M258.44,484.97h0.01M240.93,489.84h0.01M248.12,480.97h0.01M247.32,490.43h0.01M253.6,489.36h0.01M250.71,491.04h0.01M244.06,492.34h0.01M247.41,493.49h0.01M242.49,488.78h0.01M242.34,487.99h0.01M245.72,493.67h0.01M242.02,484.69h0.01M252.29,485.58h0.01M257.75,484.68h0.01M246.61,489.78h0.01M261.74,484.18h0.01M252.98,479.62h0.01M250.31,486.35h0.01M259.81,483.34h0.01M243.69,493.78h0.01M257.76,481.93h0.01M243.26,489.25h0.01M244.41,490.62h0.01M251.28,487.43h0.01M254.22,481.25h0.01M250.63,486.8h0.01M246.8,480.97h0.01M260.74,485.87h0.01M249.26,484.97h0.01M250.32,480.45h0.01M256.8,478.33h0.01M241.38,488.18h0.01M247.54,485.39h0.01M251.65,481.46h0.01M245.62,485.72h0.01M254.54,483.28h0.01M241.21,484.05h0.01M250.85,487.18h0.01M258.68,478.31h0.01M245.26,492.88h0.01M251.4,482.49h0.01M251.05,483.71h0.01M246.15,491.54h0.01M251.37,480.67h0.01M255.85,490.58h0.01M258.71,477.04h0.01M259.04,479.81h0.01M245,493.25h0.01M247.44,490.46h0.01M261.94,487.25h0.01M240.59,487.75h0.01M243.57,488.33h0.01M256.88,474.48h0.01M254.72,483.92h0.01M248.46,480.9h0.01M258.57,478.19h0.01M255.08,490.1h0.01M256.08,484.45h0.01M243.61,487.32h0.01M247.13,493.41h0.01M262.42,486.7h0.01M251.85,483.84h0.01M252.17,483.51h0.01M257.32,478.65h0.01M243.9,485.86h0.01M247.74,484.69h0.01M262.34,487.14h0.01M249.19,482.07h0.01M244.79,483.53h0.01M249.65,488.15h0.01M257.76,485.3h0.01M257.85,474.44h0.01M242.7,485.22h0.01M245.71,488.89h0.01M256.88,480.16h0.01M257.87,487.32h0.01M256.37,483.15h0.01M256.08,482.74h0.01M253.1,489.42h0.01M248.91,487.36h0.01M255.76,486.62h0.01M240.14,488.69h0.01M250.97,486.01h0.01M246.76,494.64h0.01M244.44,492.07h0.01M251.52,482.15h0.01M248.81,492.54h0.01M245.33,490.45h0.01M256.42,482.97h0.01M248,482.72h0.01M250.14,480.08h0.01M254.35,482.16h0.01M246.47,490.05h0.01M250.2,483.52h0.01M260.64,483.11h0.01M248.25,492.78h0.01M248.88,487.83h0.01M257.23,479.66h0.01M255.13,487.78h0.01M249.7,487.44h0.01M244.56,489.99h0.01M247.41,488.71h0.01M257.85,478.86h0.01M254.09,478.02h0.01M243.84,493.1h0.01M240.47,485.91h0.01M248.62,486.07h0.01M256.52,489.81h0.01M257.37,485.82h0.01M245.19,488.57h0.01M252.81,485.07h0.01M258.2,480.28h0.01M245.75,485.56h0.01M252,484h0.01M243.11,486.84h0.01M260.98,487.66h0.01M246.11,490.77h0.01M253.9,483.24h0.01M247.67,489.74h0.01M256.02,488.25h0.01M259.38,481.49h0.01M248.21,487.53h0.01M245.5,483.86h0.01M244.2,488.54h0.01M256.2,480.55h0.01M250.66,480.04h0.01M249.87,490.91h0.01M253.02,486.48h0.01M244.48,486.71h0.01M247.39,482.79h0.01M249.61,491.24h0.01M256.38,477.91h0.01M244.63,488.86h0.01M240.16,488.37h0.01M240.54,491.54h0.01M252.36,485.91h0.01M239.51,488.39h0.01M255.41,488.36h0.01M246.93,483.39h0.01M246.11,485.44h0.01M247.75,481.05h0.01M246.64,486.11h0.01M259.81,483.43h0.01M251.59,480h0.01M254.32,487.58h0.01M256.03,484.11h0.01M249.16,481.7h0.01M251.4,483.42h0.01M252.01,484.82h0.01M258.59,486.72h0.01M255.82,488.28h0.01M257.32,483.11h0.01M248.78,485.25h0.01M251.66,479.95h0.01M260.2,484.47h0.01M254.73,475.61h0.01M249.71,489.82h0.01M253.56,485.9h0.01M243.26,483.31h0.01M244.33,482.94h0.01M252.37,480.54h0.01M253.21,486.97h0.01M255.15,477.87h0.01M240.79,489.81h0.01M247.21,494.08h0.01M254.67,478.92h0.01M257.66,474.45h0.01M239.84,490.59h0.01M259.37,477.22h0.01M254.62,486.61h0.01M252.85,481.55h0.01M259.26,478.7h0.01M256.59,477.24h0.01M254.45,481.55h0.01M256.65,483.96h0.01M240.45,483.93h0.01M248.45,484.77h0.01M243.44,484.11h0.01M251.29,489.89h0.01M252.9,478.41h0.01M243.67,489h0.01M240.92,492.05h0.01M250.51,491.6h0.01M254.24,489.46h0.01M257.72,488.95h0.01M240.27,491.19h0.01M260.57,481.51h0.01M259.82,486.31h0.01M243.93,487.16h0.01M252.17,481.39h0.01M242.68,485.59h0.01M251.5,481.66h0.01M254.13,477.42h0.01M260.84,486.01h0.01M248.65,485.01h0.01M248.43,488.64h0.01M248.15,488.61h0.01M247.91,486.4h0.01M258.21,474.55h0.01M254.47,479.3h0.01M246.94,486.43h0.01M243.71,482.96h0.01M256.07,477.34h0.01M252.7,480.6h0.01M245.77,494.81h0.01M256.61,478.27h0.01M250.85,488.95h0.01M249.36,480.13h0.01M257.24,483.29h0.01M255.86,476.51h0.01M243.99,486.64h0.01M256.98,485.68h0.01M259.28,488.11h0.01M252.48,491.86h0.01M253.84,491.17h0.01M255.51,489.08h0.01M260.75,485.28h0.01M253.32,492.02h0.01M246.06,490.08h0.01M254.57,483.41h0.01M245.48,486.31h0.01M251.53,484.33h0.01M253.93,488.07h0.01M246.14,483.13h0.01M251.44,490.73h0.01M248.71,493.27h0.01M250.91,481.88h0.01" stroke="#22a24a" stroke-width="1.25" stroke-linecap="round" fill="none" opacity="1"/>
<path d="M250.8,480.99h0.01M255.68,476.48h0.01M242.67,482.43h0.01M253.81,489.85h0.01M249.93,479.63h0.01M248.05,492.57h0.01M260.79,483.73h0.01M240.58,487.92h0.01M244.26,482.92h0.01M242.54,490.21h0.01M255.04,483.45h0.01M253.84,483.45h0.01M246.41,493.19h0.01M244.13,487.22h0.01M262.34,486.67h0.01M246.88,488.98h0.01M242.44,485.11h0.01M245.12,485.23h0.01M247.28,482.36h0.01M256.13,489.06h0.01M259.33,484.02h0.01M254.85,481.15h0.01M262.98,486.4h0.01M242.16,488.52h0.01M253.71,486.57h0.01M257.94,486.46h0.01M249.01,487.33h0.01M248.21,482.15h0.01M248.01,487.31h0.01M247.67,480.87h0.01M248.5,487.21h0.01M241.48,490.61h0.01M242.5,487.11h0.01M245.26,489.75h0.01M244.56,492.33h0.01" stroke="#fff" stroke-width="0.7" stroke-linecap="round" fill="none" opacity="0.85"/>
<path d="M221.4,483.2 L227.6,480.4 M229.4,468.6 L229.4,477.2 M228.2,470 L228.2,476" stroke="#22a24a" stroke-width="1.3" fill="none"/>
<path d="M285.36,484.96h0.01M287.18,480.98h0.01M276.78,484.55h0.01M277.28,483.89h0.01M278.69,486.67h0.01M286.83,478.49h0.01M289.86,483.74h0.01M287.55,484.79h0.01M278.16,480.75h0.01M289.62,479.45h0.01M288.14,480.55h0.01M279.89,479.33h0.01M280.43,492.15h0.01M282.53,488.53h0.01M288.28,482.85h0.01M290.8,478.26h0.01M277.55,483.19h0.01M278.42,483.99h0.01M285.76,481.65h0.01M282.26,490.07h0.01M281.2,481.73h0.01M285.42,484.92h0.01M284.09,484.32h0.01M277.69,481.13h0.01M282.64,490.22h0.01M286.56,486.83h0.01M288.88,483.01h0.01M283.93,481.38h0.01M288.61,475.7h0.01M287.67,486.02h0.01M293.52,484.72h0.01M289.95,487.11h0.01M280.58,486.79h0.01M277.25,485.08h0.01M279.55,484.39h0.01M283.34,489.01h0.01M286.82,484.94h0.01M282.2,480.29h0.01M281.72,490.21h0.01M282.42,480.24h0.01M281.77,479.92h0.01M290.79,476.82h0.01M292.64,476.68h0.01M281.61,484.5h0.01M286.5,480.3h0.01M282.16,479.82h0.01M285.02,476.76h0.01M293.27,476.4h0.01M293.36,487.67h0.01M288.07,475.6h0.01M286.43,480.9h0.01M293.94,477.28h0.01M279.56,487.5h0.01M287.14,491.66h0.01M289.71,480.73h0.01M289.99,476.63h0.01M280.41,486.87h0.01M289.36,480.78h0.01M278.18,488.95h0.01M284.08,487.69h0.01M282.83,492.11h0.01M278.68,487.17h0.01M293.62,477.68h0.01M284.76,491.04h0.01M291.1,483.74h0.01M285.28,491.03h0.01M291.36,476.57h0.01M282.33,479.81h0.01M288.94,483.87h0.01M289.92,477.4h0.01M290.14,476.35h0.01M285.38,476.98h0.01M285.45,479.46h0.01M293.11,477.27h0.01M289.97,476.44h0.01M282.6,483.32h0.01M281.46,485.13h0.01M283.55,486.59h0.01M286.98,476.32h0.01M280.06,485.32h0.01M283.3,487.88h0.01M278.02,489.1h0.01M280.1,486.91h0.01M278.06,484.72h0.01M286.76,478.26h0.01M287.19,478.1h0.01M280.46,480.94h0.01M282.66,487.84h0.01M283.51,487.68h0.01M283.75,490.8h0.01M291.19,480.55h0.01M291.91,480.23h0.01M280.01,490.7h0.01M284.63,483.04h0.01M290.87,480.34h0.01M294.7,479.89h0.01M279.54,484.27h0.01M283.85,487.02h0.01M280.93,491.4h0.01M278.57,479.95h0.01M289.7,478.81h0.01M291.96,481.33h0.01M285.86,484.12h0.01M292.51,486.49h0.01M285.5,478.68h0.01M294.49,478.77h0.01M279.3,486.3h0.01M291.61,480.83h0.01M277.58,488.52h0.01M288.78,481.17h0.01M287.51,483.91h0.01M291.68,480.82h0.01M290.28,482.13h0.01M282.9,492.85h0.01M291.07,485.97h0.01M284.4,485.32h0.01M288.58,477.54h0.01M291.32,477.17h0.01M282.17,489.35h0.01M289.35,478.92h0.01M278.56,488.47h0.01M278.54,486.37h0.01M281.38,480.67h0.01M280.14,489.16h0.01M279.66,485.65h0.01M281.09,486.75h0.01M286.54,477.84h0.01M289.74,482.57h0.01M289.4,478.3h0.01M295,480.47h0.01M279.07,485.34h0.01M282.83,481.38h0.01M295.17,478.48h0.01M292.39,477.71h0.01M293.24,476.23h0.01M282.32,491.19h0.01M295.89,480.08h0.01M281.17,486h0.01M282.48,481.49h0.01M287.77,484.06h0.01M287.8,484.41h0.01M283.47,485.01h0.01M278.14,481.39h0.01M280.93,485.59h0.01M278.8,483.03h0.01M283.75,488.9h0.01M279.98,480.53h0.01M283.82,486.55h0.01M281.62,490.85h0.01M290.4,480.51h0.01M288.35,484.81h0.01M280.19,480.46h0.01M289.74,490.35h0.01M283.67,493.64h0.01M294.98,478.47h0.01M284.9,482.68h0.01M280.48,483.46h0.01M285.66,481.99h0.01M287.14,485.19h0.01M280.15,488.89h0.01M282.37,487.89h0.01M287.81,480.84h0.01M285.25,480.25h0.01M284.77,490.05h0.01M284.12,479.02h0.01M283.69,477.63h0.01M278.79,490.16h0.01M288.86,481.36h0.01M279.09,484.12h0.01M279.27,490.86h0.01M283.78,483.31h0.01M287.48,487.77h0.01M286.79,488.62h0.01M281.68,485.29h0.01M294.58,478.69h0.01M286.25,483.37h0.01M288.31,480.84h0.01M293.97,476.92h0.01M292.03,485.3h0.01M289.38,483.7h0.01M277.38,487.85h0.01M281.02,485.67h0.01M288.08,478.68h0.01M279.37,490.48h0.01M278.31,482.75h0.01M277.38,483.73h0.01M294.21,479.52h0.01M280.78,481.83h0.01M280.48,490.27h0.01M290.78,477.03h0.01M288.13,484.4h0.01M277.13,487.57h0.01M295.69,478.74h0.01M283.54,484.74h0.01M287.86,476.33h0.01M277.13,487.67h0.01M278.19,486.74h0.01M289.68,481.51h0.01M288.67,482.78h0.01M281.58,487.43h0.01M285.51,480.74h0.01M284.54,476.37h0.01M288.42,488.5h0.01M284.99,489.13h0.01M289.88,477.16h0.01M290.78,478.79h0.01M287.38,481.19h0.01M295.68,477.75h0.01M281.98,487.44h0.01M285.29,478.17h0.01M294.07,482.89h0.01M278.33,483.94h0.01M288.05,475.6h0.01M289.46,476.72h0.01M290.07,479.64h0.01M291.22,481.66h0.01M280.79,481.23h0.01M286.83,476.78h0.01M280.03,479.77h0.01M290.45,480.07h0.01M277.86,487.16h0.01M285.57,481.61h0.01M278.11,480.27h0.01M288.63,480.03h0.01M279.29,489.95h0.01M282.79,485.45h0.01M291.5,488.78h0.01M281.23,485.52h0.01M284.32,489.87h0.01M281.71,487.93h0.01M286.46,489.17h0.01M278.73,487.87h0.01M289.24,485.64h0.01M281.79,480.03h0.01M283.86,481.55h0.01M280.8,480.58h0.01M290.89,481.88h0.01M279.54,485.78h0.01M278.49,488.36h0.01M281.19,484.68h0.01M293.16,476.36h0.01M281.46,487.25h0.01M278.7,481.71h0.01M286.93,482.1h0.01M279.89,484.23h0.01M278.57,486.73h0.01M283.22,485.91h0.01M294.59,477.7h0.01M289.87,477.2h0.01M283.56,484.49h0.01M285.29,479.57h0.01M281.78,479.22h0.01M287.08,492.36h0.01M282.89,483.65h0.01M287.93,480.46h0.01M283.79,482.2h0.01M283.1,478.99h0.01M281.17,481.69h0.01M284.95,484.04h0.01M281.74,481.8h0.01M279.26,484.27h0.01M282,480.32h0.01M291.96,476.08h0.01M284.55,476.26h0.01M288.57,476.56h0.01M283.86,477.23h0.01M290.24,478.83h0.01M284.35,491.94h0.01M281.33,483.63h0.01M283.82,485.47h0.01M295.12,477.15h0.01M285.87,480.27h0.01M278.48,486.25h0.01M278.83,486.63h0.01M294.93,482.54h0.01M292.22,477.39h0.01M277.34,486.3h0.01M281.69,487.97h0.01M282.29,477.38h0.01M282.26,488.19h0.01M281.63,477.34h0.01M285.79,493.94h0.01M281.05,482.53h0.01M293.05,475.89h0.01M285.93,480.98h0.01M282.17,489.46h0.01M295.24,479.51h0.01M289.36,475.66h0.01M285.18,484.99h0.01M281.94,476.88h0.01M279.87,479.42h0.01M294.23,483.93h0.01M290.92,475.82h0.01M282.1,489.61h0.01M284.53,481.5h0.01M283.68,483.49h0.01M289.87,490.39h0.01M297.53,478.51h0.01M280.58,478.46h0.01M286.87,480.06h0.01M284.57,487.36h0.01M280.54,479.99h0.01M278.18,484.88h0.01M286.62,485.9h0.01M281.31,478.11h0.01M285.77,490.5h0.01M280.92,486.89h0.01M285.79,480.53h0.01M285.85,477.01h0.01M286.56,484.5h0.01M289.93,478.68h0.01M280.94,489.17h0.01M288.94,483.66h0.01M282.75,487.18h0.01M279.27,490.2h0.01M288.19,481.88h0.01M291,488.52h0.01M287.6,482.86h0.01M282.13,476.83h0.01M291.91,485.73h0.01M283.78,478.67h0.01M286.24,489.89h0.01M293.35,477.24h0.01M292.86,478.71h0.01M283.97,480.44h0.01M279.71,487.89h0.01M285.2,478.96h0.01M290.03,485.73h0.01M292.65,477.6h0.01M282.79,488.24h0.01M285.6,482.3h0.01M279.09,489.53h0.01M285.61,486.06h0.01M281.05,485.87h0.01M279.39,481.5h0.01M284.09,486.46h0.01" stroke="#f07a2a" stroke-width="1.25" stroke-linecap="round" fill="none" opacity="1"/>
<path d="M292.63,491.67h0.01M296.52,487.6h0.01M285.54,494.12h0.01M295.65,488.47h0.01M288.41,491.17h0.01M289.49,489.85h0.01M296.44,492.13h0.01M296.18,482.07h0.01M297.88,491.69h0.01M295.93,487.35h0.01M289.94,487.17h0.01M297.62,483.05h0.01M295.6,491.99h0.01M299.51,484.97h0.01M294.69,491.13h0.01M287.96,489.28h0.01M297.71,483.09h0.01M295.93,490.33h0.01M296.56,480.64h0.01M291.67,494.87h0.01M298.38,485.7h0.01M300.34,487.44h0.01M286.87,486.44h0.01M293.53,482.15h0.01M296.35,486.65h0.01M295.48,485.56h0.01M296.53,492.35h0.01M295.5,487.87h0.01M291.6,493.83h0.01M285.93,494.65h0.01M288.82,490.3h0.01M284.2,493.32h0.01M295.03,493.23h0.01M296.14,480.91h0.01M300.14,486.07h0.01M287.45,487.46h0.01M299.45,492.21h0.01M291.8,482.43h0.01M296.38,493.61h0.01M294.6,484.94h0.01M295.37,490.95h0.01M289.74,488.81h0.01M284.64,488.34h0.01M299.9,492.46h0.01M294.99,492.35h0.01M288.79,493.53h0.01M293.56,488.87h0.01M299.26,490.06h0.01M293.69,486.48h0.01M299.59,489.1h0.01M291.87,490.23h0.01M298.32,487.79h0.01M297.5,488.04h0.01M298.06,491.05h0.01M299.19,483.39h0.01M281.37,486.13h0.01M284.06,493.57h0.01M297.11,491.01h0.01M294.2,487.44h0.01M295.4,492.43h0.01M284.52,488.86h0.01M294.62,486.05h0.01M297.19,485.42h0.01M289.76,494.18h0.01M283.69,493.43h0.01M291.95,487.99h0.01M284.37,492.17h0.01M294.23,480.04h0.01M293.85,492.29h0.01M285.77,493.86h0.01M283.07,492.08h0.01M290.47,486.25h0.01M294.56,494.64h0.01M297.97,493.28h0.01M280.72,490.11h0.01M291.8,485.02h0.01M291.48,488.43h0.01M296.74,492.17h0.01M293.71,491.79h0.01M297.61,492.21h0.01M296.87,479.71h0.01M295.81,484.96h0.01M287.35,492.97h0.01M297.17,490.38h0.01M298.08,484.63h0.01M296.44,486.92h0.01M297.41,487.74h0.01M297.73,487.23h0.01M287.36,492.52h0.01M300.36,487.36h0.01M290.59,483.65h0.01M293.63,493.49h0.01M300.09,492.2h0.01M291.73,494.38h0.01M287.43,492.57h0.01M291.79,486.58h0.01M293.63,486.68h0.01M292.72,487.54h0.01M288.18,489.35h0.01M291.27,495.18h0.01M292.05,486.5h0.01M295.06,489.97h0.01M301.34,485.41h0.01M301.69,487.97h0.01M294.65,487.86h0.01M296.28,484.2h0.01M293.34,486.72h0.01M294.27,484.03h0.01M301.04,485.11h0.01M299.48,484.45h0.01M292.6,484.68h0.01M287.6,493.04h0.01M296.52,487.53h0.01M296.61,491.71h0.01M287.49,489.25h0.01M287.54,483.48h0.01M300.53,490.45h0.01M297.19,480.92h0.01M288.98,492.51h0.01M298.11,487.35h0.01M299.52,489.03h0.01M299.87,485.15h0.01M296.85,480.88h0.01M289.24,489.33h0.01M301.67,487.99h0.01M294.25,492.4h0.01M296.35,480.36h0.01M287.41,491.94h0.01M300.4,484.53h0.01M293.13,494.1h0.01M286.34,491.06h0.01M291.57,484.09h0.01M293.77,483.97h0.01M300.9,482.8h0.01M291.73,486.01h0.01M292.56,486.81h0.01M292.8,483.68h0.01M297.43,491.05h0.01M293.93,486.57h0.01M293.19,480.36h0.01M291.95,486.51h0.01M294.1,493.37h0.01M292.46,490.72h0.01M294.83,495.12h0.01M297.47,483.82h0.01M290.55,485.9h0.01M296.49,481h0.01M300.25,489.04h0.01M291.29,489.84h0.01M287.06,494.41h0.01M291.62,494.79h0.01M300.39,484.83h0.01M291.85,488.73h0.01M293.75,478.94h0.01M285.39,489.83h0.01M287.27,495.18h0.01M297.76,493.94h0.01M300.03,483.73h0.01M288.98,489.4h0.01M295.65,478.55h0.01M296.34,485.63h0.01M286.29,492.17h0.01M290.23,490.25h0.01M291.67,485.04h0.01M287.66,489.14h0.01M296.25,485.92h0.01M298.71,486.4h0.01M300.3,486.3h0.01M287.27,486.03h0.01M291.89,490.27h0.01M298.27,485.64h0.01M296.58,485.82h0.01M292.8,488.89h0.01M287.15,484.61h0.01M288.23,490.54h0.01M295.2,481.59h0.01M295.4,487.55h0.01M292.19,488.29h0.01M298.06,488.15h0.01M297.66,492.49h0.01M295.2,488.55h0.01M289.17,495.22h0.01M291.33,494.5h0.01M283.3,493.59h0.01M292.14,494.88h0.01M293.34,484.24h0.01M285.61,490.29h0.01M290.42,481.84h0.01M295.55,492.36h0.01M291.27,489.05h0.01M282.96,490.51h0.01M289.88,493.91h0.01M292.93,483.2h0.01M299.81,491.75h0.01M301.3,483.06h0.01M296.14,485.64h0.01M285.36,494.32h0.01M297.77,484.46h0.01M287.99,494.92h0.01M290.29,488.36h0.01M298.46,491.75h0.01M298.12,479.64h0.01M292.04,488.07h0.01M300.94,488.03h0.01M289.09,491.65h0.01M296.16,482.48h0.01M295.2,482.47h0.01M299.48,490.11h0.01M293.99,490.41h0.01M290.37,486.19h0.01M293.92,495.16h0.01M287.44,491.89h0.01M297.19,494.15h0.01M298.99,490.04h0.01M291.31,493.52h0.01M292.01,490.66h0.01M292.31,490.39h0.01M300.69,490.1h0.01M293.81,491.92h0.01M289.98,491.84h0.01M296.07,490.32h0.01M292.79,494.75h0.01M292.51,494.05h0.01M285.67,492.58h0.01M291.6,487.82h0.01M299.94,482.14h0.01M288.38,487.16h0.01M297.59,489.3h0.01M289.32,492.31h0.01M295.1,482.55h0.01M292.54,479.93h0.01M288.76,492.9h0.01M296.61,490.41h0.01M296,486.31h0.01M299.73,492.34h0.01M286.42,492.69h0.01M287.25,487.1h0.01M290.54,490.49h0.01M282.9,490.6h0.01M297.1,493.32h0.01M300.76,482.56h0.01M296.48,489.99h0.01M296.28,494.59h0.01M294.32,479.74h0.01M296.23,489.85h0.01M294.76,489.73h0.01M288.16,494.74h0.01M299.52,492.7h0.01M292.51,484.07h0.01M293.88,487.79h0.01M286.83,493.79h0.01M296.57,481.73h0.01M283.92,490.79h0.01M291.93,484.76h0.01M298.8,491.04h0.01M291.38,493.14h0.01M300.34,488.37h0.01M292.4,482.29h0.01M293.05,488.15h0.01M296.69,481.28h0.01M294.08,485.17h0.01M292.23,483.25h0.01M289.28,495.49h0.01M280.18,488.54h0.01M297.85,481.78h0.01M295.03,494.41h0.01M295.76,491.35h0.01M287.76,493.07h0.01M300.13,490.73h0.01M300.2,484.11h0.01M296.62,488.56h0.01M297.18,485.91h0.01M297.12,479.17h0.01M293.11,488.01h0.01M281.87,492.3h0.01M294.2,486.51h0.01M297.9,481.83h0.01M294.78,494.68h0.01M297.71,485.37h0.01M286.22,492.57h0.01M298.21,480.19h0.01M295.86,488.76h0.01M290.51,489.39h0.01M286.23,493.24h0.01M289.15,494.73h0.01M293.79,488.15h0.01M296.07,479.51h0.01M287.83,494.98h0.01M296.28,492.82h0.01M293.62,487.39h0.01M288.16,490.82h0.01M292.09,485.65h0.01M291.23,480.7h0.01M298.33,486.44h0.01M295.44,486.6h0.01M290.07,493.87h0.01M290.47,495.32h0.01M296.72,486.39h0.01M299.44,492.29h0.01M293.6,482.65h0.01M294.02,485.59h0.01M292.42,494.09h0.01M298.33,488.38h0.01M292.82,490.84h0.01M292.95,479.52h0.01M295.53,494.09h0.01M292.06,491.16h0.01M297.42,484.89h0.01M293.69,480.09h0.01M288.88,484.86h0.01M287.63,487.1h0.01M287.55,492.42h0.01M288.45,484.87h0.01M295.2,484.54h0.01M281.76,492.86h0.01" stroke="#5563c7" stroke-width="1.25" stroke-linecap="round" fill="none" opacity="1"/>
<path d="M287.35,478.01h0.01M290.18,490.2h0.01M279.28,484.66h0.01M293.32,482.93h0.01M300.38,485.39h0.01M286.27,489.51h0.01M297.68,485.4h0.01M298.21,490.8h0.01M286.9,489.75h0.01M289.51,477.6h0.01M299.25,492.53h0.01M299.06,480.1h0.01M289.1,481.47h0.01M289.24,483.11h0.01M290.37,484.15h0.01M295.68,488.72h0.01M283.46,479.34h0.01M282.44,481.96h0.01M287.19,485.59h0.01M283.03,481.32h0.01M292.53,476.07h0.01M291.49,487.27h0.01M279.12,480.2h0.01M295.14,490.38h0.01M285.39,493.32h0.01M280.54,479.96h0.01M290.91,486.17h0.01M296.48,481.6h0.01M299.3,488.19h0.01M293.91,487.02h0.01M281.78,486.79h0.01M284.79,481.59h0.01M282.87,491.04h0.01M292.87,478.04h0.01M294.3,493.22h0.01M291.68,493.27h0.01M290.38,485.62h0.01M286.73,486.86h0.01M299.57,487.49h0.01M295.35,484.8h0.01M298.84,490.99h0.01M289.32,481.45h0.01M292.65,476.75h0.01M289.62,484.02h0.01M291.61,481.08h0.01M299.38,485.15h0.01M297.44,480.6h0.01M298.95,486.44h0.01" stroke="#fff" stroke-width="0.7" stroke-linecap="round" fill="none" opacity="0.85"/>
<rect x="266.2" y="462" width="46.2" height="50.4" stroke="#222" stroke-width="1.2" fill="none" />
<path d="M266,462.2 L195.5,535.5 M312.4,462.2 L321.3,535.5" stroke="#111" stroke-width="1.2" stroke-dasharray="3.4,2.2" fill="none"/>
<rect x="195.6" y="535.5" width="125.8" height="112.8" stroke="#222" stroke-width="1.2" fill="none" />
<text x="280.6" y="441.5" font-size="7.8" text-anchor="start" fill="#d23a55" textLength="25.6" lengthAdjust="spacingAndGlyphs" stroke="#d23a55" stroke-width="0.15" >FL HSC</text>
<text x="282.3" y="448.6" font-size="7.8" text-anchor="start" fill="#d23a55" textLength="19.2" lengthAdjust="spacingAndGlyphs" stroke="#d23a55" stroke-width="0.15" >CD41<tspan font-size="5" dy="-3">−</tspan></text>
<text x="234.9" y="464.4" font-size="7.5" text-anchor="start" fill="#3aaa55" textLength="13.6" lengthAdjust="spacingAndGlyphs" stroke="#3aaa55" stroke-width="0.15" >MkP</text>
<line x1="252.3" y1="462.7" x2="254.6" y2="462.7" stroke="#3aaa55" stroke-width="0.8" />
<text x="232.9" y="473.3" font-size="7.5" text-anchor="start" fill="#3aaa55" textLength="16.9" lengthAdjust="spacingAndGlyphs" stroke="#3aaa55" stroke-width="0.15" >2986</text>
<text x="270.5" y="469.5" font-size="7.5" text-anchor="start" fill="#f59a45" textLength="15.2" lengthAdjust="spacingAndGlyphs" stroke="#f59a45" stroke-width="0.15" >ABM</text>
<text x="268" y="477" font-size="7.5" text-anchor="start" fill="#f59a45" textLength="19.4" lengthAdjust="spacingAndGlyphs" stroke="#f59a45" stroke-width="0.15" >CD41<tspan font-size="5" dy="-3">+</tspan></text>
<text x="300.3" y="502.8" font-size="7.3" text-anchor="middle" fill="#4a70b8" stroke="#4a70b8" stroke-width="0.15" >ABM</text>
<text x="299.5" y="510.8" font-size="7.3" text-anchor="middle" fill="#4a70b8" stroke="#4a70b8" stroke-width="0.15" >CD41<tspan font-size="4.6" dy="-3">−</tspan></text>
<path d="M261.3,588.48h0.01M251.99,573.35h0.01M250.66,572.75h0.01M237.1,573.48h0.01M261.76,575.34h0.01M276.47,572.74h0.01M271.64,581.65h0.01M225.71,615.82h0.01M259.64,565.85h0.01M231.48,608.36h0.01M280.97,559.88h0.01M246.85,562.53h0.01M250.73,559.81h0.01M276.01,560.52h0.01M241.46,571.11h0.01M230.18,587.54h0.01M240.58,614.77h0.01M246.76,616.63h0.01M216.25,596.61h0.01M240.71,581.91h0.01M248.09,630.35h0.01M205.59,596.61h0.01M210.34,591.97h0.01M262,591.49h0.01M241.61,624.85h0.01M234.13,565.84h0.01M238.43,582.37h0.01M275.58,559.25h0.01M222.66,609.92h0.01M233.38,576.96h0.01M225.89,582.86h0.01M237.46,567.47h0.01M260.44,560.74h0.01M236.73,575.36h0.01M223.46,607.03h0.01M257.25,615h0.01M264.03,556.11h0.01M212.67,583.01h0.01M242.35,586.5h0.01M228.18,589.84h0.01M222.28,616.99h0.01M260.44,596.53h0.01M208.47,596.22h0.01M227.99,605.09h0.01M207.86,593.1h0.01M263.09,611.4h0.01M279.58,567.58h0.01M229.44,620.09h0.01M219.7,586.59h0.01M222.1,581.72h0.01M269.19,562.68h0.01M232.78,598.89h0.01M263.88,560.7h0.01M260.38,550.29h0.01M204.03,596.88h0.01M237.9,567.73h0.01M225.79,611.26h0.01M251.28,564.45h0.01M288.27,606.32h0.01M220.84,581.58h0.01M232.24,619.54h0.01M263.44,608.71h0.01M222.81,596.83h0.01M247.97,563.55h0.01M230.94,593.49h0.01M221.92,591.84h0.01M258.73,564.69h0.01M270.03,556.64h0.01M258.84,573.46h0.01M232.62,569.73h0.01M225.77,620.42h0.01M220.94,586.79h0.01M263.19,554.94h0.01M237.38,578.16h0.01M235.21,578.79h0.01M235.31,563.4h0.01M240.87,569.6h0.01M235.11,573.4h0.01M261.86,554.88h0.01M215.74,609.99h0.01M243.18,621.4h0.01M209.62,605.76h0.01M208.07,603.23h0.01M220.6,581.85h0.01M277.39,563.59h0.01M252.49,594.53h0.01M228.88,609.82h0.01M241.46,612.72h0.01M220.97,607.23h0.01M226.76,613.52h0.01M244.9,583.51h0.01M204.41,599.93h0.01M252.16,591.75h0.01M223.24,574.33h0.01M249.98,590.11h0.01M255.03,590.39h0.01M277.89,554.65h0.01M234.58,573.74h0.01M266.42,566.68h0.01M233.52,622.47h0.01M231.37,576.65h0.01M258.11,550.8h0.01M216.12,583.43h0.01M250.52,622.61h0.01M245.97,582.33h0.01M237.13,609.62h0.01M258.74,610.28h0.01M204.14,592.52h0.01M226.55,597.6h0.01M245.83,609.3h0.01M222.52,595.82h0.01M235.74,591.91h0.01M235.16,586.64h0.01M261.96,571.12h0.01M228.25,622.6h0.01M211.68,590.79h0.01M237.7,602.03h0.01M273.38,576.62h0.01M227.08,608.19h0.01M238.43,596.14h0.01M248.57,586.64h0.01M261.58,602.91h0.01M271.06,603.47h0.01M257.25,555.6h0.01M253.67,618.05h0.01M241.62,593.09h0.01M264.74,559.9h0.01M226.52,570.65h0.01M273.42,571.26h0.01M272.23,569.85h0.01M238.59,564.52h0.01M267.64,589.4h0.01M221.54,577.4h0.01M224.51,597.16h0.01M228.59,583.88h0.01M214.28,612.51h0.01M226.55,599.51h0.01M224.04,575.76h0.01M255.51,593.15h0.01M256.37,551.2h0.01M243.54,572.25h0.01M268.04,602.77h0.01M262.51,555.51h0.01M285.15,589.4h0.01M261.96,568.17h0.01M266.91,551.23h0.01M247.25,612.52h0.01M240.27,570.59h0.01M255.65,605.88h0.01M237.93,603.07h0.01M269.8,555.12h0.01M283.53,556.73h0.01M271.21,598.31h0.01M250.65,583.33h0.01M239.34,603.79h0.01M244.33,583.83h0.01M215.35,594.28h0.01M270.28,555.73h0.01M240.4,598.1h0.01M245.51,562.52h0.01M260.76,578.16h0.01M212.01,582.74h0.01M219.39,589.67h0.01M208.4,591.43h0.01M207,603.94h0.01M225.22,574.08h0.01M237.55,576.43h0.01M211.59,582.63h0.01M252.96,601.91h0.01M254.68,574.84h0.01M263.65,571.58h0.01M288.69,582.46h0.01M232.34,620.7h0.01M218.7,585.63h0.01M223.45,598.39h0.01M267.37,562.64h0.01M204.09,595.16h0.01M207.45,599h0.01M253.08,597.28h0.01M268.03,577.12h0.01M250.42,556.85h0.01M209.85,604.87h0.01M283.73,566.21h0.01M225.95,595.71h0.01M228.05,606.84h0.01M244.16,591.19h0.01M228.91,570.17h0.01M238.69,616.92h0.01M264.82,558.34h0.01M254.98,619.08h0.01M222.85,583.07h0.01M231.33,587.31h0.01M236.38,581.89h0.01M250.9,579.38h0.01M271.25,552.55h0.01M253.48,567.94h0.01M227.29,588.74h0.01M225.98,619.58h0.01M243.41,582.3h0.01M237.31,627.85h0.01M225.77,572.98h0.01M260.75,591.5h0.01M286.13,571.64h0.01M241.13,591.74h0.01M216.01,599.04h0.01M220.18,600.33h0.01M232.1,609.96h0.01M260.55,578.28h0.01M262.18,563.69h0.01M224.05,582.69h0.01M219.33,608.25h0.01M232.07,571.72h0.01M267.89,559.58h0.01M261.13,562.14h0.01M274.46,594.75h0.01M216.04,578.7h0.01M222.67,585h0.01M261.66,563.02h0.01M253.55,588.4h0.01M262.2,625.26h0.01M213.63,584.86h0.01M237.21,579.71h0.01M253.6,600.61h0.01M258.44,567.47h0.01M228.01,613.35h0.01M219.96,576.4h0.01M269.44,581.85h0.01M213.58,591.94h0.01M236.43,577.7h0.01M239.45,580.27h0.01M238.82,614.84h0.01M229.54,603.9h0.01M269.84,566.48h0.01M277.49,562.08h0.01M254.22,564.14h0.01M247.22,579.62h0.01M253.22,561.05h0.01M278.17,556.38h0.01M247.79,580.86h0.01M232.15,587.31h0.01M208.47,585.44h0.01M261.72,578.87h0.01M222.21,602.35h0.01M225.19,599.91h0.01M237.75,630.32h0.01M259.54,571.43h0.01M260.01,565.79h0.01M254.67,598.16h0.01M220.2,595.25h0.01M225.39,606.63h0.01M244.63,590.9h0.01M240.53,560.37h0.01M263.22,596.12h0.01M225.35,578.13h0.01M232.53,565.37h0.01M214.5,599.68h0.01M237.74,600.93h0.01M241.61,587.2h0.01M210.35,587.15h0.01M265.87,603.45h0.01M211.42,587.17h0.01M233.64,605.69h0.01M229.56,611.16h0.01M225.44,570.02h0.01M224.11,588.27h0.01M229.69,572.38h0.01M221.13,574.48h0.01M272.84,577.79h0.01M262.64,605.71h0.01M255.24,559.9h0.01M255.19,587.46h0.01M285.09,566.26h0.01M221.82,580.62h0.01M214.69,595.68h0.01M236.96,581.47h0.01M213.9,606.13h0.01M259.99,573.81h0.01M248.42,621.08h0.01M223.49,602.46h0.01M240.33,575.85h0.01M226.31,582.77h0.01M267.13,550.92h0.01M250.66,611.37h0.01M228.86,584.29h0.01M249.39,581.94h0.01M266.88,567.48h0.01M214.34,608.22h0.01M219,602.07h0.01M215.08,587.74h0.01M246.79,595.84h0.01M215.27,597.02h0.01M207.31,593.05h0.01M241.17,592.7h0.01M240.7,561.3h0.01M227.43,600.82h0.01M237.31,614.56h0.01M239.13,618.29h0.01M283.18,587.69h0.01M254.37,556.43h0.01M220.36,588.06h0.01M233.25,605.72h0.01M226.97,600.67h0.01M255.85,620.97h0.01M264.48,559.61h0.01M270.9,553.52h0.01M224.78,614.33h0.01M248.92,585.48h0.01M242.14,581.2h0.01M229.82,595.54h0.01M247.98,591.72h0.01M267.83,595.54h0.01M245.15,569h0.01M262.32,555.24h0.01M255.26,600.11h0.01M216.95,612.94h0.01M250.02,580.43h0.01M271.05,585.97h0.01M240.19,582.39h0.01M256.63,570.38h0.01M226.01,595.61h0.01M225.68,584.28h0.01M263.55,575.72h0.01M262.24,614.66h0.01M239.63,581.28h0.01M241.93,572.91h0.01M251.3,591.18h0.01M238,598.99h0.01M268.12,613.96h0.01M264.07,603.33h0.01M229.08,602.04h0.01M274.11,572.17h0.01M226.62,613.84h0.01M204.26,602.22h0.01M224.23,594.78h0.01M244.33,601.52h0.01M241.38,628.18h0.01M268.86,573.45h0.01M259.96,554.24h0.01M255.94,562.89h0.01M229.24,569.03h0.01M219.44,615.94h0.01M260.59,560.09h0.01M208.77,598.07h0.01M234.31,567.36h0.01M245.57,567.72h0.01M281,559.62h0.01M241.85,569.31h0.01M257.82,565.98h0.01M266.34,596.63h0.01M265.88,581.79h0.01M219.09,589.39h0.01M296.99,578.76h0.01M222.52,612.7h0.01M261.61,570.46h0.01M263.78,549.32h0.01M223.17,579.77h0.01M236.21,608.88h0.01M249.29,614.15h0.01M222.31,579.64h0.01M215.61,595.71h0.01M280.06,554.18h0.01M257.71,559.82h0.01M269.95,561.59h0.01M239.33,569.21h0.01M263.51,552.34h0.01M242.22,591.42h0.01M208.73,597.99h0.01M214.98,592.69h0.01M234.63,594.08h0.01M212.06,587.14h0.01M275.29,572h0.01M208.67,601.41h0.01M273.23,553.23h0.01M213.43,589.19h0.01M210.63,589.79h0.01M269.05,563.56h0.01M280.18,590.75h0.01M266.25,562.83h0.01M218.62,574.39h0.01M244.97,622.95h0.01M238.3,609.64h0.01M279.98,552.16h0.01M239.07,586.1h0.01M215.01,591.62h0.01M248.3,605.68h0.01M246.81,579.65h0.01M252.44,584.07h0.01M223.91,590.03h0.01M229.3,567.94h0.01M223.42,615.41h0.01M258.18,607.19h0.01M214.41,595.75h0.01M211.38,581.09h0.01M256.7,554.74h0.01M284.71,579.93h0.01M270.87,579.55h0.01M222.41,611.17h0.01M229.46,569.82h0.01M259.56,594.03h0.01M278.56,595.96h0.01M214.94,595.58h0.01M240.27,589.39h0.01M262.07,556.79h0.01M231.75,607.96h0.01M223.26,596.78h0.01M226.04,608.38h0.01M255.57,567.62h0.01M234.73,607.28h0.01M238.92,609.54h0.01M228.11,583.21h0.01M226.05,588.88h0.01M258.72,568.26h0.01M275.97,592.98h0.01M249.43,603.42h0.01M234.81,593.75h0.01M253.39,563.69h0.01M223.26,581.85h0.01M233.65,616.32h0.01M254.2,578.85h0.01M237.54,584.99h0.01M255.83,603.84h0.01M249.73,597.25h0.01M245.03,612.56h0.01M225.17,584.12h0.01M259.2,590.83h0.01M217.96,581.38h0.01M256.83,563.04h0.01M237.1,579.48h0.01M220.92,611.5h0.01M245.21,598.17h0.01M224.07,597.33h0.01M257.15,586.41h0.01M258.99,577.79h0.01M229.96,607.23h0.01M270.43,560.87h0.01M284.7,574.57h0.01M250.46,627.97h0.01M248.66,590.85h0.01M230.18,577.54h0.01M226.82,586.46h0.01M225.94,606.12h0.01M236.21,592.99h0.01M250.94,601.87h0.01M231.07,578.15h0.01M255.15,595.97h0.01M232.69,599.58h0.01M226.08,582.36h0.01M239.37,566.76h0.01M240.11,574.69h0.01M251.13,598.71h0.01M248.95,581.91h0.01M239.62,577.02h0.01M239.68,575.07h0.01M276.57,578.38h0.01M257.32,584.74h0.01M250.11,619.8h0.01M265.09,583.05h0.01M272.54,574.38h0.01M224.96,582.84h0.01M239.23,601.89h0.01M216.01,597.58h0.01M253.01,562.46h0.01M261.31,571.49h0.01M217.7,594.77h0.01M258.23,581.01h0.01M248.14,616.59h0.01M286.57,576.86h0.01M229.45,594.69h0.01M228.17,583.96h0.01M251.31,579.36h0.01M227.15,577.47h0.01M265.63,549.5h0.01M271.08,562.26h0.01M232.2,580.38h0.01M217.4,600.58h0.01M278.87,563.89h0.01M218.73,604.98h0.01M216.96,613.38h0.01M242.81,592.16h0.01M247.74,580.38h0.01M246.44,577.43h0.01M233.04,565.52h0.01M257.54,591.76h0.01M252.64,565.37h0.01M234.09,579.13h0.01M218.56,584.78h0.01M223.46,590.19h0.01M275.03,560.38h0.01M250.91,587.82h0.01M231.18,598.48h0.01M239.42,600.82h0.01M215.58,612.88h0.01M209.44,587.84h0.01M242.37,598.75h0.01M282.87,568.06h0.01M241.15,599.1h0.01M275.03,587.63h0.01M241.27,580.64h0.01M207.21,592.6h0.01M206.46,600.86h0.01M243.14,558.45h0.01M253.09,558.13h0.01M215.78,580.99h0.01M245.85,604.57h0.01M236.38,586.91h0.01M214.62,609.67h0.01M212.22,589.69h0.01M240.33,572.4h0.01M227.16,598.84h0.01M240.19,581.07h0.01M249.8,561.64h0.01M247.64,561.9h0.01M218.97,601.95h0.01M263.88,561.44h0.01M245.06,594.45h0.01M206.91,589.07h0.01M290.52,571.25h0.01M241.36,568.45h0.01M236.62,598.07h0.01M250.17,570.91h0.01M235.97,590.6h0.01M235.82,583.83h0.01M242.81,581.86h0.01M214.47,610.51h0.01M217.88,588.9h0.01M236.68,599.75h0.01M243.46,593.73h0.01M246.49,574.58h0.01M235.85,570.13h0.01M244.29,568h0.01M239.15,563.83h0.01M243.92,605.68h0.01M215.71,598.65h0.01M243.55,572.73h0.01M228.97,582.11h0.01M260.33,555.4h0.01M221.86,618.65h0.01M244.13,603.34h0.01M237.91,588.85h0.01M267.35,552.91h0.01M245.21,614.53h0.01M283.4,570.79h0.01M247.23,603.68h0.01M251.22,554.2h0.01M268.36,574.75h0.01M227.08,621.44h0.01M239.98,580.51h0.01M209.62,602.81h0.01M251.66,582.38h0.01M293.81,577.73h0.01M262.84,576.15h0.01M224.37,604.08h0.01M204.51,595.46h0.01M213.29,600.91h0.01M224.5,572.2h0.01M244.33,563.63h0.01M207.36,604.1h0.01M215.93,591.84h0.01M228.39,596.69h0.01M245.37,563.25h0.01M284.99,573.84h0.01M243.13,561.81h0.01M247.88,559.26h0.01M231.2,572.91h0.01M246.29,631.8h0.01M239.29,603.37h0.01M241.12,574.83h0.01M270.27,565.06h0.01M263.35,573.64h0.01M267.13,596.86h0.01M246.78,562.81h0.01M248.19,566.08h0.01M234.27,586.59h0.01M250.67,614.78h0.01M265.72,550.9h0.01M233.51,592.88h0.01M263.1,574.77h0.01M246.18,584.06h0.01M249.76,617.47h0.01M240.04,586.6h0.01M286,573.05h0.01M212.67,579.99h0.01M242.26,584.67h0.01M243.36,628.36h0.01M236.08,572.22h0.01M237.22,621.68h0.01M221.08,598.53h0.01M234.85,580.01h0.01M234.43,606.47h0.01M222.83,596.28h0.01M241.1,588.21h0.01M212.6,585.78h0.01M218.72,579.24h0.01M244.87,598.59h0.01M258.44,557.7h0.01M229.05,584.73h0.01M223.81,616.97h0.01M249.23,568.41h0.01M244.74,592.94h0.01M228.09,611.85h0.01M276.31,564.4h0.01M282.03,564.67h0.01M258.87,570.65h0.01M263.22,553.12h0.01M226.67,575.28h0.01M246.52,558.21h0.01M254.69,595.27h0.01M227.93,613.99h0.01M231.22,566.77h0.01M247.9,588.25h0.01M216.55,594.59h0.01M230.54,583.53h0.01M255.1,610.73h0.01M242.74,607.24h0.01M272.66,578.54h0.01M260.18,577.83h0.01M231.72,572.98h0.01M207.43,586.25h0.01M263.3,599.16h0.01M251.31,596.32h0.01M220.54,617.67h0.01M213.3,598.92h0.01M222.42,589.87h0.01M285.81,553.41h0.01M266.11,596.38h0.01M236.37,586.86h0.01M240.77,574.12h0.01M262.71,575.98h0.01M241.35,612.44h0.01M235.35,588.12h0.01M261.11,594.45h0.01M284.36,569.37h0.01M248.78,563.39h0.01M251.89,628.49h0.01M230.21,617.85h0.01M205.08,601.38h0.01M218.77,585.56h0.01M283.43,584.98h0.01M256.55,597.68h0.01M254.09,613.13h0.01M232.69,572.61h0.01M205.29,597.44h0.01M266.02,572.13h0.01M209.76,588.47h0.01M283.4,558.98h0.01M240.69,598.08h0.01M207.45,597.66h0.01M265.54,582.27h0.01M246.58,566.95h0.01M252.87,588.46h0.01M251.96,604.18h0.01M259.95,566.16h0.01M261.49,612.23h0.01M266.72,590.87h0.01M236.55,575.3h0.01M262.07,558.82h0.01M242.35,587.52h0.01M256.79,551.47h0.01M223.41,579.4h0.01M243.12,621.37h0.01M266.17,552.45h0.01M246.4,589.3h0.01M259.36,602.29h0.01M258.47,565.84h0.01M269.4,561.86h0.01M274.71,569.31h0.01M247.1,618h0.01M276.54,565.11h0.01M265.72,569.43h0.01M253.94,569.97h0.01M265.21,553.73h0.01M216.58,595.59h0.01M245.83,580.63h0.01M221.95,614.24h0.01M235.15,606.83h0.01M237.72,577.93h0.01M231.9,619.54h0.01M246.44,577.99h0.01M241.94,581.51h0.01M236.68,577.15h0.01M228.81,592.26h0.01M266.2,568.7h0.01M261.37,553.58h0.01M250.31,563.98h0.01M256.13,558.17h0.01M225.7,610.6h0.01M245.69,570.18h0.01M234.32,569.34h0.01M257.07,567.6h0.01M277.71,582.94h0.01M225.81,573.5h0.01M214.88,603.4h0.01M221.43,579.36h0.01M266.63,552.59h0.01M243.03,586.92h0.01M257.3,593.82h0.01M268.03,603.8h0.01M247.36,583.15h0.01M212.88,612.47h0.01M247.22,607.02h0.01M249.93,599.95h0.01M253.4,582.9h0.01M213.76,601.24h0.01M237.49,571.51h0.01M239.63,584.69h0.01M212.03,603.31h0.01M214.75,593.13h0.01M280.19,569.2h0.01M230.44,605.92h0.01M215.51,609.86h0.01M240.95,588.22h0.01M236.88,574.72h0.01M253.67,560.52h0.01M254.71,553.79h0.01M247.31,603.97h0.01M265.95,551.21h0.01M277.69,555.6h0.01M288.39,593.1h0.01M246.73,580.6h0.01M218.33,590.54h0.01M251.73,628.51h0.01M250.77,575.63h0.01M259.67,573.86h0.01M243.51,588.79h0.01M211.65,585.26h0.01M225.18,619.09h0.01M221.7,584.23h0.01M253.04,566.12h0.01M265.58,551.06h0.01M236.64,575.24h0.01M212,591.93h0.01M215.43,593.36h0.01M270.63,553.28h0.01M219.81,616.87h0.01M253.24,556.33h0.01M216.9,582.12h0.01M217.73,610.72h0.01M259.68,615.34h0.01M270.43,550.83h0.01M231.33,588.01h0.01M249.6,605.73h0.01M247.75,620.51h0.01M248.29,598.82h0.01M260.24,558.97h0.01M230.12,586.47h0.01M239.38,594.94h0.01M264.22,564.24h0.01M226.77,592.48h0.01M259.8,604.49h0.01M218.02,586.22h0.01M250.13,606.43h0.01M219.71,583.34h0.01M278.19,563h0.01M268.79,565.01h0.01M233.21,621.83h0.01M226.48,618.29h0.01M220.86,589.75h0.01M269.83,558.23h0.01M217.82,590.69h0.01M228.31,583.09h0.01M263.97,580.77h0.01M266.33,553.86h0.01M237.67,615.64h0.01M234.9,592.5h0.01M251.25,600.6h0.01M250.77,581.07h0.01M258.39,575.95h0.01M229.41,582.21h0.01M228.06,570.37h0.01M263.54,609.37h0.01M207.01,588.53h0.01M222.22,604.76h0.01M256.95,598.25h0.01M243.26,600.85h0.01M259.51,558.84h0.01M223.75,603h0.01M215.58,581.86h0.01M213.87,607.12h0.01M220.38,601.71h0.01M237.29,562.78h0.01M236.21,572.64h0.01M249.69,575.19h0.01M275.68,602.44h0.01M243.01,620.24h0.01M280.5,570.9h0.01M231.51,617.79h0.01M253.17,583.05h0.01M245.92,562.11h0.01M220.74,584.81h0.01M275.58,597.1h0.01M228.07,568.05h0.01M285.32,587.72h0.01M208.24,605.62h0.01M259.53,594.43h0.01M218.33,616.35h0.01M262.61,628.37h0.01M239.76,582.78h0.01M267.86,567.95h0.01M259.06,579.96h0.01M219.3,604.73h0.01M248.22,625.44h0.01M225.65,600.33h0.01M273.67,555.46h0.01M264.71,570.07h0.01M258.41,562.03h0.01M210.92,588.96h0.01M285.2,566.89h0.01M256.66,575.47h0.01M238.15,572.5h0.01M228.22,575.91h0.01M205.84,596.99h0.01M261.81,550.85h0.01M217.01,583.36h0.01M243.76,580.5h0.01M246.41,591.34h0.01M214.53,599.44h0.01M237.74,563.67h0.01M250.14,600.39h0.01M246.34,574.12h0.01M248.59,595.22h0.01M241.62,599.41h0.01M246.48,570.55h0.01M260.5,557.15h0.01M245.13,579.38h0.01M237.69,579.79h0.01M205.12,601.41h0.01M232.13,568.87h0.01M231.3,584.35h0.01M233.75,594.48h0.01M215.93,595.99h0.01M232.9,614.74h0.01M246.35,563.7h0.01M223.31,582.81h0.01M207.66,600.87h0.01M244.24,580.36h0.01M225.95,596.03h0.01M214.7,610.94h0.01M236.62,576.71h0.01M209.82,582.56h0.01M222.82,602.9h0.01M243.71,585.34h0.01M225.01,611.12h0.01M228.82,600.98h0.01M208.98,591.4h0.01M226.46,612.03h0.01M230.7,611.88h0.01M268.37,565.99h0.01M224.11,590.28h0.01M256.12,584.22h0.01M278.25,603.19h0.01M269.06,556.32h0.01M237.69,564.58h0.01M272.56,596.35h0.01M218.22,601.56h0.01M243.35,589.17h0.01M245.05,601.86h0.01M250.59,595.46h0.01M231.6,566.26h0.01M230.58,570.71h0.01M268.38,594.37h0.01M239.75,616.73h0.01M231.66,585.62h0.01M222.39,619.35h0.01M221.23,616.24h0.01M258.76,598.22h0.01M223.98,577.8h0.01M245.13,619.27h0.01M247.76,590.85h0.01M210.63,602.94h0.01M249.11,592.58h0.01M230.33,574.46h0.01M239.12,592.25h0.01M238.68,586.98h0.01M230.73,601.92h0.01M280.35,558.23h0.01M262.69,567.52h0.01M209.91,591.85h0.01M254.83,595.54h0.01M222.52,616.5h0.01M227.31,575.28h0.01M245.92,581.39h0.01M249.86,565.66h0.01M281.42,588.16h0.01M231.44,590.65h0.01M274.98,573.61h0.01M265,572.54h0.01M246.2,584.62h0.01M215.54,602.52h0.01M276.4,564.28h0.01M260.13,571.68h0.01M260.05,573h0.01M239.37,616.71h0.01M212.5,581.17h0.01M239.18,614.61h0.01M254.05,602.22h0.01M220.22,584.07h0.01M208.28,606.52h0.01M256.08,560.9h0.01M229.5,595.45h0.01M232.44,610.35h0.01M230.82,596.67h0.01M278.15,565.18h0.01M222.32,599.68h0.01M213.5,612.95h0.01M208.08,592.11h0.01M258.47,562.4h0.01M232.8,568.9h0.01M255.28,598.66h0.01M227.65,602.26h0.01M259.23,567.09h0.01M260.13,568.95h0.01M292.32,603.37h0.01M248.72,573.77h0.01M237.38,603.97h0.01M247.84,576.32h0.01M260.73,601.32h0.01M218.72,600.84h0.01M256.43,596.67h0.01M233.7,593.33h0.01M279.6,570.6h0.01M225.56,585.19h0.01M265.44,552.36h0.01M262.02,575.82h0.01M227.24,569.25h0.01M279.62,589.55h0.01M229.38,567.44h0.01M235.56,603.47h0.01M244.16,580.33h0.01M217.04,613.31h0.01M226.17,607.18h0.01M271.06,577.24h0.01M245.83,558.2h0.01M271.65,559.31h0.01M241.73,617.31h0.01M240.9,599.24h0.01M241.58,625.61h0.01M265.28,576.82h0.01M212.73,596.88h0.01M244.07,596.27h0.01M253.18,553.91h0.01M223.9,585.65h0.01M233.4,568.03h0.01M221.86,614.47h0.01M207.23,594.86h0.01M247.28,604.62h0.01M239.73,571.28h0.01M247.25,578.79h0.01M206.37,589.99h0.01M269.92,598.44h0.01M236.76,577.71h0.01M249.38,559.64h0.01M224.42,605.02h0.01M210.04,588.62h0.01M256.56,611.86h0.01M223.02,613.15h0.01M238.58,569.89h0.01M211.16,590.35h0.01M242.54,559.97h0.01M220.91,585.03h0.01M245.61,574.19h0.01M271.19,566.86h0.01M241.7,566.15h0.01M214.78,605.86h0.01M274.59,561.54h0.01M263.78,560.7h0.01M220.11,595.65h0.01M230.49,580.48h0.01M247.24,564.49h0.01M206.54,591.85h0.01M260.18,554.01h0.01M248.49,558.96h0.01M238.12,629.21h0.01M251.8,606.05h0.01M248.5,586.92h0.01M240.91,623.43h0.01M253.8,577.24h0.01M232.49,598.96h0.01M264.96,549.39h0.01M238.83,582.49h0.01M231.24,584.18h0.01M216.71,611.06h0.01M211.49,581.85h0.01M245.41,630.33h0.01M254.79,594.27h0.01M227.38,593.53h0.01M211.55,590.12h0.01M230.22,588.35h0.01M253.81,571.72h0.01M248.82,601.05h0.01M241.27,619.84h0.01M230.08,614.93h0.01M229.33,590.1h0.01M252.87,553.05h0.01M223.06,586.58h0.01M267.15,584.67h0.01M239.2,629.11h0.01M253.83,613.85h0.01M246.36,597.02h0.01M250.44,556.36h0.01M234.71,600.84h0.01M216.83,587.09h0.01M244.4,569.89h0.01M233.81,622.63h0.01M237.11,566.55h0.01M240.44,606.39h0.01M222.34,577.73h0.01M230.19,605.49h0.01M243.52,576.91h0.01M250.09,562.43h0.01M254.79,558.45h0.01M223.96,619.96h0.01M269.25,605.29h0.01M231.72,591.34h0.01M264.75,572.05h0.01M217.11,599.93h0.01M226.8,590.81h0.01M222.64,610.85h0.01M257.52,566.88h0.01M235.16,604.52h0.01M260.12,566.47h0.01M263.18,564.16h0.01M221.06,592.24h0.01M222.22,603.04h0.01M258,567.08h0.01M226.51,620.48h0.01M261.84,558.46h0.01M239.8,586.25h0.01M280.11,569.46h0.01M234.82,564.37h0.01M239.79,573.95h0.01M268.96,548.89h0.01M234.32,592.14h0.01M225.97,598.88h0.01M213.9,602.98h0.01M231.52,606.99h0.01M230.39,584.4h0.01M251.45,592.27h0.01M218.71,590.55h0.01M215.15,609.45h0.01M282.91,580.78h0.01M232.66,604.32h0.01M236.4,597.78h0.01M212.03,606.77h0.01M254.82,610.88h0.01M241.66,568.66h0.01M217.02,613.06h0.01M214.38,579.34h0.01M249.75,577.49h0.01M256.43,563.29h0.01M248.47,576.16h0.01M241.29,575.96h0.01M223.58,582.2h0.01M239.1,618.53h0.01M225,605.29h0.01M240.89,561.15h0.01M253.49,615.69h0.01M239.87,571.6h0.01M270.31,568.81h0.01M222.32,572.86h0.01M239.6,590.03h0.01M251.54,592.67h0.01M296.47,589.02h0.01M234.68,571.97h0.01M223.27,591.92h0.01M235.58,584.72h0.01M262.11,590.09h0.01M226.61,599.51h0.01M242.49,585.93h0.01M224,615.57h0.01M208.92,597.77h0.01M252.53,626.44h0.01M254.48,586.83h0.01M234.88,589.12h0.01M242.93,602.78h0.01M215.88,586.8h0.01M208.42,588.84h0.01M240.93,567.56h0.01M231.9,584.9h0.01M231.9,607.04h0.01M215.33,599.66h0.01M231.82,605.33h0.01M247.2,584.06h0.01M218.49,600.58h0.01M267.72,619.37h0.01M248.34,582.97h0.01M241.53,587.56h0.01M254.42,552.79h0.01M247.3,565.18h0.01M245.11,575.67h0.01M264.95,587.05h0.01M204.92,596.57h0.01M220.38,604.48h0.01M215.72,576.27h0.01M249.29,565.53h0.01M212.59,606.85h0.01M254.25,573.28h0.01M233.63,580.82h0.01M271.37,619.08h0.01M209.89,597.94h0.01M224.65,618.31h0.01M239.43,594h0.01M226.22,577.12h0.01M255.56,590.71h0.01M230.65,601.07h0.01M279.67,568.32h0.01M285.66,578.6h0.01M218.75,614.39h0.01M208.21,607.38h0.01M220.56,576.34h0.01M252.18,624.82h0.01M242.17,609.87h0.01M279.53,585.49h0.01M267.47,550.52h0.01M236.98,603.99h0.01M244.03,590.8h0.01M228.59,618.38h0.01M253.37,624.32h0.01M261.03,569.4h0.01M244.77,557.86h0.01M217,578.44h0.01M252,609.49h0.01M215.13,589.69h0.01M245.58,602.24h0.01M247.19,570.99h0.01M272.37,550.02h0.01M210.58,586.75h0.01M252.75,581.88h0.01M254.74,581.66h0.01M226.57,572.22h0.01M256.18,570.34h0.01M297.25,587.31h0.01M273.98,557.6h0.01M206.87,588.49h0.01M235.57,575.72h0.01M256.64,574.76h0.01M240.28,590.11h0.01M217.18,592.51h0.01M209.55,607.93h0.01M229.83,609.63h0.01M218.29,592.65h0.01M237.83,563.51h0.01M224.05,607.66h0.01M224.35,582.82h0.01M236.91,591.9h0.01M293.19,578.46h0.01M262.97,569.98h0.01M265.33,573.76h0.01M290.41,589.49h0.01M220.74,574.34h0.01M211.51,604.4h0.01M211.85,596.73h0.01M221.95,594.03h0.01M263.63,601.16h0.01M253.74,560.28h0.01M221.12,601.2h0.01M226.6,596.39h0.01M207.89,600.1h0.01M209.05,603.22h0.01M232.5,601.52h0.01M252.64,555.55h0.01M226.22,578.82h0.01M243.11,630.21h0.01M217.03,587.74h0.01M208.09,584.46h0.01M228.57,620.71h0.01M266.54,551.6h0.01M274.24,559.75h0.01M233.23,614.73h0.01M241.56,623.9h0.01M265.11,566.97h0.01M268.06,581.43h0.01M264.29,574.37h0.01M215.62,604.34h0.01M251.7,594.06h0.01M262.69,610.99h0.01M243.28,572.6h0.01M210.16,587.06h0.01M216.66,605.91h0.01M223.37,615.92h0.01M217.18,589.88h0.01M246.65,562.58h0.01M223.69,583.96h0.01M239.63,563.52h0.01M276.71,560.09h0.01M241.24,612.8h0.01M253.47,570.93h0.01M218.24,597.68h0.01M247.91,560.74h0.01M238.44,564.95h0.01M264.16,558.67h0.01M237.42,574.88h0.01M219.01,602.06h0.01M264.99,581.9h0.01M224.11,585.69h0.01M217.85,589.22h0.01M228.9,597.82h0.01M216.1,612.27h0.01M220.74,579.36h0.01M266.85,565.24h0.01M244.06,598.84h0.01M263.83,580.6h0.01M250.03,574.32h0.01M274.4,588h0.01M209.96,604.4h0.01M252.71,605.63h0.01M223.25,610.11h0.01M221.7,600.22h0.01M231.63,616.28h0.01M207.06,598.46h0.01M253.52,561.46h0.01M277.93,565.6h0.01M210.68,592.1h0.01M234.46,625.88h0.01M278.32,557.09h0.01M220.77,594.23h0.01M245.08,568.46h0.01M230.72,612.85h0.01M249.09,615.33h0.01M289.05,569.86h0.01M226.21,581.37h0.01M251.84,562.38h0.01M210.41,605.66h0.01M251.7,587.47h0.01M279.91,553.32h0.01M239.31,578.02h0.01M236.5,595.31h0.01M239.94,569.45h0.01M223.91,594.35h0.01M224.16,579.3h0.01M226.55,604.23h0.01M220.88,608.59h0.01M267.68,555.75h0.01M255.02,579.59h0.01M247.79,590.98h0.01M279.72,577.17h0.01M271.06,557.5h0.01M268.26,551.69h0.01M245.02,579.07h0.01M272.44,614.64h0.01M240.78,569.52h0.01M223.52,596.26h0.01M285.49,570.96h0.01M224.99,578.11h0.01M232.57,588.04h0.01M261.87,578.63h0.01M259.93,556.43h0.01M208.06,584.07h0.01M252.71,553.29h0.01M257.36,588.02h0.01M216.25,586.45h0.01M276.49,577.45h0.01M252.48,553.89h0.01M257.13,567.75h0.01M223.82,599.9h0.01M220.52,600.07h0.01M254.56,593.24h0.01M258.07,569.09h0.01M253.74,596.04h0.01M253.19,567.9h0.01M235.79,565.97h0.01M247.83,605.13h0.01M267.35,589.29h0.01M223.98,587.57h0.01M251.36,588.72h0.01M249.66,608.77h0.01M208.08,586.23h0.01M252.68,584.36h0.01M238.74,628.57h0.01M250.94,554.17h0.01M272.82,588.02h0.01M255.95,557.73h0.01M234.12,597.28h0.01M254.5,591.39h0.01M254.65,612.44h0.01M253.19,556.87h0.01M238.42,604.72h0.01M261.51,586.89h0.01M217.17,604.68h0.01M244.75,570.05h0.01M231.64,574.15h0.01M264.64,567.76h0.01M226.36,604.24h0.01M258.96,579.17h0.01M214.19,596.34h0.01M237.88,565.23h0.01M264.51,572.59h0.01M234.85,569.17h0.01M248.25,589.08h0.01M265.95,557.19h0.01M218.57,590.7h0.01M218.98,598.73h0.01M231.38,589.25h0.01M223.89,609.53h0.01M218.36,587.79h0.01M262.62,560.11h0.01M264.32,569.41h0.01M217.87,595.72h0.01M224.58,570.71h0.01M255.74,577.39h0.01M253.48,571.72h0.01M232.67,626.78h0.01M225.06,572.05h0.01M260.5,592.92h0.01M237,625.91h0.01M220.75,594.86h0.01M258.74,559.87h0.01M266.83,594.5h0.01M238.1,618.51h0.01M247.4,614.31h0.01M211.88,607.64h0.01M250.36,560.76h0.01M239.64,568.13h0.01M280.13,562.99h0.01M259.94,608.75h0.01M213.35,580.9h0.01M264.32,568.72h0.01M207.88,605.67h0.01M232.16,586.86h0.01M247.53,572.47h0.01M228.24,589.55h0.01M226.21,580.24h0.01M259.3,586.46h0.01M273.46,559.47h0.01M239.88,587.57h0.01M243.59,577.45h0.01M227.11,619.78h0.01M244.07,615.33h0.01M258.3,602.44h0.01M259.88,596.51h0.01M237.89,572.07h0.01M257.96,567.83h0.01M241.1,578.01h0.01M224,570.69h0.01M220.62,585.79h0.01M227.94,604.89h0.01M218.76,585.65h0.01M250.45,584.1h0.01M241.76,604.88h0.01M232.77,622.45h0.01M275.59,558.29h0.01M261.63,556.96h0.01M243.45,577.07h0.01M230.35,571.74h0.01M272.6,552.14h0.01M236.16,617.03h0.01M230.82,573.84h0.01M276.91,558.32h0.01M223.19,572.22h0.01M265.91,562.32h0.01M276.61,559.96h0.01M232.35,592.4h0.01M265.89,564.39h0.01M240.6,625.94h0.01M228.13,598.49h0.01M237.45,617.45h0.01M222.24,589.3h0.01M212.2,595.35h0.01M229.84,577.99h0.01M229.68,567.59h0.01M212.62,598.09h0.01M247.04,561.79h0.01M210.57,594.37h0.01M245.37,595.98h0.01M257.58,581.33h0.01M209.86,598.87h0.01M206.77,600.12h0.01M237.2,617.79h0.01M233.25,599.81h0.01M228.02,600.56h0.01M205.98,588.9h0.01M240.15,622.39h0.01M227.57,611.1h0.01M248.62,563.74h0.01M264.57,572.33h0.01M205.48,589.8h0.01M246.86,561.39h0.01M234.06,570.63h0.01M218.02,585.35h0.01M288.87,584.48h0.01M255.08,575.35h0.01M208.33,604.81h0.01M263.82,583.44h0.01M252.7,553.37h0.01M222.71,596.24h0.01M245.67,622.44h0.01M246.92,564.55h0.01M263.81,559.34h0.01M234.81,579.8h0.01M253.53,588.82h0.01M217.69,600.68h0.01M263.7,598.79h0.01M275.81,561.35h0.01M235.02,574.31h0.01M227.54,613.39h0.01M249.69,621.3h0.01M246.34,558.18h0.01M265.01,604.27h0.01M257,596.88h0.01M247.4,583.88h0.01M258.25,589.01h0.01M255.34,597.22h0.01M254.63,604.78h0.01M268.76,604.65h0.01M222.05,590.78h0.01M238.49,582.63h0.01M263.33,556.47h0.01M220.47,614.93h0.01M232.36,617.42h0.01M249.51,613.68h0.01M242.6,631.82h0.01M223.1,608.66h0.01M246.83,600.66h0.01M223.14,591.31h0.01M225.02,589.53h0.01M246.48,594.55h0.01M221.44,606.79h0.01M219.42,611.9h0.01M255.41,590.01h0.01M224.86,585.54h0.01M265.59,572.02h0.01M258.15,553.73h0.01M206.81,599.53h0.01M228.93,576.82h0.01M209.83,588.49h0.01M275.98,555.78h0.01M260.97,577.13h0.01M262.39,556.14h0.01M243.94,624.32h0.01M217.53,591.98h0.01M242.88,584.73h0.01M235.47,564.03h0.01M281.45,575.29h0.01M218.59,588.25h0.01M239.97,598.52h0.01M254.51,587.14h0.01M242.65,589.98h0.01M275.39,594.07h0.01M243.74,625.79h0.01M246.13,586.62h0.01M216.85,583.26h0.01M256.86,586.51h0.01M210.48,594.81h0.01M289.52,564.61h0.01M222.13,593.72h0.01M238.58,578.35h0.01M268.45,573.87h0.01M236.48,614.59h0.01M243.66,589.42h0.01M241.36,583.8h0.01M252.19,585.73h0.01M215.88,583.24h0.01M214.2,582.15h0.01M222.66,601.28h0.01M245.1,611.91h0.01M275.93,585.29h0.01M219.09,577.41h0.01M232.69,577.78h0.01M246.93,626.84h0.01M239.46,623.21h0.01M263.58,560.52h0.01M235.5,620.97h0.01M272.99,582.62h0.01M227.39,586.98h0.01M246.99,573.6h0.01M254.04,554.39h0.01M251.28,587.23h0.01M233.87,595.42h0.01M235.92,562.8h0.01M244.46,561.16h0.01M278.41,561.35h0.01M247.77,555.72h0.01M208.58,585.56h0.01M273.97,557.83h0.01M205.79,600.94h0.01M241.92,570.96h0.01M252.2,582.7h0.01M222.64,600.37h0.01M230.9,605.07h0.01M222.62,576.07h0.01M229.12,608.46h0.01M252.09,599.83h0.01M208.09,590.87h0.01M226.37,595.38h0.01M267.23,552.48h0.01M256.1,560.32h0.01M253.81,624.53h0.01M248.47,598.91h0.01M246.59,604.64h0.01M209.63,582.9h0.01M259.46,584.59h0.01M262.17,554.02h0.01M256.96,607.52h0.01M266.29,562.75h0.01M251.94,566.49h0.01M258.42,593.33h0.01M224.17,620.13h0.01M234.2,596.93h0.01M246.91,564.24h0.01M269.34,568.43h0.01M264.05,572.1h0.01M233.43,583.96h0.01M230.14,575.22h0.01M276.67,595.2h0.01M222.25,604.55h0.01M215.37,610.75h0.01M254.27,582.44h0.01M226.98,575.51h0.01M272.15,565.82h0.01M273.72,568.91h0.01M250.83,557.01h0.01M243.06,611.56h0.01M226.63,595.61h0.01M233.06,596.43h0.01M269.08,555.87h0.01M233.49,626.36h0.01M235.1,575.13h0.01M256.27,575.68h0.01M245.76,606.53h0.01M214.86,576.97h0.01M220.58,594.54h0.01M238.83,581.67h0.01M271.84,549.86h0.01M250.34,589.77h0.01M293.69,610.13h0.01M223.89,607.01h0.01M257.03,593.48h0.01M248.35,556.05h0.01M218.09,608.19h0.01M262.46,550.77h0.01M273.91,557.9h0.01M227.75,576.61h0.01M231.55,567.31h0.01M214.96,587.78h0.01M284.69,562.55h0.01M240.6,562.66h0.01M240.55,600.94h0.01M264.06,558.37h0.01M232.93,588.42h0.01M226.56,604.27h0.01M227.6,570.89h0.01M246.03,571.42h0.01M249.37,578.36h0.01M263.55,557.37h0.01M227.69,588.51h0.01M234.24,586.98h0.01M278.17,555h0.01M225.73,570.72h0.01M232.5,619.14h0.01M241.61,597.97h0.01M262.16,563.73h0.01M255.93,591.05h0.01M221.49,616.01h0.01M221.1,583.13h0.01M233.33,601.99h0.01M272.1,586.93h0.01M231.87,611.84h0.01M208.43,593.69h0.01M264.44,552.68h0.01M242.7,571.46h0.01M237.7,576.34h0.01M220.6,585.76h0.01M249.31,614.6h0.01M223.64,583.29h0.01M235.69,611.97h0.01M224.98,582.59h0.01M228.58,616.59h0.01M254.88,566.5h0.01M246.32,618.71h0.01M269.47,559.34h0.01M240.34,605.19h0.01M226.46,580.13h0.01M247.63,559.15h0.01M239.96,624.32h0.01M243.94,583.75h0.01M224.99,587.83h0.01M219.81,599.67h0.01M254.06,602.4h0.01M239.13,605.96h0.01M258.06,599.77h0.01M257.07,568.77h0.01M228.46,603.05h0.01M284.46,568.65h0.01M238.2,575.93h0.01M224.47,591.65h0.01M246.09,585.63h0.01M251.72,586.25h0.01M244.88,628.83h0.01M237.07,588.19h0.01M266.07,563.4h0.01M229.96,582.23h0.01M253.8,602.49h0.01M222.4,573h0.01M277.89,570.81h0.01M274.61,580.37h0.01M227.48,577.76h0.01M258.06,584.93h0.01M281.04,571.65h0.01M240.74,570.65h0.01M255.72,594.61h0.01M269.49,572.09h0.01M238.47,572.47h0.01M203.92,595.9h0.01M258.69,564.59h0.01M277.78,576.06h0.01M246.79,614.62h0.01M211.98,598.3h0.01M231.02,589.62h0.01M258.28,553.93h0.01M266.03,574.88h0.01M233.48,570.82h0.01M215.96,598.61h0.01M212.11,605.34h0.01M256.99,586.53h0.01M257.82,594.7h0.01M269.25,552.56h0.01M249.06,564.57h0.01M239.77,611.81h0.01M226.74,573.13h0.01M232.9,607.52h0.01M212.5,589.9h0.01M232.15,588.86h0.01M252.91,552.87h0.01M238.57,578.62h0.01M254.76,586.29h0.01M238.86,570.52h0.01M233.83,574.97h0.01M276.85,596.3h0.01M226.21,575.28h0.01M265.66,610.85h0.01M236.9,603.1h0.01M272.58,555.93h0.01M233.2,609.73h0.01M265.82,566.3h0.01M268.85,549.34h0.01M254.25,605.86h0.01M270.02,578.97h0.01M238.97,619.99h0.01M214.95,603.7h0.01M221.72,600.82h0.01M239.2,565.53h0.01M265.64,608.41h0.01M245.41,603.09h0.01M275.25,583.64h0.01M240.67,584.24h0.01M275.43,567.7h0.01M234.83,565.76h0.01M268.22,562.95h0.01M253.14,586.93h0.01M222.76,585.36h0.01M250.35,579.97h0.01M223.52,580.47h0.01M259.11,560.9h0.01M260.39,574.72h0.01M232.21,582.45h0.01M242.91,577.8h0.01M249.39,567.05h0.01M261.52,566.1h0.01M223.82,610.15h0.01M235.53,593.09h0.01M223.37,589.65h0.01M258.9,597.54h0.01M273.89,560.47h0.01M243.48,574.8h0.01M213.13,605.41h0.01M279.47,605.84h0.01M224.19,593.69h0.01M228.86,616.77h0.01M233.68,618.98h0.01M226.49,615.22h0.01M225.82,606.22h0.01M231.07,607.67h0.01M226.75,595.34h0.01M240.19,617.89h0.01M256.59,557.61h0.01M233.94,599.31h0.01M229.77,612h0.01M246.6,592.86h0.01M222.25,583.7h0.01M259.17,552.04h0.01M208.49,589.73h0.01M253.83,570.37h0.01M235.04,565.57h0.01M235.34,585.87h0.01M242.92,564.28h0.01M215.52,603.89h0.01M221.19,603.05h0.01M282.01,590.19h0.01M221.91,617.64h0.01M234.52,606.5h0.01M220.34,599.19h0.01M250.78,581.23h0.01M226.57,580.46h0.01" stroke="#f07a2a" stroke-width="1.5" stroke-linecap="round" fill="none" opacity="1"/>
<path d="M303.37,600.26h0.01M260.74,608.18h0.01M293.2,572.07h0.01M296.15,592.67h0.01M246.77,585.84h0.01M259.76,620.04h0.01M267.57,596.18h0.01M279.89,624.29h0.01M281.52,637.89h0.01M287.96,562.06h0.01M294.5,597.8h0.01M297.55,614.56h0.01M287.21,582.1h0.01M291.37,624.45h0.01M300.24,579.96h0.01M273.77,591.63h0.01M267.54,617.21h0.01M281.85,585.43h0.01M272.93,588.13h0.01M286.61,575.34h0.01M243.72,629.65h0.01M275.49,614.71h0.01M285.04,580.03h0.01M247.14,632.6h0.01M289.68,597.64h0.01M293.57,614.83h0.01M278.74,592.08h0.01M274.55,628.15h0.01M285.14,593.06h0.01M252.43,625.3h0.01M277.29,611.72h0.01M246.2,632.98h0.01M295.64,585.77h0.01M281.86,581.36h0.01M281.55,588.03h0.01M281.99,622.18h0.01M253.27,636h0.01M250.51,635.99h0.01M262.9,599.08h0.01M292.89,626.49h0.01M259.23,585.71h0.01M304.36,599.53h0.01M302.39,606.3h0.01M276.73,582.29h0.01M290.09,610.58h0.01M278.84,629.86h0.01M293.66,581.57h0.01M254.32,620.68h0.01M301.89,600.65h0.01M256.71,594.3h0.01M270.96,613.93h0.01M275.86,622.08h0.01M292.84,588.58h0.01M301.15,565.94h0.01M291.13,573.03h0.01M307.25,589.48h0.01M282,608.5h0.01M233.17,609.75h0.01M264.41,565.85h0.01M291.99,607.26h0.01M291.5,626.41h0.01M289.73,558.35h0.01M262.91,594.14h0.01M252.72,616.71h0.01M271.89,614.65h0.01M276.76,608.89h0.01M277.41,571.12h0.01M303.39,614.61h0.01M292.12,618.68h0.01M292.01,592.27h0.01M277.11,639.29h0.01M273.99,636.75h0.01M299.19,577.34h0.01M285.56,608.2h0.01M291.4,614.38h0.01M240.48,573.25h0.01M226.78,622.35h0.01M284.7,606.37h0.01M288.96,636.69h0.01M266.06,635.96h0.01M277.36,556.14h0.01M272.29,638.45h0.01M296.6,573.06h0.01M300.31,581.84h0.01M283.7,565.45h0.01M273.34,639.45h0.01M273.04,614.72h0.01M238.49,620.87h0.01M290.72,581.27h0.01M251.68,599.32h0.01M272.09,637.17h0.01M301.3,592.59h0.01M280.78,593.57h0.01M257.47,576.88h0.01M254.22,597.29h0.01M298.2,589.43h0.01M282.48,633.72h0.01M277.42,598.61h0.01M301.58,582.3h0.01M260.6,588.03h0.01M289.88,569.26h0.01M269.27,624.02h0.01M298.19,580.71h0.01M309.28,594.49h0.01M286.06,627.76h0.01M268.3,638.45h0.01M295.14,597.64h0.01M303.35,573.48h0.01M302.92,570.18h0.01M273.04,616.81h0.01M289.61,620.86h0.01M282.76,602.85h0.01M297.87,599.75h0.01M300.62,584.41h0.01M274.42,600.41h0.01M258.71,574.87h0.01M251.76,633.4h0.01M284.74,612.23h0.01M297.46,611.65h0.01M273.87,598.39h0.01M288.2,562.84h0.01M253.38,606.39h0.01M281.32,614.64h0.01M267.29,579.58h0.01M288.15,598.77h0.01M278.66,625.43h0.01M289.89,613.73h0.01M280.68,638.55h0.01M285.63,585.29h0.01M276.99,553.64h0.01M290.71,619.52h0.01M303.93,601.26h0.01M274.09,638.33h0.01M278.85,634.24h0.01M291.92,597.15h0.01M256.64,635.65h0.01M247.71,591.84h0.01M249.21,616.2h0.01M277.95,600.15h0.01M289.98,610.26h0.01M274.84,617.18h0.01M287.79,628.63h0.01M290.09,626.05h0.01M290.71,566.9h0.01M288.92,564.43h0.01M240.4,621.09h0.01M279.81,568.96h0.01M282.36,604.11h0.01M260.51,609.41h0.01M272.16,563.27h0.01M281.27,569.55h0.01M215.57,608.24h0.01M296.97,614.13h0.01M265.22,597.47h0.01M286.41,575.94h0.01M284.38,608.01h0.01M288.38,558.63h0.01M256.87,594.22h0.01M299,582.07h0.01M255.9,589.96h0.01M271,598.27h0.01M288.87,625.46h0.01M270.88,621.47h0.01M306.33,580.19h0.01M302.73,572.23h0.01M289.6,565.91h0.01M283.44,571.15h0.01M287.1,589.67h0.01M257.82,609.2h0.01M246.74,617.64h0.01M281.08,590.8h0.01M303.99,607.38h0.01M259.92,618.48h0.01M276.28,614.72h0.01M306.83,591.43h0.01M274.44,634.31h0.01M237.36,627h0.01M239.46,588.97h0.01M296.07,627.47h0.01M286.9,617.55h0.01M287.02,567.87h0.01M296.64,564.91h0.01M294.62,588.58h0.01M252.43,594.11h0.01M265.24,555.97h0.01M248.54,615.05h0.01M298.35,603.17h0.01M304.81,581.75h0.01M287.15,621.59h0.01M259.13,590.84h0.01M302.19,583.08h0.01M296.7,630.52h0.01M266.11,636.26h0.01M263.23,602.97h0.01M266.77,631.06h0.01M306.24,607.97h0.01M279.8,557.85h0.01M302.86,593.96h0.01M249.61,602.75h0.01M294.89,606.57h0.01M286.7,626.89h0.01M297.92,571.91h0.01M303.15,569.98h0.01M291.58,630.28h0.01M293.03,583.63h0.01M284.74,595.44h0.01M239.17,610.04h0.01M287.85,622.28h0.01M270.93,630.67h0.01M285.63,611.43h0.01M250.91,624.2h0.01M248.23,608.03h0.01M263.67,602.84h0.01M306.04,603.83h0.01M274.47,594.84h0.01M283.88,586.64h0.01M266.2,612.05h0.01M276.5,616.81h0.01M309.14,590.88h0.01M292.32,571.15h0.01M244.61,611.58h0.01M261.98,578.22h0.01M285.07,564.76h0.01M233.37,625.77h0.01M304.92,573.99h0.01M264.8,636.45h0.01M256.58,610.24h0.01M306.37,585h0.01M263.62,620.12h0.01M281.18,619.86h0.01M283.89,561.67h0.01M302.12,567.45h0.01M257.09,617.39h0.01M260.14,621.69h0.01M299.71,581.66h0.01M280.33,629.2h0.01M286.23,576.33h0.01M265.28,589.04h0.01M261.64,604.69h0.01M300.06,567.56h0.01M278.15,634.02h0.01M285.98,580.38h0.01M259.17,629.09h0.01M254.99,613.81h0.01M281.38,614.61h0.01M272.7,621.57h0.01M282.6,564.89h0.01M306.42,608.13h0.01M286.89,627.44h0.01M260.52,595.94h0.01M291.44,565.85h0.01M286.11,613.86h0.01M281.84,559.73h0.01M284.36,619.37h0.01M272.69,592.99h0.01M292.82,603.61h0.01M249.02,604.28h0.01M299.21,611.6h0.01M302.04,603.03h0.01M299.74,604.14h0.01M283.57,583.11h0.01M274.31,587.3h0.01M302.09,602.83h0.01M249.3,624.99h0.01M285.71,614h0.01M280.59,609.08h0.01M287.7,570.61h0.01M268.97,605.14h0.01M300.42,622.62h0.01M276.5,605.55h0.01M271.99,609.59h0.01M300.54,610.72h0.01M302.49,621.63h0.01M266.02,615.27h0.01M261.66,624.74h0.01M303.27,618.68h0.01M280.35,634h0.01M273.26,633.7h0.01M279.16,620.91h0.01M262.87,630.82h0.01M306.32,592.13h0.01M271.67,597.34h0.01M301.46,601.15h0.01M242.97,617.3h0.01M275.74,605.58h0.01M302.05,613.49h0.01M286.95,622.58h0.01M278.2,599.92h0.01M261.65,616.27h0.01M256.02,600.23h0.01M289.69,572.62h0.01M246.43,627.55h0.01M274.4,608.67h0.01M281.05,624.71h0.01M267.2,634h0.01M282.92,601.03h0.01M272.37,613.72h0.01M296.29,621.95h0.01M301.38,580.07h0.01M300.73,611.01h0.01M289.15,590.89h0.01M263.94,620.77h0.01M242.11,612.44h0.01M300.21,617.57h0.01M252.54,594.54h0.01M288.85,635.59h0.01M292.48,593.43h0.01M291.89,624.72h0.01M282.32,611.54h0.01M267.83,632.92h0.01M299.89,622.24h0.01M303.42,617.05h0.01M283.56,555.56h0.01M265.91,588.61h0.01M239.23,619.39h0.01M288.07,620.71h0.01M270.33,618.73h0.01M258.92,629.21h0.01M256.23,631.54h0.01M286.21,587.2h0.01M238.79,605.46h0.01M264.23,629.59h0.01M274.53,620.29h0.01M275.92,617.75h0.01M301.72,568.41h0.01M272.27,634.47h0.01M258.64,618.76h0.01M279.76,594.56h0.01M303.93,603.35h0.01M290.32,559h0.01M234.29,626.51h0.01M270.71,632.42h0.01M246.94,589.29h0.01M261.23,628.72h0.01M273.56,625.64h0.01M278.67,593.82h0.01M287.88,580.9h0.01M301.83,569.16h0.01M261.91,628.64h0.01M235.64,624h0.01M296.47,583.42h0.01M300.58,587h0.01M281,597.76h0.01M280.11,587.14h0.01M296.16,563.57h0.01M280.24,559.78h0.01M257.02,608.2h0.01M283.8,571.02h0.01M267.93,602.39h0.01M283.74,557.77h0.01M247.56,604.78h0.01M248.53,632.2h0.01M287.32,593.4h0.01M280.07,640.42h0.01M283.04,638.72h0.01M295.87,622.11h0.01M236.8,623.34h0.01M234.73,613.63h0.01M294.78,596.58h0.01M301.36,611.67h0.01M295.13,584.4h0.01M266.51,581.46h0.01M292.76,618.7h0.01M274.85,588.29h0.01M288.57,604.24h0.01M278.99,603.16h0.01M285.59,560.56h0.01M280.42,615.66h0.01M291.95,567.21h0.01M305.99,612.39h0.01M296.72,584.46h0.01M284.89,627.99h0.01M264.15,607.71h0.01M268.64,564.97h0.01M248.51,630.4h0.01M237.61,613.62h0.01M242.12,619.38h0.01M229.77,616.56h0.01M265.56,607.53h0.01M299.43,622.8h0.01M293.37,575.71h0.01M257.58,627.18h0.01M265.85,639.31h0.01M290.49,607.82h0.01M292.47,629.36h0.01M291.84,624.88h0.01M300.16,563.46h0.01M291.09,557.76h0.01M264.62,635.25h0.01M292.45,634.68h0.01M245.8,613.86h0.01M266.81,625.72h0.01M283.79,633.36h0.01M306.89,593.64h0.01M260.42,634.3h0.01M282.86,585.59h0.01M294.29,581.71h0.01M238.16,624.59h0.01M269.1,627.4h0.01M296.56,564.77h0.01M304.88,584.08h0.01M307.16,605.11h0.01M278.14,553.1h0.01M239.4,590.45h0.01M304.24,596.32h0.01M301.58,576.05h0.01M288.62,634.78h0.01M274.75,629.63h0.01M289.2,631.06h0.01M273.43,633.01h0.01M284.16,604.87h0.01M287.88,603.73h0.01M230.62,621.28h0.01M295.47,617.04h0.01M287.61,553.66h0.01M280.41,630.07h0.01M269.16,597.73h0.01M253.18,620.23h0.01M297.87,595.99h0.01M293.69,614h0.01M251.15,632.47h0.01M279.61,571.58h0.01M239.62,621.56h0.01M276.05,626.17h0.01M298.26,561.01h0.01M267.37,630.65h0.01M241.27,597.77h0.01M248.56,592.72h0.01M288.01,571.3h0.01M257.61,604.72h0.01M284.16,579.19h0.01M251.49,627.42h0.01M304.34,571.05h0.01M284.91,607.29h0.01M252.15,635.38h0.01M283.88,572.14h0.01M290.55,602.76h0.01M307.62,582.43h0.01M251.49,635.82h0.01M269.1,621.13h0.01M267.36,553.72h0.01M272.24,633.14h0.01M286.98,582.8h0.01M305.41,594.6h0.01M241.03,607.51h0.01M251.65,616.05h0.01M290.87,555.77h0.01M267.85,592.21h0.01M290.69,612.79h0.01M248.47,616.78h0.01M306.95,609.12h0.01M259.86,631.04h0.01M299.78,567.77h0.01M294.13,579.9h0.01M259.34,634.2h0.01M227.69,610.02h0.01M289.62,600.69h0.01M266.68,555.86h0.01M242.47,609.33h0.01M272.55,595.37h0.01M294.5,631.93h0.01M304.89,615.93h0.01M296,591.16h0.01M278.13,593.24h0.01M293.18,590.8h0.01M299.67,570.66h0.01M281.61,576h0.01M281.3,598.76h0.01M262.51,587.19h0.01M281.95,636.87h0.01M292.29,587.62h0.01M299.1,622.21h0.01M259.9,612.62h0.01M258.31,550.86h0.01M307.97,587.87h0.01M302.39,593.47h0.01M260.21,628.8h0.01M274.11,591.37h0.01M288.29,591.79h0.01M284.74,631.28h0.01M268.69,624.12h0.01M274.46,616.88h0.01M258.77,601.96h0.01M256.66,618.49h0.01M280.13,605.73h0.01M253.99,555.23h0.01M254.91,606.27h0.01M290.41,632.6h0.01M292.65,634.19h0.01M286.01,625.07h0.01M267.46,629.85h0.01M303.8,586.26h0.01M242.86,621.58h0.01M262.21,610.87h0.01M297.72,605.56h0.01M248.93,571.78h0.01M268.8,553.68h0.01M285.94,583.58h0.01M298.89,613.07h0.01M275.74,624.39h0.01M301.21,592.18h0.01M264.51,608.87h0.01M273.96,589.83h0.01M295.57,590.42h0.01M285.06,628.34h0.01M253.79,602.37h0.01M283.69,583.72h0.01M285.91,624.83h0.01M278.79,636.76h0.01M306.89,593.87h0.01M267.25,598.97h0.01M247.17,598.88h0.01M297.26,594.53h0.01M303.82,600.73h0.01M283.24,581.06h0.01M274.67,604.17h0.01M273.62,628.5h0.01M302.47,577.43h0.01M271.35,596.38h0.01M285.15,607.44h0.01M297.88,603.32h0.01M290.22,589.58h0.01M295.68,613.36h0.01M264.05,634.01h0.01M264.3,614.7h0.01M270.16,576.68h0.01M238.29,610.48h0.01M296.66,579.03h0.01M260.84,611.41h0.01M284.83,583.4h0.01M273.24,604.03h0.01M284.99,625.04h0.01M289.81,614.55h0.01M296.55,605.17h0.01M291.96,591.22h0.01M282.62,557.18h0.01M257.59,587.86h0.01M292.78,587h0.01M266.89,637.65h0.01M228.51,603.34h0.01M259.38,623.5h0.01M306.24,586.54h0.01M288.63,561.24h0.01M300.12,594.2h0.01M297.38,621.66h0.01M292.54,564.22h0.01M251.91,626.09h0.01M253.4,626.2h0.01M266.91,625.06h0.01M289.04,558.75h0.01M251.64,620.02h0.01M276.79,582.73h0.01M292.63,588.58h0.01M278.27,597.49h0.01M267.53,592.38h0.01M247.17,623.69h0.01M277.53,583.05h0.01M297.84,621.83h0.01M299.41,581.93h0.01M300.1,590.16h0.01M281.59,566.95h0.01M303.6,587.11h0.01M259.42,603.05h0.01M305.06,575.8h0.01M263.45,616.92h0.01M286.59,600h0.01M294.43,570.53h0.01M295.25,599.11h0.01M309.17,587.09h0.01M257.76,619.64h0.01M294.94,586.22h0.01M292.47,570.39h0.01M290.04,579.79h0.01M298.48,585.26h0.01M283.94,600.3h0.01M257.56,607.93h0.01M267.9,600.21h0.01M304.52,575.46h0.01M299.28,600.81h0.01M271.59,636.99h0.01M287.52,574.47h0.01M307,580.57h0.01M304.12,573.1h0.01M247.75,626.03h0.01M293.2,595.61h0.01M292.81,562.3h0.01M264.93,634.97h0.01M298.46,575.28h0.01M300.64,621.81h0.01M283.19,621.7h0.01M252.67,630.74h0.01M272.63,582.02h0.01M261.25,579.81h0.01M255.17,604.77h0.01M241.9,617h0.01M295.76,566.36h0.01M286.74,621.79h0.01M293.9,624.33h0.01M276.73,586.69h0.01M290.02,592.06h0.01M306.77,577.13h0.01M253.99,591.71h0.01M279.71,608.35h0.01M291.43,589.7h0.01M247.61,616.45h0.01M308.79,581.61h0.01M288.7,612.93h0.01M277.59,609.85h0.01M291.2,586.1h0.01M264.36,637.42h0.01M265.99,596.28h0.01M297.86,595.95h0.01M254.02,608.55h0.01M265.39,625.86h0.01M265.79,623.6h0.01M260.5,595.79h0.01M299.21,590.77h0.01M274.73,600.85h0.01M277.31,625.56h0.01M265.33,589.87h0.01M291.39,565.24h0.01M267.41,581.68h0.01M291.26,573.54h0.01M301.55,571.32h0.01M262.2,611.35h0.01M278.59,612.42h0.01M267.71,631.76h0.01M249.97,578.63h0.01M229.92,617.38h0.01M291.6,622.23h0.01M288.62,573.84h0.01M297.35,569.59h0.01M264.64,553.23h0.01M301.88,593.06h0.01M294.94,558.74h0.01M286.17,553.6h0.01M269.43,601.21h0.01M258.13,593.12h0.01M304.88,590.88h0.01M269.07,637h0.01M258.01,589.93h0.01M266.66,634.99h0.01M274.96,561.46h0.01M275.31,603.92h0.01M279.76,564.49h0.01M241.07,621.05h0.01M285.05,617.36h0.01M288.74,586.34h0.01M251.56,577.32h0.01M302.95,588.25h0.01M266.17,586.73h0.01M263.21,625.34h0.01M282.63,554.62h0.01M285.32,586.65h0.01M294.46,590.15h0.01M291.05,627.28h0.01M245.74,618.73h0.01M303.69,610.28h0.01M299.73,601.04h0.01M238.06,602.44h0.01M262.36,606.97h0.01M244.56,624.15h0.01M293.34,596.13h0.01M279.75,552.55h0.01M304.45,598.54h0.01M291.28,608.95h0.01M258.37,605.62h0.01M299.78,591.14h0.01M285.54,580.62h0.01M265.45,598.55h0.01M294.25,570.32h0.01M272.7,587.81h0.01M304.87,613.4h0.01M303.54,604.74h0.01M283.97,630.95h0.01M287.66,620.06h0.01M254.17,619.66h0.01M303.76,614.3h0.01M270.11,618.39h0.01M240.08,628h0.01M295.7,629.23h0.01M289.8,598.29h0.01M247.14,577.68h0.01M239.27,630.46h0.01M275.36,619.14h0.01M271.26,626.12h0.01M278.75,575.43h0.01M262.71,616.39h0.01M244.61,633.5h0.01M293.54,601.15h0.01M296.11,609.53h0.01M267.28,634.19h0.01M274.63,602.4h0.01M253.6,628.72h0.01M253.82,620.59h0.01M295.03,607.29h0.01M283.72,636.34h0.01M263.11,582.61h0.01M299.18,577.58h0.01M266.78,608.56h0.01M248.97,617.82h0.01M257.89,588.46h0.01M270.21,583.07h0.01M281.82,632.52h0.01M299.66,576.62h0.01M305.85,585.17h0.01M281.74,608.17h0.01M297.31,590.41h0.01M249.92,635.47h0.01M294.98,596.91h0.01M285.34,605.16h0.01M289.52,586.9h0.01M237.49,592.07h0.01M227.27,619.03h0.01M275.84,625.11h0.01M261.49,589.58h0.01M290.03,565.86h0.01M294.1,568.96h0.01M263.42,637.22h0.01M278.64,604.85h0.01M256.22,626.61h0.01M304.41,574.07h0.01M295.23,571.15h0.01M270.56,570.24h0.01M246.65,606.63h0.01M267.99,626.31h0.01M301.93,611.84h0.01M304.53,609.5h0.01M275.82,598.07h0.01M302.21,571.12h0.01M281.17,573.05h0.01M297.13,610.1h0.01M260.96,611.54h0.01M276.86,557.89h0.01M291.98,597.76h0.01M284.24,594.58h0.01M286.4,615.38h0.01M273.32,576.26h0.01M266.13,611.25h0.01M288.28,602.78h0.01M297.82,578.61h0.01M278.82,592.98h0.01M267.67,575.57h0.01M281.22,610.17h0.01M246.24,628.82h0.01M269.09,633.9h0.01M292.62,634.9h0.01M261.26,591.99h0.01M255.02,627.26h0.01M279.4,553.07h0.01M294.22,631.84h0.01M294.93,613.56h0.01M302.85,582.19h0.01M261.75,580.7h0.01M285.34,596.36h0.01M271.03,599.93h0.01M308.86,579.67h0.01M303.22,585.89h0.01M291.14,635.58h0.01M247.88,589.49h0.01M275.02,621.11h0.01M302.67,618.07h0.01M281.04,567.98h0.01M271.83,574.15h0.01M273.15,615.3h0.01M298.5,608.72h0.01M292.22,618.13h0.01M300.44,569.5h0.01M292.57,621.64h0.01M288.38,622.11h0.01M243.7,618.72h0.01M285.52,565.53h0.01M273.53,574.88h0.01M283.67,594.02h0.01M298.87,625.49h0.01M288.86,618.24h0.01M279.43,625.26h0.01M264.02,608.85h0.01M246.71,607.76h0.01M280.08,574.55h0.01M300.35,595.64h0.01M277.31,596.63h0.01M286.78,572.84h0.01M279.62,638.06h0.01M269.74,623.02h0.01M272.15,566.5h0.01M283.29,603.05h0.01M256.56,573.28h0.01M265.18,633.25h0.01M279.77,558.42h0.01M261.27,616.37h0.01M254.38,619.31h0.01M265.61,619.19h0.01M239.6,619.25h0.01M272.14,629.65h0.01M274.31,611.93h0.01M285.66,624.88h0.01M276.96,637.87h0.01M299.19,574.19h0.01M274.86,616.73h0.01M301.26,625.19h0.01M302.83,605.02h0.01M303.63,579.8h0.01M238.04,624.81h0.01M293.18,558.62h0.01M293.68,557.81h0.01M272.19,561.74h0.01M273.59,599.62h0.01M263.55,615.79h0.01M274.38,585.81h0.01M258.4,593.95h0.01M245.7,621.4h0.01M261.27,612.88h0.01M304.96,596.94h0.01M270.12,605.03h0.01M293.23,586.85h0.01M294.17,615.04h0.01M253.4,586.4h0.01M244.81,574.62h0.01M289.81,632.92h0.01M273.69,560.77h0.01M269.17,623.08h0.01M239.12,614.12h0.01M297.96,614.1h0.01M271.4,619.71h0.01M295.6,586.04h0.01M279.83,575.21h0.01M307.94,603.13h0.01M297.9,618.51h0.01M285.39,552.99h0.01M281.46,603.29h0.01M278.31,595.89h0.01M283.73,601.32h0.01M297.59,562.52h0.01M252.62,606.91h0.01M291.16,620.34h0.01M272.86,621.32h0.01M266.3,636.76h0.01M247.8,596.18h0.01M278.28,596.28h0.01M269.94,583.44h0.01M300.82,619.36h0.01M299.86,617.95h0.01M250.98,611.95h0.01M296.08,564.59h0.01M275.63,608.59h0.01M282.61,553.56h0.01M248.34,635.18h0.01M293.11,588.46h0.01M257.7,585.58h0.01M241.34,623.52h0.01M267.71,571.69h0.01M297.26,571.74h0.01M268.3,576.5h0.01M300.95,567h0.01M302.46,622.57h0.01M277.44,602.28h0.01M275.68,594.35h0.01M265.07,600.36h0.01M256.78,630.64h0.01M269.43,626.43h0.01M282.36,627.37h0.01M292.19,628.62h0.01M239.65,624.19h0.01M267.32,610.71h0.01M296.16,601.07h0.01M299.5,618.59h0.01M274.62,567.83h0.01M236.52,613.37h0.01M246.75,627.33h0.01M279.32,571.48h0.01M289.24,557.67h0.01M280.05,580.18h0.01M280.2,607.27h0.01M265.02,612.86h0.01M268.54,638.93h0.01M303.91,611.16h0.01M303.82,570.31h0.01M245.78,568.69h0.01M259.23,616.3h0.01M295.83,620.03h0.01M268.46,636.4h0.01M294.83,631.68h0.01M285.4,632.47h0.01M273.04,565.69h0.01M282.63,630.23h0.01M291.15,598.96h0.01M273.75,622.43h0.01M296.47,559.62h0.01M298.49,624.12h0.01M303.47,601.77h0.01M285.52,561.14h0.01M271.15,617.94h0.01M290.66,568.16h0.01M270.5,602.62h0.01M294.68,608.19h0.01M264.41,626.55h0.01M280.03,615.5h0.01M289.47,578.12h0.01M256.46,633.63h0.01M302.17,602.57h0.01M286.98,622.9h0.01M280.19,554.86h0.01M270.49,624.74h0.01M303.45,592.81h0.01M246.66,633.55h0.01M303.11,593.94h0.01M242.53,601.09h0.01M306.77,579.97h0.01M236.83,614.77h0.01M261.42,638.95h0.01M259.43,629.51h0.01M256.9,627.65h0.01M278.87,609.9h0.01M290.92,558.92h0.01M282.18,602.24h0.01M236.32,610.43h0.01M281.01,590.98h0.01M265.52,632.45h0.01M290.88,603.88h0.01M303.2,611.63h0.01M293.19,561.9h0.01M226.6,614.47h0.01M261.87,638.15h0.01M239.82,630.04h0.01M252.01,607.92h0.01M285.77,593.65h0.01M294.73,587.91h0.01M280.55,581.38h0.01M274.84,589.95h0.01M248.79,567.8h0.01M250.16,611.75h0.01M288.74,562.83h0.01M288.58,628.66h0.01M264.61,605.82h0.01M297.78,607.64h0.01M261.81,587.31h0.01M251.69,599.31h0.01M279.14,576.54h0.01M282.72,573.56h0.01M280.95,635.96h0.01M276.53,580.44h0.01M274.16,563.09h0.01M294.23,622.72h0.01M290.96,616.88h0.01M261.36,581.91h0.01M303.69,612.16h0.01M273.54,631.39h0.01M279.56,614.51h0.01M269.55,638.9h0.01M268.06,622.27h0.01M293.73,601.81h0.01M273.97,627.86h0.01M269.49,627.11h0.01M282.38,563.06h0.01M267.65,634.62h0.01M285.81,635.41h0.01M270.66,613.9h0.01M270.46,636.03h0.01M284.87,596.41h0.01M250.27,624h0.01M287.24,622.54h0.01M281.91,579.87h0.01M301.91,619.26h0.01M304.51,599.24h0.01M283.15,556.66h0.01M253.78,581.55h0.01M306.39,579.54h0.01M287.29,595.23h0.01M273.99,582.76h0.01M265.82,615.06h0.01M276.47,550.48h0.01M296.92,565.68h0.01M293.89,599.26h0.01M298.91,626.22h0.01M304.91,588.53h0.01M283,596.33h0.01M230.42,596.91h0.01M271.88,619.95h0.01M301.48,618.36h0.01M287.18,593.67h0.01M285.79,554.02h0.01M272.03,622.24h0.01M254.99,588.39h0.01M267.88,634.17h0.01M304.27,597.13h0.01M246.88,597.78h0.01M278.62,605.57h0.01M297.6,611.44h0.01M259.53,630.44h0.01M291.81,569.66h0.01M285.02,627.9h0.01M281.18,594.81h0.01M308.91,597.26h0.01M269.68,585.63h0.01M271.81,623.33h0.01M299.73,596.94h0.01M296.08,623.73h0.01M267.02,575.36h0.01M296.52,617.5h0.01M266.52,585.93h0.01M277.42,630.56h0.01M287.28,608.76h0.01M280,585.84h0.01M277.55,600.85h0.01M264.19,614.16h0.01M294.74,621.55h0.01M277.09,606.98h0.01M256.92,626.1h0.01M275.05,597.9h0.01M282.39,586.11h0.01M285.99,634.57h0.01M280.95,639.56h0.01M258.1,592.82h0.01M289.89,627.42h0.01M271.36,595.9h0.01M269.43,596.53h0.01M271.14,575.91h0.01M301.77,574.87h0.01M295.49,604.86h0.01M254.31,595h0.01M259.95,619.74h0.01M303.13,581.65h0.01M245.07,626.92h0.01M251.59,633.24h0.01M275.58,607.16h0.01M290.09,585.37h0.01M301.7,614.79h0.01M259.7,613.32h0.01M276.23,557.43h0.01M290.19,571.45h0.01M280.52,565.2h0.01M293.75,601.77h0.01M270.74,621.66h0.01M288.67,569.26h0.01M293.44,577.25h0.01M263.77,625.8h0.01M266.73,628.69h0.01M271.39,590.39h0.01M275.89,633.11h0.01M260.29,603.51h0.01M296.72,620.16h0.01M267.79,568.72h0.01M270.44,603.01h0.01M248.4,599.99h0.01M263.75,639.13h0.01M282.46,594.46h0.01M258.37,555.46h0.01M241.63,613.17h0.01M268.53,628.99h0.01M280.67,586.33h0.01M250.94,611.16h0.01M279.52,612.56h0.01M272.95,596.87h0.01M260.94,625.19h0.01M303.81,568.1h0.01M296.49,566.65h0.01M304.35,581.45h0.01M256.44,623.97h0.01M269.53,573.5h0.01M256.52,610.47h0.01M276.17,550.96h0.01M277.66,616.17h0.01M269.69,637.8h0.01M228.01,618.96h0.01M283.02,574.39h0.01M249.41,593.54h0.01M262.12,581.16h0.01M263.82,605.21h0.01M269.2,583.56h0.01M248.93,582.33h0.01M283.62,573h0.01M278.47,639h0.01M291.94,604.47h0.01M300.55,581.38h0.01M271.65,610.65h0.01M293.12,626.85h0.01M293.79,580.89h0.01M279.64,616.84h0.01M285.13,558.97h0.01M289.75,592.32h0.01M259.25,591.31h0.01M272.82,595.75h0.01M277.74,621.13h0.01M276.13,611.42h0.01M301.81,624.87h0.01M258.87,635.79h0.01M263.29,630.87h0.01M255.91,586.57h0.01M294.61,565.16h0.01M269.86,588.47h0.01M288.42,616.09h0.01M263.7,617.51h0.01M232.57,622.42h0.01M277.4,617.71h0.01M299.87,596.95h0.01M246.65,607.13h0.01M286.05,557.8h0.01M276.56,610.38h0.01M301.16,612.57h0.01M277.32,616.63h0.01M277.32,599.82h0.01M268.15,608.19h0.01M278.62,631.47h0.01M251.72,596.37h0.01M290.97,555.45h0.01M277.94,558.22h0.01M295.14,571.53h0.01M229.73,617.71h0.01M252.49,598.48h0.01M288.86,615.43h0.01M247.48,618.17h0.01M302.29,567.51h0.01M245.07,624.06h0.01M262.8,579.36h0.01M240.61,630.76h0.01M300.6,566.45h0.01M290.06,591.76h0.01M275.46,621.16h0.01M259.36,626.23h0.01M275.07,594.57h0.01M275.77,558.13h0.01M287.11,592.24h0.01M268.55,597.94h0.01M282.06,627.04h0.01M251.9,632.62h0.01M243.47,628.42h0.01M273.42,578.38h0.01M296.43,566.04h0.01M272.96,601.07h0.01M255.02,604.37h0.01M286.02,590.73h0.01M297.98,603.2h0.01M225.15,608.25h0.01M289.91,624.1h0.01M271.66,631.71h0.01M294.43,592.84h0.01M243,628.91h0.01M270.36,605.12h0.01M253.96,616.71h0.01M242.4,611.74h0.01M272.33,566.87h0.01M255.92,604.77h0.01M262.32,610.41h0.01M286.61,617.01h0.01M292.26,610.2h0.01M247.41,628.44h0.01M282.23,629.5h0.01M304.39,605.42h0.01M253.37,627.4h0.01M242.54,622.58h0.01M289.39,596.57h0.01M268.26,633.26h0.01M280.17,632.44h0.01M269.59,606.63h0.01M289.74,602.91h0.01M300.88,580.04h0.01M280.56,589.44h0.01M291.2,560.23h0.01M270.69,600.58h0.01M281.59,605.88h0.01M301.12,569.89h0.01M293.08,613.06h0.01M265.86,571.44h0.01M287.14,562.58h0.01M293.39,615.45h0.01M273.75,639.01h0.01M255.12,637.25h0.01M284.05,609.66h0.01M271.21,622.25h0.01M270.87,611.3h0.01M242.98,609.9h0.01M269.99,582.6h0.01M259.26,592.68h0.01M266.42,584.8h0.01M293.65,559.54h0.01M297.98,614.07h0.01M249.95,595.26h0.01M293.84,586.93h0.01M267.1,639.01h0.01M258.07,624.99h0.01M300.7,616.11h0.01M262.01,635.31h0.01M295.91,607.32h0.01M272.73,629.33h0.01M286.04,556.33h0.01M305.44,592.87h0.01M290.37,629.4h0.01M302.47,611.56h0.01M303.22,587.52h0.01M296.31,563h0.01M281.03,561.64h0.01M282.87,621.69h0.01M285.22,616.96h0.01M259.81,635.3h0.01M277.27,596.64h0.01M281.52,573.09h0.01M235.4,603.01h0.01M273.42,626.49h0.01M286.22,554.49h0.01M275.49,593.29h0.01M281.93,577.87h0.01M306.21,601.51h0.01M303.41,602.42h0.01M305.87,589.73h0.01M252.44,609.38h0.01M277.08,615.09h0.01M237.77,610.42h0.01M308.58,587.18h0.01M259.96,609.3h0.01M251.13,616.87h0.01M278.41,589.76h0.01M287.95,580.14h0.01M302.51,597.47h0.01M275.03,639.85h0.01M278.25,625.22h0.01M308.85,593.14h0.01M257.7,597.33h0.01M254.26,607.19h0.01M267.68,622.49h0.01M272.77,555.15h0.01M306.41,599.35h0.01M259.91,612.05h0.01M285.73,594.02h0.01M284.1,626.2h0.01M253.64,582.96h0.01M295.32,603.03h0.01M291.47,592.98h0.01M302.62,618.06h0.01M270.81,622.62h0.01M250.63,603.05h0.01M291.12,621.15h0.01M252.96,626.55h0.01M302.03,608.71h0.01M276.96,574.16h0.01M301.38,604.85h0.01M303.45,609.9h0.01M282.5,562.19h0.01M295.98,620.28h0.01M292.67,632.27h0.01M290.02,560.05h0.01M274.75,587.34h0.01M298.84,621.67h0.01M251.43,611.45h0.01M292.56,600.65h0.01M290.51,600.58h0.01M306.78,582.36h0.01M282.75,563.2h0.01M274.15,575.53h0.01M270.49,585.42h0.01M264.68,588.66h0.01M287.93,621.43h0.01M276.88,628.27h0.01M233.55,614.74h0.01M274.19,576.8h0.01M279.49,632.23h0.01M296.75,604.67h0.01M272.12,605.94h0.01M280.07,563.16h0.01M303.08,576.97h0.01M266.25,612.1h0.01M284.45,566.08h0.01M293.85,557.37h0.01M288.02,628.21h0.01M254.65,634.38h0.01M297.81,611.13h0.01M260,629.73h0.01M289.26,589.74h0.01M255.61,588.85h0.01M229.72,599.79h0.01M251.51,596.66h0.01M280.72,593.86h0.01M297.31,625.42h0.01M266.3,556.02h0.01M277.64,632.01h0.01M224.05,602.8h0.01M280.03,590.73h0.01M276.54,631.08h0.01M254.64,629.46h0.01M284.43,563.01h0.01M274.95,575.18h0.01M289.18,632.3h0.01M302.12,598.95h0.01M301.79,608.53h0.01M299.13,607.15h0.01M250.66,587.99h0.01M295.84,619.05h0.01M261.34,626.31h0.01M306.47,578.54h0.01M280.82,611.87h0.01M288.44,600.23h0.01M293.76,569.18h0.01M271.38,637.48h0.01M270.88,576.28h0.01M283.92,632.28h0.01M253,633.68h0.01M255.92,616.52h0.01M279.73,636.13h0.01M298.35,569.2h0.01M250.4,607.27h0.01M279.42,550.61h0.01M258.67,599.32h0.01M305.4,587.36h0.01M287.25,566.32h0.01M286.6,628.42h0.01M266.36,597.75h0.01M306.8,584.23h0.01M290.21,555.11h0.01M291.91,575.83h0.01M259.13,633.54h0.01M289.5,599.2h0.01M279.6,581.74h0.01M266.67,615.35h0.01M242.99,630.21h0.01M292.75,622.71h0.01M260.62,636.64h0.01M289.83,602.25h0.01M249.09,612.66h0.01M281.83,572.74h0.01M255.94,624.49h0.01M289.09,629.63h0.01M279.74,559.95h0.01M296.51,572.35h0.01M287.36,613.72h0.01M303.84,578.81h0.01M291.79,565.05h0.01M290.69,598.63h0.01M283.1,616.18h0.01M298.98,628.36h0.01M258.09,581.32h0.01M231.82,623.05h0.01M279.3,576.75h0.01M272.25,579.49h0.01M276.55,608.38h0.01M283.72,601.25h0.01M297,611.09h0.01M261.4,634.33h0.01M302.75,610.47h0.01M264.76,580.84h0.01M304.03,583.57h0.01M240.1,631.33h0.01M256.09,612.24h0.01M262.02,635.16h0.01M303.33,577.6h0.01M257.42,634.29h0.01M274.23,585.06h0.01M308.29,585.5h0.01M288.65,563.54h0.01M300.05,592.2h0.01M278.33,621.76h0.01M287.48,569.83h0.01M282.97,563.32h0.01M301.83,602.38h0.01M293.28,560.56h0.01M300.55,583.05h0.01M271.36,631.55h0.01M253.13,634.82h0.01M283.89,599.64h0.01M271.42,593.99h0.01M278.62,550.32h0.01M275.84,575.85h0.01M260.2,603.45h0.01M280.88,597.11h0.01M271.04,617.31h0.01M302.73,581.34h0.01M264.9,571.87h0.01M245.21,630.98h0.01M290.41,596.76h0.01M287.46,586.5h0.01M287.57,563.48h0.01M293.08,567.17h0.01M257.99,630.35h0.01M282.58,606.94h0.01M275.56,550.99h0.01M296.65,591.56h0.01M273.42,632.64h0.01M281.37,580.47h0.01M306.66,599.14h0.01M296.81,613.22h0.01M251.41,606.45h0.01M290.19,622.96h0.01M270.19,590.51h0.01M300.07,615.16h0.01M299.56,589.8h0.01M284.21,612.78h0.01M289.94,597.12h0.01M293.86,598.44h0.01M287.9,591.55h0.01M288.48,623.67h0.01M283.66,622.2h0.01M242.67,606.53h0.01M296.11,615.31h0.01M271.17,633.48h0.01M266.79,629.65h0.01M263.44,612.9h0.01M257.15,629.77h0.01M271.33,618.3h0.01M282.54,570.98h0.01M280.96,554.51h0.01M247.22,594.67h0.01M299.44,627.11h0.01M283.96,587.52h0.01M301.99,608.68h0.01M279.48,609.8h0.01M249.01,587.75h0.01M278.26,635.51h0.01M291.96,603.74h0.01M265.77,626.91h0.01M293.45,613.82h0.01M277.97,567.6h0.01M246.56,613.54h0.01M226.08,602.23h0.01M256.16,620.69h0.01M257.64,637.53h0.01M278.18,630.95h0.01M272.36,569.63h0.01M245.1,623.92h0.01M295.51,574.35h0.01M292.08,562.88h0.01M280.92,636.32h0.01M298.46,574.98h0.01M261.23,615.32h0.01M283.33,573.54h0.01M281.79,606.6h0.01M299.48,574.21h0.01M284.29,612.9h0.01M295.22,596.13h0.01M274.36,622.28h0.01M292.86,602.38h0.01M296.13,580.87h0.01M291.42,557.59h0.01M275.49,566.93h0.01M295.98,579.21h0.01M297.3,597.45h0.01M277.48,586.35h0.01M299.78,627.22h0.01M228.98,612.84h0.01M262.2,578.28h0.01M306.59,582.77h0.01M299.71,606.21h0.01M294.9,581.43h0.01M294.83,616.13h0.01M236.38,584.8h0.01M262.06,602.55h0.01M279.3,610.21h0.01M283.18,610.64h0.01M306.82,579.68h0.01M304.55,605.52h0.01M284.84,559.58h0.01M281.74,623.62h0.01M244.81,620.47h0.01M288.46,569.64h0.01M292.74,587.39h0.01M262.78,603.11h0.01M281.56,622.88h0.01M287.26,582.21h0.01M270.25,621.06h0.01M283.52,619.39h0.01M247.3,612.84h0.01M301.46,592.28h0.01M287.31,629.1h0.01M250.12,581.33h0.01M300.07,569.48h0.01M306.88,587.14h0.01M280.99,611.34h0.01M279.22,562.8h0.01M268.37,560.66h0.01M244.47,616.03h0.01M281.36,616.52h0.01M306.78,607.1h0.01M304.97,615.46h0.01M279.06,553.86h0.01M260.76,633.22h0.01M248.04,633.47h0.01M297.66,613.37h0.01M270.31,603.44h0.01M298.69,627.47h0.01M273.47,634.17h0.01M303.37,588.3h0.01M303.16,595.4h0.01M270.95,613.04h0.01M290.45,602.05h0.01M294.64,577.67h0.01M269.61,612.59h0.01M268.2,638.96h0.01M257.88,594.98h0.01M306.07,580.26h0.01M281.72,623.31h0.01M262.25,630.7h0.01M245.66,600.27h0.01M229.29,609.59h0.01M292.06,627.32h0.01M292.91,581.21h0.01M287.85,575.28h0.01M280.98,604.53h0.01M270.31,576.89h0.01M293.2,600.06h0.01M288.49,603.58h0.01M280.08,618.45h0.01M252.12,572.93h0.01M255.96,587.91h0.01M303.23,602.06h0.01M283.13,607.38h0.01M295.1,623.39h0.01M256.65,636.96h0.01M263.44,601.47h0.01M294.97,629.36h0.01M259.24,621.6h0.01M286.66,613.86h0.01M261.19,633.31h0.01M263.17,605.15h0.01M253.53,605.65h0.01M257.8,610.13h0.01M290.96,569.36h0.01M305.9,576.12h0.01M285.07,597.79h0.01M283.55,600.49h0.01M306.24,604.66h0.01M287.83,618.43h0.01M302.14,584.08h0.01M282.17,637.54h0.01M292.8,575.75h0.01M258.86,618.56h0.01M234.21,618.46h0.01M293.22,597.49h0.01M300.95,606.56h0.01M285.54,582.89h0.01M278.98,612.29h0.01M289.07,602.57h0.01M291.99,561.17h0.01M292.79,607.32h0.01M261.59,581.16h0.01M279.32,556.15h0.01M284.97,612.93h0.01M268.78,552.91h0.01M269.06,623.62h0.01M243.5,574.06h0.01M297.79,614.37h0.01M293.63,614.9h0.01M289.53,603.48h0.01M277.88,618.55h0.01M289.98,608.22h0.01M284.17,612.78h0.01M277.15,584.34h0.01M297.17,605.4h0.01M252.82,636.37h0.01M267.49,612.13h0.01M270.33,567.04h0.01M274.75,587.75h0.01M232.12,622.34h0.01M292.26,629.14h0.01M268.17,611.37h0.01M257.12,622.84h0.01M268.05,554.24h0.01M267.33,619.67h0.01M265.94,630.02h0.01M277.05,562.12h0.01M263.66,604.86h0.01M299.35,620.78h0.01M272.64,607.98h0.01M291.39,632.61h0.01M276.27,569.95h0.01M293.92,558.45h0.01M278.36,611.65h0.01M287.12,594.31h0.01M282.19,565.22h0.01M250.27,618.4h0.01M301.41,566.54h0.01M253.47,621.02h0.01M264.88,614.73h0.01M308.35,593.3h0.01M298.44,571.54h0.01M262.47,623.86h0.01M279.42,635.17h0.01M300.94,571.85h0.01M262.59,622.2h0.01M264.53,635.48h0.01M266.37,634.34h0.01M295.19,559.36h0.01M261.68,590.22h0.01M285.18,579.78h0.01M268.43,632.14h0.01M294.23,588.11h0.01M304.91,571.45h0.01M292.89,593.93h0.01M289.59,586.58h0.01M284.09,617.93h0.01M288.31,605.14h0.01M294.36,591.03h0.01M287.89,575.67h0.01M290.01,625.27h0.01M281.9,621.92h0.01M286.65,608.91h0.01M277.28,616.66h0.01M286.06,586.7h0.01M258.85,631.84h0.01M262.58,607.03h0.01M299.83,618.02h0.01M264.95,591.44h0.01M292.01,556.72h0.01M282.86,587h0.01M294.4,608.14h0.01M306.17,603.91h0.01M275.21,621.28h0.01M265.41,596.86h0.01M279.36,598.18h0.01M303.06,587.16h0.01M290.73,634.54h0.01M252.48,620.49h0.01M265.18,627.56h0.01M241.47,618.1h0.01M259.01,636.16h0.01M260.64,614.61h0.01M294.68,602.54h0.01M285.2,612.97h0.01M288.13,610.68h0.01M265.3,580.03h0.01M278.83,603.57h0.01M263.77,610.46h0.01M269.27,607.06h0.01M304.22,598.58h0.01M281,558.77h0.01M269.8,634.96h0.01M286.82,623.07h0.01M296.12,613.48h0.01M292.61,592.43h0.01M261.48,618.22h0.01M279.08,578.3h0.01M291.99,576.88h0.01M290.46,629.43h0.01M301.88,567.7h0.01M284.66,631.7h0.01M277.96,585.81h0.01M307.1,592.36h0.01M254.21,633.95h0.01M305.14,576.46h0.01M283.39,616.13h0.01M275.85,589.15h0.01M287.51,620.54h0.01M295.31,605.19h0.01M286.3,633.9h0.01M291.66,580.81h0.01M254.11,615.72h0.01M268.61,569.75h0.01M252.39,589.81h0.01M292.91,618.79h0.01M298.18,624.93h0.01M260.43,631.74h0.01M282.44,573.95h0.01M270.19,572.48h0.01M275.76,616.95h0.01M297.94,618.89h0.01M291.34,559.32h0.01M263.22,629.78h0.01M288.73,626.3h0.01M243.94,606.63h0.01M253.77,579.11h0.01M295.8,593.41h0.01M268.17,600.21h0.01M281.89,621.1h0.01M274.09,577.07h0.01M264.98,633.94h0.01M291.63,625.52h0.01M241.52,616.4h0.01M280.66,635.26h0.01M242.54,631.81h0.01M251.6,633.74h0.01M266.4,626.7h0.01M282.5,556.83h0.01M265.52,609.78h0.01M267.04,629.35h0.01M284.76,626.24h0.01M274.23,570.85h0.01M301.94,612.37h0.01M246.85,619.72h0.01M274.3,602.07h0.01M261.55,551.42h0.01M262.18,610.26h0.01M298.05,605.52h0.01M268.61,638.4h0.01M264.51,618.25h0.01M284.32,616.1h0.01M269.62,583.61h0.01M289.28,604.45h0.01M262.89,560.65h0.01M269.21,585.02h0.01M299.65,617.63h0.01M269.58,613.03h0.01M271.02,614.34h0.01M304.32,582.03h0.01M304.33,585.98h0.01M288.61,574.38h0.01M298.45,603.62h0.01M289.31,575.85h0.01M264.27,615.46h0.01M303.42,597.94h0.01M255.78,628.38h0.01M262.51,591.26h0.01M255.52,610.55h0.01M278.92,618.37h0.01M291.92,605.91h0.01M286.7,562.88h0.01M287.89,562.5h0.01M282.93,627.28h0.01M297.27,613.91h0.01M288.9,603.69h0.01M303.44,575.62h0.01M300.2,602.74h0.01M238.73,562.44h0.01M283.06,632.13h0.01M305.28,588.05h0.01M265.18,579.36h0.01M261.43,614.02h0.01M292.42,575.58h0.01M255.03,635.54h0.01M291.34,634.98h0.01M285.43,573.91h0.01M263.88,620.24h0.01M258.41,613.12h0.01M287.89,573.19h0.01M297.7,602.22h0.01M249.27,635.43h0.01M225.91,611.22h0.01M250.8,630.34h0.01M261.65,612.57h0.01M286.78,613.93h0.01M270.71,565.93h0.01M273.13,592.17h0.01M300.48,588.09h0.01M249.9,596.39h0.01M291.73,559.08h0.01M301.91,603.3h0.01M277.72,610.97h0.01M255.11,611.76h0.01M290.33,563.53h0.01M294.03,563.72h0.01M303.1,569.17h0.01M290.91,573.04h0.01M297.55,573.41h0.01M262.42,566.87h0.01M291.16,612.64h0.01M286.17,589.98h0.01M287.1,612.19h0.01M275.49,591.48h0.01M294.47,578.29h0.01M263.43,605.05h0.01M296.07,580.78h0.01M272.07,584.63h0.01M292.89,596.97h0.01M267.68,634.72h0.01M243.95,630.05h0.01M282.73,561.66h0.01M290.41,585.5h0.01M264.22,617.42h0.01M236.53,624.7h0.01M287.75,585.54h0.01M251.28,614.34h0.01M244.91,616.29h0.01M291.47,626.44h0.01M273.25,569.54h0.01M303.09,593.78h0.01M235.42,599.73h0.01M238.61,611.65h0.01M237.14,629.64h0.01M283.24,629.13h0.01M256.15,631.55h0.01M294.89,582.53h0.01M273.72,617.85h0.01M276.19,639.51h0.01M267.03,587.03h0.01M299.91,623.32h0.01M254.69,637.04h0.01M279.6,603.45h0.01M261.27,585.54h0.01M249.09,631.84h0.01M301.24,620.12h0.01M242.52,597.04h0.01M285.44,610.27h0.01M306.63,585.27h0.01M300.72,567.25h0.01M304.28,591.04h0.01M283.14,600.05h0.01M302.1,585.25h0.01M301.29,589.93h0.01M251.64,632.58h0.01M261.34,569.45h0.01M286,620.55h0.01M253.87,616.52h0.01M298.71,588.61h0.01M277.13,613.08h0.01M274.44,603.74h0.01M267.75,634.51h0.01M285.09,589.02h0.01M295.85,601.67h0.01M239.19,629.26h0.01M290.96,594.11h0.01M252.22,624.91h0.01M287.5,576.52h0.01M292.33,608.7h0.01M300.45,589.73h0.01M268.94,612.35h0.01M263.05,593.1h0.01M290.94,597.44h0.01M240.52,593.9h0.01M276.67,597.94h0.01M292.91,616.6h0.01M308.59,597.84h0.01M289.71,587.17h0.01M277.89,588.27h0.01M284.44,563.59h0.01M231.33,625.45h0.01M257.59,617.71h0.01M266.38,624.42h0.01M298.15,586.95h0.01M294.31,571.82h0.01M297.27,627.2h0.01M262.16,570.88h0.01M274.53,596.47h0.01M256.49,621.29h0.01M302,588.18h0.01M286.13,612.4h0.01M306.28,600.52h0.01M282.35,615.61h0.01M274.09,615.77h0.01M269.12,614.29h0.01M293.07,628.58h0.01M292.54,586.1h0.01M281.38,609.92h0.01M275.1,588.11h0.01M250.8,633.08h0.01M270.16,563.14h0.01M248.43,615.42h0.01M293.35,574.68h0.01M298.84,589.19h0.01M290.73,591.81h0.01M264.75,591.19h0.01M274.88,582.02h0.01M280.7,576.91h0.01M297.84,597.12h0.01M290.74,615.36h0.01M302.97,620.44h0.01M276.4,617.02h0.01M305.42,577.89h0.01M266.79,634.67h0.01M262.38,586.85h0.01M282.89,628.94h0.01M292.11,577.31h0.01M252.85,635.76h0.01M302.63,598.78h0.01M302.66,622.34h0.01M287.02,629.07h0.01M302.35,616.79h0.01M293.89,579.25h0.01M305.21,571.09h0.01M270.35,629.4h0.01M255.26,636.57h0.01M262.43,638.84h0.01M285.63,612.13h0.01M296,574.92h0.01M300.2,614.66h0.01M246.91,594.89h0.01M288.37,624.6h0.01M253.65,635.6h0.01M288.83,635.06h0.01M277.02,637.59h0.01M256.37,583.35h0.01M294.28,622.17h0.01M286.92,564.86h0.01M296.46,572.02h0.01M273.06,601.49h0.01M261.92,635.9h0.01M258.32,626.11h0.01M303.55,598.89h0.01M286.01,613.69h0.01M244.73,621.87h0.01M308.36,580.6h0.01M240.71,626.74h0.01M294.01,580.66h0.01M292.61,566.5h0.01M281.67,594.43h0.01M265.32,601.09h0.01M304.55,600.44h0.01M290.87,562.5h0.01M304.3,567.84h0.01M270.54,630.75h0.01M298.37,612.59h0.01M301.71,565.5h0.01M287.36,606.59h0.01M264.1,618.21h0.01M281.6,622.26h0.01M289.53,620.45h0.01M275.3,592.95h0.01M268.52,620.58h0.01M284.31,565.74h0.01M285.61,627.05h0.01M282.42,583.63h0.01M263.61,625.68h0.01M292.76,566.4h0.01M298.9,603.95h0.01M270.61,599.95h0.01M287.68,601.01h0.01M261.71,637.76h0.01M298.9,563.57h0.01M299.58,576.06h0.01M306.85,579.51h0.01M276.44,577.65h0.01M281.95,558.87h0.01M302.21,569.74h0.01" stroke="#5563c7" stroke-width="1.5" stroke-linecap="round" fill="none" opacity="1"/>
<path d="M252.75,581.88h0.01M269.92,598.44h0.01M226.31,582.77h0.01M280.18,590.75h0.01M257.82,565.98h0.01M255.41,590.01h0.01M209.62,602.81h0.01M253.17,583.05h0.01M215.78,580.99h0.01M262.39,556.14h0.01M275.25,583.64h0.01M225.19,599.91h0.01M227.99,605.09h0.01M234.2,596.93h0.01M232.16,586.86h0.01M229.56,611.16h0.01M275.58,597.1h0.01M235.35,588.12h0.01M230.21,617.85h0.01M213.29,600.91h0.01M245.92,581.39h0.01M233.33,601.99h0.01M218.59,588.25h0.01M258.18,607.19h0.01M208.08,592.11h0.01M261.81,550.85h0.01M255.03,590.39h0.01M237.22,621.68h0.01M242.65,589.98h0.01M229.54,603.9h0.01M240.89,561.15h0.01M211.51,604.4h0.01M207.36,604.1h0.01M244.07,596.27h0.01M215.93,591.84h0.01M228.25,622.6h0.01M263.7,598.79h0.01M239.77,611.81h0.01M237.13,609.62h0.01M224.78,614.33h0.01M258.06,584.93h0.01M233.52,622.47h0.01M222.52,612.7h0.01M254.82,610.88h0.01M253.67,560.52h0.01M229.82,595.54h0.01M223.52,596.26h0.01M262.69,567.52h0.01M221.92,591.84h0.01M242.14,581.2h0.01M253.49,615.69h0.01M263.88,560.7h0.01M233.83,574.97h0.01M219.33,608.25h0.01M237.49,571.51h0.01M240.7,561.3h0.01M263.83,580.6h0.01M246.65,562.58h0.01M223.91,590.03h0.01M241.24,612.8h0.01M227.31,575.28h0.01M235.02,574.31h0.01M243.12,621.37h0.01M226.46,612.03h0.01M258.06,599.77h0.01M240.74,570.65h0.01M217.18,589.88h0.01M256.96,607.52h0.01M277.69,555.6h0.01M211.98,598.3h0.01M254.76,586.29h0.01M270.31,568.81h0.01M228.58,616.59h0.01M208.49,589.73h0.01M223.19,572.22h0.01M216.25,596.61h0.01M218.73,604.98h0.01M245.21,614.53h0.01M220.18,600.33h0.01M275.03,587.63h0.01M253.18,553.91h0.01M268.76,604.65h0.01M282.91,580.78h0.01M256.08,560.9h0.01M235.82,583.83h0.01M216.71,611.06h0.01M239.13,618.29h0.01M234.63,594.08h0.01M255.51,593.15h0.01M247.04,561.79h0.01M214.94,595.58h0.01M235.53,593.09h0.01M265.28,576.82h0.01M242.17,609.87h0.01M240.4,598.1h0.01M217.73,610.72h0.01M223.58,582.2h0.01M263.22,596.12h0.01M234.31,567.36h0.01M228.81,592.26h0.01M243.66,589.42h0.01M203.92,595.9h0.01M247.91,560.74h0.01M256.86,586.51h0.01M246.6,592.86h0.01M231.9,584.9h0.01M280.06,554.18h0.01M240.44,606.39h0.01M259.99,573.81h0.01M229.33,590.1h0.01M258.96,579.17h0.01M254.88,566.5h0.01M220.62,585.79h0.01M232.5,619.14h0.01M231.82,605.33h0.01M280.35,558.23h0.01M276.85,596.3h0.01M290.41,589.49h0.01M217.04,613.31h0.01M273.97,557.83h0.01M241.66,568.66h0.01M253.08,597.28h0.01M260.18,577.83h0.01M229.96,607.23h0.01M263.19,554.94h0.01M239.29,603.37h0.01M211.65,585.26h0.01M214.41,595.75h0.01M264.51,572.59h0.01M232.67,626.78h0.01M245.69,570.18h0.01M230.65,601.07h0.01M215.37,610.75h0.01M279.67,568.32h0.01M264.75,572.05h0.01M258.76,598.22h0.01M267.13,550.92h0.01M280.5,570.9h0.01M241.15,599.1h0.01M241.7,566.15h0.01M282.87,568.06h0.01M226.56,604.27h0.01M255.56,590.71h0.01M231.02,589.62h0.01M283.53,556.73h0.01M250.17,570.91h0.01M279.91,553.32h0.01M265.21,553.73h0.01M250.34,589.77h0.01M277.89,554.65h0.01M254.48,586.83h0.01M231.9,619.54h0.01M204.51,595.46h0.01M250.9,579.38h0.01M262.02,575.82h0.01M206.37,589.99h0.01M285.32,587.72h0.01M214.88,603.4h0.01M220.36,588.06h0.01M245.21,598.17h0.01M273.23,553.23h0.01M228.46,603.05h0.01M249.69,621.3h0.01M275.68,602.44h0.01M248.47,598.91h0.01M244.07,615.33h0.01M237.93,603.07h0.01M218.49,600.58h0.01M243.26,600.85h0.01M247.24,564.49h0.01M272.15,565.82h0.01M278.15,565.18h0.01M265.59,572.02h0.01M269.95,561.59h0.01M233.7,593.33h0.01M227.38,593.53h0.01M256.55,597.68h0.01M228.91,570.17h0.01M208.98,591.4h0.01M230.39,584.4h0.01M252.48,553.89h0.01M232.49,598.96h0.01M220.84,581.58h0.01M241.36,583.8h0.01M256.79,551.47h0.01M224.99,578.11h0.01M260.5,592.92h0.01M227.08,621.44h0.01M248.09,630.35h0.01M236.21,608.88h0.01M275.97,592.98h0.01M242.7,571.46h0.01M271.65,559.31h0.01M267.35,552.91h0.01M240.58,614.77h0.01M261.96,571.12h0.01M239.37,616.71h0.01M225.95,595.71h0.01M273.98,557.6h0.01M255.95,557.73h0.01M223.98,577.8h0.01M249.73,597.25h0.01M243.51,588.79h0.01M230.19,605.49h0.01M221.82,580.62h0.01M278.41,561.35h0.01M216.85,583.26h0.01M243.28,572.6h0.01M261.58,602.91h0.01M245.85,604.57h0.01M211.49,581.85h0.01M228.24,589.55h0.01M228.82,600.98h0.01M251.25,600.6h0.01M268.04,602.77h0.01M207.21,592.6h0.01M249.69,575.19h0.01M233.64,605.69h0.01M213.5,612.95h0.01M226.55,604.23h0.01M230.72,612.85h0.01M248.3,605.68h0.01M238.47,572.47h0.01M243.14,558.45h0.01M238.57,578.62h0.01M218.97,601.95h0.01M237.69,579.79h0.01M222.25,604.55h0.01M237.31,614.56h0.01M288.39,593.1h0.01M268.79,565.01h0.01M218.72,579.24h0.01M232.69,577.78h0.01M244.33,563.63h0.01M230.9,605.07h0.01M207.43,586.25h0.01M243.94,583.75h0.01M241.61,587.2h0.01M253.83,613.85h0.01M265.09,583.05h0.01M253.19,556.87h0.01M218.72,600.84h0.01M236.5,595.31h0.01M262.11,590.09h0.01M212.03,606.77h0.01M256.64,574.76h0.01M229.44,620.09h0.01M276.57,578.38h0.01M240.27,589.39h0.01M254.05,602.22h0.01M239.31,578.02h0.01M257.82,594.7h0.01M210.34,591.97h0.01M259.17,552.04h0.01M252.53,626.44h0.01M267.72,619.37h0.01M274.4,588h0.01M242.6,631.82h0.01M222.25,583.7h0.01M239.43,594h0.01M246.59,604.64h0.01M266.42,566.68h0.01M220.52,600.07h0.01M227.29,588.74h0.01M221.12,601.2h0.01M262.07,556.79h0.01M233.2,609.73h0.01M243.01,620.24h0.01M223.75,603h0.01M236.9,603.1h0.01M220.47,614.93h0.01M237.89,572.07h0.01M261.86,554.88h0.01M254.25,605.86h0.01M225.97,598.88h0.01M215.96,598.61h0.01M262.46,550.77h0.01M238.97,619.99h0.01M222.22,604.76h0.01M271.05,585.97h0.01M265,572.54h0.01M215.51,609.86h0.01M236.43,577.7h0.01M215.13,589.69h0.01M264.29,574.37h0.01M239.13,605.96h0.01M244.03,590.8h0.01M251.13,598.71h0.01M254.04,554.39h0.01M246.41,591.34h0.01M225.82,606.22h0.01M258,567.08h0.01M238.68,586.98h0.01M223.14,591.31h0.01M237.75,630.32h0.01M246.44,577.99h0.01M237.9,567.73h0.01M259.56,594.03h0.01M248.49,558.96h0.01M208.92,597.77h0.01M244.24,580.36h0.01M210.58,586.75h0.01M263.1,574.77h0.01M276.54,565.11h0.01M276.71,560.09h0.01M246.36,597.02h0.01M232.69,599.58h0.01M240.19,582.39h0.01M264.71,570.07h0.01M261.03,569.4h0.01M252.71,553.29h0.01M235.85,570.13h0.01M219.81,616.87h0.01M255.1,610.73h0.01M215.62,604.34h0.01M270.27,565.06h0.01M214.34,608.22h0.01M220.77,594.23h0.01M213.76,601.24h0.01M262.64,605.71h0.01M230.18,577.54h0.01M248.5,586.92h0.01M238.59,564.52h0.01M239.07,586.1h0.01M212.67,579.99h0.01M224.47,591.65h0.01M237.83,563.51h0.01M244.77,557.86h0.01M228.86,616.77h0.01M253.37,624.32h0.01M222.42,589.87h0.01M216.58,595.59h0.01M223.52,580.47h0.01M235.11,573.4h0.01M235.16,586.64h0.01M254.98,619.08h0.01M261.76,575.34h0.01M229.41,582.21h0.01M237.88,565.23h0.01M226.37,595.38h0.01M231.24,584.18h0.01M220.97,607.23h0.01M265.66,610.85h0.01M232.36,617.42h0.01M217.85,589.22h0.01M230.82,596.67h0.01M231.33,587.31h0.01M238.69,616.92h0.01M250.42,556.85h0.01M254.69,595.27h0.01M251.72,586.25h0.01M240.6,625.94h0.01M239.62,577.02h0.01M239.63,563.52h0.01M263.78,549.32h0.01M238,598.99h0.01M224.99,587.83h0.01M214.98,592.69h0.01M221.7,584.23h0.01M212.5,589.9h0.01M234.12,597.28h0.01M252.49,594.53h0.01M263.55,575.72h0.01M209.96,604.4h0.01M249.37,578.36h0.01M257.58,581.33h0.01M212.67,583.01h0.01M271.08,562.26h0.01M278.87,563.89h0.01M251.7,587.47h0.01M209.76,588.47h0.01M222.64,610.85h0.01M262.84,576.15h0.01M231.87,611.84h0.01M251.73,628.51h0.01M223.1,608.66h0.01M280.97,559.88h0.01M232.15,587.31h0.01M282.01,590.19h0.01M208.43,593.69h0.01M231.3,584.35h0.01M247.31,603.97h0.01M224.86,585.54h0.01M237.11,566.55h0.01M269.25,552.56h0.01M265.01,604.27h0.01M234.81,593.75h0.01M249.39,581.94h0.01M223.02,613.15h0.01M212.59,606.85h0.01M256.59,557.61h0.01M227.08,608.19h0.01M224.16,579.3h0.01M276.91,558.32h0.01M279.47,605.84h0.01M271.37,619.08h0.01M220.11,595.65h0.01M259.36,602.29h0.01M226.08,582.36h0.01M244.87,598.59h0.01M227.24,569.25h0.01M224.05,582.69h0.01M239.76,582.78h0.01M250.77,575.63h0.01M284.46,568.65h0.01M245.83,580.63h0.01M209.82,582.56h0.01M237.45,617.45h0.01M215.15,609.45h0.01M264.95,587.05h0.01M230.44,605.92h0.01M259.68,615.34h0.01M237.2,617.79h0.01M228.31,583.09h0.01M217.03,587.74h0.01M283.43,584.98h0.01M259.51,558.84h0.01M257.3,593.82h0.01M277.71,582.94h0.01M241.93,572.91h0.01M241.92,570.96h0.01M254.2,578.85h0.01M244.63,590.9h0.01M236.76,577.71h0.01M204.41,599.93h0.01M249.38,559.64h0.01M225.73,570.72h0.01M208.42,588.84h0.01M241.85,569.31h0.01M215.01,591.62h0.01M233.75,594.48h0.01M230.82,573.84h0.01M248.72,573.77h0.01M241.36,568.45h0.01M255.94,562.89h0.01M208.47,585.44h0.01M243.54,572.25h0.01M273.89,560.47h0.01M214.75,593.13h0.01M248.29,598.82h0.01M265.63,549.5h0.01M228.9,597.82h0.01M251.66,582.38h0.01M261.52,566.1h0.01M207.01,588.53h0.01M207.86,593.1h0.01M230.73,601.92h0.01M222.34,577.73h0.01M285.81,553.41h0.01M231.9,607.04h0.01M274.11,572.17h0.01M244.16,591.19h0.01M276.31,564.4h0.01M292.32,603.37h0.01M236.21,572.64h0.01M255.34,597.22h0.01M224.23,594.78h0.01M285.15,589.4h0.01M243.35,589.17h0.01M214.5,599.68h0.01M246.58,566.95h0.01M238.3,609.64h0.01M228.93,576.82h0.01M261.51,586.89h0.01M265.95,551.21h0.01M255.83,603.84h0.01M238.82,614.84h0.01M226.97,600.67h0.01M250.94,601.87h0.01M242.81,592.16h0.01M237.42,574.88h0.01M256.37,551.2h0.01M226.8,590.81h0.01M239.98,580.51h0.01M232.66,604.32h0.01M259.23,567.09h0.01M239.37,566.76h0.01M245.37,595.98h0.01M267.68,555.75h0.01M243.76,580.5h0.01M242.93,602.78h0.01M259.93,556.43h0.01M260.24,558.97h0.01M265.89,564.39h0.01M243.55,572.73h0.01M250.09,562.43h0.01M234.83,565.76h0.01M228.07,568.05h0.01M247.63,559.15h0.01M212.01,582.74h0.01M259.11,560.9h0.01M222.81,596.83h0.01M238.43,582.37h0.01M239.79,573.95h0.01M285.2,566.89h0.01M235.31,563.4h0.01M244.4,569.89h0.01M218.09,608.19h0.01M234.27,586.59h0.01M229.05,584.73h0.01M208.24,605.62h0.01M218.75,614.39h0.01M235.58,584.72h0.01M258.15,553.73h0.01M266.85,565.24h0.01M223.06,586.58h0.01M253.94,569.97h0.01M264.96,549.39h0.01M284.71,579.93h0.01M255.72,594.61h0.01M231.72,572.98h0.01M249.8,561.64h0.01M231.63,616.28h0.01M254.56,593.24h0.01M264.48,559.61h0.01M204.09,595.16h0.01M208.77,598.07h0.01M275.59,558.29h0.01M208.09,590.87h0.01M237.55,576.43h0.01M236.38,581.89h0.01M256.43,596.67h0.01M257,596.88h0.01M229.5,595.45h0.01M219.09,589.39h0.01M256.1,560.32h0.01M256.83,563.04h0.01M223.89,609.53h0.01M241.29,575.96h0.01M217.82,590.69h0.01M219.81,599.67h0.01M249.23,568.41h0.01M220.74,579.36h0.01M249.43,603.42h0.01M240.78,569.52h0.01M250.03,574.32h0.01M222.62,576.07h0.01M219.44,615.94h0.01M244.97,622.95h0.01M261.31,571.49h0.01M220.56,576.34h0.01M223.25,610.11h0.01M237.21,579.71h0.01M215.61,595.71h0.01M245.41,603.09h0.01M215.08,587.74h0.01M206.54,591.85h0.01M247.22,579.62h0.01M245.76,606.53h0.01M221.86,614.47h0.01M248.66,590.85h0.01M233.23,614.73h0.01M224.04,575.76h0.01M223.45,598.39h0.01M254.25,573.28h0.01M211.16,590.35h0.01M253.74,560.28h0.01M229.38,567.44h0.01M236.55,575.3h0.01M270.02,578.97h0.01M228.57,620.71h0.01M264.22,564.24h0.01M246.09,585.63h0.01M214.69,595.68h0.01" stroke="#f07a2a" stroke-width="1.5" stroke-linecap="round" fill="none" opacity="1"/>
<path d="M291.16,614.02h0.01M280.96,587.42h0.01M243.22,608.96h0.01M277.77,572.22h0.01M272.43,552.14h0.01M212.7,581.52h0.01M254.63,605.12h0.01M292.87,611.45h0.01M217.13,589.38h0.01M229.82,573.26h0.01M280.23,624.05h0.01M290.11,618.9h0.01M255.35,619.67h0.01M281.74,634.87h0.01M274.16,597.52h0.01M268.47,549.14h0.01M232.86,618.32h0.01M213.42,596.42h0.01M279.99,631.68h0.01M258.96,618.04h0.01M225.37,606.83h0.01M283.79,577.04h0.01M257.17,633.83h0.01M299.95,594.59h0.01M303.73,620.5h0.01M289.17,625.21h0.01M251.29,569.81h0.01M256.91,577.29h0.01M220.6,574.15h0.01M276.14,605.42h0.01M298.08,582.97h0.01M252.55,564.73h0.01M280.13,620.86h0.01M288.66,596.1h0.01M264.1,563.18h0.01M222.4,613.71h0.01M223.81,582.91h0.01M244.3,602.88h0.01M300.98,582.34h0.01M230.27,573.55h0.01M237.56,592.32h0.01M205.39,596.13h0.01M248.49,612.82h0.01M278.46,589.62h0.01M291.31,567.72h0.01M257.77,579.55h0.01M294.61,610.66h0.01M290.96,556.63h0.01M293.93,574.24h0.01M264.39,551.45h0.01M273.49,602.02h0.01M262.3,630.88h0.01M252.14,574.22h0.01M281.15,570.75h0.01M228.43,602.8h0.01M251.9,589.35h0.01M278.91,557.34h0.01M269.14,556.58h0.01M259.45,557.78h0.01M292.02,587.29h0.01M238.05,607.78h0.01M292.91,604.71h0.01M248.07,621.32h0.01M296.47,617.47h0.01M239.25,606.53h0.01M293.52,613.51h0.01M274.46,631.28h0.01M274.69,594.52h0.01M277.43,566.76h0.01M276.33,589.47h0.01M210.51,587.63h0.01M266.72,610.38h0.01M214.93,597.7h0.01M230.72,619.4h0.01M299.17,574.95h0.01M271.12,613.25h0.01M299.34,598.34h0.01M228,594.63h0.01M275.4,613.72h0.01M230.71,577.5h0.01M219.99,578.75h0.01M304.99,606.49h0.01M292.6,609.39h0.01M257.82,577.94h0.01M272.42,637.43h0.01M283.1,563.95h0.01M293.97,627.74h0.01M233.62,602.53h0.01M218.73,584.5h0.01M272.83,607.42h0.01M256.8,615.73h0.01M258.21,588.91h0.01M291.32,585.04h0.01M284.23,608.47h0.01M226.12,578.8h0.01M251.44,602.23h0.01M249.31,595.08h0.01M250.07,594.93h0.01M295.62,559.81h0.01M274.4,588.93h0.01M247.22,634.17h0.01M250.29,578.8h0.01M248.84,629.67h0.01M302.58,576.19h0.01M249.25,581.72h0.01M298.85,585.39h0.01M275.02,600.39h0.01M229.78,588.75h0.01M278.38,621.37h0.01M258.49,581.99h0.01M213.62,609.05h0.01M284.26,553.8h0.01M299.5,573.77h0.01M284.98,593.62h0.01M251.15,583.67h0.01M275.89,631.72h0.01M208.29,583.02h0.01M276.86,619.72h0.01M260.86,581.9h0.01M267.25,592.28h0.01M264.89,552.01h0.01M269.08,615.23h0.01M248.25,562.5h0.01M246.86,564.59h0.01M271.58,624.31h0.01M262.93,592.25h0.01M256.84,572.14h0.01M275.17,628.57h0.01M286.65,610.89h0.01M233.02,610.47h0.01M294.64,570.96h0.01M227.01,620.94h0.01M273.61,559.34h0.01M237.32,581.69h0.01M246.28,609.31h0.01M228.67,579.35h0.01M292.25,610.78h0.01M275.61,600.09h0.01M295.12,625.58h0.01M276.2,634.48h0.01M223.52,608.24h0.01M225.53,588.88h0.01M229.48,569.35h0.01M211.92,584.75h0.01M267.94,599.68h0.01M220.15,601.53h0.01M277.85,585.79h0.01M293,634.62h0.01M226.06,596.32h0.01M242.21,604.72h0.01M239.91,625.46h0.01M284.62,554.02h0.01M282.5,563.7h0.01M291.44,562.14h0.01M222.96,606.13h0.01M220.41,573.38h0.01M239.37,596.76h0.01M270.22,571.92h0.01M303.86,614.05h0.01M304.16,581.48h0.01M241.59,562.36h0.01M226.63,617.88h0.01M280.6,554.31h0.01M292.94,607.32h0.01M273.83,583.04h0.01M292.25,572.87h0.01M286.32,567.57h0.01M218.1,606.24h0.01M233.46,616.59h0.01M268.43,556.4h0.01M239.61,610.19h0.01M228.92,579.08h0.01M301.25,587.6h0.01M233.87,620.48h0.01M305.93,572.05h0.01M238.93,561.29h0.01M297.43,579.33h0.01M283.15,583.79h0.01M276.19,552.09h0.01M256.36,554.28h0.01M264.3,574.72h0.01M273.62,625.66h0.01M206.63,605.23h0.01M227.48,598.86h0.01M295.98,584.23h0.01M227.88,622.96h0.01M267.65,626.58h0.01M255.58,553.97h0.01M237.54,582.95h0.01M250.87,624.61h0.01M249.3,587.34h0.01M263.58,631.68h0.01M271.48,630.64h0.01M260.58,578.6h0.01M208.85,607.17h0.01M247.45,579.89h0.01M221.07,604.43h0.01M280.41,578.47h0.01M250.8,597.1h0.01M213.79,592.91h0.01M283.51,561.3h0.01M279.29,591.43h0.01M293.44,618.85h0.01M295.56,573.75h0.01M233.13,576.35h0.01M248.4,562.47h0.01M238.86,568.51h0.01M238.99,620.15h0.01M309.18,592.25h0.01M263.25,575.64h0.01M248.51,586.07h0.01M208.31,591.72h0.01M219.38,590.29h0.01M282.82,592.3h0.01M289.39,589.78h0.01M268.6,634.72h0.01M278.81,582.85h0.01M269.9,618.93h0.01M246.91,626.78h0.01M276,639.41h0.01M295.18,594.9h0.01M247.16,573.49h0.01M218.4,604.83h0.01M294.26,632.67h0.01M272.87,610.28h0.01M276.01,626.31h0.01M274.26,600.27h0.01M252.78,589.13h0.01M294.67,632.15h0.01M283.67,559.45h0.01M272.53,551.32h0.01M284.88,556.66h0.01M292.56,634.48h0.01M261.71,599.7h0.01M238.02,602.16h0.01M256.41,631.29h0.01M253.84,629.28h0.01M277.26,603.58h0.01M266.16,549.22h0.01M271.55,637.88h0.01M223.26,616.44h0.01M275.47,558.32h0.01M279.22,598h0.01M281.51,610.01h0.01M217.05,609.07h0.01M289.44,618.12h0.01M303.26,576.97h0.01M306.85,581.8h0.01M244.75,614.72h0.01M233.68,565.13h0.01M287.87,634.72h0.01M240.87,581.84h0.01M227.81,593.57h0.01M298.38,620.15h0.01M284.55,576.68h0.01M280.56,624.52h0.01M244.08,567.35h0.01M286.85,577.53h0.01M255.94,600.1h0.01M283.4,562.12h0.01M219.3,616.29h0.01M241.7,607.22h0.01M290.54,611.38h0.01M252.41,586.89h0.01M235.98,572.39h0.01M214.68,581.59h0.01M307.64,581.52h0.01M252.91,611.58h0.01M275.12,577.14h0.01M274.87,573.37h0.01M242.95,625h0.01M274.73,580.54h0.01M289.95,607.94h0.01M303.89,591.96h0.01M290.29,613.15h0.01M228.77,597.97h0.01M287.61,559.67h0.01M211.96,581.88h0.01M212.94,612.08h0.01M251.57,593.2h0.01M302.3,604.05h0.01M299.54,566.64h0.01M277.07,567.29h0.01M269.24,598.37h0.01M261.47,591.7h0.01M272.78,618.79h0.01M302.07,605.52h0.01M302.96,610.78h0.01M254.42,579.26h0.01M211.7,581.72h0.01M238.45,589.56h0.01M261.75,563.97h0.01M307.53,580.14h0.01M301.85,588.31h0.01M242.79,595.01h0.01M262.41,553.8h0.01M284.69,635.92h0.01M262.86,554.87h0.01M204.87,590.82h0.01M293.73,589.35h0.01M232.39,596.63h0.01M268.63,573.55h0.01M215.3,601.5h0.01M251.73,622.95h0.01M226.01,609.37h0.01M245.31,572.99h0.01M265.42,626.21h0.01M273.07,562.97h0.01M297.49,608.67h0.01M289.7,576.15h0.01M277.37,604.68h0.01M251.82,587.39h0.01M268.67,623.61h0.01M241.99,599.06h0.01M251.08,621.13h0.01M257.98,577.41h0.01M210.64,601.44h0.01M222.92,610.03h0.01M230.7,586.48h0.01M269.59,604.97h0.01M272.48,584.92h0.01M257.56,557.09h0.01M231.34,624.48h0.01M244.38,562.9h0.01M260.66,590.85h0.01M292.7,558.85h0.01M217.03,595.43h0.01M242.64,566.27h0.01M264.73,627.42h0.01M291.8,561.1h0.01M299.49,572.44h0.01M237.19,599.36h0.01M269.9,548.91h0.01M255.68,584.35h0.01M266.69,624.47h0.01M283.19,571.38h0.01M294.5,622.32h0.01M303.58,577.01h0.01M269.38,569.75h0.01M252.54,617.18h0.01M219.35,575.13h0.01M291.17,573.3h0.01M294.33,565h0.01M283.88,579.56h0.01M273.11,571.41h0.01M261.46,591.97h0.01M214.99,605.92h0.01M209.77,581.75h0.01M286.23,588.7h0.01M281.35,607.27h0.01M227.79,600.3h0.01M293.79,618.45h0.01M291.34,619.81h0.01M280.88,561.6h0.01M290.74,583.4h0.01M259.03,613.59h0.01M271.85,638.38h0.01M251.78,565.1h0.01M219.4,580.87h0.01M263.35,626.55h0.01M251.95,607.45h0.01M252.84,621.35h0.01M251.53,554.12h0.01M304.66,574.37h0.01M215.47,594.67h0.01M275.15,610.79h0.01M231.97,580.95h0.01M301.74,579.31h0.01M292.5,616.08h0.01M279.11,584.96h0.01M276.88,625.97h0.01M298.32,581.29h0.01M257.34,611.44h0.01M262.46,604.75h0.01M296.74,624.44h0.01M246.82,633.47h0.01M291.35,564.35h0.01M219.82,593.37h0.01M240.43,588.72h0.01M269.13,630.22h0.01M261.45,574.31h0.01M283.33,632.95h0.01M261.72,631.42h0.01M292.69,567.21h0.01M240.2,604.98h0.01M281.73,635.06h0.01M237.71,618.62h0.01M250.33,584.44h0.01M246.3,588.25h0.01M277.46,555.19h0.01M288.83,608.33h0.01M211.31,602.98h0.01M211.65,579.89h0.01M261.66,611.06h0.01M302.7,613.04h0.01M272.25,625.83h0.01M262.7,557.57h0.01M259.28,551.78h0.01M247.79,611.9h0.01M274.55,615.3h0.01M233.91,595.29h0.01M273.59,635.19h0.01M221.24,584.68h0.01M274.73,610.35h0.01M265.89,573.13h0.01M234.49,570.78h0.01M299.7,581.07h0.01M300.58,564.22h0.01M264.22,559.64h0.01M247.21,562.92h0.01M210.74,595.89h0.01M225,615.58h0.01M291.92,601.84h0.01M221.87,584.11h0.01M249.17,622.25h0.01M239.59,568.98h0.01M283.34,604.18h0.01M283.64,625.89h0.01M242.47,611.11h0.01M213.24,584.39h0.01M247.81,619.99h0.01M244.95,624.76h0.01M216.63,576.58h0.01M278.29,586.38h0.01M244.96,604.65h0.01M213.6,586.58h0.01M226.08,585.42h0.01M305.25,588.99h0.01M281.12,606h0.01M269.25,572.55h0.01M236.27,577.66h0.01M246.4,584.59h0.01M248.98,609.96h0.01M249.15,594.41h0.01M282.35,622.73h0.01M244.55,587.89h0.01M290.16,621.61h0.01M282.45,567.85h0.01M267.79,555.44h0.01M260.18,610.46h0.01M257.51,601.82h0.01M225.63,601.32h0.01M284.29,583.35h0.01M228.98,619.21h0.01M283.09,625.05h0.01M255.76,586.14h0.01M217.93,602.05h0.01M269.62,575.22h0.01M283.39,570.15h0.01M222.44,580.16h0.01M259.83,605.27h0.01M270.09,623.13h0.01M250.59,564.17h0.01M297.78,586.58h0.01M266.36,607.16h0.01M222.36,600.58h0.01M242.07,608.13h0.01M284.79,585.6h0.01M228.7,569.67h0.01M288.25,617.46h0.01M211.51,584.99h0.01M305.19,569.82h0.01M272.9,615.96h0.01M280.6,559.69h0.01M283.82,557.17h0.01M291.78,601.86h0.01M279.09,573.66h0.01M282.2,580.76h0.01M258.01,553h0.01M268.55,577.29h0.01M218.82,615.11h0.01M211.68,583.03h0.01M289.59,576.11h0.01M274.29,554.49h0.01M270.52,603.51h0.01M254.69,615.57h0.01M290.91,606.56h0.01M290.51,627.37h0.01M283.31,616.35h0.01M244.22,560.54h0.01M209.79,585.64h0.01M255.11,599.89h0.01M223.24,594.01h0.01M261.56,619.02h0.01M255.2,621.74h0.01M272.86,594.98h0.01M286.73,631.4h0.01M276.83,565.95h0.01M301.7,585.84h0.01M232.66,613.18h0.01M262.33,585.36h0.01M218.09,610.68h0.01M267.86,571.2h0.01M248.25,617.49h0.01M256.12,576.46h0.01M261.38,613.62h0.01M273.14,564.08h0.01M301.81,579.57h0.01M290.27,613.2h0.01M248.31,569.24h0.01" stroke="#fff" stroke-width="0.9" stroke-linecap="round" fill="none" opacity="0.8"/>
<path d="M219.49,594.08h0.01M206.03,592.01h0.01M204.58,598.87h0.01M217.49,594.29h0.01M217.59,600.72h0.01M209.96,586.45h0.01M215.28,585.14h0.01M213.62,595.6h0.01M221,599.09h0.01M220.26,598.67h0.01M205.47,600.96h0.01M208.69,596.35h0.01M206.88,588.02h0.01M209.85,594.7h0.01M209.54,599.36h0.01M202.96,579.89h0.01M212.49,587.88h0.01M212.27,582.2h0.01M209.4,601.83h0.01M221.45,601.71h0.01M207.29,585.08h0.01M207.4,602.26h0.01M217.79,601.52h0.01M212.59,597.72h0.01M215.71,598.64h0.01M204.32,583.35h0.01M202.4,578.43h0.01M205.83,599.36h0.01M206.51,595.99h0.01M214.7,594.26h0.01M208.94,583.78h0.01" stroke="#22a24a" stroke-width="1.5" stroke-linecap="round" fill="none" opacity="1"/>
<text x="201.2" y="644" font-size="8.2" text-anchor="start" fill="#111" stroke="#111" stroke-width="0.15" >ABM HSC</text>
<text x="294.5" y="644" font-size="8.2" text-anchor="start" fill="#4a70b8" stroke="#4a70b8" stroke-width="0.15" >CD41<tspan font-size="5" dy="-3.3">−</tspan></text>
<text x="201.2" y="547.8" font-size="8.2" text-anchor="start" fill="#f59a45" stroke="#f59a45" stroke-width="0.15" >CD41<tspan font-size="5" dy="-3.3">+</tspan></text>
<line x1="399.2" y1="478.5" x2="399.2" y2="583" stroke="#231f20" stroke-width="1.2" />
<line x1="398.6" y1="582.4" x2="520" y2="582.4" stroke="#231f20" stroke-width="1.2" />
<line x1="396" y1="496.2" x2="399.2" y2="496.2" stroke="#231f20" stroke-width="1" />
<text x="392.4" y="499.4" font-size="8.2" text-anchor="end" fill="#111" textLength="14.5" lengthAdjust="spacingAndGlyphs" stroke="#111" stroke-width="0.05" >MkP</text>
<line x1="396" y1="520.2" x2="399.2" y2="520.2" stroke="#231f20" stroke-width="1" />
<text x="392.4" y="523.4" font-size="8.2" text-anchor="end" fill="#111" textLength="43.4" lengthAdjust="spacingAndGlyphs" stroke="#111" stroke-width="0.05" >ABM CD41<tspan font-size="6" dy="-3.2">+</tspan></text>
<line x1="396" y1="544.4" x2="399.2" y2="544.4" stroke="#231f20" stroke-width="1" />
<text x="392.4" y="547.6" font-size="8.2" text-anchor="end" fill="#111" textLength="43.4" lengthAdjust="spacingAndGlyphs" stroke="#111" stroke-width="0.05" >ABM CD41<tspan font-size="6" dy="-3.2">−</tspan></text>
<line x1="396" y1="568.6" x2="399.2" y2="568.6" stroke="#231f20" stroke-width="1" />
<text x="392.4" y="571.8" font-size="8.2" text-anchor="end" fill="#111" textLength="34.4" lengthAdjust="spacingAndGlyphs" stroke="#111" stroke-width="0.05" >FL CD41<tspan font-size="6" dy="-3.2">−</tspan></text>
<line x1="404.3" y1="582.4" x2="404.3" y2="585" stroke="#231f20" stroke-width="1" />
<text x="404.3" y="595" font-size="8.2" text-anchor="middle" fill="#111" stroke="#111" stroke-width="0.05" >0</text>
<line x1="447" y1="582.4" x2="447" y2="585" stroke="#231f20" stroke-width="1" />
<text x="447" y="595" font-size="8.2" text-anchor="middle" fill="#111" stroke="#111" stroke-width="0.05" >10</text>
<line x1="489.8" y1="582.4" x2="489.8" y2="585" stroke="#231f20" stroke-width="1" />
<text x="489.8" y="595" font-size="8.2" text-anchor="middle" fill="#111" stroke="#111" stroke-width="0.05" >20</text>
<text x="428.5" y="607.3" font-size="9.2" text-anchor="start" fill="#111" font-weight="bold" textLength="60.7" lengthAdjust="spacingAndGlyphs" >Slingshot pseudotime</text>
<rect x="403.65" y="495.5" width="1.3" height="1.4" fill="#3ab54a"/>
<rect x="429.35" y="495.5" width="1.3" height="1.4" fill="#3ab54a"/>
<rect x="432.65" y="495.5" width="1.3" height="1.4" fill="#3ab54a"/>
<rect x="440.15" y="495.5" width="1.3" height="1.4" fill="#3ab54a"/>
<rect x="454.95" y="495.5" width="1.3" height="1.4" fill="#3ab54a"/>
<rect x="463.3" y="495.45" width="12.5" height="1.5" fill="#3ab54a"/>
<path d="M475,496.2 L475,495.4 L476,494 L477,492.2 L477.5,486.4 L478.2,486.4 L478.8,491.2 L479.6,492 L480.4,490 L481.1,491.4 L481.8,489.2 L482.6,491 L483.3,489.8 L484,491.6 L484.6,488.4 L485.3,491.2 L486,490.2 L486.8,492.6 L487.6,493.6 L488.4,494.8 L489,495.6 L489,496.8 L488.4,497.6 L487.6,498.8 L486.8,499.8 L486,502.2 L485.3,501.2 L484.6,504 L484,500.8 L483.3,502.6 L482.6,501.4 L481.8,503.2 L481.1,501 L480.4,502.4 L479.6,500.4 L478.8,501.2 L478.2,506 L477.5,506 L477,500.2 L476,498.4 L475,497 Z" fill="#3ab54a"/>
<rect x="512.3" y="492.5" width="2.2" height="7.4" fill="#3ab54a"/>
<rect x="428.3" y="519.65" width="1" height="1.1" fill="#f7931e"/>
<rect x="433.4" y="519.65" width="1" height="1.1" fill="#f7931e"/>
<rect x="440.2" y="519.65" width="1" height="1.1" fill="#f7931e"/>
<path d="M454.2,520.2 L454.2,519 L454.6,517.6 L457.5,517.4 L458,516 L461,515.8 L461.4,513.7 L463.5,513.5 L464.6,512 L465.3,510.6 L466,512.2 L467.2,514.2 L468.3,515.6 L469.5,517 L470.6,518.5 L471.5,518.8 L487.8,518.8 L488.6,519 L489.1,519.6 L489.1,520.8 L488.6,521.4 L487.8,521.6 L471.5,521.6 L470.6,521.9 L469.5,523.4 L468.3,524.8 L467.2,526.2 L466,528.2 L465.3,529.8 L464.6,528.4 L463.5,526.9 L461.4,526.7 L461,524.6 L458,524.4 L457.5,523 L454.6,522.8 L454.2,521.4 Z" fill="#f7931e"/>
<rect x="512.3" y="519.7" width="2.2" height="1" fill="#f7931e"/>
<rect x="422.35" y="543.8" width="1.3" height="1.2" fill="#1d4f8a"/>
<rect x="424.15" y="543.8" width="1.3" height="1.2" fill="#1d4f8a"/>
<rect x="425.95" y="543.8" width="1.3" height="1.2" fill="#1d4f8a"/>
<rect x="428.95" y="543.8" width="1.3" height="1.2" fill="#1d4f8a"/>
<rect x="431.15" y="543.8" width="1.3" height="1.2" fill="#1d4f8a"/>
<rect x="433.35" y="543.8" width="1.3" height="1.2" fill="#1d4f8a"/>
<rect x="440.05" y="543.8" width="1.3" height="1.2" fill="#1d4f8a"/>
<path d="M454.2,544.4 L454.2,542.9 L454.6,540.9 L455.3,538.9 L456.5,537.4 L457.8,536.2 L458.6,534.4 L459.3,533.6 L460,535.9 L461.5,536.8 L463.5,537.6 L465.5,538.8 L467.2,540.6 L468.5,542.2 L469.5,543.4 L476.2,543.5 L476.4,544 L476.4,544.8 L476.2,545.3 L469.5,545.4 L468.5,546.6 L467.2,548.2 L465.5,550 L463.5,551.2 L461.5,552 L460,552.9 L459.3,555.2 L458.6,554.4 L457.8,552.6 L456.5,551.4 L455.3,549.9 L454.6,547.9 L454.2,545.9 Z" fill="#1d4f8a"/>
<rect x="479.3" y="543.6" width="9.8" height="1.6" fill="#1d4f8a"/>
<rect x="512.3" y="543.7" width="2" height="1.4" fill="#1d4f8a"/>
<rect x="403.15" y="567.9" width="1.3" height="1.4" fill="#cf1b45"/>
<rect x="440.05" y="567.9" width="1.3" height="1.4" fill="#cf1b45"/>
<rect x="480.55" y="567.9" width="1.3" height="1.4" fill="#cf1b45"/>
<rect x="512.65" y="567.9" width="1.3" height="1.4" fill="#cf1b45"/>
<path d="M420.4,568.6 L420.4,563.1 L421.5,562.4 L422.5,562.6 L423.6,561 L424.8,559.8 L425.5,558.8 L426.3,560 L427.3,561.8 L428.5,560.4 L429.5,562.1 L430.5,564 L431.5,565.4 L432.5,564.3 L433.5,566.2 L434.4,568 L434.4,569.2 L433.5,571 L432.5,572.9 L431.5,571.8 L430.5,573.2 L429.5,575.1 L428.5,576.8 L427.3,575.4 L426.3,577.2 L425.5,578.4 L424.8,577.4 L423.6,576.2 L422.5,574.6 L421.5,574.8 L420.4,574.1 Z" fill="#cf1b45"/>
</svg></body></html>
